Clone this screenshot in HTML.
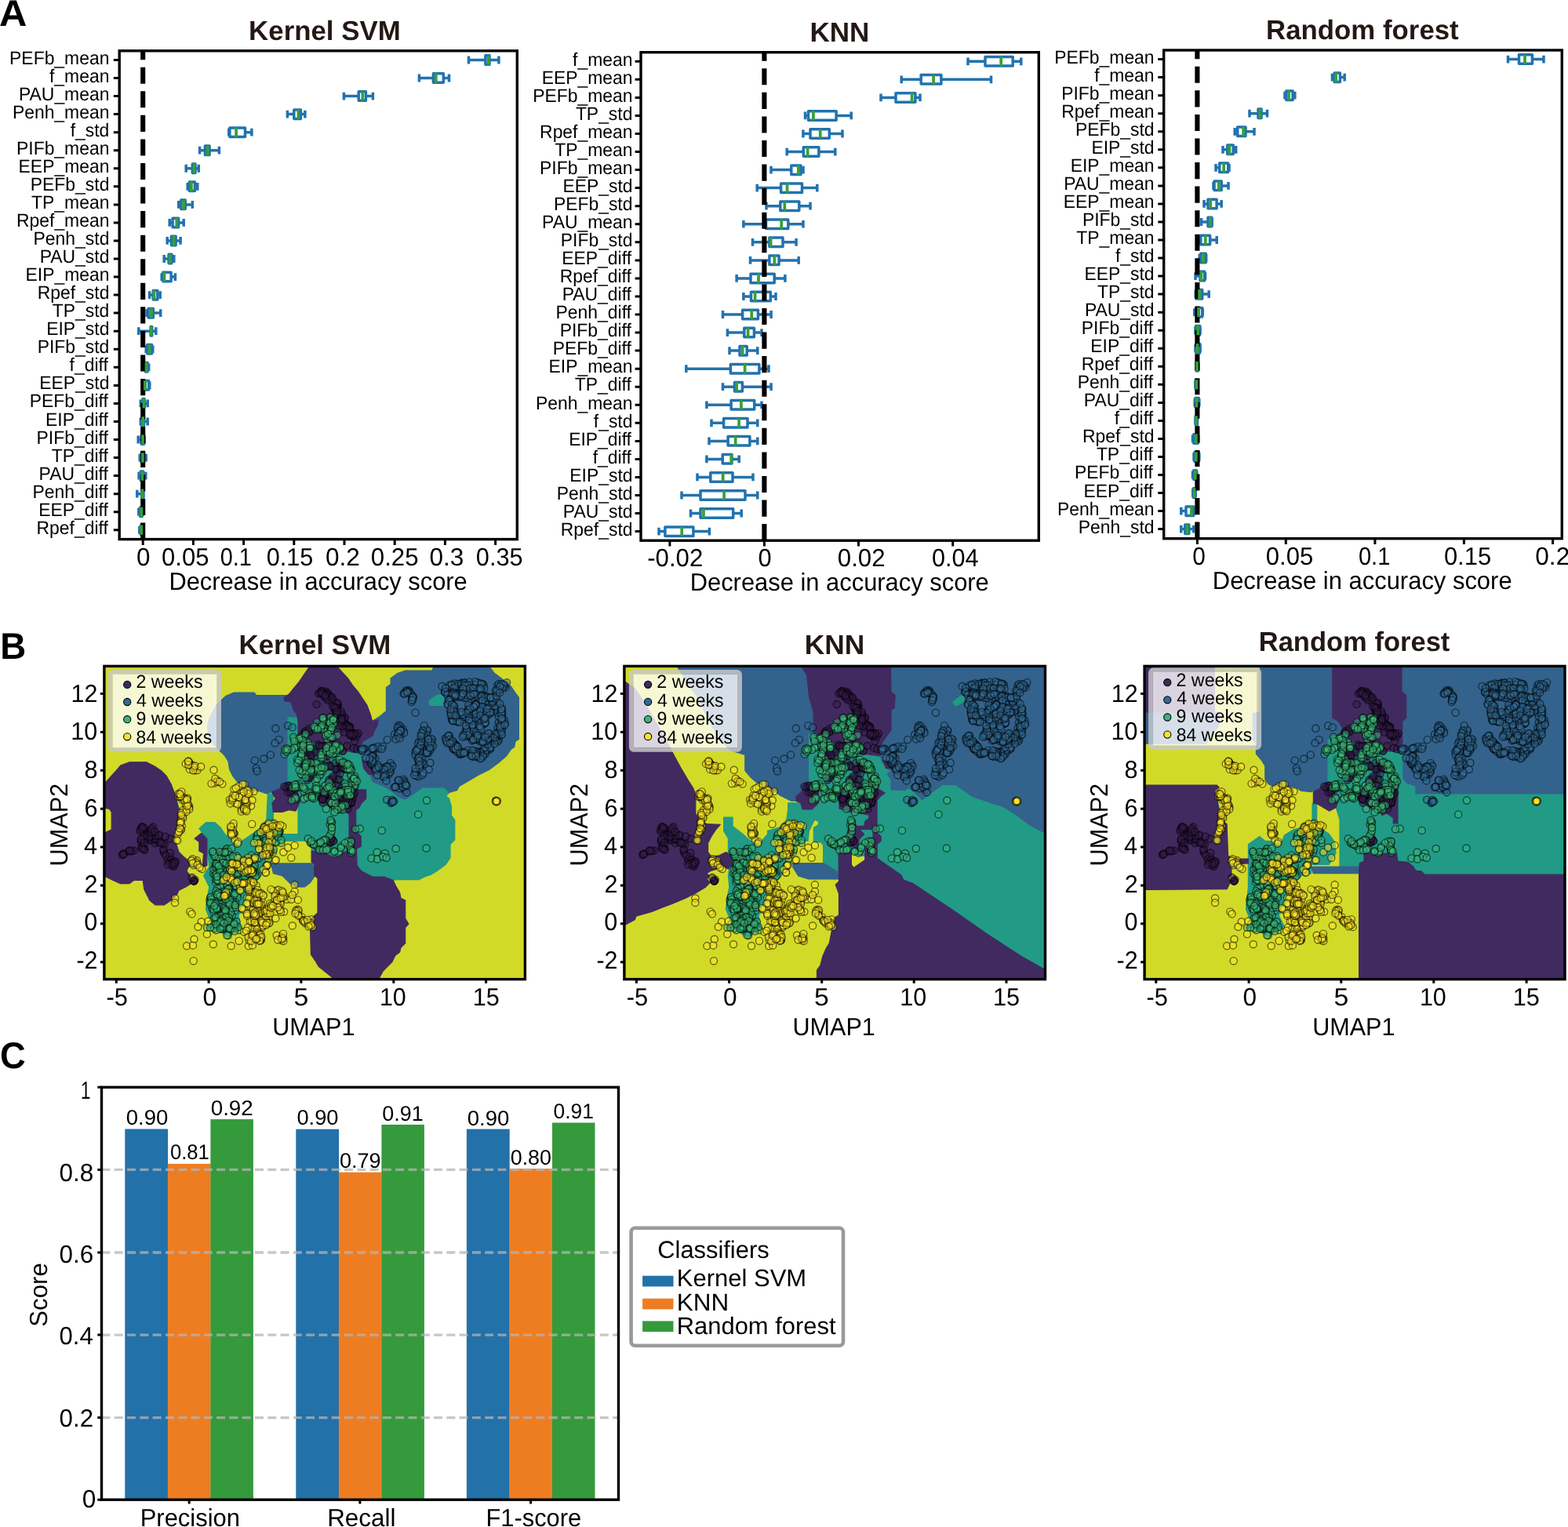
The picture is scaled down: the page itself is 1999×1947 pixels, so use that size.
<!DOCTYPE html>
<html lang="en"><head><meta charset="utf-8"><title>Figure</title>
<style>html,body{margin:0;padding:0;background:#fff}svg{display:block}text{font-family:"Liberation Sans",sans-serif;text-rendering:geometricPrecision}</style>
</head><body>
<svg xmlns="http://www.w3.org/2000/svg" width="1999" height="1947" viewBox="0 0 1999 1947">
<rect width="1999" height="1947" fill="#fff"/>
<g fill="none" stroke="#2272ae" stroke-width="3.5"><path d="M597.5 76.5H618.9M597.5 71.5V81.4M624 76.5H635.9M635.9 71.5V81.4"/><rect x="618.9" y="70.7" width="5.1" height="11.5" stroke-linejoin="round"/><path d="M534.4 99.5H552.4M534.4 94.6V104.4M565.2 99.5H572.5M572.5 94.6V104.4"/><rect x="552.4" y="93.8" width="12.9" height="11.5" stroke-linejoin="round"/><path d="M438.4 122.6H457.2M438.4 117.7V127.5M466.4 122.6H475.4M475.4 117.7V127.5"/><rect x="457.2" y="116.8" width="9.2" height="11.5" stroke-linejoin="round"/><path d="M366.4 145.6H374.8M366.4 140.7V150.5M383.4 145.6H388.9M388.9 140.7V150.5"/><rect x="374.8" y="139.9" width="8.6" height="11.5" stroke-linejoin="round"/><path d="M291.8 168.7H292.9M291.8 163.8V173.6M312.4 168.7H320.9M320.9 163.8V173.6"/><rect x="292.9" y="162.9" width="19.6" height="11.5" stroke-linejoin="round"/><path d="M254.6 191.7H261.4M254.6 186.8V196.6M267.1 191.7H279.4M279.4 186.8V196.6"/><rect x="261.4" y="185.9" width="5.7" height="11.5" stroke-linejoin="round"/><path d="M237.2 214.8H245.3M237.2 209.8V219.7M249.1 214.8H253.3M253.3 209.8V219.7"/><rect x="245.3" y="209" width="3.7" height="11.5" stroke-linejoin="round"/><path d="M239.2 237.8H241.4M239.2 232.9V242.7M248.4 237.8H251.8M251.8 232.9V242.7"/><rect x="241.4" y="232.1" width="7" height="11.5" stroke-linejoin="round"/><path d="M227.7 260.9H230.8M227.7 256V265.8M236.2 260.9H245.3M245.3 256V265.8"/><rect x="230.8" y="255.1" width="5.4" height="11.5" stroke-linejoin="round"/><path d="M216.2 283.9H220.1M216.2 279V288.8M227.6 283.9H234.2M234.2 279V288.8"/><rect x="220.1" y="278.2" width="7.5" height="11.5" stroke-linejoin="round"/><path d="M213.2 306.9H218.4M213.2 302.1V311.8M224.2 306.9H230.1M230.1 302.1V311.8"/><rect x="218.4" y="301.2" width="5.7" height="11.5" stroke-linejoin="round"/><path d="M209.2 330H215.1M209.2 325.1V334.9M218.8 330H221.8M221.8 325.1V334.9"/><rect x="215.1" y="324.2" width="3.8" height="11.5" stroke-linejoin="round"/><path d="M206.2 353.1H207.8M206.2 348.2V357.9M218.1 353.1H223.4M223.4 348.2V357.9"/><rect x="207.8" y="347.3" width="10.3" height="11.5" stroke-linejoin="round"/><path d="M190.6 376.1H195.2M190.6 371.2V381M200.8 376.1H204.2M204.2 371.2V381"/><rect x="195.2" y="370.4" width="5.7" height="11.5" stroke-linejoin="round"/><path d="M187.1 399.1H189.1M187.1 394.2V404M195.3 399.1H204.7M204.7 394.2V404"/><rect x="189.1" y="393.4" width="6.3" height="11.5" stroke-linejoin="round"/><path d="M176.8 422.2H192.1M176.8 417.3V427.1M193.8 422.2H198.8M198.8 417.3V427.1"/><rect x="192.1" y="416.4" width="1.7" height="11.5" stroke-linejoin="round"/><path d="M186.2 445.2H187.8M186.2 440.4V450.1M193.4 445.2H194.8M194.8 440.4V450.1"/><rect x="187.8" y="439.5" width="5.7" height="11.5" stroke-linejoin="round"/><path d="M184.8 468.3H185.4M184.8 463.4V473.2M188.2 468.3H189.7M189.7 463.4V473.2"/><rect x="185.4" y="462.6" width="2.7" height="11.5" stroke-linejoin="round"/><path d="M184.4 491.4H185.2M184.4 486.5V496.2M189.7 491.4H190.8M190.8 486.5V496.2"/><rect x="185.2" y="485.6" width="4.5" height="11.5" stroke-linejoin="round"/><path d="M179.3 514.4H181.9M179.3 509.5V519.3M184.2 514.4H188.2M188.2 509.5V519.3"/><rect x="181.9" y="508.6" width="2.3" height="11.5" stroke-linejoin="round"/><path d="M179.3 537.5H180.8M179.3 532.6V542.4M183.6 537.5H188.2M188.2 532.6V542.4"/><rect x="180.8" y="531.7" width="2.7" height="11.5" stroke-linejoin="round"/><path d="M176.2 560.5H180.2M176.2 555.6V565.4M183.6 560.5H184.2M184.2 555.6V565.4"/><rect x="180.2" y="554.8" width="3.4" height="11.5" stroke-linejoin="round"/><path d="M178.2 583.6H180.2M178.2 578.7V588.5M183.6 583.6H186.2M186.2 578.7V588.5"/><rect x="180.2" y="577.8" width="3.4" height="11.5" stroke-linejoin="round"/><path d="M177.1 606.6H179.3M177.1 601.7V611.5M182.8 606.6H185.8M185.8 601.7V611.5"/><rect x="179.3" y="600.9" width="3.4" height="11.5" stroke-linejoin="round"/><path d="M174.8 629.7H180.8M174.8 624.8V634.6M182.8 624.8V634.6"/><rect x="180.8" y="623.9" width="1.9" height="11.5" stroke-linejoin="round"/><path d="M176.8 652.7H178.6M176.8 647.8V657.6M181.2 652.7H181.9M181.9 647.8V657.6"/><rect x="178.6" y="647" width="2.7" height="11.5" stroke-linejoin="round"/><path d="M177.8 675.8H179.3M177.8 670.9V680.7M181.2 675.8H181.9M181.9 670.9V680.7"/><rect x="179.3" y="670" width="1.9" height="11.5" stroke-linejoin="round"/></g>
<path d="M182.2 687.6V64.8" stroke="#000" stroke-width="6.1" stroke-dasharray="21.1 9.47" fill="none"/>
<g fill="none" stroke="#35a037" stroke-width="3.7"><path d="M622.7 70.3V82.6"/><path d="M555.8 93.3V105.7"/><path d="M462.3 116.4V128.7"/><path d="M380.4 139.5V151.8"/><path d="M301.1 162.5V174.8"/><path d="M264.7 185.5V197.8"/><path d="M247.4 208.6V220.9"/><path d="M243.9 231.7V244"/><path d="M234.1 254.7V267"/><path d="M225.2 277.8V290.1"/><path d="M221.6 300.8V313.1"/><path d="M216.7 323.9V336.1"/><path d="M209.5 346.9V359.2"/><path d="M196.5 370V382.2"/><path d="M192.9 393V405.3"/><path d="M192.6 416.1V428.3"/><path d="M190.6 439.1V451.4"/><path d="M186.5 462.2V474.4"/><path d="M184.8 485.2V497.5"/><path d="M183.4 508.2V520.5"/><path d="M182.2 531.3V543.6"/><path d="M181.9 554.4V566.6"/><path d="M181.9 577.4V589.7"/><path d="M181.4 600.5V612.8"/><path d="M181.4 623.5V635.8"/><path d="M180.4 646.6V658.9"/><path d="M180.2 669.6V681.9"/></g>
<rect x="152.2" y="64.8" width="507.1" height="622.8" fill="none" stroke="#000" stroke-width="3.4"/>
<path d="M144.8 76.5H152.2M144.8 99.5H152.2M144.8 122.6H152.2M144.8 145.6H152.2M144.8 168.7H152.2M144.8 191.7H152.2M144.8 214.8H152.2M144.8 237.8H152.2M144.8 260.9H152.2M144.8 283.9H152.2M144.8 306.9H152.2M144.8 330H152.2M144.8 353.1H152.2M144.8 376.1H152.2M144.8 399.1H152.2M144.8 422.2H152.2M144.8 445.2H152.2M144.8 468.3H152.2M144.8 491.4H152.2M144.8 514.4H152.2M144.8 537.5H152.2M144.8 560.5H152.2M144.8 583.6H152.2M144.8 606.6H152.2M144.8 629.7H152.2M144.8 652.7H152.2M144.8 675.8H152.2M182.2 687.6V695M246.4 687.6V695M310.6 687.6V695M374.8 687.6V695M439 687.6V695M503.2 687.6V695M567.4 687.6V695M631.6 687.6V695" stroke="#000" stroke-width="3.0" fill="none"/>
<text x="12.1" y="81.5" font-size="23.82" textLength="127.3" lengthAdjust="spacingAndGlyphs" fill="#000">PEFb_mean</text><text x="63" y="104.5" font-size="23.82" textLength="76.4" lengthAdjust="spacingAndGlyphs" fill="#000">f_mean</text><text x="24" y="127.6" font-size="23.82" textLength="115.4" lengthAdjust="spacingAndGlyphs" fill="#000">PAU_mean</text><text x="15.9" y="150.6" font-size="23.82" textLength="123.5" lengthAdjust="spacingAndGlyphs" fill="#000">Penh_mean</text><text x="89.7" y="173.7" font-size="23.82" textLength="49.6" lengthAdjust="spacingAndGlyphs" fill="#000">f_std</text><text x="21" y="196.7" font-size="23.82" textLength="118.4" lengthAdjust="spacingAndGlyphs" fill="#000">PIFb_mean</text><text x="23.6" y="219.8" font-size="23.82" textLength="115.8" lengthAdjust="spacingAndGlyphs" fill="#000">EEP_mean</text><text x="38.8" y="242.8" font-size="23.82" textLength="100.6" lengthAdjust="spacingAndGlyphs" fill="#000">PEFb_std</text><text x="40.1" y="265.9" font-size="23.82" textLength="99.3" lengthAdjust="spacingAndGlyphs" fill="#000">TP_mean</text><text x="21" y="288.9" font-size="23.82" textLength="118.4" lengthAdjust="spacingAndGlyphs" fill="#000">Rpef_mean</text><text x="42.6" y="311.9" font-size="23.82" textLength="96.8" lengthAdjust="spacingAndGlyphs" fill="#000">Penh_std</text><text x="50.7" y="335" font-size="23.82" textLength="88.7" lengthAdjust="spacingAndGlyphs" fill="#000">PAU_std</text><text x="32.5" y="358.1" font-size="23.82" textLength="106.9" lengthAdjust="spacingAndGlyphs" fill="#000">EIP_mean</text><text x="47.7" y="381.1" font-size="23.82" textLength="91.7" lengthAdjust="spacingAndGlyphs" fill="#000">Rpef_std</text><text x="66.8" y="404.1" font-size="23.82" textLength="72.5" lengthAdjust="spacingAndGlyphs" fill="#000">TP_std</text><text x="59.2" y="427.2" font-size="23.82" textLength="80.2" lengthAdjust="spacingAndGlyphs" fill="#000">EIP_std</text><text x="47.7" y="450.2" font-size="23.82" textLength="91.6" lengthAdjust="spacingAndGlyphs" fill="#000">PIFb_std</text><text x="88.6" y="473.3" font-size="23.82" textLength="49.2" lengthAdjust="spacingAndGlyphs" fill="#000">f_diff</text><text x="50.3" y="496.4" font-size="23.82" textLength="89.1" lengthAdjust="spacingAndGlyphs" fill="#000">EEP_std</text><text x="37.7" y="519.4" font-size="23.82" textLength="100.1" lengthAdjust="spacingAndGlyphs" fill="#000">PEFb_diff</text><text x="58.1" y="542.5" font-size="23.82" textLength="79.8" lengthAdjust="spacingAndGlyphs" fill="#000">EIP_diff</text><text x="46.6" y="565.5" font-size="23.82" textLength="91.2" lengthAdjust="spacingAndGlyphs" fill="#000">PIFb_diff</text><text x="65.7" y="588.6" font-size="23.82" textLength="72.1" lengthAdjust="spacingAndGlyphs" fill="#000">TP_diff</text><text x="49.6" y="611.6" font-size="23.82" textLength="88.3" lengthAdjust="spacingAndGlyphs" fill="#000">PAU_diff</text><text x="41.5" y="634.7" font-size="23.82" textLength="96.4" lengthAdjust="spacingAndGlyphs" fill="#000">Penh_diff</text><text x="49.2" y="657.7" font-size="23.82" textLength="88.7" lengthAdjust="spacingAndGlyphs" fill="#000">EEP_diff</text><text x="46.6" y="680.8" font-size="23.82" textLength="91.2" lengthAdjust="spacingAndGlyphs" fill="#000">Rpef_diff</text>
<text x="174.1" y="721" font-size="31.72" textLength="17.5" lengthAdjust="spacingAndGlyphs" fill="#000">0</text>
<text x="206" y="721" font-size="31.72" textLength="60.4" lengthAdjust="spacingAndGlyphs" fill="#000">0.05</text>
<text x="280.8" y="721" font-size="31.72" textLength="40.1" lengthAdjust="spacingAndGlyphs" fill="#000">0.1</text>
<text x="339.8" y="721" font-size="31.72" textLength="59.6" lengthAdjust="spacingAndGlyphs" fill="#000">0.15</text>
<text x="414.9" y="721" font-size="31.72" textLength="43.9" lengthAdjust="spacingAndGlyphs" fill="#000">0.2</text>
<text x="472.8" y="721" font-size="31.72" textLength="60.8" lengthAdjust="spacingAndGlyphs" fill="#000">0.25</text>
<text x="547.5" y="721" font-size="31.72" textLength="43.9" lengthAdjust="spacingAndGlyphs" fill="#000">0.3</text>
<text x="606.8" y="721" font-size="31.72" textLength="59.8" lengthAdjust="spacingAndGlyphs" fill="#000">0.35</text>
<text x="215.4" y="751.6" font-size="31.72" textLength="380.3" lengthAdjust="spacingAndGlyphs" fill="#000">Decrease in accuracy score</text>
<text x="317.1" y="51.2" font-size="34.84" font-weight="bold" textLength="193.6" lengthAdjust="spacingAndGlyphs" fill="#231815">Kernel SVM</text>
<g fill="none" stroke="#2272ae" stroke-width="3.5"><path d="M1234 78.3H1256M1234 73.4V83.2M1291.2 78.3H1301.8M1301.8 73.4V83.2"/><rect x="1256" y="72.5" width="35.2" height="11.5" stroke-linejoin="round"/><path d="M1149.2 101.3H1174.2M1149.2 96.4V106.2M1200 101.3H1263.5M1263.5 96.4V106.2"/><rect x="1174.2" y="95.6" width="25.7" height="11.5" stroke-linejoin="round"/><path d="M1123 124.4H1142M1123 119.5V129.3M1167 124.4H1173M1173 119.5V129.3"/><rect x="1142" y="118.7" width="24.9" height="11.5" stroke-linejoin="round"/><path d="M1026.5 147.4H1030.5M1026.5 142.5V152.3M1066 147.4H1085.2M1085.2 142.5V152.3"/><rect x="1030.5" y="141.7" width="35.6" height="11.5" stroke-linejoin="round"/><path d="M1023.9 170.5H1033M1023.9 165.6V175.4M1057.3 170.5H1074M1074 165.6V175.4"/><rect x="1033" y="164.8" width="24.3" height="11.5" stroke-linejoin="round"/><path d="M1003.2 193.6H1024.3M1003.2 188.7V198.5M1044 193.6H1064.8M1064.8 188.7V198.5"/><rect x="1024.3" y="187.8" width="19.6" height="11.5" stroke-linejoin="round"/><path d="M983 216.6H1008.8M983 211.7V221.5M1020.9 216.6H1024M1024 211.7V221.5"/><rect x="1008.8" y="210.9" width="12.1" height="11.5" stroke-linejoin="round"/><path d="M965.2 239.6H995.6M965.2 234.7V244.5M1022.5 239.6H1041.8M1041.8 234.7V244.5"/><rect x="995.6" y="233.9" width="26.9" height="11.5" stroke-linejoin="round"/><path d="M977 262.7H994.8M977 257.8V267.6M1018.8 262.7H1033M1033 257.8V267.6"/><rect x="994.8" y="256.9" width="24" height="11.5" stroke-linejoin="round"/><path d="M947.9 285.8H976.5M947.9 280.9V290.6M1004.9 285.8H1024M1024 280.9V290.6"/><rect x="976.5" y="280" width="28.3" height="11.5" stroke-linejoin="round"/><path d="M959.5 308.8H980.9M959.5 303.9V313.7M998 308.8H1015.1M1015.1 303.9V313.7"/><rect x="980.9" y="303.1" width="17.1" height="11.5" stroke-linejoin="round"/><path d="M956.5 331.9H980.9M956.5 327V336.8M993 331.9H1018.2M1018.2 327V336.8"/><rect x="980.9" y="326.1" width="12.2" height="11.5" stroke-linejoin="round"/><path d="M939.1 354.9H957M939.1 350V359.8M987.2 354.9H1000.9M1000.9 350V359.8"/><rect x="957" y="349.2" width="30.2" height="11.5" stroke-linejoin="round"/><path d="M947.9 378H957.5M947.9 373.1V382.9M982.2 378H989M989 373.1V382.9"/><rect x="957.5" y="372.2" width="24.8" height="11.5" stroke-linejoin="round"/><path d="M921.5 401H946.6M921.5 396.1V405.9M966.5 401H983.1M983.1 396.1V405.9"/><rect x="946.6" y="395.2" width="19.8" height="11.5" stroke-linejoin="round"/><path d="M927.4 424.1H948.8M927.4 419.2V428.9M961.4 424.1H971M971 419.2V428.9"/><rect x="948.8" y="418.3" width="12.6" height="11.5" stroke-linejoin="round"/><path d="M930 447.1H943M930 442.2V452M952.1 447.1H965.8M965.8 442.2V452"/><rect x="943" y="441.4" width="9.2" height="11.5" stroke-linejoin="round"/><path d="M874.8 470.2H931.4M874.8 465.3V475.1M967.9 470.2H980M980 465.3V475.1"/><rect x="931.4" y="464.4" width="36.5" height="11.5" stroke-linejoin="round"/><path d="M921.5 493.2H936.5M921.5 488.3V498.1M946.5 493.2H983.1M983.1 488.3V498.1"/><rect x="936.5" y="487.5" width="9.9" height="11.5" stroke-linejoin="round"/><path d="M900.9 516.2H932.1M900.9 511.4V521.1M961.8 516.2H971M971 511.4V521.1"/><rect x="932.1" y="510.5" width="29.6" height="11.5" stroke-linejoin="round"/><path d="M907 539.3H922.6M907 534.4V544.2M953 539.3H965.8M965.8 534.4V544.2"/><rect x="922.6" y="533.5" width="30.4" height="11.5" stroke-linejoin="round"/><path d="M904 562.4H928.1M904 557.5V567.2M956 562.4H965.8M965.8 557.5V567.2"/><rect x="928.1" y="556.6" width="27.8" height="11.5" stroke-linejoin="round"/><path d="M900.9 585.4H921.2M900.9 580.5V590.3M933 585.4H942.2M942.2 580.5V590.3"/><rect x="921.2" y="579.6" width="11.8" height="11.5" stroke-linejoin="round"/><path d="M889 608.4H905.8M889 603.5V613.3M934 608.4H960M960 603.5V613.3"/><rect x="905.8" y="602.7" width="28.2" height="11.5" stroke-linejoin="round"/><path d="M869 631.5H893M869 626.6V636.4M950 631.5H965.8M965.8 626.6V636.4"/><rect x="893" y="625.8" width="57" height="11.5" stroke-linejoin="round"/><path d="M880.5 654.5H893M880.5 649.6V659.4M934.8 654.5H945.2M945.2 649.6V659.4"/><rect x="893" y="648.8" width="41.7" height="11.5" stroke-linejoin="round"/><path d="M840 677.6H847.9M840 672.7V682.5M883.9 677.6H904.4M904.4 672.7V682.5"/><rect x="847.9" y="671.9" width="36" height="11.5" stroke-linejoin="round"/></g>
<path d="M974.4 689.2V66.7" stroke="#000" stroke-width="6.1" stroke-dasharray="21.1 9.47" fill="none"/>
<g fill="none" stroke="#35a037" stroke-width="3.7"><path d="M1276.2 72.1V84.5"/><path d="M1190.1 95.2V107.5"/><path d="M1162.6 118.2V130.6"/><path d="M1036.9 141.3V153.6"/><path d="M1045.7 164.3V176.7"/><path d="M1029.7 187.4V199.7"/><path d="M1017.9 210.5V222.8"/><path d="M1003.5 233.5V245.8"/><path d="M1000.3 256.6V268.8"/><path d="M996.2 279.6V291.9"/><path d="M982.6 302.7V314.9"/><path d="M987.3 325.7V338"/><path d="M967 348.8V361.1"/><path d="M962.6 371.8V384.1"/><path d="M958.3 394.9V407.1"/><path d="M953.6 417.9V430.2"/><path d="M946.6 441V453.2"/><path d="M949.6 464V476.3"/><path d="M939.1 487.1V499.4"/><path d="M944.9 510.1V522.4"/><path d="M942.1 533.1V545.4"/><path d="M937.7 556.2V568.5"/><path d="M932.2 579.2V591.5"/><path d="M921.7 602.3V614.6"/><path d="M923.1 625.4V637.6"/><path d="M897 648.4V660.7"/><path d="M869.2 671.5V683.8"/></g>
<rect x="817" y="66.7" width="507.3" height="622.5" fill="none" stroke="#000" stroke-width="3.4"/>
<path d="M809.6 78.3H817M809.6 101.3H817M809.6 124.4H817M809.6 147.4H817M809.6 170.5H817M809.6 193.6H817M809.6 216.6H817M809.6 239.6H817M809.6 262.7H817M809.6 285.8H817M809.6 308.8H817M809.6 331.9H817M809.6 354.9H817M809.6 378H817M809.6 401H817M809.6 424.1H817M809.6 447.1H817M809.6 470.2H817M809.6 493.2H817M809.6 516.2H817M809.6 539.3H817M809.6 562.4H817M809.6 585.4H817M809.6 608.4H817M809.6 631.5H817M809.6 654.5H817M809.6 677.6H817M853.9 689.2V696.6M974.4 689.2V696.6M1094.5 689.2V696.6M1214.7 689.2V696.6" stroke="#000" stroke-width="3.0" fill="none"/>
<text x="730.1" y="83.5" font-size="23.82" textLength="76.4" lengthAdjust="spacingAndGlyphs" fill="#000">f_mean</text><text x="690.7" y="106.5" font-size="23.82" textLength="115.8" lengthAdjust="spacingAndGlyphs" fill="#000">EEP_mean</text><text x="679.2" y="129.6" font-size="23.82" textLength="127.3" lengthAdjust="spacingAndGlyphs" fill="#000">PEFb_mean</text><text x="733.9" y="152.6" font-size="23.82" textLength="72.5" lengthAdjust="spacingAndGlyphs" fill="#000">TP_std</text><text x="688.1" y="175.7" font-size="23.82" textLength="118.4" lengthAdjust="spacingAndGlyphs" fill="#000">Rpef_mean</text><text x="707.2" y="198.8" font-size="23.82" textLength="99.3" lengthAdjust="spacingAndGlyphs" fill="#000">TP_mean</text><text x="688.1" y="221.8" font-size="23.82" textLength="118.4" lengthAdjust="spacingAndGlyphs" fill="#000">PIFb_mean</text><text x="717.4" y="244.8" font-size="23.82" textLength="89.1" lengthAdjust="spacingAndGlyphs" fill="#000">EEP_std</text><text x="705.9" y="267.9" font-size="23.82" textLength="100.6" lengthAdjust="spacingAndGlyphs" fill="#000">PEFb_std</text><text x="691.1" y="290.9" font-size="23.82" textLength="115.4" lengthAdjust="spacingAndGlyphs" fill="#000">PAU_mean</text><text x="714.8" y="314" font-size="23.82" textLength="91.6" lengthAdjust="spacingAndGlyphs" fill="#000">PIFb_std</text><text x="716.3" y="337.1" font-size="23.82" textLength="88.7" lengthAdjust="spacingAndGlyphs" fill="#000">EEP_diff</text><text x="713.7" y="360.1" font-size="23.82" textLength="91.2" lengthAdjust="spacingAndGlyphs" fill="#000">Rpef_diff</text><text x="716.7" y="383.2" font-size="23.82" textLength="88.3" lengthAdjust="spacingAndGlyphs" fill="#000">PAU_diff</text><text x="708.6" y="406.2" font-size="23.82" textLength="96.4" lengthAdjust="spacingAndGlyphs" fill="#000">Penh_diff</text><text x="713.7" y="429.2" font-size="23.82" textLength="91.2" lengthAdjust="spacingAndGlyphs" fill="#000">PIFb_diff</text><text x="704.8" y="452.3" font-size="23.82" textLength="100.1" lengthAdjust="spacingAndGlyphs" fill="#000">PEFb_diff</text><text x="699.6" y="475.4" font-size="23.82" textLength="106.9" lengthAdjust="spacingAndGlyphs" fill="#000">EIP_mean</text><text x="732.8" y="498.4" font-size="23.82" textLength="72.1" lengthAdjust="spacingAndGlyphs" fill="#000">TP_diff</text><text x="683" y="521.5" font-size="23.82" textLength="123.5" lengthAdjust="spacingAndGlyphs" fill="#000">Penh_mean</text><text x="756.8" y="544.5" font-size="23.82" textLength="49.6" lengthAdjust="spacingAndGlyphs" fill="#000">f_std</text><text x="725.2" y="567.6" font-size="23.82" textLength="79.8" lengthAdjust="spacingAndGlyphs" fill="#000">EIP_diff</text><text x="755.7" y="590.6" font-size="23.82" textLength="49.2" lengthAdjust="spacingAndGlyphs" fill="#000">f_diff</text><text x="726.3" y="613.6" font-size="23.82" textLength="80.2" lengthAdjust="spacingAndGlyphs" fill="#000">EIP_std</text><text x="709.7" y="636.7" font-size="23.82" textLength="96.8" lengthAdjust="spacingAndGlyphs" fill="#000">Penh_std</text><text x="717.8" y="659.8" font-size="23.82" textLength="88.7" lengthAdjust="spacingAndGlyphs" fill="#000">PAU_std</text><text x="714.8" y="682.8" font-size="23.82" textLength="91.7" lengthAdjust="spacingAndGlyphs" fill="#000">Rpef_std</text>
<text x="825.2" y="721.7" font-size="31.72" textLength="71.1" lengthAdjust="spacingAndGlyphs" fill="#000">-0.02</text>
<text x="966.6" y="721.7" font-size="31.72" textLength="17.2" lengthAdjust="spacingAndGlyphs" fill="#000">0</text>
<text x="1067.8" y="721.7" font-size="31.72" textLength="60.8" lengthAdjust="spacingAndGlyphs" fill="#000">0.02</text>
<text x="1187.9" y="721.7" font-size="31.72" textLength="59.6" lengthAdjust="spacingAndGlyphs" fill="#000">0.04</text>
<text x="879.7" y="753.4" font-size="31.72" textLength="381.1" lengthAdjust="spacingAndGlyphs" fill="#000">Decrease in accuracy score</text>
<text x="1032.4" y="53" font-size="34.84" font-weight="bold" textLength="76" lengthAdjust="spacingAndGlyphs" fill="#231815">KNN</text>
<g fill="none" stroke="#2272ae" stroke-width="3.5"><path d="M1922.5 75.6H1936.5M1922.5 70.7V80.5M1953.5 75.6H1968M1968 70.7V80.5"/><rect x="1936.5" y="69.8" width="16.9" height="11.5" stroke-linejoin="round"/><path d="M1698.5 98.6H1701.2M1698.5 93.7V103.5M1708.3 98.6H1714.2M1714.2 93.7V103.5"/><rect x="1701.2" y="92.9" width="7.2" height="11.5" stroke-linejoin="round"/><path d="M1638 121.7H1639.8M1638 116.8V126.6M1648 121.7H1650.8M1650.8 116.8V126.6"/><rect x="1639.8" y="115.9" width="8.3" height="11.5" stroke-linejoin="round"/><path d="M1593 144.7H1604M1593 139.8V149.6M1608.2 144.7H1615.5M1615.5 139.8V149.6"/><rect x="1604" y="139" width="4.1" height="11.5" stroke-linejoin="round"/><path d="M1574.2 167.8H1577.7M1574.2 162.9V172.7M1588 167.8H1599M1599 162.9V172.7"/><rect x="1577.7" y="162" width="10.3" height="11.5" stroke-linejoin="round"/><path d="M1559 190.8H1564.8M1559 185.9V195.7M1572.2 190.8H1575.7M1575.7 185.9V195.7"/><rect x="1564.8" y="185" width="7.4" height="11.5" stroke-linejoin="round"/><path d="M1550 213.8H1554.7M1550 208.9V218.7M1565.7 213.8H1567M1567 208.9V218.7"/><rect x="1554.7" y="208.1" width="11" height="11.5" stroke-linejoin="round"/><path d="M1547 236.9H1548M1547 232V241.8M1557.2 236.9H1566M1566 232V241.8"/><rect x="1548" y="231.1" width="9.2" height="11.5" stroke-linejoin="round"/><path d="M1535 259.9H1540M1535 255V264.8M1551.2 259.9H1557.2M1557.2 255V264.8"/><rect x="1540" y="254.2" width="11.1" height="11.5" stroke-linejoin="round"/><path d="M1531.5 283H1540M1531.5 278.1V287.9M1545 278.1V287.9"/><rect x="1540" y="277.2" width="4.9" height="11.5" stroke-linejoin="round"/><path d="M1530 306H1530.8M1530 301.1V310.9M1542.7 306H1551.2M1551.2 301.1V310.9"/><rect x="1530.8" y="300.2" width="11.8" height="11.5" stroke-linejoin="round"/><path d="M1529.2 329H1530.8M1529.2 324.1V333.9M1537.2 329H1537.7M1537.7 324.1V333.9"/><rect x="1530.8" y="323.3" width="6.4" height="11.5" stroke-linejoin="round"/><path d="M1524 352.1H1530M1524 347.2V357M1535.8 352.1H1536.5M1536.5 347.2V357"/><rect x="1530" y="346.3" width="5.7" height="11.5" stroke-linejoin="round"/><path d="M1524.2 375.1H1524.8M1524.2 370.2V380M1532.7 375.1H1541.2M1541.2 370.2V380"/><rect x="1524.8" y="369.4" width="7.9" height="11.5" stroke-linejoin="round"/><path d="M1522.8 398.2H1524.8M1522.8 393.3V403.1M1532.7 398.2H1533.2M1533.2 393.3V403.1"/><rect x="1524.8" y="392.4" width="7.9" height="11.5" stroke-linejoin="round"/><path d="M1524 421.2H1524.7M1524 416.3V426.1M1529.7 421.2H1530M1530 416.3V426.1"/><rect x="1524.7" y="415.4" width="5" height="11.5" stroke-linejoin="round"/><path d="M1524 444.2H1524.7M1524 439.3V449.1M1529.7 444.2H1530M1530 439.3V449.1"/><rect x="1524.7" y="438.5" width="5" height="11.5" stroke-linejoin="round"/><path d="M1525 467.3H1525.2M1525 462.4V472.2M1527.5 467.3H1527.8M1527.8 462.4V472.2"/><rect x="1525.2" y="461.5" width="2.2" height="11.5" stroke-linejoin="round"/><path d="M1524 490.3H1524.2M1524 485.4V495.2M1526.2 490.3H1526.5M1526.5 485.4V495.2"/><rect x="1524.2" y="484.6" width="2" height="11.5" stroke-linejoin="round"/><path d="M1523.2 513.4H1523.8M1523.2 508.5V518.3M1528.2 513.4H1528.8M1528.8 508.5V518.3"/><rect x="1523.8" y="507.6" width="4.5" height="11.5" stroke-linejoin="round"/><path d="M1524 536.4H1524.2M1524 531.5V541.3M1526.2 536.4H1526.5M1526.5 531.5V541.3"/><rect x="1524.2" y="530.6" width="2" height="11.5" stroke-linejoin="round"/><path d="M1520.5 559.4H1521.8M1520.5 554.5V564.3M1527.2 559.4H1527.8M1527.8 554.5V564.3"/><rect x="1521.8" y="553.7" width="5.5" height="11.5" stroke-linejoin="round"/><path d="M1522 582.5H1522.8M1522 577.6V587.4M1528.2 582.5H1528.8M1528.8 577.6V587.4"/><rect x="1522.8" y="576.7" width="5.5" height="11.5" stroke-linejoin="round"/><path d="M1520.5 605.5H1521.8M1520.5 600.6V610.4M1525.2 605.5H1525.8M1525.8 600.6V610.4"/><rect x="1521.8" y="599.8" width="3.5" height="11.5" stroke-linejoin="round"/><path d="M1520.8 628.6H1521.2M1520.8 623.7V633.5M1523.8 628.6H1524.2M1524.2 623.7V633.5"/><rect x="1521.2" y="622.8" width="2.5" height="11.5" stroke-linejoin="round"/><path d="M1505.8 651.6H1512M1505.8 646.7V656.5M1521.7 651.6H1522M1522 646.7V656.5"/><rect x="1512" y="645.9" width="9.7" height="11.5" stroke-linejoin="round"/><path d="M1505.8 674.6H1510.8M1505.8 669.7V679.5M1515.8 674.6H1521.7M1521.7 669.7V679.5"/><rect x="1510.8" y="668.9" width="5" height="11.5" stroke-linejoin="round"/></g>
<path d="M1526.4 686.7V64" stroke="#000" stroke-width="6.1" stroke-dasharray="21.1 9.47" fill="none"/>
<g fill="none" stroke="#35a037" stroke-width="3.7"><path d="M1944 69.4V81.8"/><path d="M1703.2 92.5V104.8"/><path d="M1643.1 115.5V127.8"/><path d="M1606.3 138.6V150.9"/><path d="M1585.1 161.6V173.9"/><path d="M1567.4 184.6V196.9"/><path d="M1560.2 207.7V220"/><path d="M1553.9 230.7V243"/><path d="M1543.3 253.8V266.1"/><path d="M1542.9 276.8V289.1"/><path d="M1536.7 299.9V312.1"/><path d="M1534.1 322.9V335.2"/><path d="M1531.4 345.9V358.2"/><path d="M1529.1 369V381.3"/><path d="M1528 392V404.3"/><path d="M1527.2 415V427.3"/><path d="M1526.5 438.1V450.4"/><path d="M1526 461.1V473.4"/><path d="M1525.2 484.2V496.5"/><path d="M1525.5 507.2V519.5"/><path d="M1524.9 530.2V542.5"/><path d="M1524.9 553.3V565.6"/><path d="M1524.9 576.3V588.6"/><path d="M1523.8 599.4V611.7"/><path d="M1522.5 622.4V634.7"/><path d="M1518.8 645.5V657.8"/><path d="M1513.4 668.5V680.8"/></g>
<rect x="1483.7" y="64" width="507.6" height="622.7" fill="none" stroke="#000" stroke-width="3.4"/>
<path d="M1476.3 75.6H1483.7M1476.3 98.6H1483.7M1476.3 121.7H1483.7M1476.3 144.7H1483.7M1476.3 167.8H1483.7M1476.3 190.8H1483.7M1476.3 213.8H1483.7M1476.3 236.9H1483.7M1476.3 259.9H1483.7M1476.3 283H1483.7M1476.3 306H1483.7M1476.3 329H1483.7M1476.3 352.1H1483.7M1476.3 375.1H1483.7M1476.3 398.2H1483.7M1476.3 421.2H1483.7M1476.3 444.2H1483.7M1476.3 467.3H1483.7M1476.3 490.3H1483.7M1476.3 513.4H1483.7M1476.3 536.4H1483.7M1476.3 559.4H1483.7M1476.3 582.5H1483.7M1476.3 605.5H1483.7M1476.3 628.6H1483.7M1476.3 651.6H1483.7M1476.3 674.6H1483.7M1526.4 686.7V694.1M1639.3 686.7V694.1M1752.9 686.7V694.1M1866.4 686.7V694.1M1979.6 686.7V694.1" stroke="#000" stroke-width="3.0" fill="none"/>
<text x="1344.3" y="80.5" font-size="23.82" textLength="127.3" lengthAdjust="spacingAndGlyphs" fill="#000">PEFb_mean</text><text x="1395.2" y="103.5" font-size="23.82" textLength="76.4" lengthAdjust="spacingAndGlyphs" fill="#000">f_mean</text><text x="1353.2" y="126.6" font-size="23.82" textLength="118.4" lengthAdjust="spacingAndGlyphs" fill="#000">PIFb_mean</text><text x="1353.2" y="149.6" font-size="23.82" textLength="118.4" lengthAdjust="spacingAndGlyphs" fill="#000">Rpef_mean</text><text x="1371" y="172.7" font-size="23.82" textLength="100.6" lengthAdjust="spacingAndGlyphs" fill="#000">PEFb_std</text><text x="1391.4" y="195.7" font-size="23.82" textLength="80.2" lengthAdjust="spacingAndGlyphs" fill="#000">EIP_std</text><text x="1364.7" y="218.7" font-size="23.82" textLength="106.9" lengthAdjust="spacingAndGlyphs" fill="#000">EIP_mean</text><text x="1356.2" y="241.8" font-size="23.82" textLength="115.4" lengthAdjust="spacingAndGlyphs" fill="#000">PAU_mean</text><text x="1355.8" y="264.8" font-size="23.82" textLength="115.8" lengthAdjust="spacingAndGlyphs" fill="#000">EEP_mean</text><text x="1379.9" y="287.9" font-size="23.82" textLength="91.6" lengthAdjust="spacingAndGlyphs" fill="#000">PIFb_std</text><text x="1372.3" y="310.9" font-size="23.82" textLength="99.3" lengthAdjust="spacingAndGlyphs" fill="#000">TP_mean</text><text x="1421.9" y="333.9" font-size="23.82" textLength="49.6" lengthAdjust="spacingAndGlyphs" fill="#000">f_std</text><text x="1382.5" y="357" font-size="23.82" textLength="89.1" lengthAdjust="spacingAndGlyphs" fill="#000">EEP_std</text><text x="1399" y="380" font-size="23.82" textLength="72.5" lengthAdjust="spacingAndGlyphs" fill="#000">TP_std</text><text x="1382.9" y="403.1" font-size="23.82" textLength="88.7" lengthAdjust="spacingAndGlyphs" fill="#000">PAU_std</text><text x="1378.8" y="426.1" font-size="23.82" textLength="91.2" lengthAdjust="spacingAndGlyphs" fill="#000">PIFb_diff</text><text x="1390.3" y="449.1" font-size="23.82" textLength="79.8" lengthAdjust="spacingAndGlyphs" fill="#000">EIP_diff</text><text x="1378.8" y="472.2" font-size="23.82" textLength="91.2" lengthAdjust="spacingAndGlyphs" fill="#000">Rpef_diff</text><text x="1373.7" y="495.2" font-size="23.82" textLength="96.4" lengthAdjust="spacingAndGlyphs" fill="#000">Penh_diff</text><text x="1381.8" y="518.3" font-size="23.82" textLength="88.3" lengthAdjust="spacingAndGlyphs" fill="#000">PAU_diff</text><text x="1420.8" y="541.3" font-size="23.82" textLength="49.2" lengthAdjust="spacingAndGlyphs" fill="#000">f_diff</text><text x="1379.9" y="564.3" font-size="23.82" textLength="91.7" lengthAdjust="spacingAndGlyphs" fill="#000">Rpef_std</text><text x="1397.9" y="587.4" font-size="23.82" textLength="72.1" lengthAdjust="spacingAndGlyphs" fill="#000">TP_diff</text><text x="1369.9" y="610.4" font-size="23.82" textLength="100.1" lengthAdjust="spacingAndGlyphs" fill="#000">PEFb_diff</text><text x="1381.4" y="633.5" font-size="23.82" textLength="88.7" lengthAdjust="spacingAndGlyphs" fill="#000">EEP_diff</text><text x="1348.1" y="656.5" font-size="23.82" textLength="123.5" lengthAdjust="spacingAndGlyphs" fill="#000">Penh_mean</text><text x="1374.8" y="679.5" font-size="23.82" textLength="96.8" lengthAdjust="spacingAndGlyphs" fill="#000">Penh_std</text>
<text x="1520.2" y="720.2" font-size="31.72" textLength="16.6" lengthAdjust="spacingAndGlyphs" fill="#000">0</text>
<text x="1613.8" y="720.2" font-size="31.72" textLength="60.5" lengthAdjust="spacingAndGlyphs" fill="#000">0.05</text>
<text x="1731.9" y="720.2" font-size="31.72" textLength="40.5" lengthAdjust="spacingAndGlyphs" fill="#000">0.1</text>
<text x="1840.9" y="720.2" font-size="31.72" textLength="60.2" lengthAdjust="spacingAndGlyphs" fill="#000">0.15</text>
<text x="1957.3" y="720.2" font-size="31.72" textLength="43.9" lengthAdjust="spacingAndGlyphs" fill="#000">0.2</text>
<text x="1545.8" y="750.8" font-size="31.72" textLength="381.8" lengthAdjust="spacingAndGlyphs" fill="#000">Decrease in accuracy score</text>
<text x="1614.1" y="50" font-size="34.84" font-weight="bold" textLength="245.6" lengthAdjust="spacingAndGlyphs" fill="#231815">Random forest</text>
<text x="-1" y="32.7" font-size="47.42" font-weight="bold" textLength="35.4" lengthAdjust="spacingAndGlyphs" fill="#000">A</text>
<defs>
<clipPath id="cb0"><rect x="132.9" y="849.4" width="536.5" height="399.2"/></clipPath>
<clipPath id="cb1"><rect x="795.9" y="849.4" width="536.6" height="399.2"/></clipPath>
<clipPath id="cb2"><rect x="1459.1" y="849.4" width="535.9" height="399.2"/></clipPath>
</defs>
<g clip-path="url(#cb0)">
<rect x="132.9" y="849.4" width="536.5" height="399.2" fill="#d2da28"/>
<path d="M367.1 915.2L380 915.2L380 936.7L395 945.3L423.6 953.9L452.3 959.6L458 956.7L460.9 965.3L462.3 973.9L469.5 985.4L472.3 988.2L475.2 996.8L489.5 1002.5L501 1009.7L509.6 1016.9L516.7 1019L526.8 1012.6L538.2 1004L566.9 1004L572.6 1011.1L568.3 1014.7L572.6 1018.3L575.5 1028.3L575.5 1039.8L579.8 1045.5L579.8 1070.7L574 1076.5L574 1093.6L568.3 1102.2L556.8 1110.8L549.7 1115.1L541.1 1118L533.9 1121.6L505.3 1121.6L501 1122.3L489.5 1118L475.2 1118L466.6 1113.7L460.9 1110.8L455.2 1103.7L454.4 1082.2L438 1086.5L432.2 1092.2L423.6 1092.2L409.3 1085L397.1 1085L397.1 1072.2L367.1 1072.2L367.1 1063.6L380 1063.6L380 1002.5L367.1 1002.5ZM253.9 1056.5L262.5 1048.6L274 1048.6L281.1 1055L286.8 1063.6L296.9 1072.2L306.9 1073.6L316.9 1066.5L325.5 1060.8L334.1 1053.6L339.8 1045L341.3 1012.1L348.4 1012.1L348.4 1045L354.2 1063.6L367.1 1063.6L367.1 1072.2L345.6 1073.6L345.6 1102.3L332.7 1116.6L318.4 1130.9L315.5 1145.3L311.2 1159.6L304 1166.7L306.9 1181.1L296.9 1189.7L285.4 1191.1L275.4 1183.9L268.2 1173.9L262.5 1159.6L263.9 1145.3L266.8 1130.9L259.6 1116.6L266.8 1105.2L264.6 1088L264.6 1069.3L258.2 1062.2Z" fill="#219a86" stroke="#219a86" stroke-width="1.2" stroke-linejoin="round"/>
<path d="M288.3 887.3L298.3 883L324.1 883L326.9 886.5L365.6 886.5L382.8 886.5L382.8 1002.5L365.6 1001.1L354.2 1006.8L346.3 1009.7L339.8 1011.9L331.2 1009L316.9 1006.8L309.8 1002.5L302.6 996.8L296.9 989.7L292.6 981.1L291.1 971L286.8 963.9L281.1 958.1L275.4 952.4L268.2 945.3L265.4 936.7L264.6 925.2L266.8 916.6L271.1 908L275.4 899.4L281.1 893.7Z" fill="#33628c" stroke="#33628c" stroke-width="1.2" stroke-linejoin="round"/>
<path d="M367.1 915.2L381.4 915.2L381.4 1002.5L367.1 1001.1Z" fill="#219a86" stroke="#219a86" stroke-width="1.2" stroke-linejoin="round"/>
<path d="M345.6 1100.9L397.1 1100.9L401.4 1105.2L401.4 1116.6L395.7 1125.2L388.5 1130.9L377.1 1130.9L368.5 1125.2L359.9 1116.6L348.4 1113.7ZM474.5 919.5L483.8 913.7L492.4 906.6L492.4 876.5L498.1 872.2L498.1 865.1L506.7 858.6L516.7 855L551.1 855L554 846.4L621.3 846.4L629.9 857.9L641.3 866.5L651.4 875.1L657.1 883.7L661.4 889.4L661.4 942.4L657.1 945.3L655.7 952.4L651.4 955.3L645.6 963.9L635.6 972.5L624.2 981.1L609.8 988.2L595.5 996.8L585.5 1002.5L582.6 1007.6L572.6 1010.4L566.9 1004L538.2 1004L526.8 1012.6L516.7 1019L509.6 1016.9L501 1009.7L489.5 1002.5L475.2 996.8L472.3 988.2L469.5 985.4L462.3 973.9L460.9 965.3L458 956.7L462.3 945.3L475.2 938.1L477.4 930.9L480.9 925.2L482.4 918Z" fill="#33628c" stroke="#33628c" stroke-width="1.2" stroke-linejoin="round"/>
<path d="M546.8 893.7L556.8 886.5L565.4 885.1L565.4 899.4L548.3 899.4Z" fill="#219a86" stroke="#219a86" stroke-width="1.2" stroke-linejoin="round"/>
<path d="M462.3 969.6L469.5 973.9L475.2 981.1L476.6 988.2L469.5 986.8L463.7 979.6ZM129.9 1002.5L139.3 992.5L150.8 979.6L153.6 976.1L165.1 971.8L186.6 971.8L196.6 976.8L205.2 982.5L212.4 989.7L218.1 999.7L222.4 1011.1L225.3 1021.2L228.1 1031.2L228.8 1044.9L223.8 1059.3L223.8 1070.7L225.3 1077.9L228.1 1086.5L233.9 1092.2L241 1097.9L243.9 1102.2L239.6 1106.5L238.1 1110.8L242.4 1116.6L243.9 1126.6L236.7 1130.9L228.1 1135.2L225.3 1140.9L218.1 1148.1L209.5 1153.8L198 1153.8L190.9 1148.1L188 1142.3L183.7 1133.7L182.3 1122.3L170.8 1122.3L165.1 1126.6L153.6 1126.6L143.6 1122.3L129.9 1115.1L129.9 1063.6L142.2 1057.8L142.2 1035.5L139.3 1031.2L129.9 1029.8ZM248.2 1069.3L256.8 1062.2L263.9 1069.3L263.9 1103.7L258.2 1105.2L259.6 1088L253.9 1085.1L253.9 1073.6ZM397.1 846.4L426.5 846.4L443.7 865.1L449.4 873.6L456.6 882.2L462.3 890.8L468 899.4L472.3 910.9L474.5 919.5L482.4 918L480.9 925.2L477.4 930.9L475.2 938.1L462.3 945.3L458 956.7L452.3 959.6L423.6 953.9L395 945.3L380 936.7L380 919.5L378.5 910.9L374.2 905.2L371.4 895.1L362.8 893.7L362.1 889.4L368.5 885.1L374.2 877.9L381.4 869.3L387.1 860.8ZM406.5 1006.8L466.6 1006.8L466.6 1018.3L460.9 1024L458 1029.8L453.7 1032.6L453.7 1059.3L460.2 1066.4L460.2 1079.3L454.4 1082.2L445.1 1082.2L445.1 1038.4L438 1032.6L420.8 1029.8L412.2 1019.7L406.5 1014ZM346.3 1009.7L354.2 1006.8L365.6 1001.1L368.5 996.8L377.1 1002.5L382.8 1021.2L377.1 1034.1L368.5 1032.6L359.9 1035.5L348.4 1035.5L347 1024L351.3 1018.3ZM397.1 1085.1L409.3 1085.1L423.6 1092.3L432.2 1092.3L438 1086.5L454.4 1082.2L455.2 1103.7L460.9 1110.9L466.6 1113.7L475.2 1118L489.5 1118L501 1122.3L505.3 1130.9L509.6 1138.1L511 1145.3L516.7 1148.1L516.7 1171L521 1178.2L516.7 1182.5L516.7 1202.5L511 1208.3L509.6 1214L503.9 1218.3L499.6 1226.9L495.3 1231.2L488.1 1238.4L480.9 1251.6L475.2 1251.6L429.4 1251.6L420.8 1244.1L413.6 1238.4L406.5 1232.6L402.2 1225.5L396.4 1216.9L395.7 1188.2L397.1 1171L405 1163.9L405 1119.5L400.7 1116.6L400.7 1102.3L397.1 1099.4Z" fill="#412a60" stroke="#412a60" stroke-width="1.2" stroke-linejoin="round"/>
<g fill="#331a4a" fill-opacity="0.5" stroke="#000" stroke-opacity="0.55" stroke-width="1.35"><circle cx="412.1" cy="882.7" r="4.55"/><circle cx="413.7" cy="882.2" r="4.55"/><circle cx="408.8" cy="883" r="4.55"/><circle cx="409.8" cy="880.8" r="4.55"/><circle cx="414.2" cy="883.9" r="4.55"/><circle cx="415.8" cy="883.6" r="4.55"/><circle cx="415.3" cy="881.6" r="4.55"/><circle cx="410" cy="881.5" r="4.55"/><circle cx="418.2" cy="883.6" r="4.55"/><circle cx="406.2" cy="884.5" r="4.55"/><circle cx="434.6" cy="915.3" r="4.55"/><circle cx="415.6" cy="885.7" r="4.55"/><circle cx="415.3" cy="887" r="4.55"/><circle cx="436.7" cy="917.9" r="4.55"/><circle cx="443.3" cy="928.9" r="4.55"/><circle cx="430.2" cy="898.7" r="4.55"/><circle cx="445.4" cy="926" r="4.55"/><circle cx="434.3" cy="908.8" r="4.55"/><circle cx="439.5" cy="915.4" r="4.55"/><circle cx="421.8" cy="888.8" r="4.55"/><circle cx="427.1" cy="905.4" r="4.55"/><circle cx="432.6" cy="915.4" r="4.55"/><circle cx="429.1" cy="898.4" r="4.55"/><circle cx="445.9" cy="926.6" r="4.55"/><circle cx="423" cy="895" r="4.55"/><circle cx="442.3" cy="924.5" r="4.55"/><circle cx="439.6" cy="922.1" r="4.55"/><circle cx="448.2" cy="935.5" r="4.55"/><circle cx="427.7" cy="900.6" r="4.55"/><circle cx="424.4" cy="891.2" r="4.55"/><circle cx="427.1" cy="904.6" r="4.55"/><circle cx="420.4" cy="887.9" r="4.55"/><circle cx="419.1" cy="887" r="4.55"/><circle cx="436.5" cy="926" r="4.55"/><circle cx="431" cy="899.6" r="4.55"/><circle cx="417.5" cy="887.9" r="4.55"/><circle cx="446.6" cy="929.7" r="4.55"/><circle cx="419.1" cy="888.2" r="4.55"/><circle cx="430.4" cy="896.9" r="4.55"/><circle cx="450.4" cy="939.1" r="4.55"/><circle cx="429.5" cy="908.9" r="4.55"/><circle cx="438.3" cy="921.9" r="4.55"/><circle cx="430" cy="902.3" r="4.55"/><circle cx="418" cy="892.8" r="4.55"/><circle cx="415.7" cy="886.1" r="4.55"/><circle cx="434.9" cy="915.6" r="4.55"/><circle cx="439.3" cy="915" r="4.55"/><circle cx="428.9" cy="903" r="4.55"/><circle cx="435.7" cy="915.8" r="4.55"/><circle cx="429" cy="910.3" r="4.55"/><circle cx="429.9" cy="896.3" r="4.55"/><circle cx="441.5" cy="926" r="4.55"/><circle cx="436.4" cy="911.1" r="4.55"/><circle cx="427.9" cy="902.2" r="4.55"/><circle cx="443.5" cy="926.3" r="4.55"/><circle cx="414.1" cy="887.5" r="4.55"/><circle cx="447.9" cy="934.6" r="4.55"/><circle cx="434.3" cy="913" r="4.55"/><circle cx="434.6" cy="919.3" r="4.55"/><circle cx="423" cy="888.9" r="4.55"/><circle cx="445.7" cy="928.5" r="4.55"/><circle cx="437.5" cy="927.8" r="4.55"/><circle cx="435" cy="907.2" r="4.55"/><circle cx="426.1" cy="901.2" r="4.55"/><circle cx="424.3" cy="900.8" r="4.55"/><circle cx="416.4" cy="885.2" r="4.55"/><circle cx="428.9" cy="910.2" r="4.55"/><circle cx="408.3" cy="883.3" r="4.55"/><circle cx="434.5" cy="920" r="4.55"/><circle cx="427.8" cy="902.5" r="4.55"/><circle cx="447.2" cy="935" r="4.55"/><circle cx="413.7" cy="888.3" r="4.55"/><circle cx="429.9" cy="906.9" r="4.55"/><circle cx="415.7" cy="890.2" r="4.55"/><circle cx="436.1" cy="916.2" r="4.55"/><circle cx="435.6" cy="917.7" r="4.55"/><circle cx="451.4" cy="934.7" r="4.55"/><circle cx="410.8" cy="884.2" r="4.55"/><circle cx="414.5" cy="886.8" r="4.55"/><circle cx="455" cy="937.3" r="4.55"/><circle cx="403.6" cy="898" r="4.55"/><circle cx="442.3" cy="951" r="4.55"/><circle cx="450.9" cy="953.9" r="4.55"/><circle cx="452.3" cy="945.3" r="4.55"/><circle cx="439.4" cy="933.8" r="4.55"/><circle cx="432.2" cy="925.2" r="4.55"/><circle cx="455.2" cy="955.3" r="4.55"/><circle cx="449.6" cy="938.7" r="4.55"/><circle cx="449.8" cy="935.6" r="4.55"/><circle cx="446.3" cy="937.5" r="4.55"/><circle cx="454.3" cy="939.3" r="4.55"/><circle cx="449.1" cy="935.4" r="4.55"/><circle cx="456.6" cy="935" r="4.55"/><circle cx="446.9" cy="935" r="4.55"/><circle cx="452.5" cy="935.7" r="4.55"/><circle cx="449.9" cy="937.3" r="4.55"/><circle cx="446" cy="936.2" r="4.55"/><circle cx="422.5" cy="1024.9" r="4.55"/><circle cx="414.3" cy="1011.9" r="4.55"/><circle cx="447.8" cy="1023.3" r="4.55"/><circle cx="431" cy="1026.2" r="4.55"/><circle cx="432.6" cy="1008" r="4.55"/><circle cx="414.7" cy="1011.6" r="4.55"/><circle cx="448.9" cy="1008.9" r="4.55"/><circle cx="418.5" cy="1009.2" r="4.55"/><circle cx="413.5" cy="1014.7" r="4.55"/><circle cx="411.4" cy="1019" r="4.55"/><circle cx="413.2" cy="1016.9" r="4.55"/><circle cx="423.4" cy="1002.2" r="4.55"/><circle cx="452.1" cy="1010.7" r="4.55"/><circle cx="419.3" cy="1012.8" r="4.55"/><circle cx="443.5" cy="1003.7" r="4.55"/><circle cx="437.3" cy="1019.1" r="4.55"/><circle cx="445.3" cy="1019.6" r="4.55"/><circle cx="441.5" cy="1018.6" r="4.55"/><circle cx="435" cy="1004" r="4.55"/><circle cx="443.8" cy="1026.6" r="4.55"/><circle cx="419.8" cy="1005.2" r="4.55"/><circle cx="437.6" cy="1011.8" r="4.55"/><circle cx="435.4" cy="1029.3" r="4.55"/><circle cx="411.7" cy="1023.8" r="4.55"/><circle cx="447.8" cy="1014.8" r="4.55"/><circle cx="442.5" cy="1026.5" r="4.55"/><circle cx="414.9" cy="1014.5" r="4.55"/><circle cx="411.2" cy="1017.9" r="4.55"/><circle cx="447.7" cy="1022.8" r="4.55"/><circle cx="437.9" cy="1019.5" r="4.55"/><circle cx="450.5" cy="1013.6" r="4.55"/><circle cx="446.5" cy="1019.3" r="4.55"/><circle cx="443.2" cy="1031.4" r="4.55"/><circle cx="447.7" cy="1024" r="4.55"/><circle cx="449.4" cy="1018.5" r="4.55"/><circle cx="410.2" cy="1017" r="4.55"/><circle cx="417.2" cy="1013.7" r="4.55"/><circle cx="444.2" cy="1017" r="4.55"/><circle cx="434.5" cy="1031" r="4.55"/><circle cx="441.6" cy="1024.2" r="4.55"/><circle cx="447.7" cy="1023.7" r="4.55"/><circle cx="448.1" cy="1022.3" r="4.55"/><circle cx="422.9" cy="1011.2" r="4.55"/><circle cx="451.2" cy="1004.3" r="4.55"/><circle cx="421" cy="1011.9" r="4.55"/><circle cx="436.2" cy="1009" r="4.55"/><circle cx="432.8" cy="1025.8" r="4.55"/><circle cx="415.4" cy="1013.6" r="4.55"/><circle cx="409.8" cy="1018.6" r="4.55"/><circle cx="442" cy="1003.7" r="4.55"/><circle cx="426" cy="994.9" r="4.55"/><circle cx="418.2" cy="1012.3" r="4.55"/><circle cx="444.4" cy="1018.2" r="4.55"/><circle cx="419.5" cy="1008.8" r="4.55"/><circle cx="412.8" cy="1011.7" r="4.55"/><circle cx="442.7" cy="1016.5" r="4.55"/><circle cx="444.7" cy="1021.2" r="4.55"/><circle cx="416" cy="1013" r="4.55"/><circle cx="435.2" cy="1028" r="4.55"/><circle cx="427.9" cy="1001.7" r="4.55"/><circle cx="426" cy="1026.6" r="4.55"/><circle cx="412.8" cy="1015" r="4.55"/><circle cx="440.3" cy="1007.7" r="4.55"/><circle cx="440.8" cy="1011.2" r="4.55"/><circle cx="434.6" cy="1031.8" r="4.55"/><circle cx="414.7" cy="1011.8" r="4.55"/><circle cx="429.6" cy="1000.7" r="4.55"/><circle cx="441.2" cy="1019.1" r="4.55"/><circle cx="411.7" cy="1020.4" r="4.55"/><circle cx="411.2" cy="1018.7" r="4.55"/><circle cx="422.6" cy="993.3" r="4.55"/><circle cx="436.8" cy="974.5" r="4.55"/><circle cx="428.9" cy="981.8" r="4.55"/><circle cx="434" cy="978.6" r="4.55"/><circle cx="415" cy="978" r="4.55"/><circle cx="404.6" cy="966.8" r="4.55"/><circle cx="416.6" cy="953.1" r="4.55"/><circle cx="411.6" cy="951.2" r="4.55"/><circle cx="395.8" cy="991.1" r="4.55"/><circle cx="432.8" cy="972.3" r="4.55"/><circle cx="414.7" cy="963" r="4.55"/><circle cx="438.6" cy="980.1" r="4.55"/><circle cx="436.9" cy="957.5" r="4.55"/><circle cx="414.2" cy="951.3" r="4.55"/><circle cx="433" cy="993.7" r="4.55"/><circle cx="395.8" cy="973.3" r="4.55"/><circle cx="425.3" cy="949.3" r="4.55"/><circle cx="394" cy="960.8" r="4.55"/><circle cx="405.4" cy="949.2" r="4.55"/><circle cx="419.5" cy="997.6" r="4.55"/><circle cx="419.9" cy="977.7" r="4.55"/><circle cx="430.1" cy="984.4" r="4.55"/><circle cx="392" cy="964.5" r="4.55"/><circle cx="400.6" cy="957.7" r="4.55"/><circle cx="392.9" cy="975.5" r="4.55"/><circle cx="417" cy="972.3" r="4.55"/><circle cx="391.7" cy="973.4" r="4.55"/><circle cx="396.4" cy="962.4" r="4.55"/><circle cx="400.4" cy="955.9" r="4.55"/><circle cx="429.9" cy="980.3" r="4.55"/><circle cx="394" cy="979.3" r="4.55"/><circle cx="430.7" cy="993.8" r="4.55"/><circle cx="397.4" cy="972.3" r="4.55"/><circle cx="434.3" cy="972.2" r="4.55"/><circle cx="427.2" cy="980.5" r="4.55"/><circle cx="419.8" cy="975.6" r="4.55"/><circle cx="407.2" cy="951.3" r="4.55"/><circle cx="395.3" cy="976.9" r="4.55"/><circle cx="392.6" cy="967.2" r="4.55"/><circle cx="389.4" cy="964.2" r="4.55"/><circle cx="433.8" cy="986.2" r="4.55"/><circle cx="396.1" cy="967.1" r="4.55"/><circle cx="398.4" cy="973.6" r="4.55"/><circle cx="384" cy="973.1" r="4.55"/><circle cx="391.8" cy="994.6" r="4.55"/><circle cx="417.5" cy="953.5" r="4.55"/><circle cx="394.7" cy="956.8" r="4.55"/><circle cx="412.3" cy="975.9" r="4.55"/><circle cx="398.7" cy="988.6" r="4.55"/><circle cx="406.7" cy="951.3" r="4.55"/><circle cx="437.1" cy="957.5" r="4.55"/><circle cx="394.7" cy="971.1" r="4.55"/><circle cx="402" cy="959.4" r="4.55"/><circle cx="416.3" cy="964.5" r="4.55"/><circle cx="414.7" cy="958.4" r="4.55"/><circle cx="435.4" cy="978" r="4.55"/><circle cx="424.3" cy="992.1" r="4.55"/><circle cx="440.8" cy="981.1" r="4.55"/><circle cx="410.3" cy="951.7" r="4.55"/><circle cx="392.8" cy="976.2" r="4.55"/><circle cx="437.3" cy="979.7" r="4.55"/><circle cx="421.5" cy="976.9" r="4.55"/><circle cx="393.9" cy="991.9" r="4.55"/><circle cx="388.7" cy="979.8" r="4.55"/><circle cx="423.9" cy="990.1" r="4.55"/><circle cx="390.3" cy="959.6" r="4.55"/><circle cx="439.1" cy="973.5" r="4.55"/><circle cx="419.5" cy="994.1" r="4.55"/><circle cx="427.5" cy="972.8" r="4.55"/><circle cx="395.9" cy="962.7" r="4.55"/><circle cx="367.2" cy="1010.2" r="4.55"/><circle cx="374.6" cy="1004.3" r="4.55"/><circle cx="366.4" cy="1001.8" r="4.55"/><circle cx="364.8" cy="1003.8" r="4.55"/><circle cx="370.7" cy="1010.1" r="4.55"/><circle cx="377.1" cy="1005.6" r="4.55"/><circle cx="362.3" cy="1002.9" r="4.55"/><circle cx="369.1" cy="1001.7" r="4.55"/><circle cx="372.9" cy="1003.8" r="4.55"/><circle cx="374" cy="1005.2" r="4.55"/><circle cx="371.6" cy="1007.5" r="4.55"/><circle cx="377.6" cy="1001.7" r="4.55"/><circle cx="388.2" cy="934.3" r="4.55"/><circle cx="388.4" cy="935.3" r="4.55"/><circle cx="394.5" cy="933.6" r="4.55"/><circle cx="394.4" cy="931.8" r="4.55"/><circle cx="389.4" cy="932.3" r="4.55"/><circle cx="394.4" cy="928.9" r="4.55"/><circle cx="189" cy="1064" r="4.55"/><circle cx="200.2" cy="1072.1" r="4.55"/><circle cx="214.2" cy="1095.3" r="4.55"/><circle cx="179.8" cy="1058.5" r="4.55"/><circle cx="201.8" cy="1074.1" r="4.55"/><circle cx="197.8" cy="1075.1" r="4.55"/><circle cx="213.9" cy="1096.6" r="4.55"/><circle cx="185.7" cy="1059.6" r="4.55"/><circle cx="209.1" cy="1087.9" r="4.55"/><circle cx="208.6" cy="1084.7" r="4.55"/><circle cx="209.7" cy="1076.8" r="4.55"/><circle cx="187.9" cy="1069.4" r="4.55"/><circle cx="194.5" cy="1066.3" r="4.55"/><circle cx="208.2" cy="1083.1" r="4.55"/><circle cx="182" cy="1059.2" r="4.55"/><circle cx="199.6" cy="1069.8" r="4.55"/><circle cx="181.1" cy="1054.7" r="4.55"/><circle cx="221.7" cy="1102.2" r="4.55"/><circle cx="204.4" cy="1072.9" r="4.55"/><circle cx="220.4" cy="1101.9" r="4.55"/><circle cx="180.5" cy="1056.6" r="4.55"/><circle cx="201.5" cy="1071.1" r="4.55"/><circle cx="220" cy="1097.1" r="4.55"/><circle cx="196.1" cy="1069.8" r="4.55"/><circle cx="186.7" cy="1067.5" r="4.55"/><circle cx="207" cy="1075.6" r="4.55"/><circle cx="192.1" cy="1071.4" r="4.55"/><circle cx="187.3" cy="1067.5" r="4.55"/><circle cx="220.6" cy="1100.1" r="4.55"/><circle cx="189.6" cy="1065.8" r="4.55"/><circle cx="222.3" cy="1097.9" r="4.55"/><circle cx="185.6" cy="1068.4" r="4.55"/><circle cx="184.1" cy="1055.8" r="4.55"/><circle cx="216.4" cy="1099.8" r="4.55"/><circle cx="221.5" cy="1104.8" r="4.55"/><circle cx="185.4" cy="1067.9" r="4.55"/><circle cx="179.4" cy="1057.3" r="4.55"/><circle cx="197.4" cy="1069.7" r="4.55"/><circle cx="180.8" cy="1053.9" r="4.55"/><circle cx="223.9" cy="1098.8" r="4.55"/><circle cx="189.3" cy="1065" r="4.55"/><circle cx="216.5" cy="1092.3" r="4.55"/><circle cx="204.5" cy="1074.7" r="4.55"/><circle cx="188.6" cy="1064.6" r="4.55"/><circle cx="181.5" cy="1056.9" r="4.55"/><circle cx="217.2" cy="1087.3" r="4.55"/><circle cx="178.7" cy="1059.8" r="4.55"/><circle cx="211.3" cy="1090.6" r="4.55"/><circle cx="189.9" cy="1071.1" r="4.55"/><circle cx="189.8" cy="1068.7" r="4.55"/><circle cx="194.5" cy="1065.1" r="4.55"/><circle cx="218.9" cy="1100.5" r="4.55"/><circle cx="182" cy="1055.2" r="4.55"/><circle cx="219.2" cy="1103.5" r="4.55"/><circle cx="190.8" cy="1066.7" r="4.55"/><circle cx="203" cy="1064.7" r="4.55"/><circle cx="198.4" cy="1065.8" r="4.55"/><circle cx="197.8" cy="1061.9" r="4.55"/><circle cx="193.4" cy="1060.1" r="4.55"/><circle cx="192.4" cy="1058" r="4.55"/><circle cx="195.2" cy="1054.6" r="4.55"/><circle cx="192.9" cy="1061.3" r="4.55"/><circle cx="202.4" cy="1064.9" r="4.55"/><circle cx="193.3" cy="1056.6" r="4.55"/><circle cx="197.1" cy="1060.1" r="4.55"/><circle cx="181.3" cy="1077.6" r="4.55"/><circle cx="181.3" cy="1080.4" r="4.55"/><circle cx="183.5" cy="1081.1" r="4.55"/><circle cx="180.9" cy="1072.4" r="4.55"/><circle cx="183.7" cy="1070.1" r="4.55"/><circle cx="181.8" cy="1081.4" r="4.55"/><circle cx="179.5" cy="1073.3" r="4.55"/><circle cx="180.5" cy="1070.7" r="4.55"/><circle cx="184.6" cy="1083.5" r="4.55"/><circle cx="180.3" cy="1081.3" r="4.55"/><circle cx="183.5" cy="1066.5" r="4.55"/><circle cx="179.6" cy="1069.9" r="4.55"/><circle cx="183" cy="1083.1" r="4.55"/><circle cx="183.7" cy="1074.7" r="4.55"/><circle cx="170.7" cy="1084.4" r="4.55"/><circle cx="164.9" cy="1084.6" r="4.55"/><circle cx="157.3" cy="1088.7" r="4.55"/><circle cx="164.4" cy="1085.4" r="4.55"/><circle cx="155.8" cy="1090.1" r="4.55"/><circle cx="158" cy="1088.4" r="4.55"/><circle cx="167.8" cy="1085.2" r="4.55"/><circle cx="157.1" cy="1089.3" r="4.55"/><circle cx="165.1" cy="1084.4" r="4.55"/><circle cx="213.8" cy="1102.3" r="4.55"/><circle cx="222.4" cy="1100.9" r="4.55"/><circle cx="216.7" cy="1069.3" r="4.55"/><circle cx="210.9" cy="1066.5" r="4.55"/><circle cx="246.9" cy="1123" r="4.55"/><circle cx="247.6" cy="1123.1" r="4.55"/><circle cx="247.4" cy="1123.6" r="4.55"/><circle cx="247.2" cy="1123.2" r="4.55"/><circle cx="248.5" cy="1121.6" r="4.55"/><circle cx="247" cy="1123.4" r="4.55"/><circle cx="244.6" cy="1118.8" r="4.55"/><circle cx="423.5" cy="1070" r="4.55"/><circle cx="425.1" cy="1072.3" r="4.55"/><circle cx="421" cy="1074.4" r="4.55"/><circle cx="421.3" cy="1074.7" r="4.55"/><circle cx="420.8" cy="1073.4" r="4.55"/><circle cx="424.9" cy="1072.4" r="4.55"/><circle cx="422.2" cy="1069.3" r="4.55"/></g>
<g fill="#2f6a94" fill-opacity="0.5" stroke="#000" stroke-opacity="0.55" stroke-width="1.35"><circle cx="615.4" cy="871.9" r="4.55"/><circle cx="584.1" cy="876" r="4.55"/><circle cx="581.7" cy="876.4" r="4.55"/><circle cx="572" cy="877.8" r="4.55"/><circle cx="616.6" cy="873.5" r="4.55"/><circle cx="614" cy="880.8" r="4.55"/><circle cx="568.8" cy="883" r="4.55"/><circle cx="614.1" cy="877.1" r="4.55"/><circle cx="573.7" cy="880.5" r="4.55"/><circle cx="588.3" cy="879" r="4.55"/><circle cx="574.2" cy="874.5" r="4.55"/><circle cx="591.8" cy="874" r="4.55"/><circle cx="579.9" cy="878.6" r="4.55"/><circle cx="568.5" cy="879.3" r="4.55"/><circle cx="567.1" cy="882.5" r="4.55"/><circle cx="597.8" cy="875.1" r="4.55"/><circle cx="581.8" cy="875.4" r="4.55"/><circle cx="588.1" cy="877.1" r="4.55"/><circle cx="588.6" cy="870.7" r="4.55"/><circle cx="592" cy="872.5" r="4.55"/><circle cx="606.3" cy="873" r="4.55"/><circle cx="589.1" cy="871.5" r="4.55"/><circle cx="587.7" cy="871.5" r="4.55"/><circle cx="592.6" cy="870.5" r="4.55"/><circle cx="571.1" cy="880.5" r="4.55"/><circle cx="592.2" cy="870.6" r="4.55"/><circle cx="584.9" cy="880.4" r="4.55"/><circle cx="610.2" cy="879.9" r="4.55"/><circle cx="611.2" cy="871.7" r="4.55"/><circle cx="593.3" cy="879.6" r="4.55"/><circle cx="576" cy="880" r="4.55"/><circle cx="569.3" cy="877" r="4.55"/><circle cx="574" cy="881.5" r="4.55"/><circle cx="610" cy="870.8" r="4.55"/><circle cx="614.5" cy="872.9" r="4.55"/><circle cx="590.8" cy="873.4" r="4.55"/><circle cx="575.6" cy="873.6" r="4.55"/><circle cx="601.1" cy="878.2" r="4.55"/><circle cx="608.6" cy="870.1" r="4.55"/><circle cx="600.4" cy="872.9" r="4.55"/><circle cx="596.2" cy="875.5" r="4.55"/><circle cx="572.4" cy="882.9" r="4.55"/><circle cx="586" cy="878.7" r="4.55"/><circle cx="617.3" cy="877.7" r="4.55"/><circle cx="605.2" cy="873.2" r="4.55"/><circle cx="605.6" cy="869.2" r="4.55"/><circle cx="580.4" cy="877.7" r="4.55"/><circle cx="596.3" cy="876.4" r="4.55"/><circle cx="563.5" cy="875" r="4.55"/><circle cx="598.3" cy="873.8" r="4.55"/><circle cx="613.4" cy="871.8" r="4.55"/><circle cx="598.3" cy="869.7" r="4.55"/><circle cx="583.4" cy="872" r="4.55"/><circle cx="577.7" cy="877.5" r="4.55"/><circle cx="576.4" cy="878.2" r="4.55"/><circle cx="572.7" cy="882.2" r="4.55"/><circle cx="572.8" cy="873.6" r="4.55"/><circle cx="610.7" cy="877.8" r="4.55"/><circle cx="579.3" cy="871.5" r="4.55"/><circle cx="595.7" cy="873.3" r="4.55"/><circle cx="590.2" cy="879.7" r="4.55"/><circle cx="577.6" cy="880.7" r="4.55"/><circle cx="592.9" cy="874.1" r="4.55"/><circle cx="567.7" cy="881.7" r="4.55"/><circle cx="594.2" cy="879.4" r="4.55"/><circle cx="576.2" cy="878.1" r="4.55"/><circle cx="599" cy="877.6" r="4.55"/><circle cx="580.3" cy="874.3" r="4.55"/><circle cx="612.5" cy="878.3" r="4.55"/><circle cx="567.2" cy="882.5" r="4.55"/><circle cx="590.3" cy="877.7" r="4.55"/><circle cx="575.7" cy="873" r="4.55"/><circle cx="567.9" cy="877.1" r="4.55"/><circle cx="603.5" cy="877.5" r="4.55"/><circle cx="579.3" cy="877" r="4.55"/><circle cx="614.6" cy="891.4" r="4.55"/><circle cx="605.2" cy="892.8" r="4.55"/><circle cx="618.5" cy="887.9" r="4.55"/><circle cx="584.8" cy="888.7" r="4.55"/><circle cx="614.2" cy="889.6" r="4.55"/><circle cx="590.1" cy="884.7" r="4.55"/><circle cx="606.3" cy="890.7" r="4.55"/><circle cx="626.6" cy="889.3" r="4.55"/><circle cx="609.2" cy="892.9" r="4.55"/><circle cx="611" cy="890.9" r="4.55"/><circle cx="581.1" cy="888" r="4.55"/><circle cx="620" cy="888.5" r="4.55"/><circle cx="575.9" cy="891.1" r="4.55"/><circle cx="576.4" cy="883.3" r="4.55"/><circle cx="610" cy="891.2" r="4.55"/><circle cx="613.5" cy="887.1" r="4.55"/><circle cx="591.5" cy="889.8" r="4.55"/><circle cx="620.7" cy="887.6" r="4.55"/><circle cx="622.5" cy="894.9" r="4.55"/><circle cx="580.2" cy="883.7" r="4.55"/><circle cx="619.8" cy="894.6" r="4.55"/><circle cx="616.5" cy="892.9" r="4.55"/><circle cx="575.9" cy="883.9" r="4.55"/><circle cx="581.3" cy="885.4" r="4.55"/><circle cx="570.2" cy="885.8" r="4.55"/><circle cx="611" cy="889.1" r="4.55"/><circle cx="625.9" cy="889.8" r="4.55"/><circle cx="606.5" cy="884.8" r="4.55"/><circle cx="594.6" cy="889.6" r="4.55"/><circle cx="609.7" cy="890.2" r="4.55"/><circle cx="619.1" cy="888.4" r="4.55"/><circle cx="578.5" cy="882.9" r="4.55"/><circle cx="611.4" cy="894.6" r="4.55"/><circle cx="599.1" cy="887.6" r="4.55"/><circle cx="580.1" cy="887" r="4.55"/><circle cx="619.3" cy="890.4" r="4.55"/><circle cx="587" cy="884.2" r="4.55"/><circle cx="599.4" cy="884.3" r="4.55"/><circle cx="575.2" cy="890" r="4.55"/><circle cx="614.5" cy="892.3" r="4.55"/><circle cx="594.2" cy="886.4" r="4.55"/><circle cx="573.8" cy="890.9" r="4.55"/><circle cx="582.6" cy="884.8" r="4.55"/><circle cx="600" cy="886.7" r="4.55"/><circle cx="583.4" cy="886.4" r="4.55"/><circle cx="613.1" cy="893.1" r="4.55"/><circle cx="589.3" cy="885.4" r="4.55"/><circle cx="618.6" cy="893.7" r="4.55"/><circle cx="580.3" cy="886.5" r="4.55"/><circle cx="604.2" cy="885" r="4.55"/><circle cx="619.2" cy="889.6" r="4.55"/><circle cx="588" cy="888.5" r="4.55"/><circle cx="577.8" cy="884.3" r="4.55"/><circle cx="587.9" cy="886.9" r="4.55"/><circle cx="590.3" cy="884.3" r="4.55"/><circle cx="613.9" cy="887.5" r="4.55"/><circle cx="576.8" cy="886.3" r="4.55"/><circle cx="614.9" cy="893.4" r="4.55"/><circle cx="580.3" cy="888.2" r="4.55"/><circle cx="580.5" cy="886" r="4.55"/><circle cx="637.2" cy="923.8" r="4.55"/><circle cx="636.4" cy="931.4" r="4.55"/><circle cx="633.4" cy="900.5" r="4.55"/><circle cx="622.8" cy="947.4" r="4.55"/><circle cx="633" cy="936.7" r="4.55"/><circle cx="635.3" cy="909.1" r="4.55"/><circle cx="621.2" cy="951.6" r="4.55"/><circle cx="628.4" cy="945" r="4.55"/><circle cx="637.4" cy="914.3" r="4.55"/><circle cx="637.5" cy="925.8" r="4.55"/><circle cx="633.8" cy="943.3" r="4.55"/><circle cx="638" cy="927.4" r="4.55"/><circle cx="627.4" cy="942.5" r="4.55"/><circle cx="628.8" cy="942.6" r="4.55"/><circle cx="634.3" cy="928.4" r="4.55"/><circle cx="638.5" cy="937.3" r="4.55"/><circle cx="612.3" cy="961.6" r="4.55"/><circle cx="634.1" cy="938.4" r="4.55"/><circle cx="635.6" cy="933.3" r="4.55"/><circle cx="637" cy="935.1" r="4.55"/><circle cx="634.9" cy="906.1" r="4.55"/><circle cx="625.2" cy="954.6" r="4.55"/><circle cx="642.9" cy="918" r="4.55"/><circle cx="643.8" cy="922.4" r="4.55"/><circle cx="638.2" cy="924.8" r="4.55"/><circle cx="640.2" cy="910.9" r="4.55"/><circle cx="612.1" cy="961.7" r="4.55"/><circle cx="622.3" cy="954" r="4.55"/><circle cx="632.1" cy="901.3" r="4.55"/><circle cx="631.8" cy="942.9" r="4.55"/><circle cx="632.9" cy="908" r="4.55"/><circle cx="628.7" cy="942.2" r="4.55"/><circle cx="640.1" cy="929.8" r="4.55"/><circle cx="630.8" cy="900.3" r="4.55"/><circle cx="619.2" cy="958" r="4.55"/><circle cx="637.9" cy="908.9" r="4.55"/><circle cx="625.3" cy="890.2" r="4.55"/><circle cx="639" cy="908.6" r="4.55"/><circle cx="638.5" cy="925.7" r="4.55"/><circle cx="635.7" cy="921.1" r="4.55"/><circle cx="628.2" cy="896.2" r="4.55"/><circle cx="623.7" cy="955.7" r="4.55"/><circle cx="635.8" cy="943.8" r="4.55"/><circle cx="610.5" cy="961.9" r="4.55"/><circle cx="634.4" cy="894.9" r="4.55"/><circle cx="624.4" cy="952.6" r="4.55"/><circle cx="612.5" cy="957.6" r="4.55"/><circle cx="613.6" cy="958.8" r="4.55"/><circle cx="627" cy="943.4" r="4.55"/><circle cx="619.8" cy="958.3" r="4.55"/><circle cx="634.5" cy="933.6" r="4.55"/><circle cx="615.5" cy="957.8" r="4.55"/><circle cx="640.1" cy="907.4" r="4.55"/><circle cx="629.7" cy="893" r="4.55"/><circle cx="637.7" cy="931.2" r="4.55"/><circle cx="618.8" cy="961.2" r="4.55"/><circle cx="637.8" cy="929.3" r="4.55"/><circle cx="619.2" cy="956.8" r="4.55"/><circle cx="613.3" cy="966.5" r="4.55"/><circle cx="634.7" cy="945.3" r="4.55"/><circle cx="626.6" cy="943.3" r="4.55"/><circle cx="609.4" cy="965.3" r="4.55"/><circle cx="616.5" cy="962.9" r="4.55"/><circle cx="632.7" cy="943.5" r="4.55"/><circle cx="639.5" cy="920.1" r="4.55"/><circle cx="625.1" cy="953.5" r="4.55"/><circle cx="639.6" cy="926.1" r="4.55"/><circle cx="635.6" cy="913.8" r="4.55"/><circle cx="639.1" cy="932.9" r="4.55"/><circle cx="608.3" cy="964.7" r="4.55"/><circle cx="640.4" cy="916.1" r="4.55"/><circle cx="632.7" cy="939" r="4.55"/><circle cx="628" cy="894.4" r="4.55"/><circle cx="639.8" cy="936.6" r="4.55"/><circle cx="630.2" cy="889.3" r="4.55"/><circle cx="631.4" cy="940.6" r="4.55"/><circle cx="612.6" cy="959.9" r="4.55"/><circle cx="630.5" cy="941.4" r="4.55"/><circle cx="630.5" cy="948.1" r="4.55"/><circle cx="637" cy="926.5" r="4.55"/><circle cx="639.9" cy="903.1" r="4.55"/><circle cx="612.5" cy="959.5" r="4.55"/><circle cx="617.9" cy="953.2" r="4.55"/><circle cx="639.2" cy="909.7" r="4.55"/><circle cx="639.4" cy="916" r="4.55"/><circle cx="615.1" cy="964.5" r="4.55"/><circle cx="632.2" cy="891.3" r="4.55"/><circle cx="631.7" cy="936" r="4.55"/><circle cx="628.7" cy="890.1" r="4.55"/><circle cx="608.8" cy="959.6" r="4.55"/><circle cx="643.2" cy="924.2" r="4.55"/><circle cx="639.2" cy="904.2" r="4.55"/><circle cx="625.4" cy="889.8" r="4.55"/><circle cx="612.5" cy="967.3" r="4.55"/><circle cx="637.4" cy="897.4" r="4.55"/><circle cx="609" cy="905.3" r="4.55"/><circle cx="616.9" cy="914.2" r="4.55"/><circle cx="606.4" cy="900" r="4.55"/><circle cx="607.8" cy="899.2" r="4.55"/><circle cx="606.4" cy="909.3" r="4.55"/><circle cx="595.8" cy="915.3" r="4.55"/><circle cx="609.4" cy="926.1" r="4.55"/><circle cx="606.4" cy="898.5" r="4.55"/><circle cx="611.7" cy="912.5" r="4.55"/><circle cx="615.5" cy="901.8" r="4.55"/><circle cx="608" cy="916.1" r="4.55"/><circle cx="617.2" cy="922.9" r="4.55"/><circle cx="593.9" cy="913.5" r="4.55"/><circle cx="607" cy="914.9" r="4.55"/><circle cx="597.8" cy="916.4" r="4.55"/><circle cx="618.5" cy="921.6" r="4.55"/><circle cx="599.8" cy="922" r="4.55"/><circle cx="600.4" cy="903.9" r="4.55"/><circle cx="601.5" cy="918.4" r="4.55"/><circle cx="624.2" cy="908" r="4.55"/><circle cx="595.9" cy="907.1" r="4.55"/><circle cx="618.5" cy="915.2" r="4.55"/><circle cx="604.9" cy="898.8" r="4.55"/><circle cx="602.1" cy="923.7" r="4.55"/><circle cx="623.1" cy="910.7" r="4.55"/><circle cx="597.2" cy="904.6" r="4.55"/><circle cx="601.2" cy="915.8" r="4.55"/><circle cx="598.3" cy="921.8" r="4.55"/><circle cx="598.4" cy="905.2" r="4.55"/><circle cx="598.7" cy="907.9" r="4.55"/><circle cx="606.8" cy="898.8" r="4.55"/><circle cx="610" cy="919.4" r="4.55"/><circle cx="623.6" cy="910.3" r="4.55"/><circle cx="604.4" cy="919.7" r="4.55"/><circle cx="605.4" cy="923.6" r="4.55"/><circle cx="598.5" cy="901.2" r="4.55"/><circle cx="617.9" cy="922.5" r="4.55"/><circle cx="598" cy="904.2" r="4.55"/><circle cx="597.2" cy="899" r="4.55"/><circle cx="606.1" cy="899.3" r="4.55"/><circle cx="592.4" cy="913.8" r="4.55"/><circle cx="611.4" cy="912.3" r="4.55"/><circle cx="593" cy="913.7" r="4.55"/><circle cx="596.7" cy="905.2" r="4.55"/><circle cx="589.5" cy="911" r="4.55"/><circle cx="599.5" cy="903.4" r="4.55"/><circle cx="598.5" cy="921.2" r="4.55"/><circle cx="613.1" cy="928.5" r="4.55"/><circle cx="613.5" cy="904.1" r="4.55"/><circle cx="594.8" cy="908.8" r="4.55"/><circle cx="614.3" cy="900.8" r="4.55"/><circle cx="618.8" cy="921.2" r="4.55"/><circle cx="598.1" cy="915" r="4.55"/><circle cx="626.1" cy="908.4" r="4.55"/><circle cx="624.8" cy="908.1" r="4.55"/><circle cx="600.1" cy="919.7" r="4.55"/><circle cx="602.7" cy="923.7" r="4.55"/><circle cx="606.5" cy="915.1" r="4.55"/><circle cx="620.3" cy="908.9" r="4.55"/><circle cx="606.4" cy="910" r="4.55"/><circle cx="611.8" cy="926.1" r="4.55"/><circle cx="611.9" cy="906.3" r="4.55"/><circle cx="597.5" cy="919.1" r="4.55"/><circle cx="599" cy="921.3" r="4.55"/><circle cx="620.7" cy="903.8" r="4.55"/><circle cx="606.7" cy="898.3" r="4.55"/><circle cx="601.6" cy="919.4" r="4.55"/><circle cx="616.9" cy="915.1" r="4.55"/><circle cx="601.6" cy="927" r="4.55"/><circle cx="602.3" cy="924.3" r="4.55"/><circle cx="612.4" cy="912.2" r="4.55"/><circle cx="604.1" cy="901.4" r="4.55"/><circle cx="616.8" cy="917.1" r="4.55"/><circle cx="597.9" cy="918.1" r="4.55"/><circle cx="618.6" cy="915.5" r="4.55"/><circle cx="573.6" cy="892" r="4.55"/><circle cx="578.6" cy="910.2" r="4.55"/><circle cx="578.1" cy="905.7" r="4.55"/><circle cx="576.9" cy="902.8" r="4.55"/><circle cx="577.3" cy="919.1" r="4.55"/><circle cx="574.2" cy="907.6" r="4.55"/><circle cx="570.4" cy="897.1" r="4.55"/><circle cx="579.4" cy="911.2" r="4.55"/><circle cx="576.3" cy="917.7" r="4.55"/><circle cx="579.3" cy="901.2" r="4.55"/><circle cx="583.2" cy="920.4" r="4.55"/><circle cx="573.5" cy="894.9" r="4.55"/><circle cx="581.7" cy="913.8" r="4.55"/><circle cx="581.1" cy="918.2" r="4.55"/><circle cx="578" cy="902.8" r="4.55"/><circle cx="579.7" cy="909.7" r="4.55"/><circle cx="577.4" cy="898.6" r="4.55"/><circle cx="579.9" cy="906" r="4.55"/><circle cx="576.5" cy="912.8" r="4.55"/><circle cx="575.1" cy="908.8" r="4.55"/><circle cx="575.8" cy="915.9" r="4.55"/><circle cx="576.2" cy="898.6" r="4.55"/><circle cx="576.6" cy="902.8" r="4.55"/><circle cx="576.5" cy="918.4" r="4.55"/><circle cx="578.9" cy="911.4" r="4.55"/><circle cx="578.1" cy="908" r="4.55"/><circle cx="583.2" cy="919.7" r="4.55"/><circle cx="572.1" cy="892.7" r="4.55"/><circle cx="571.1" cy="898.7" r="4.55"/><circle cx="576.6" cy="898.2" r="4.55"/><circle cx="577.7" cy="919.3" r="4.55"/><circle cx="581.7" cy="913.9" r="4.55"/><circle cx="577.6" cy="912" r="4.55"/><circle cx="578.9" cy="900.2" r="4.55"/><circle cx="575.2" cy="909.4" r="4.55"/><circle cx="578.6" cy="906.9" r="4.55"/><circle cx="574.8" cy="911.4" r="4.55"/><circle cx="574.3" cy="904.4" r="4.55"/><circle cx="580.7" cy="912" r="4.55"/><circle cx="585.9" cy="920.7" r="4.55"/><circle cx="586" cy="961.3" r="4.55"/><circle cx="601.5" cy="963.9" r="4.55"/><circle cx="582.1" cy="951.9" r="4.55"/><circle cx="603.1" cy="962.9" r="4.55"/><circle cx="585.7" cy="961.5" r="4.55"/><circle cx="570.7" cy="944.7" r="4.55"/><circle cx="567.9" cy="941.1" r="4.55"/><circle cx="578.8" cy="946.9" r="4.55"/><circle cx="575.2" cy="945.7" r="4.55"/><circle cx="607.7" cy="958.6" r="4.55"/><circle cx="596.2" cy="956.6" r="4.55"/><circle cx="590.2" cy="959" r="4.55"/><circle cx="583.2" cy="953.9" r="4.55"/><circle cx="575.3" cy="945.5" r="4.55"/><circle cx="587.8" cy="961.7" r="4.55"/><circle cx="570.2" cy="946.1" r="4.55"/><circle cx="577.5" cy="947.2" r="4.55"/><circle cx="585.2" cy="956" r="4.55"/><circle cx="569.5" cy="941.2" r="4.55"/><circle cx="588" cy="960.4" r="4.55"/><circle cx="607" cy="958.5" r="4.55"/><circle cx="580.3" cy="956.6" r="4.55"/><circle cx="601.1" cy="960.1" r="4.55"/><circle cx="579.5" cy="951.1" r="4.55"/><circle cx="581.3" cy="950" r="4.55"/><circle cx="578.2" cy="955" r="4.55"/><circle cx="572.3" cy="937.8" r="4.55"/><circle cx="580.9" cy="950.3" r="4.55"/><circle cx="576" cy="947.7" r="4.55"/><circle cx="606.1" cy="961.6" r="4.55"/><circle cx="603.5" cy="964.9" r="4.55"/><circle cx="601.7" cy="960.9" r="4.55"/><circle cx="591.1" cy="960.2" r="4.55"/><circle cx="572.8" cy="938.6" r="4.55"/><circle cx="571.3" cy="938.1" r="4.55"/><circle cx="573.1" cy="942.8" r="4.55"/><circle cx="568.6" cy="944.7" r="4.55"/><circle cx="604.5" cy="957.5" r="4.55"/><circle cx="604.3" cy="960.6" r="4.55"/><circle cx="600.8" cy="963" r="4.55"/><circle cx="576.4" cy="951.7" r="4.55"/><circle cx="578.3" cy="950.5" r="4.55"/><circle cx="576.3" cy="947.7" r="4.55"/><circle cx="577.9" cy="954.9" r="4.55"/><circle cx="582" cy="957.7" r="4.55"/><circle cx="581.1" cy="950.3" r="4.55"/><circle cx="606.9" cy="961.5" r="4.55"/><circle cx="570.4" cy="947.6" r="4.55"/><circle cx="580.9" cy="951" r="4.55"/><circle cx="577" cy="944.8" r="4.55"/><circle cx="586.4" cy="959" r="4.55"/><circle cx="592.6" cy="959.1" r="4.55"/><circle cx="578.6" cy="954.1" r="4.55"/><circle cx="606.8" cy="963.9" r="4.55"/><circle cx="580.7" cy="955.1" r="4.55"/><circle cx="573.9" cy="947.8" r="4.55"/><circle cx="602.3" cy="956.6" r="4.55"/><circle cx="601.4" cy="964" r="4.55"/><circle cx="591.2" cy="960.2" r="4.55"/><circle cx="583.8" cy="952" r="4.55"/><circle cx="612" cy="939.7" r="4.55"/><circle cx="623.7" cy="935.1" r="4.55"/><circle cx="600.3" cy="939.8" r="4.55"/><circle cx="622.5" cy="944" r="4.55"/><circle cx="605.2" cy="939.6" r="4.55"/><circle cx="611.3" cy="945" r="4.55"/><circle cx="621.9" cy="948.8" r="4.55"/><circle cx="603.2" cy="940.6" r="4.55"/><circle cx="606.6" cy="941" r="4.55"/><circle cx="620.5" cy="940.8" r="4.55"/><circle cx="613.7" cy="941.4" r="4.55"/><circle cx="628.6" cy="940.7" r="4.55"/><circle cx="595.8" cy="932.8" r="4.55"/><circle cx="601.9" cy="939.8" r="4.55"/><circle cx="615.1" cy="943.8" r="4.55"/><circle cx="618.1" cy="944.5" r="4.55"/><circle cx="593" cy="936.1" r="4.55"/><circle cx="594.5" cy="929.9" r="4.55"/><circle cx="606.6" cy="942.2" r="4.55"/><circle cx="620.5" cy="938.3" r="4.55"/><circle cx="607.8" cy="941.7" r="4.55"/><circle cx="623.9" cy="941.1" r="4.55"/><circle cx="615.5" cy="942.4" r="4.55"/><circle cx="606.5" cy="937.1" r="4.55"/><circle cx="597.1" cy="938.3" r="4.55"/><circle cx="601.8" cy="944.4" r="4.55"/><circle cx="625.8" cy="939.8" r="4.55"/><circle cx="619.3" cy="940.2" r="4.55"/><circle cx="608.7" cy="938.3" r="4.55"/><circle cx="596.2" cy="936.7" r="4.55"/><circle cx="616" cy="946.6" r="4.55"/><circle cx="591.8" cy="935.7" r="4.55"/><circle cx="621.7" cy="940.5" r="4.55"/><circle cx="594.8" cy="929.6" r="4.55"/><circle cx="620.5" cy="944.1" r="4.55"/><circle cx="622.1" cy="941.8" r="4.55"/><circle cx="597.8" cy="938.1" r="4.55"/><circle cx="608.8" cy="942.9" r="4.55"/><circle cx="592.8" cy="939.1" r="4.55"/><circle cx="609.3" cy="942.3" r="4.55"/><circle cx="614.9" cy="946.3" r="4.55"/><circle cx="598.2" cy="934.1" r="4.55"/><circle cx="594" cy="936.1" r="4.55"/><circle cx="620.4" cy="937.1" r="4.55"/><circle cx="614.5" cy="939.3" r="4.55"/><circle cx="603.2" cy="943.2" r="4.55"/><circle cx="595.1" cy="932.2" r="4.55"/><circle cx="596.6" cy="937.2" r="4.55"/><circle cx="590.8" cy="937" r="4.55"/><circle cx="608.8" cy="940.6" r="4.55"/><circle cx="622.3" cy="935.2" r="4.55"/><circle cx="615.6" cy="945.4" r="4.55"/><circle cx="603.5" cy="942.8" r="4.55"/><circle cx="618.4" cy="939.5" r="4.55"/><circle cx="608.7" cy="937.7" r="4.55"/><circle cx="637.7" cy="878.5" r="4.55"/><circle cx="643.5" cy="873.4" r="4.55"/><circle cx="638.2" cy="873.1" r="4.55"/><circle cx="634.4" cy="878.4" r="4.55"/><circle cx="634.2" cy="874" r="4.55"/><circle cx="636.3" cy="876.5" r="4.55"/><circle cx="636.8" cy="877.1" r="4.55"/><circle cx="644.4" cy="876.3" r="4.55"/><circle cx="638.3" cy="874.4" r="4.55"/><circle cx="633.9" cy="883" r="4.55"/><circle cx="635.7" cy="872.2" r="4.55"/><circle cx="635.6" cy="880.3" r="4.55"/><circle cx="632.4" cy="881.3" r="4.55"/><circle cx="633.6" cy="881" r="4.55"/><circle cx="634.8" cy="881" r="4.55"/><circle cx="646.1" cy="870.1" r="4.55"/><circle cx="642.4" cy="875.1" r="4.55"/><circle cx="632.1" cy="880.1" r="4.55"/><circle cx="639.1" cy="872.2" r="4.55"/><circle cx="641.7" cy="872.9" r="4.55"/><circle cx="640.5" cy="877.8" r="4.55"/><circle cx="637.3" cy="875.3" r="4.55"/><circle cx="625.6" cy="889.4" r="4.55"/><circle cx="632.8" cy="887.3" r="4.55"/><circle cx="637.1" cy="883" r="4.55"/><circle cx="588.4" cy="908" r="4.55"/><circle cx="594.1" cy="925.2" r="4.55"/><circle cx="589.8" cy="939.5" r="4.55"/><circle cx="516.1" cy="883.1" r="4.55"/><circle cx="520.5" cy="882.1" r="4.55"/><circle cx="525.3" cy="886.4" r="4.55"/><circle cx="521.3" cy="880.1" r="4.55"/><circle cx="518.3" cy="880.3" r="4.55"/><circle cx="520.8" cy="881.2" r="4.55"/><circle cx="525.4" cy="892.6" r="4.55"/><circle cx="516.6" cy="883" r="4.55"/><circle cx="525.2" cy="889.5" r="4.55"/><circle cx="523" cy="883.8" r="4.55"/><circle cx="520.4" cy="881.8" r="4.55"/><circle cx="526.4" cy="887.4" r="4.55"/><circle cx="524.7" cy="895" r="4.55"/><circle cx="514.5" cy="884.2" r="4.55"/><circle cx="518.1" cy="881.5" r="4.55"/><circle cx="515.6" cy="884.5" r="4.55"/><circle cx="519.4" cy="883" r="4.55"/><circle cx="526.9" cy="890" r="4.55"/><circle cx="526.2" cy="888.9" r="4.55"/><circle cx="525.5" cy="892.7" r="4.55"/><circle cx="529.6" cy="908.7" r="4.55"/><circle cx="509.2" cy="929.9" r="4.55"/><circle cx="514.6" cy="932.4" r="4.55"/><circle cx="511.4" cy="933" r="4.55"/><circle cx="510" cy="936.5" r="4.55"/><circle cx="508.1" cy="924.8" r="4.55"/><circle cx="507.3" cy="929.2" r="4.55"/><circle cx="508.1" cy="926.9" r="4.55"/><circle cx="506.6" cy="936.7" r="4.55"/><circle cx="510.6" cy="930.3" r="4.55"/><circle cx="513.2" cy="929.2" r="4.55"/><circle cx="510.3" cy="925.8" r="4.55"/><circle cx="503" cy="936.5" r="4.55"/><circle cx="507.5" cy="937.7" r="4.55"/><circle cx="509.9" cy="933.1" r="4.55"/><circle cx="510.4" cy="933.3" r="4.55"/><circle cx="508.3" cy="936" r="4.55"/><circle cx="510.3" cy="931.8" r="4.55"/><circle cx="515.2" cy="934.4" r="4.55"/><circle cx="510.3" cy="930.4" r="4.55"/><circle cx="506.8" cy="938.5" r="4.55"/><circle cx="510.1" cy="929.1" r="4.55"/><circle cx="506.9" cy="927.9" r="4.55"/><circle cx="509.9" cy="932.1" r="4.55"/><circle cx="510.7" cy="931.2" r="4.55"/><circle cx="510.8" cy="931.7" r="4.55"/><circle cx="507.9" cy="934.6" r="4.55"/><circle cx="493.8" cy="943.1" r="4.55"/><circle cx="504.6" cy="942.4" r="4.55"/><circle cx="509.6" cy="941" r="4.55"/><circle cx="537.2" cy="938.3" r="4.55"/><circle cx="534.9" cy="957.7" r="4.55"/><circle cx="538.1" cy="946.8" r="4.55"/><circle cx="533.4" cy="990.3" r="4.55"/><circle cx="535.4" cy="963.1" r="4.55"/><circle cx="542.5" cy="930.7" r="4.55"/><circle cx="529.3" cy="958.9" r="4.55"/><circle cx="539.6" cy="974.9" r="4.55"/><circle cx="531" cy="989.1" r="4.55"/><circle cx="536" cy="946.9" r="4.55"/><circle cx="534.4" cy="945.1" r="4.55"/><circle cx="535.5" cy="971.7" r="4.55"/><circle cx="541.4" cy="974.4" r="4.55"/><circle cx="540.4" cy="937.5" r="4.55"/><circle cx="529.9" cy="962.7" r="4.55"/><circle cx="539.7" cy="932.2" r="4.55"/><circle cx="536.4" cy="966.6" r="4.55"/><circle cx="536.2" cy="949.6" r="4.55"/><circle cx="530.7" cy="984.5" r="4.55"/><circle cx="544.9" cy="932.3" r="4.55"/><circle cx="529.4" cy="984.3" r="4.55"/><circle cx="544.7" cy="930.6" r="4.55"/><circle cx="533.9" cy="975.8" r="4.55"/><circle cx="538.1" cy="966" r="4.55"/><circle cx="539.2" cy="935" r="4.55"/><circle cx="528.2" cy="988.3" r="4.55"/><circle cx="539" cy="940.2" r="4.55"/><circle cx="532.8" cy="967.5" r="4.55"/><circle cx="543.5" cy="936.3" r="4.55"/><circle cx="533.9" cy="973" r="4.55"/><circle cx="540.7" cy="925.1" r="4.55"/><circle cx="538.1" cy="972.7" r="4.55"/><circle cx="535.5" cy="978.7" r="4.55"/><circle cx="531" cy="957.2" r="4.55"/><circle cx="531.9" cy="954.8" r="4.55"/><circle cx="540.2" cy="937.3" r="4.55"/><circle cx="539.2" cy="931.5" r="4.55"/><circle cx="533.2" cy="947.8" r="4.55"/><circle cx="533.3" cy="954.8" r="4.55"/><circle cx="537.5" cy="934.5" r="4.55"/><circle cx="532.9" cy="968" r="4.55"/><circle cx="536.1" cy="974.7" r="4.55"/><circle cx="534.2" cy="965.5" r="4.55"/><circle cx="535.8" cy="950.5" r="4.55"/><circle cx="537.7" cy="945.4" r="4.55"/><circle cx="536.6" cy="938.3" r="4.55"/><circle cx="535" cy="980" r="4.55"/><circle cx="534.6" cy="970.2" r="4.55"/><circle cx="531.1" cy="956.9" r="4.55"/><circle cx="534.6" cy="975.9" r="4.55"/><circle cx="544.8" cy="957.1" r="4.55"/><circle cx="548.6" cy="945" r="4.55"/><circle cx="544" cy="955.5" r="4.55"/><circle cx="544.5" cy="958.9" r="4.55"/><circle cx="547.5" cy="955.7" r="4.55"/><circle cx="548.8" cy="945.3" r="4.55"/><circle cx="548.4" cy="949.6" r="4.55"/><circle cx="551.3" cy="943.3" r="4.55"/><circle cx="545.3" cy="958.6" r="4.55"/><circle cx="545.9" cy="944.6" r="4.55"/><circle cx="546" cy="960.3" r="4.55"/><circle cx="548.6" cy="956.3" r="4.55"/><circle cx="544.4" cy="956.3" r="4.55"/><circle cx="549.8" cy="941.9" r="4.55"/><circle cx="549.3" cy="952.1" r="4.55"/><circle cx="547.4" cy="951.9" r="4.55"/><circle cx="550.2" cy="949.4" r="4.55"/><circle cx="545.6" cy="942.9" r="4.55"/><circle cx="547.8" cy="948.5" r="4.55"/><circle cx="544" cy="960.1" r="4.55"/><circle cx="552.1" cy="951.1" r="4.55"/><circle cx="545.9" cy="946.4" r="4.55"/><circle cx="546.9" cy="953.6" r="4.55"/><circle cx="545.7" cy="948.2" r="4.55"/><circle cx="549.1" cy="946.7" r="4.55"/><circle cx="544.1" cy="959.5" r="4.55"/><circle cx="546.1" cy="942.5" r="4.55"/><circle cx="548.4" cy="953.8" r="4.55"/><circle cx="548.3" cy="972.5" r="4.55"/><circle cx="529.6" cy="979.6" r="4.55"/><circle cx="546.8" cy="981.1" r="4.55"/><circle cx="538.2" cy="988.2" r="4.55"/><circle cx="539.7" cy="985.4" r="4.55"/><circle cx="464.6" cy="954.8" r="4.55"/><circle cx="460.3" cy="956" r="4.55"/><circle cx="463.5" cy="955" r="4.55"/><circle cx="461.1" cy="956.7" r="4.55"/><circle cx="461.6" cy="957" r="4.55"/><circle cx="461.7" cy="954.6" r="4.55"/><circle cx="476.3" cy="956.2" r="4.55"/><circle cx="478.2" cy="954.1" r="4.55"/><circle cx="477.1" cy="953.6" r="4.55"/><circle cx="476.3" cy="953.4" r="4.55"/><circle cx="482.4" cy="954.2" r="4.55"/><circle cx="473.9" cy="954.4" r="4.55"/><circle cx="487.9" cy="951.7" r="4.55"/><circle cx="481.5" cy="951.9" r="4.55"/><circle cx="486.6" cy="954.8" r="4.55"/><circle cx="475.5" cy="954.4" r="4.55"/><circle cx="473.2" cy="971.2" r="4.55"/><circle cx="475.9" cy="975.2" r="4.55"/><circle cx="470.7" cy="970" r="4.55"/><circle cx="478.9" cy="980.6" r="4.55"/><circle cx="496.5" cy="979.5" r="4.55"/><circle cx="494.6" cy="985.7" r="4.55"/><circle cx="494" cy="981.7" r="4.55"/><circle cx="498" cy="983.4" r="4.55"/><circle cx="475.1" cy="975.5" r="4.55"/><circle cx="484" cy="981.2" r="4.55"/><circle cx="495.7" cy="977.4" r="4.55"/><circle cx="491" cy="984.9" r="4.55"/><circle cx="489.2" cy="990.9" r="4.55"/><circle cx="474.4" cy="974.9" r="4.55"/><circle cx="481.2" cy="976.4" r="4.55"/><circle cx="498.7" cy="975.6" r="4.55"/><circle cx="497.3" cy="978.9" r="4.55"/><circle cx="474.1" cy="974.1" r="4.55"/><circle cx="494.4" cy="984.7" r="4.55"/><circle cx="476" cy="963.8" r="4.55"/><circle cx="493.2" cy="977.2" r="4.55"/><circle cx="476.1" cy="967" r="4.55"/><circle cx="478.3" cy="967.3" r="4.55"/><circle cx="494.9" cy="980.8" r="4.55"/><circle cx="474.3" cy="964.7" r="4.55"/><circle cx="473.3" cy="964" r="4.55"/><circle cx="477.4" cy="978.6" r="4.55"/><circle cx="485.7" cy="984.9" r="4.55"/><circle cx="474.7" cy="974.5" r="4.55"/><circle cx="474.2" cy="969.8" r="4.55"/><circle cx="497.9" cy="972.9" r="4.55"/><circle cx="490.7" cy="978.1" r="4.55"/><circle cx="492.8" cy="986.6" r="4.55"/><circle cx="495.5" cy="987.6" r="4.55"/><circle cx="474.9" cy="964.7" r="4.55"/><circle cx="493.2" cy="980.1" r="4.55"/><circle cx="480.5" cy="980.4" r="4.55"/><circle cx="473" cy="973.7" r="4.55"/><circle cx="477.9" cy="975.5" r="4.55"/><circle cx="487.8" cy="980.3" r="4.55"/><circle cx="492.2" cy="988.6" r="4.55"/><circle cx="489.1" cy="984.6" r="4.55"/><circle cx="481.3" cy="974.9" r="4.55"/><circle cx="473.4" cy="971.7" r="4.55"/><circle cx="475.2" cy="971.6" r="4.55"/><circle cx="500.3" cy="977" r="4.55"/><circle cx="474.8" cy="969.6" r="4.55"/><circle cx="491.8" cy="982.2" r="4.55"/><circle cx="496.8" cy="984.7" r="4.55"/><circle cx="496.9" cy="979.9" r="4.55"/><circle cx="479.9" cy="979.9" r="4.55"/><circle cx="492.5" cy="977.6" r="4.55"/><circle cx="494" cy="977.8" r="4.55"/><circle cx="490" cy="981" r="4.55"/><circle cx="471.1" cy="968.3" r="4.55"/><circle cx="491.1" cy="988" r="4.55"/><circle cx="479" cy="981.6" r="4.55"/><circle cx="489.5" cy="990" r="4.55"/><circle cx="471" cy="966.6" r="4.55"/><circle cx="482.7" cy="978.1" r="4.55"/><circle cx="480.9" cy="988.2" r="4.55"/><circle cx="492.4" cy="995.4" r="4.55"/><circle cx="466.6" cy="966.7" r="4.55"/><circle cx="514" cy="1000.4" r="4.55"/><circle cx="516.5" cy="1002.1" r="4.55"/><circle cx="504.1" cy="1003.3" r="4.55"/><circle cx="511.9" cy="996.8" r="4.55"/><circle cx="516" cy="1007" r="4.55"/><circle cx="514.7" cy="1004.3" r="4.55"/><circle cx="511.4" cy="1002.3" r="4.55"/><circle cx="509.3" cy="1005.3" r="4.55"/><circle cx="516.9" cy="1001.3" r="4.55"/><circle cx="507.6" cy="994.4" r="4.55"/><circle cx="514.3" cy="993.6" r="4.55"/><circle cx="514.9" cy="995.7" r="4.55"/><circle cx="502.9" cy="1003.8" r="4.55"/><circle cx="514.3" cy="1003" r="4.55"/><circle cx="504.4" cy="1003.3" r="4.55"/><circle cx="518.3" cy="1010.2" r="4.55"/><circle cx="516.6" cy="999.4" r="4.55"/><circle cx="513.2" cy="1003.5" r="4.55"/><circle cx="516.3" cy="997.8" r="4.55"/><circle cx="512.6" cy="999.5" r="4.55"/><circle cx="516.8" cy="1001" r="4.55"/><circle cx="508.6" cy="995.1" r="4.55"/><circle cx="518.9" cy="1001.9" r="4.55"/><circle cx="517.4" cy="1001.2" r="4.55"/><circle cx="500.3" cy="1021.6" r="4.55"/><circle cx="500" cy="1021.7" r="4.55"/><circle cx="500.4" cy="1021.9" r="4.55"/><circle cx="493.1" cy="1019.7" r="4.55"/><circle cx="498.7" cy="1024.1" r="4.55"/><circle cx="499.4" cy="1022.9" r="4.55"/><circle cx="500.1" cy="1019.7" r="4.55"/><circle cx="502.2" cy="1021.8" r="4.55"/><circle cx="500.6" cy="1022.3" r="4.55"/><circle cx="351.3" cy="928.8" r="4.55"/><circle cx="367.1" cy="925.2" r="4.55"/><circle cx="372.8" cy="927.4" r="4.55"/><circle cx="355.6" cy="943.1" r="4.55"/><circle cx="350.6" cy="947.4" r="4.55"/><circle cx="344.9" cy="962.4" r="4.55"/><circle cx="336.3" cy="967.5" r="4.55"/><circle cx="324.8" cy="969.6" r="4.55"/><circle cx="326.9" cy="979.6" r="4.55"/><circle cx="327.7" cy="983.2" r="4.55"/></g>
<g fill="#38ba7a" fill-opacity="0.5" stroke="#000" stroke-opacity="0.55" stroke-width="1.35"><circle cx="426.7" cy="920" r="4.55"/><circle cx="410" cy="926.6" r="4.55"/><circle cx="410.7" cy="922.9" r="4.55"/><circle cx="409.7" cy="926.7" r="4.55"/><circle cx="423.5" cy="922.2" r="4.55"/><circle cx="412.1" cy="930.3" r="4.55"/><circle cx="404" cy="920.9" r="4.55"/><circle cx="419.2" cy="927" r="4.55"/><circle cx="423.5" cy="917" r="4.55"/><circle cx="424.7" cy="917.5" r="4.55"/><circle cx="414.5" cy="929.7" r="4.55"/><circle cx="424.5" cy="921.9" r="4.55"/><circle cx="412.1" cy="914.8" r="4.55"/><circle cx="420.6" cy="914.3" r="4.55"/><circle cx="424.3" cy="926.3" r="4.55"/><circle cx="425.5" cy="923.9" r="4.55"/><circle cx="402.9" cy="926.8" r="4.55"/><circle cx="413.5" cy="927.3" r="4.55"/><circle cx="411.5" cy="930.6" r="4.55"/><circle cx="425.4" cy="919.2" r="4.55"/><circle cx="401.2" cy="929.3" r="4.55"/><circle cx="412.4" cy="918.2" r="4.55"/><circle cx="411.5" cy="915.5" r="4.55"/><circle cx="402.5" cy="930.3" r="4.55"/><circle cx="418.4" cy="931.6" r="4.55"/><circle cx="422.8" cy="925.2" r="4.55"/><circle cx="425.8" cy="915.5" r="4.55"/><circle cx="421.8" cy="921.6" r="4.55"/><circle cx="420.1" cy="927" r="4.55"/><circle cx="401.8" cy="928" r="4.55"/><circle cx="412.8" cy="928.7" r="4.55"/><circle cx="414.1" cy="933.2" r="4.55"/><circle cx="409.3" cy="926.8" r="4.55"/><circle cx="409" cy="928.7" r="4.55"/><circle cx="421.6" cy="915.2" r="4.55"/><circle cx="421.9" cy="918.6" r="4.55"/><circle cx="400.3" cy="926.4" r="4.55"/><circle cx="410.4" cy="924.9" r="4.55"/><circle cx="423.5" cy="923.8" r="4.55"/><circle cx="425.3" cy="922.5" r="4.55"/><circle cx="405" cy="929.7" r="4.55"/><circle cx="421" cy="922.2" r="4.55"/><circle cx="420.2" cy="921.3" r="4.55"/><circle cx="425.1" cy="917.1" r="4.55"/><circle cx="424.9" cy="917.5" r="4.55"/><circle cx="422.3" cy="959.8" r="4.55"/><circle cx="424.2" cy="955.7" r="4.55"/><circle cx="433.3" cy="954.6" r="4.55"/><circle cx="430.1" cy="937.5" r="4.55"/><circle cx="419" cy="950.2" r="4.55"/><circle cx="415.8" cy="937.7" r="4.55"/><circle cx="431.1" cy="949.5" r="4.55"/><circle cx="418.4" cy="954.5" r="4.55"/><circle cx="421" cy="959.4" r="4.55"/><circle cx="419.2" cy="939.1" r="4.55"/><circle cx="417.3" cy="958" r="4.55"/><circle cx="417.2" cy="942.4" r="4.55"/><circle cx="428.1" cy="960.7" r="4.55"/><circle cx="421" cy="932.3" r="4.55"/><circle cx="420.1" cy="938.9" r="4.55"/><circle cx="430.2" cy="950.7" r="4.55"/><circle cx="416.1" cy="956.1" r="4.55"/><circle cx="411.3" cy="959" r="4.55"/><circle cx="424.7" cy="961.7" r="4.55"/><circle cx="419.3" cy="936.4" r="4.55"/><circle cx="430.6" cy="951.5" r="4.55"/><circle cx="425.3" cy="960.9" r="4.55"/><circle cx="420.4" cy="956.3" r="4.55"/><circle cx="422.8" cy="959.3" r="4.55"/><circle cx="415.3" cy="937.7" r="4.55"/><circle cx="421.3" cy="940" r="4.55"/><circle cx="432.9" cy="954.4" r="4.55"/><circle cx="433.7" cy="952.9" r="4.55"/><circle cx="423.5" cy="940.1" r="4.55"/><circle cx="416.5" cy="958.1" r="4.55"/><circle cx="421.8" cy="931.2" r="4.55"/><circle cx="423" cy="927.8" r="4.55"/><circle cx="418.3" cy="951.6" r="4.55"/><circle cx="423.5" cy="962.6" r="4.55"/><circle cx="416" cy="958.2" r="4.55"/><circle cx="419.9" cy="957.7" r="4.55"/><circle cx="425.6" cy="960.6" r="4.55"/><circle cx="423.6" cy="957.4" r="4.55"/><circle cx="429.6" cy="956.3" r="4.55"/><circle cx="420.5" cy="960.6" r="4.55"/><circle cx="428.8" cy="949" r="4.55"/><circle cx="418" cy="935.7" r="4.55"/><circle cx="416.1" cy="953.4" r="4.55"/><circle cx="427.5" cy="950.5" r="4.55"/><circle cx="424.2" cy="955.4" r="4.55"/><circle cx="387" cy="949.1" r="4.55"/><circle cx="394.9" cy="952.5" r="4.55"/><circle cx="378.7" cy="952.2" r="4.55"/><circle cx="385.4" cy="955.3" r="4.55"/><circle cx="374.7" cy="942.3" r="4.55"/><circle cx="382.9" cy="942.3" r="4.55"/><circle cx="385.6" cy="955.3" r="4.55"/><circle cx="387.3" cy="946" r="4.55"/><circle cx="386.8" cy="953.3" r="4.55"/><circle cx="388.5" cy="939.4" r="4.55"/><circle cx="392.6" cy="950.8" r="4.55"/><circle cx="383.2" cy="939.6" r="4.55"/><circle cx="375.1" cy="952.2" r="4.55"/><circle cx="392.6" cy="946.5" r="4.55"/><circle cx="387.5" cy="952.2" r="4.55"/><circle cx="383.4" cy="940.7" r="4.55"/><circle cx="395.2" cy="953.5" r="4.55"/><circle cx="384" cy="950.9" r="4.55"/><circle cx="374" cy="939.8" r="4.55"/><circle cx="386.1" cy="956" r="4.55"/><circle cx="384.1" cy="940.7" r="4.55"/><circle cx="386.8" cy="947.7" r="4.55"/><circle cx="389.6" cy="935.8" r="4.55"/><circle cx="386.2" cy="944" r="4.55"/><circle cx="381.3" cy="941.8" r="4.55"/><circle cx="395" cy="950.5" r="4.55"/><circle cx="386.4" cy="950.3" r="4.55"/><circle cx="375.2" cy="945.2" r="4.55"/><circle cx="395.3" cy="953.8" r="4.55"/><circle cx="375.4" cy="953.7" r="4.55"/><circle cx="364.3" cy="956" r="4.55"/><circle cx="365" cy="956.8" r="4.55"/><circle cx="367.8" cy="955.6" r="4.55"/><circle cx="362.7" cy="961.6" r="4.55"/><circle cx="372" cy="956.1" r="4.55"/><circle cx="364.9" cy="957.9" r="4.55"/><circle cx="365.3" cy="953.9" r="4.55"/><circle cx="365.1" cy="958.6" r="4.55"/><circle cx="363.2" cy="955.8" r="4.55"/><circle cx="366.4" cy="955.6" r="4.55"/><circle cx="383.6" cy="964" r="4.55"/><circle cx="393.6" cy="978.4" r="4.55"/><circle cx="396.5" cy="985.2" r="4.55"/><circle cx="405" cy="986.7" r="4.55"/><circle cx="390" cy="987.7" r="4.55"/><circle cx="390.5" cy="974.2" r="4.55"/><circle cx="389.4" cy="974.2" r="4.55"/><circle cx="379" cy="968.4" r="4.55"/><circle cx="411.9" cy="977.6" r="4.55"/><circle cx="410.1" cy="981.5" r="4.55"/><circle cx="409" cy="984.1" r="4.55"/><circle cx="385.5" cy="984.3" r="4.55"/><circle cx="388.8" cy="968.1" r="4.55"/><circle cx="400.9" cy="980.7" r="4.55"/><circle cx="385.1" cy="987.7" r="4.55"/><circle cx="411.4" cy="966.2" r="4.55"/><circle cx="405.9" cy="983.6" r="4.55"/><circle cx="401.5" cy="972.6" r="4.55"/><circle cx="388.2" cy="975.7" r="4.55"/><circle cx="409" cy="982.7" r="4.55"/><circle cx="404.5" cy="984" r="4.55"/><circle cx="403.3" cy="973.1" r="4.55"/><circle cx="388.7" cy="977.2" r="4.55"/><circle cx="393.3" cy="985.6" r="4.55"/><circle cx="396.4" cy="972.5" r="4.55"/><circle cx="384.2" cy="964.5" r="4.55"/><circle cx="389.2" cy="979.6" r="4.55"/><circle cx="396.5" cy="983.8" r="4.55"/><circle cx="414.4" cy="977.6" r="4.55"/><circle cx="407" cy="982.4" r="4.55"/><circle cx="407.8" cy="988.3" r="4.55"/><circle cx="379.2" cy="972.6" r="4.55"/><circle cx="405.7" cy="982.8" r="4.55"/><circle cx="381" cy="969.4" r="4.55"/><circle cx="408.2" cy="987.6" r="4.55"/><circle cx="391.4" cy="972.2" r="4.55"/><circle cx="383.8" cy="986.9" r="4.55"/><circle cx="411.3" cy="983.2" r="4.55"/><circle cx="405" cy="981.5" r="4.55"/><circle cx="389.7" cy="984.1" r="4.55"/><circle cx="391.2" cy="983.8" r="4.55"/><circle cx="389.9" cy="975.8" r="4.55"/><circle cx="408.8" cy="983.2" r="4.55"/><circle cx="384.3" cy="961.4" r="4.55"/><circle cx="409.3" cy="965.9" r="4.55"/><circle cx="396.6" cy="981.8" r="4.55"/><circle cx="389.9" cy="973.6" r="4.55"/><circle cx="385.7" cy="983.3" r="4.55"/><circle cx="381.7" cy="982.1" r="4.55"/><circle cx="409.5" cy="962.7" r="4.55"/><circle cx="389.8" cy="991.4" r="4.55"/><circle cx="413.4" cy="979.3" r="4.55"/><circle cx="389.4" cy="977.8" r="4.55"/><circle cx="405.6" cy="979.3" r="4.55"/><circle cx="410" cy="978.3" r="4.55"/><circle cx="450" cy="988.9" r="4.55"/><circle cx="449.9" cy="994.5" r="4.55"/><circle cx="453.4" cy="997.5" r="4.55"/><circle cx="447.1" cy="987.2" r="4.55"/><circle cx="448.4" cy="999" r="4.55"/><circle cx="452.2" cy="989.6" r="4.55"/><circle cx="453.3" cy="993.9" r="4.55"/><circle cx="452.7" cy="1001.8" r="4.55"/><circle cx="450.7" cy="995.3" r="4.55"/><circle cx="447.3" cy="979.9" r="4.55"/><circle cx="447.7" cy="989.6" r="4.55"/><circle cx="447.9" cy="982" r="4.55"/><circle cx="438.3" cy="971.5" r="4.55"/><circle cx="445.2" cy="979.1" r="4.55"/><circle cx="441" cy="979.7" r="4.55"/><circle cx="451.9" cy="998.9" r="4.55"/><circle cx="443.5" cy="973.9" r="4.55"/><circle cx="442.8" cy="980.9" r="4.55"/><circle cx="445.7" cy="975.9" r="4.55"/><circle cx="443.3" cy="980.6" r="4.55"/><circle cx="452.2" cy="1001.5" r="4.55"/><circle cx="449.3" cy="998" r="4.55"/><circle cx="448.3" cy="996.5" r="4.55"/><circle cx="432.9" cy="968.7" r="4.55"/><circle cx="441.8" cy="975.7" r="4.55"/><circle cx="451" cy="993.2" r="4.55"/><circle cx="450.6" cy="992.4" r="4.55"/><circle cx="437.1" cy="972.4" r="4.55"/><circle cx="445.9" cy="980.5" r="4.55"/><circle cx="443.4" cy="974.6" r="4.55"/><circle cx="451.5" cy="992.8" r="4.55"/><circle cx="455" cy="996.3" r="4.55"/><circle cx="402.1" cy="995.8" r="4.55"/><circle cx="415.2" cy="1001.3" r="4.55"/><circle cx="437.8" cy="1008.4" r="4.55"/><circle cx="402.9" cy="1007.7" r="4.55"/><circle cx="427.2" cy="1007.9" r="4.55"/><circle cx="383.1" cy="1004.1" r="4.55"/><circle cx="375" cy="1003.2" r="4.55"/><circle cx="414.5" cy="1001.9" r="4.55"/><circle cx="419.1" cy="1006.9" r="4.55"/><circle cx="375.4" cy="1001.7" r="4.55"/><circle cx="429.1" cy="1010.8" r="4.55"/><circle cx="440.5" cy="1001.4" r="4.55"/><circle cx="413.2" cy="1009.9" r="4.55"/><circle cx="444.5" cy="1003.6" r="4.55"/><circle cx="388.2" cy="1006.1" r="4.55"/><circle cx="422.1" cy="1001.3" r="4.55"/><circle cx="381.4" cy="1002.5" r="4.55"/><circle cx="387.7" cy="1009.6" r="4.55"/><circle cx="395.4" cy="1010.4" r="4.55"/><circle cx="377.1" cy="1002.4" r="4.55"/><circle cx="403.5" cy="1001.8" r="4.55"/><circle cx="428.5" cy="1012" r="4.55"/><circle cx="417.3" cy="1004.6" r="4.55"/><circle cx="380.9" cy="999.4" r="4.55"/><circle cx="394.7" cy="1012.7" r="4.55"/><circle cx="442" cy="1001" r="4.55"/><circle cx="377.5" cy="1000" r="4.55"/><circle cx="376" cy="1004.8" r="4.55"/><circle cx="401.9" cy="1005.7" r="4.55"/><circle cx="424.4" cy="1014.9" r="4.55"/><circle cx="423.3" cy="1010.4" r="4.55"/><circle cx="372.7" cy="1003.8" r="4.55"/><circle cx="406.2" cy="1006" r="4.55"/><circle cx="417.5" cy="1004.6" r="4.55"/><circle cx="419.6" cy="997.4" r="4.55"/><circle cx="444.5" cy="1001.7" r="4.55"/><circle cx="440" cy="999" r="4.55"/><circle cx="376.1" cy="1000.8" r="4.55"/><circle cx="388.3" cy="1005.5" r="4.55"/><circle cx="394.3" cy="1013.5" r="4.55"/><circle cx="440.3" cy="1003.1" r="4.55"/><circle cx="438.5" cy="1007.7" r="4.55"/><circle cx="376" cy="1000.2" r="4.55"/><circle cx="404.2" cy="1007.1" r="4.55"/><circle cx="386.4" cy="1003.4" r="4.55"/><circle cx="403.3" cy="1005.4" r="4.55"/><circle cx="426.8" cy="1012.5" r="4.55"/><circle cx="428.2" cy="1012.1" r="4.55"/><circle cx="424.4" cy="1007.3" r="4.55"/><circle cx="376.8" cy="1003.4" r="4.55"/><circle cx="438.6" cy="1008" r="4.55"/><circle cx="404.2" cy="993" r="4.55"/><circle cx="393.9" cy="1011.1" r="4.55"/><circle cx="419.9" cy="1003.3" r="4.55"/><circle cx="429.3" cy="1010.8" r="4.55"/><circle cx="375.8" cy="1019.6" r="4.55"/><circle cx="400.8" cy="1016.1" r="4.55"/><circle cx="394.8" cy="1014.8" r="4.55"/><circle cx="398" cy="1016.2" r="4.55"/><circle cx="387.5" cy="1017.5" r="4.55"/><circle cx="396.6" cy="1014.9" r="4.55"/><circle cx="376.2" cy="1016.3" r="4.55"/><circle cx="387.3" cy="1019.1" r="4.55"/><circle cx="400" cy="1018.2" r="4.55"/><circle cx="391.8" cy="1016.8" r="4.55"/><circle cx="397.7" cy="1015.2" r="4.55"/><circle cx="376.9" cy="1017.8" r="4.55"/><circle cx="371.8" cy="1020.6" r="4.55"/><circle cx="397.9" cy="1017" r="4.55"/><circle cx="424.2" cy="1021.1" r="4.55"/><circle cx="438" cy="1026.2" r="4.55"/><circle cx="436.5" cy="1030.2" r="4.55"/><circle cx="427" cy="1019.8" r="4.55"/><circle cx="427.4" cy="1029.4" r="4.55"/><circle cx="431.4" cy="1032" r="4.55"/><circle cx="436.8" cy="1032.5" r="4.55"/><circle cx="426.8" cy="1029.3" r="4.55"/><circle cx="440.8" cy="1026.7" r="4.55"/><circle cx="422.8" cy="1024" r="4.55"/><circle cx="436" cy="1027.1" r="4.55"/><circle cx="422.4" cy="1023.6" r="4.55"/><circle cx="427.7" cy="1024.6" r="4.55"/><circle cx="426.3" cy="1015.4" r="4.55"/><circle cx="435.5" cy="1028.7" r="4.55"/><circle cx="430.1" cy="1032.2" r="4.55"/><circle cx="441.2" cy="1006.6" r="4.55"/><circle cx="435.3" cy="1011.8" r="4.55"/><circle cx="446.8" cy="1013.7" r="4.55"/><circle cx="442.9" cy="1014.2" r="4.55"/><circle cx="443.9" cy="1007.7" r="4.55"/><circle cx="448" cy="1008.1" r="4.55"/><circle cx="435.5" cy="1010.2" r="4.55"/><circle cx="446.7" cy="1007.9" r="4.55"/><circle cx="443.7" cy="1006.8" r="4.55"/><circle cx="431.3" cy="1014.1" r="4.55"/><circle cx="443.7" cy="1009.9" r="4.55"/><circle cx="433.3" cy="1011" r="4.55"/><circle cx="446.5" cy="1014.4" r="4.55"/><circle cx="434.4" cy="1009.5" r="4.55"/><circle cx="282.1" cy="1086.8" r="4.55"/><circle cx="277" cy="1093.2" r="4.55"/><circle cx="275.6" cy="1093" r="4.55"/><circle cx="271.8" cy="1088.6" r="4.55"/><circle cx="280.8" cy="1089.7" r="4.55"/><circle cx="287.7" cy="1085.5" r="4.55"/><circle cx="289.2" cy="1082.2" r="4.55"/><circle cx="282.5" cy="1093.2" r="4.55"/><circle cx="278.2" cy="1091.5" r="4.55"/><circle cx="291.1" cy="1085.7" r="4.55"/><circle cx="281.7" cy="1091.1" r="4.55"/><circle cx="274.6" cy="1093" r="4.55"/><circle cx="291.9" cy="1086.6" r="4.55"/><circle cx="289.5" cy="1082.5" r="4.55"/><circle cx="271.4" cy="1085.6" r="4.55"/><circle cx="286.6" cy="1087" r="4.55"/><circle cx="276.3" cy="1093.4" r="4.55"/><circle cx="290.2" cy="1085.6" r="4.55"/><circle cx="286.1" cy="1088.1" r="4.55"/><circle cx="279.1" cy="1093.5" r="4.55"/><circle cx="273.4" cy="1088.6" r="4.55"/><circle cx="286.9" cy="1086.3" r="4.55"/><circle cx="295.3" cy="1081.7" r="4.55"/><circle cx="279.4" cy="1094" r="4.55"/><circle cx="279.6" cy="1086.2" r="4.55"/><circle cx="273.5" cy="1091.6" r="4.55"/><circle cx="284.2" cy="1096.2" r="4.55"/><circle cx="271.3" cy="1085.9" r="4.55"/><circle cx="275.7" cy="1104.5" r="4.55"/><circle cx="287" cy="1119.6" r="4.55"/><circle cx="291.4" cy="1104.3" r="4.55"/><circle cx="316.5" cy="1104.7" r="4.55"/><circle cx="295" cy="1118.7" r="4.55"/><circle cx="300.9" cy="1141.4" r="4.55"/><circle cx="282.1" cy="1101.7" r="4.55"/><circle cx="308.7" cy="1112.5" r="4.55"/><circle cx="309.7" cy="1119.5" r="4.55"/><circle cx="280.9" cy="1129.6" r="4.55"/><circle cx="323.8" cy="1113.2" r="4.55"/><circle cx="321.1" cy="1125.7" r="4.55"/><circle cx="278" cy="1110.4" r="4.55"/><circle cx="314.7" cy="1123.7" r="4.55"/><circle cx="277.4" cy="1121.8" r="4.55"/><circle cx="298.5" cy="1094.3" r="4.55"/><circle cx="319" cy="1133.3" r="4.55"/><circle cx="286.2" cy="1117.7" r="4.55"/><circle cx="286.9" cy="1137.6" r="4.55"/><circle cx="316.6" cy="1114.5" r="4.55"/><circle cx="309.7" cy="1108.5" r="4.55"/><circle cx="304.4" cy="1120.8" r="4.55"/><circle cx="316.7" cy="1130.1" r="4.55"/><circle cx="280.6" cy="1106.9" r="4.55"/><circle cx="272.1" cy="1114.1" r="4.55"/><circle cx="284.2" cy="1101.1" r="4.55"/><circle cx="275.2" cy="1124.9" r="4.55"/><circle cx="275.1" cy="1111.7" r="4.55"/><circle cx="301.9" cy="1130.4" r="4.55"/><circle cx="307.5" cy="1103.8" r="4.55"/><circle cx="293.5" cy="1108.1" r="4.55"/><circle cx="285.3" cy="1100" r="4.55"/><circle cx="275.3" cy="1102.9" r="4.55"/><circle cx="288.5" cy="1118.5" r="4.55"/><circle cx="316.9" cy="1130.6" r="4.55"/><circle cx="307.2" cy="1110.9" r="4.55"/><circle cx="320.9" cy="1133.1" r="4.55"/><circle cx="291.4" cy="1132" r="4.55"/><circle cx="281.3" cy="1120" r="4.55"/><circle cx="285.8" cy="1136.3" r="4.55"/><circle cx="307.9" cy="1124.8" r="4.55"/><circle cx="294.4" cy="1114.6" r="4.55"/><circle cx="302.5" cy="1141.5" r="4.55"/><circle cx="314.6" cy="1117.8" r="4.55"/><circle cx="272.3" cy="1108.3" r="4.55"/><circle cx="297.6" cy="1107.7" r="4.55"/><circle cx="318.7" cy="1130.2" r="4.55"/><circle cx="300.8" cy="1120.8" r="4.55"/><circle cx="285.1" cy="1100.2" r="4.55"/><circle cx="305.8" cy="1114.5" r="4.55"/><circle cx="319" cy="1109.9" r="4.55"/><circle cx="301.8" cy="1131.6" r="4.55"/><circle cx="316.9" cy="1114.1" r="4.55"/><circle cx="274.2" cy="1115.6" r="4.55"/><circle cx="292.9" cy="1112.3" r="4.55"/><circle cx="289.8" cy="1129.7" r="4.55"/><circle cx="283.1" cy="1104" r="4.55"/><circle cx="275.3" cy="1104.8" r="4.55"/><circle cx="275.3" cy="1121.2" r="4.55"/><circle cx="308.6" cy="1120.8" r="4.55"/><circle cx="301.8" cy="1091.6" r="4.55"/><circle cx="317.3" cy="1131.2" r="4.55"/><circle cx="307.7" cy="1109.5" r="4.55"/><circle cx="289" cy="1117.3" r="4.55"/><circle cx="324" cy="1113.9" r="4.55"/><circle cx="297" cy="1140.1" r="4.55"/><circle cx="277.9" cy="1123.7" r="4.55"/><circle cx="306.8" cy="1114.2" r="4.55"/><circle cx="315.5" cy="1127.7" r="4.55"/><circle cx="275.2" cy="1102.1" r="4.55"/><circle cx="310.2" cy="1112.4" r="4.55"/><circle cx="300.8" cy="1129.4" r="4.55"/><circle cx="300.3" cy="1123.2" r="4.55"/><circle cx="304.4" cy="1121.3" r="4.55"/><circle cx="274.6" cy="1105.7" r="4.55"/><circle cx="289.2" cy="1135.6" r="4.55"/><circle cx="292" cy="1132.8" r="4.55"/><circle cx="294.3" cy="1116.8" r="4.55"/><circle cx="294.7" cy="1115.8" r="4.55"/><circle cx="294.2" cy="1119.8" r="4.55"/><circle cx="308.1" cy="1109.1" r="4.55"/><circle cx="274.6" cy="1101.1" r="4.55"/><circle cx="300.9" cy="1116.1" r="4.55"/><circle cx="318.2" cy="1135.6" r="4.55"/><circle cx="275.7" cy="1114.7" r="4.55"/><circle cx="283.8" cy="1099.7" r="4.55"/><circle cx="310" cy="1108" r="4.55"/><circle cx="278.7" cy="1122.8" r="4.55"/><circle cx="315.8" cy="1128.4" r="4.55"/><circle cx="276.3" cy="1103.8" r="4.55"/><circle cx="302.8" cy="1144.4" r="4.55"/><circle cx="290.7" cy="1133.8" r="4.55"/><circle cx="292" cy="1105.2" r="4.55"/><circle cx="313.9" cy="1107" r="4.55"/><circle cx="320.1" cy="1132.7" r="4.55"/><circle cx="291.6" cy="1138" r="4.55"/><circle cx="311.8" cy="1118.7" r="4.55"/><circle cx="316.7" cy="1129.3" r="4.55"/><circle cx="300.8" cy="1123.1" r="4.55"/><circle cx="286" cy="1114.4" r="4.55"/><circle cx="323.2" cy="1115.5" r="4.55"/><circle cx="288.5" cy="1100.8" r="4.55"/><circle cx="277.8" cy="1117.1" r="4.55"/><circle cx="296.8" cy="1092.2" r="4.55"/><circle cx="279.1" cy="1105.6" r="4.55"/><circle cx="280.6" cy="1107.5" r="4.55"/><circle cx="300.7" cy="1130.4" r="4.55"/><circle cx="306.9" cy="1109.9" r="4.55"/><circle cx="303.3" cy="1113.1" r="4.55"/><circle cx="276.7" cy="1122.2" r="4.55"/><circle cx="280.1" cy="1111.4" r="4.55"/><circle cx="293.6" cy="1110.3" r="4.55"/><circle cx="318.1" cy="1105.4" r="4.55"/><circle cx="301.5" cy="1124.1" r="4.55"/><circle cx="276.5" cy="1117.8" r="4.55"/><circle cx="291.3" cy="1119.5" r="4.55"/><circle cx="276.4" cy="1101.6" r="4.55"/><circle cx="298.2" cy="1141.8" r="4.55"/><circle cx="307.8" cy="1102.6" r="4.55"/><circle cx="301.1" cy="1129.6" r="4.55"/><circle cx="285" cy="1115.8" r="4.55"/><circle cx="307.9" cy="1109.9" r="4.55"/><circle cx="319.1" cy="1133.6" r="4.55"/><circle cx="296.4" cy="1109.8" r="4.55"/><circle cx="290.5" cy="1115.3" r="4.55"/><circle cx="314.5" cy="1127.3" r="4.55"/><circle cx="299.8" cy="1139.3" r="4.55"/><circle cx="277.1" cy="1132.9" r="4.55"/><circle cx="309.4" cy="1103.8" r="4.55"/><circle cx="278.6" cy="1104" r="4.55"/><circle cx="299.2" cy="1155.3" r="4.55"/><circle cx="280.3" cy="1142.4" r="4.55"/><circle cx="290.5" cy="1144.5" r="4.55"/><circle cx="293.1" cy="1152.4" r="4.55"/><circle cx="276.4" cy="1168.7" r="4.55"/><circle cx="286.1" cy="1163" r="4.55"/><circle cx="287.6" cy="1154.5" r="4.55"/><circle cx="277.4" cy="1159.2" r="4.55"/><circle cx="295.3" cy="1158.7" r="4.55"/><circle cx="290" cy="1145.5" r="4.55"/><circle cx="274.5" cy="1140.8" r="4.55"/><circle cx="290.2" cy="1149.4" r="4.55"/><circle cx="273.9" cy="1155.2" r="4.55"/><circle cx="284.9" cy="1144.5" r="4.55"/><circle cx="292.9" cy="1152.4" r="4.55"/><circle cx="299.6" cy="1156.8" r="4.55"/><circle cx="275.3" cy="1157.6" r="4.55"/><circle cx="267.2" cy="1147.8" r="4.55"/><circle cx="283.8" cy="1168.9" r="4.55"/><circle cx="292.9" cy="1166.8" r="4.55"/><circle cx="268.4" cy="1144.2" r="4.55"/><circle cx="269.3" cy="1150.3" r="4.55"/><circle cx="281.7" cy="1164.5" r="4.55"/><circle cx="280.3" cy="1166.6" r="4.55"/><circle cx="293.5" cy="1147.9" r="4.55"/><circle cx="295.8" cy="1166.8" r="4.55"/><circle cx="282.8" cy="1144.1" r="4.55"/><circle cx="275.3" cy="1157.1" r="4.55"/><circle cx="284.9" cy="1149.4" r="4.55"/><circle cx="282.2" cy="1169.1" r="4.55"/><circle cx="285.1" cy="1166.6" r="4.55"/><circle cx="282.3" cy="1147.2" r="4.55"/><circle cx="277.9" cy="1137.4" r="4.55"/><circle cx="276.9" cy="1155.9" r="4.55"/><circle cx="300.3" cy="1150.7" r="4.55"/><circle cx="299.8" cy="1160.9" r="4.55"/><circle cx="290.4" cy="1167.2" r="4.55"/><circle cx="292.7" cy="1160.1" r="4.55"/><circle cx="294.1" cy="1163.6" r="4.55"/><circle cx="275.6" cy="1136.1" r="4.55"/><circle cx="280.5" cy="1144.5" r="4.55"/><circle cx="285.2" cy="1162.9" r="4.55"/><circle cx="270.9" cy="1156.5" r="4.55"/><circle cx="274" cy="1157" r="4.55"/><circle cx="273.8" cy="1155.7" r="4.55"/><circle cx="276.7" cy="1160.4" r="4.55"/><circle cx="291.2" cy="1150.5" r="4.55"/><circle cx="268.5" cy="1143.9" r="4.55"/><circle cx="282.9" cy="1170.1" r="4.55"/><circle cx="288.1" cy="1149.9" r="4.55"/><circle cx="293.9" cy="1152.3" r="4.55"/><circle cx="282.6" cy="1143.9" r="4.55"/><circle cx="296.7" cy="1157.6" r="4.55"/><circle cx="278.3" cy="1168.5" r="4.55"/><circle cx="281.5" cy="1167.8" r="4.55"/><circle cx="285.8" cy="1143.7" r="4.55"/><circle cx="279.5" cy="1139.3" r="4.55"/><circle cx="281.1" cy="1142" r="4.55"/><circle cx="285.1" cy="1168" r="4.55"/><circle cx="279.4" cy="1167.9" r="4.55"/><circle cx="269.6" cy="1146.7" r="4.55"/><circle cx="278.5" cy="1138.6" r="4.55"/><circle cx="291.6" cy="1171.2" r="4.55"/><circle cx="285.6" cy="1165.9" r="4.55"/><circle cx="297.9" cy="1150.8" r="4.55"/><circle cx="270.7" cy="1158.7" r="4.55"/><circle cx="275.8" cy="1158.4" r="4.55"/><circle cx="285.1" cy="1165.2" r="4.55"/><circle cx="290.6" cy="1144.9" r="4.55"/><circle cx="297.7" cy="1152.3" r="4.55"/><circle cx="280.5" cy="1142.5" r="4.55"/><circle cx="291.8" cy="1150.4" r="4.55"/><circle cx="290.5" cy="1151.3" r="4.55"/><circle cx="300.8" cy="1157" r="4.55"/><circle cx="287.4" cy="1162.7" r="4.55"/><circle cx="271.3" cy="1151.3" r="4.55"/><circle cx="281.4" cy="1170.3" r="4.55"/><circle cx="272.6" cy="1162.4" r="4.55"/><circle cx="275.9" cy="1158.5" r="4.55"/><circle cx="292.5" cy="1150.7" r="4.55"/><circle cx="267.8" cy="1152.7" r="4.55"/><circle cx="268.2" cy="1150.8" r="4.55"/><circle cx="293.2" cy="1147.9" r="4.55"/><circle cx="272.4" cy="1159.6" r="4.55"/><circle cx="292.5" cy="1153.3" r="4.55"/><circle cx="287.8" cy="1168.4" r="4.55"/><circle cx="274.6" cy="1152.7" r="4.55"/><circle cx="282.6" cy="1167.4" r="4.55"/><circle cx="287.3" cy="1160.6" r="4.55"/><circle cx="276.3" cy="1158.3" r="4.55"/><circle cx="287.6" cy="1146.6" r="4.55"/><circle cx="299.6" cy="1154" r="4.55"/><circle cx="273.1" cy="1155.1" r="4.55"/><circle cx="280.4" cy="1142.9" r="4.55"/><circle cx="277" cy="1140.7" r="4.55"/><circle cx="275.2" cy="1174.1" r="4.55"/><circle cx="291.8" cy="1188.8" r="4.55"/><circle cx="281.4" cy="1174.9" r="4.55"/><circle cx="292.1" cy="1183.9" r="4.55"/><circle cx="288" cy="1174.9" r="4.55"/><circle cx="283.3" cy="1170.7" r="4.55"/><circle cx="291.9" cy="1170.2" r="4.55"/><circle cx="282.7" cy="1184.7" r="4.55"/><circle cx="301.7" cy="1182.5" r="4.55"/><circle cx="299.2" cy="1183.8" r="4.55"/><circle cx="282.7" cy="1179.4" r="4.55"/><circle cx="293.4" cy="1178" r="4.55"/><circle cx="269.9" cy="1181.9" r="4.55"/><circle cx="292.9" cy="1182.7" r="4.55"/><circle cx="273.7" cy="1178.7" r="4.55"/><circle cx="284.5" cy="1173.7" r="4.55"/><circle cx="289" cy="1172.4" r="4.55"/><circle cx="292.3" cy="1181" r="4.55"/><circle cx="275.3" cy="1180.3" r="4.55"/><circle cx="282.3" cy="1175.2" r="4.55"/><circle cx="283.2" cy="1183.9" r="4.55"/><circle cx="283.8" cy="1172.9" r="4.55"/><circle cx="275.5" cy="1186" r="4.55"/><circle cx="298" cy="1176.7" r="4.55"/><circle cx="273.6" cy="1173.1" r="4.55"/><circle cx="292.2" cy="1182.9" r="4.55"/><circle cx="304.9" cy="1186.1" r="4.55"/><circle cx="294.2" cy="1183" r="4.55"/><circle cx="285.7" cy="1176" r="4.55"/><circle cx="272.5" cy="1171.2" r="4.55"/><circle cx="291.1" cy="1173.7" r="4.55"/><circle cx="291.2" cy="1180.1" r="4.55"/><circle cx="290.8" cy="1192.8" r="4.55"/><circle cx="284.4" cy="1174.2" r="4.55"/><circle cx="284.3" cy="1182" r="4.55"/><circle cx="293.6" cy="1184" r="4.55"/><circle cx="274.9" cy="1169.5" r="4.55"/><circle cx="294.7" cy="1179.3" r="4.55"/><circle cx="293.7" cy="1182.3" r="4.55"/><circle cx="301.6" cy="1175.3" r="4.55"/><circle cx="264" cy="1182.9" r="4.55"/><circle cx="283.8" cy="1171.5" r="4.55"/><circle cx="269.1" cy="1178" r="4.55"/><circle cx="288" cy="1169.6" r="4.55"/><circle cx="287.9" cy="1176.5" r="4.55"/><circle cx="282.9" cy="1178.9" r="4.55"/><circle cx="281.8" cy="1173.8" r="4.55"/><circle cx="291.3" cy="1174.4" r="4.55"/><circle cx="284.6" cy="1182.9" r="4.55"/><circle cx="281.3" cy="1176.2" r="4.55"/><circle cx="293.9" cy="1184.5" r="4.55"/><circle cx="273" cy="1183.8" r="4.55"/><circle cx="297.7" cy="1179.4" r="4.55"/><circle cx="283" cy="1181.5" r="4.55"/><circle cx="303.6" cy="1181.9" r="4.55"/><circle cx="280.9" cy="1177.1" r="4.55"/><circle cx="292.4" cy="1183.8" r="4.55"/><circle cx="280.9" cy="1174.7" r="4.55"/><circle cx="275.4" cy="1178.5" r="4.55"/><circle cx="285.6" cy="1177" r="4.55"/><circle cx="298.7" cy="1177.9" r="4.55"/><circle cx="299.1" cy="1187.3" r="4.55"/><circle cx="268" cy="1182.7" r="4.55"/><circle cx="280.6" cy="1184.2" r="4.55"/><circle cx="289.2" cy="1192.6" r="4.55"/><circle cx="356.5" cy="1059.9" r="4.55"/><circle cx="350.6" cy="1068.4" r="4.55"/><circle cx="337" cy="1057.5" r="4.55"/><circle cx="358.5" cy="1074.9" r="4.55"/><circle cx="327.5" cy="1066" r="4.55"/><circle cx="337.4" cy="1080.6" r="4.55"/><circle cx="347.4" cy="1055.9" r="4.55"/><circle cx="348" cy="1086.4" r="4.55"/><circle cx="344.2" cy="1080.8" r="4.55"/><circle cx="341.4" cy="1075.6" r="4.55"/><circle cx="345" cy="1068.1" r="4.55"/><circle cx="352.1" cy="1074.3" r="4.55"/><circle cx="343.9" cy="1066.3" r="4.55"/><circle cx="336.1" cy="1072.6" r="4.55"/><circle cx="348" cy="1060.5" r="4.55"/><circle cx="337.5" cy="1086.4" r="4.55"/><circle cx="355.8" cy="1062.4" r="4.55"/><circle cx="354.5" cy="1063.8" r="4.55"/><circle cx="338.1" cy="1084.4" r="4.55"/><circle cx="328.5" cy="1063.6" r="4.55"/><circle cx="339" cy="1067.9" r="4.55"/><circle cx="327.3" cy="1069" r="4.55"/><circle cx="332.9" cy="1076.8" r="4.55"/><circle cx="327.5" cy="1070.6" r="4.55"/><circle cx="350.5" cy="1068.4" r="4.55"/><circle cx="335.2" cy="1074.1" r="4.55"/><circle cx="341.3" cy="1085.1" r="4.55"/><circle cx="337.3" cy="1072.8" r="4.55"/><circle cx="337.8" cy="1059.3" r="4.55"/><circle cx="356.4" cy="1060.2" r="4.55"/><circle cx="348.9" cy="1083.3" r="4.55"/><circle cx="351.5" cy="1073.2" r="4.55"/><circle cx="337.9" cy="1075.4" r="4.55"/><circle cx="338.5" cy="1056.8" r="4.55"/><circle cx="344.3" cy="1075.4" r="4.55"/><circle cx="333.4" cy="1080.8" r="4.55"/><circle cx="355.9" cy="1058.7" r="4.55"/><circle cx="346.9" cy="1066.3" r="4.55"/><circle cx="339.6" cy="1085.4" r="4.55"/><circle cx="355.3" cy="1063" r="4.55"/><circle cx="334.6" cy="1088.6" r="4.55"/><circle cx="342.3" cy="1055.7" r="4.55"/><circle cx="337.8" cy="1073.3" r="4.55"/><circle cx="354.5" cy="1062.7" r="4.55"/><circle cx="349.5" cy="1058.5" r="4.55"/><circle cx="353.7" cy="1061.4" r="4.55"/><circle cx="342.8" cy="1079.7" r="4.55"/><circle cx="344.8" cy="1055.7" r="4.55"/><circle cx="337.7" cy="1053.2" r="4.55"/><circle cx="335.1" cy="1080.4" r="4.55"/><circle cx="354.3" cy="1066.7" r="4.55"/><circle cx="337.6" cy="1082.1" r="4.55"/><circle cx="351.2" cy="1055.3" r="4.55"/><circle cx="358.5" cy="1071.1" r="4.55"/><circle cx="333.9" cy="1081.2" r="4.55"/><circle cx="336.8" cy="1072.2" r="4.55"/><circle cx="355.6" cy="1060.2" r="4.55"/><circle cx="339.5" cy="1055.6" r="4.55"/><circle cx="337.7" cy="1074.7" r="4.55"/><circle cx="339.6" cy="1070.8" r="4.55"/><circle cx="323.9" cy="1093.3" r="4.55"/><circle cx="327.5" cy="1116.4" r="4.55"/><circle cx="317.2" cy="1112.8" r="4.55"/><circle cx="322" cy="1111.1" r="4.55"/><circle cx="314.8" cy="1106.1" r="4.55"/><circle cx="320.9" cy="1099.4" r="4.55"/><circle cx="324.1" cy="1107.1" r="4.55"/><circle cx="330.5" cy="1094.5" r="4.55"/><circle cx="315" cy="1095.4" r="4.55"/><circle cx="323.8" cy="1112" r="4.55"/><circle cx="315.4" cy="1104.1" r="4.55"/><circle cx="315.3" cy="1102.3" r="4.55"/><circle cx="325.4" cy="1112.7" r="4.55"/><circle cx="325.7" cy="1117.7" r="4.55"/><circle cx="322.2" cy="1110.4" r="4.55"/><circle cx="322.4" cy="1105" r="4.55"/><circle cx="323.2" cy="1111.8" r="4.55"/><circle cx="312.5" cy="1102.7" r="4.55"/><circle cx="317.4" cy="1101.1" r="4.55"/><circle cx="323" cy="1106.2" r="4.55"/><circle cx="313.3" cy="1100.8" r="4.55"/><circle cx="316.8" cy="1105.9" r="4.55"/><circle cx="324.9" cy="1104" r="4.55"/><circle cx="316.2" cy="1108.3" r="4.55"/><circle cx="314.9" cy="1112" r="4.55"/><circle cx="316.9" cy="1114" r="4.55"/><circle cx="320.7" cy="1090.4" r="4.55"/><circle cx="328.2" cy="1094.5" r="4.55"/><circle cx="322.2" cy="1095.7" r="4.55"/><circle cx="319.2" cy="1097.3" r="4.55"/><circle cx="421.9" cy="1063.3" r="4.55"/><circle cx="404.5" cy="1077.5" r="4.55"/><circle cx="420.1" cy="1065.9" r="4.55"/><circle cx="415.8" cy="1071.6" r="4.55"/><circle cx="402.6" cy="1078.4" r="4.55"/><circle cx="422.4" cy="1047.1" r="4.55"/><circle cx="403.8" cy="1078.1" r="4.55"/><circle cx="422.4" cy="1049.5" r="4.55"/><circle cx="406.7" cy="1074.9" r="4.55"/><circle cx="414.4" cy="1070.5" r="4.55"/><circle cx="398.1" cy="1076.2" r="4.55"/><circle cx="405.8" cy="1075.3" r="4.55"/><circle cx="420.7" cy="1051.4" r="4.55"/><circle cx="412.4" cy="1071.5" r="4.55"/><circle cx="422.7" cy="1048.8" r="4.55"/><circle cx="408" cy="1075.3" r="4.55"/><circle cx="422.9" cy="1054.6" r="4.55"/><circle cx="408.9" cy="1073.6" r="4.55"/><circle cx="395.8" cy="1074.5" r="4.55"/><circle cx="422.8" cy="1059.7" r="4.55"/><circle cx="395.8" cy="1073.5" r="4.55"/><circle cx="423" cy="1055.3" r="4.55"/><circle cx="447.6" cy="1072.4" r="4.55"/><circle cx="443.9" cy="1072.8" r="4.55"/><circle cx="447.2" cy="1076.6" r="4.55"/><circle cx="446.9" cy="1082.3" r="4.55"/><circle cx="431.5" cy="1087.8" r="4.55"/><circle cx="447.8" cy="1084.1" r="4.55"/><circle cx="417.9" cy="1082.6" r="4.55"/><circle cx="407" cy="1083.8" r="4.55"/><circle cx="434.9" cy="1079.2" r="4.55"/><circle cx="432.6" cy="1085.8" r="4.55"/><circle cx="447.5" cy="1073.4" r="4.55"/><circle cx="447.9" cy="1087.3" r="4.55"/><circle cx="426.4" cy="1084.9" r="4.55"/><circle cx="447.1" cy="1084.2" r="4.55"/><circle cx="445.6" cy="1078.5" r="4.55"/><circle cx="426.3" cy="1086" r="4.55"/><circle cx="439.7" cy="1074.9" r="4.55"/><circle cx="434.6" cy="1081" r="4.55"/><circle cx="412" cy="1084.2" r="4.55"/><circle cx="416.1" cy="1083.7" r="4.55"/><circle cx="447.6" cy="1083.9" r="4.55"/><circle cx="449.7" cy="1085.2" r="4.55"/><circle cx="392.8" cy="1069.3" r="4.55"/><circle cx="400" cy="1076.5" r="4.55"/><circle cx="397.1" cy="1072.2" r="4.55"/><circle cx="458.7" cy="1056.5" r="4.55"/><circle cx="453" cy="1057.2" r="4.55"/><circle cx="486.7" cy="1058.9" r="4.55"/><circle cx="504.6" cy="1082" r="4.55"/><circle cx="543.5" cy="1081.5" r="4.55"/><circle cx="480.6" cy="1086.5" r="4.55"/><circle cx="490.7" cy="1088" r="4.55"/><circle cx="473.5" cy="1094.4" r="4.55"/><circle cx="480.9" cy="1095.4" r="4.55"/><circle cx="488.1" cy="1092.3" r="4.55"/><circle cx="492.7" cy="1093.7" r="4.55"/><circle cx="415.8" cy="1031.3" r="4.55"/><circle cx="426.5" cy="1035.5" r="4.55"/><circle cx="421.5" cy="1045.6" r="4.55"/><circle cx="544" cy="1020.5" r="4.55"/><circle cx="533.2" cy="1038.4" r="4.55"/></g>
<g fill="#fde725" fill-opacity="0.5" stroke="#000" stroke-opacity="0.55" stroke-width="1.35"><circle cx="241.9" cy="980.9" r="4.55"/><circle cx="244.8" cy="976.1" r="4.55"/><circle cx="241.5" cy="972.6" r="4.55"/><circle cx="241.8" cy="973.9" r="4.55"/><circle cx="249" cy="982.2" r="4.55"/><circle cx="241.2" cy="972.3" r="4.55"/><circle cx="246.5" cy="976.8" r="4.55"/><circle cx="242.2" cy="975.3" r="4.55"/><circle cx="251.6" cy="982.1" r="4.55"/><circle cx="247.8" cy="978.9" r="4.55"/><circle cx="236.8" cy="973.9" r="4.55"/><circle cx="240.3" cy="970.5" r="4.55"/><circle cx="246.3" cy="982.2" r="4.55"/><circle cx="240.3" cy="975.4" r="4.55"/><circle cx="248.6" cy="976.5" r="4.55"/><circle cx="239.9" cy="970.8" r="4.55"/><circle cx="256.1" cy="977.5" r="4.55"/><circle cx="272.5" cy="981.8" r="4.55"/><circle cx="277.1" cy="995.3" r="4.55"/><circle cx="273.8" cy="998.4" r="4.55"/><circle cx="276.9" cy="996.7" r="4.55"/><circle cx="283.3" cy="999.6" r="4.55"/><circle cx="269.6" cy="999.1" r="4.55"/><circle cx="274.4" cy="992.8" r="4.55"/><circle cx="280" cy="996.7" r="4.55"/><circle cx="314.2" cy="1022.5" r="4.55"/><circle cx="320.1" cy="1027.5" r="4.55"/><circle cx="303" cy="1016.9" r="4.55"/><circle cx="314.5" cy="1025.4" r="4.55"/><circle cx="294.8" cy="1019.6" r="4.55"/><circle cx="309.7" cy="1032.1" r="4.55"/><circle cx="312.5" cy="1033" r="4.55"/><circle cx="298.4" cy="1006.2" r="4.55"/><circle cx="311.8" cy="1000.1" r="4.55"/><circle cx="297.5" cy="1014.1" r="4.55"/><circle cx="296.1" cy="1022.4" r="4.55"/><circle cx="314" cy="1014.1" r="4.55"/><circle cx="303.9" cy="1002.8" r="4.55"/><circle cx="311.3" cy="1031.6" r="4.55"/><circle cx="314.5" cy="1006.4" r="4.55"/><circle cx="323.5" cy="1009.1" r="4.55"/><circle cx="307.2" cy="1010.6" r="4.55"/><circle cx="300.1" cy="1024.1" r="4.55"/><circle cx="314" cy="1022.2" r="4.55"/><circle cx="318" cy="1010.1" r="4.55"/><circle cx="311.9" cy="1024.5" r="4.55"/><circle cx="312.9" cy="1024.1" r="4.55"/><circle cx="310.4" cy="1029.9" r="4.55"/><circle cx="292.8" cy="1019.6" r="4.55"/><circle cx="293.8" cy="1024.4" r="4.55"/><circle cx="296.4" cy="1020.3" r="4.55"/><circle cx="315.9" cy="1007.8" r="4.55"/><circle cx="308.6" cy="1011.8" r="4.55"/><circle cx="308.5" cy="1014.8" r="4.55"/><circle cx="307.9" cy="1031.7" r="4.55"/><circle cx="307.7" cy="1034.6" r="4.55"/><circle cx="296.5" cy="1017.7" r="4.55"/><circle cx="314.3" cy="1022.3" r="4.55"/><circle cx="302.7" cy="1025.3" r="4.55"/><circle cx="314.5" cy="1023.6" r="4.55"/><circle cx="312.3" cy="1020.4" r="4.55"/><circle cx="310.8" cy="1029.6" r="4.55"/><circle cx="313.5" cy="1029" r="4.55"/><circle cx="305" cy="1016.5" r="4.55"/><circle cx="313" cy="1019.5" r="4.55"/><circle cx="316.6" cy="1012.2" r="4.55"/><circle cx="311.4" cy="1032.2" r="4.55"/><circle cx="311.2" cy="1031.2" r="4.55"/><circle cx="314.2" cy="1032.2" r="4.55"/><circle cx="310.7" cy="1009.6" r="4.55"/><circle cx="300.8" cy="1004.9" r="4.55"/><circle cx="299.9" cy="1014.7" r="4.55"/><circle cx="314.3" cy="1034.2" r="4.55"/><circle cx="309.3" cy="999.9" r="4.55"/><circle cx="321.5" cy="1020.3" r="4.55"/><circle cx="224.6" cy="1071" r="4.55"/><circle cx="232.3" cy="1019.8" r="4.55"/><circle cx="236.9" cy="1027.2" r="4.55"/><circle cx="232.8" cy="1016.2" r="4.55"/><circle cx="230.8" cy="1039.2" r="4.55"/><circle cx="234.9" cy="1034.1" r="4.55"/><circle cx="241.3" cy="1029.3" r="4.55"/><circle cx="228.9" cy="1012.5" r="4.55"/><circle cx="231.8" cy="1053.3" r="4.55"/><circle cx="239.1" cy="1017.7" r="4.55"/><circle cx="240.9" cy="1028.1" r="4.55"/><circle cx="238.1" cy="1020.6" r="4.55"/><circle cx="237.9" cy="1032.3" r="4.55"/><circle cx="233.2" cy="1041.3" r="4.55"/><circle cx="228.7" cy="1013.4" r="4.55"/><circle cx="231" cy="1044.6" r="4.55"/><circle cx="233.6" cy="1032.9" r="4.55"/><circle cx="233.2" cy="1017.7" r="4.55"/><circle cx="226.3" cy="1064" r="4.55"/><circle cx="234.5" cy="1017.2" r="4.55"/><circle cx="228.7" cy="1059.3" r="4.55"/><circle cx="233.1" cy="1043.4" r="4.55"/><circle cx="240.1" cy="1026" r="4.55"/><circle cx="229.4" cy="1049.6" r="4.55"/><circle cx="230.5" cy="1046.7" r="4.55"/><circle cx="227.2" cy="1015.9" r="4.55"/><circle cx="237.2" cy="1019.2" r="4.55"/><circle cx="228.8" cy="1016" r="4.55"/><circle cx="239.5" cy="1025.5" r="4.55"/><circle cx="237.9" cy="1019.2" r="4.55"/><circle cx="241.3" cy="1031.7" r="4.55"/><circle cx="230.8" cy="1036.5" r="4.55"/><circle cx="229.6" cy="1015.5" r="4.55"/><circle cx="235.3" cy="1020.6" r="4.55"/><circle cx="231.1" cy="1058.1" r="4.55"/><circle cx="230.5" cy="1057.1" r="4.55"/><circle cx="237.4" cy="1035.1" r="4.55"/><circle cx="229.3" cy="1049.2" r="4.55"/><circle cx="227.5" cy="1012" r="4.55"/><circle cx="230.5" cy="1015.1" r="4.55"/><circle cx="231.2" cy="1039.2" r="4.55"/><circle cx="230.4" cy="1048.9" r="4.55"/><circle cx="238.5" cy="1019.4" r="4.55"/><circle cx="231.4" cy="1009.4" r="4.55"/><circle cx="228.2" cy="1060.5" r="4.55"/><circle cx="227.7" cy="1060.9" r="4.55"/><circle cx="238.6" cy="1027.7" r="4.55"/><circle cx="229.3" cy="1012.3" r="4.55"/><circle cx="226.2" cy="1071.6" r="4.55"/><circle cx="229.2" cy="1056" r="4.55"/><circle cx="297.4" cy="1053.6" r="4.55"/><circle cx="294.9" cy="1058.6" r="4.55"/><circle cx="298.8" cy="1062.9" r="4.55"/><circle cx="299.5" cy="1071.3" r="4.55"/><circle cx="297.4" cy="1063.1" r="4.55"/><circle cx="303.7" cy="1073.4" r="4.55"/><circle cx="298.1" cy="1061.9" r="4.55"/><circle cx="294.3" cy="1055.4" r="4.55"/><circle cx="296.9" cy="1059.1" r="4.55"/><circle cx="297.8" cy="1049.9" r="4.55"/><circle cx="297" cy="1062.7" r="4.55"/><circle cx="294.5" cy="1062.3" r="4.55"/><circle cx="295.7" cy="1065.1" r="4.55"/><circle cx="294.9" cy="1063.4" r="4.55"/><circle cx="294.3" cy="1053.8" r="4.55"/><circle cx="302.9" cy="1075.5" r="4.55"/><circle cx="321.2" cy="1050.7" r="4.55"/><circle cx="375.6" cy="1077.9" r="4.55"/><circle cx="371.3" cy="1093.7" r="4.55"/><circle cx="361.3" cy="1086.5" r="4.55"/><circle cx="367.1" cy="1080.8" r="4.55"/><circle cx="257.5" cy="1108" r="4.55"/><circle cx="223.1" cy="1145.3" r="4.55"/><circle cx="223.1" cy="1151" r="4.55"/><circle cx="242.4" cy="1162.4" r="4.55"/><circle cx="244.6" cy="1165.3" r="4.55"/><circle cx="256.8" cy="1175.3" r="4.55"/><circle cx="265.4" cy="1174.6" r="4.55"/><circle cx="252.5" cy="1181.8" r="4.55"/><circle cx="263.9" cy="1191.1" r="4.55"/><circle cx="247.5" cy="1197.5" r="4.55"/><circle cx="238.1" cy="1206.1" r="4.55"/><circle cx="246" cy="1205.4" r="4.55"/><circle cx="271.8" cy="1204" r="4.55"/><circle cx="294.7" cy="1206.1" r="4.55"/><circle cx="304.7" cy="1199.7" r="4.55"/><circle cx="311.2" cy="1188.2" r="4.55"/><circle cx="316.9" cy="1206.1" r="4.55"/><circle cx="321.9" cy="1205.4" r="4.55"/><circle cx="246.7" cy="1225.2" r="4.55"/><circle cx="365.6" cy="1146.7" r="4.55"/><circle cx="371.3" cy="1146.7" r="4.55"/><circle cx="379.9" cy="1147.4" r="4.55"/><circle cx="375.6" cy="1128.1" r="4.55"/><circle cx="375.6" cy="1136.7" r="4.55"/><circle cx="372.8" cy="1141" r="4.55"/><circle cx="352.7" cy="1192.5" r="4.55"/><circle cx="372.8" cy="1180.3" r="4.55"/><circle cx="342.7" cy="1171" r="4.55"/><circle cx="351.3" cy="1171" r="4.55"/><circle cx="334.1" cy="1182.5" r="4.55"/><circle cx="342.7" cy="1051.4" r="4.55"/><circle cx="344.9" cy="1085.3" r="4.55"/><circle cx="336.3" cy="1054.8" r="4.55"/><circle cx="335.6" cy="1057.7" r="4.55"/><circle cx="342.3" cy="1094.9" r="4.55"/><circle cx="341.6" cy="1078.5" r="4.55"/><circle cx="346.9" cy="1072.5" r="4.55"/><circle cx="338.6" cy="1057.3" r="4.55"/><circle cx="349.3" cy="1049.8" r="4.55"/><circle cx="340.2" cy="1084.2" r="4.55"/><circle cx="345.6" cy="1065.5" r="4.55"/><circle cx="330.6" cy="1075.4" r="4.55"/><circle cx="342.9" cy="1089.2" r="4.55"/><circle cx="341.5" cy="1056.2" r="4.55"/><circle cx="352.8" cy="1053.8" r="4.55"/><circle cx="330.5" cy="1082.6" r="4.55"/><circle cx="340.1" cy="1089" r="4.55"/><circle cx="350.5" cy="1096.9" r="4.55"/><circle cx="342.9" cy="1083.7" r="4.55"/><circle cx="353.2" cy="1053.9" r="4.55"/><circle cx="349.5" cy="1061.7" r="4.55"/><circle cx="343.5" cy="1086" r="4.55"/><circle cx="329.5" cy="1075.3" r="4.55"/><circle cx="347.1" cy="1050.7" r="4.55"/><circle cx="360.3" cy="1053.4" r="4.55"/><circle cx="341.1" cy="1090.7" r="4.55"/><circle cx="342.6" cy="1050.2" r="4.55"/><circle cx="343.8" cy="1068.6" r="4.55"/><circle cx="352.9" cy="1052.3" r="4.55"/><circle cx="341.4" cy="1080.8" r="4.55"/><circle cx="343.3" cy="1086.4" r="4.55"/><circle cx="339" cy="1060.4" r="4.55"/><circle cx="343.8" cy="1082.9" r="4.55"/><circle cx="341.4" cy="1086.8" r="4.55"/><circle cx="355.5" cy="1055.3" r="4.55"/><circle cx="339.1" cy="1059.3" r="4.55"/><circle cx="341.9" cy="1055.9" r="4.55"/><circle cx="343.9" cy="1062" r="4.55"/><circle cx="337.2" cy="1055.2" r="4.55"/><circle cx="343.6" cy="1064.3" r="4.55"/><circle cx="341.9" cy="1085" r="4.55"/><circle cx="339.7" cy="1088.3" r="4.55"/><circle cx="330.1" cy="1082.7" r="4.55"/><circle cx="339.8" cy="1090" r="4.55"/><circle cx="342.5" cy="1074" r="4.55"/><circle cx="351.8" cy="1096.5" r="4.55"/><circle cx="339.6" cy="1057.2" r="4.55"/><circle cx="357.4" cy="1052" r="4.55"/><circle cx="338.6" cy="1084.6" r="4.55"/><circle cx="347.5" cy="1053.5" r="4.55"/><circle cx="339.9" cy="1080.4" r="4.55"/><circle cx="335" cy="1090.5" r="4.55"/><circle cx="323.9" cy="1074.7" r="4.55"/><circle cx="344" cy="1080.3" r="4.55"/><circle cx="332.3" cy="1061.2" r="4.55"/><circle cx="251" cy="1097.1" r="4.55"/><circle cx="246.9" cy="1103.1" r="4.55"/><circle cx="244.2" cy="1097.2" r="4.55"/><circle cx="251.9" cy="1101.4" r="4.55"/><circle cx="245.5" cy="1095.3" r="4.55"/><circle cx="246.6" cy="1100" r="4.55"/><circle cx="249.7" cy="1099.3" r="4.55"/><circle cx="244.3" cy="1097.5" r="4.55"/><circle cx="245.6" cy="1100.9" r="4.55"/><circle cx="251.8" cy="1102.8" r="4.55"/><circle cx="254.6" cy="1106" r="4.55"/><circle cx="335.8" cy="1166.3" r="4.55"/><circle cx="331.2" cy="1138.4" r="4.55"/><circle cx="319.9" cy="1166.6" r="4.55"/><circle cx="323.1" cy="1151.6" r="4.55"/><circle cx="315" cy="1144.9" r="4.55"/><circle cx="327" cy="1162.8" r="4.55"/><circle cx="327.5" cy="1138.4" r="4.55"/><circle cx="323" cy="1127.7" r="4.55"/><circle cx="319.7" cy="1125.3" r="4.55"/><circle cx="322.7" cy="1188.8" r="4.55"/><circle cx="323.7" cy="1126.2" r="4.55"/><circle cx="333.5" cy="1175.2" r="4.55"/><circle cx="323.5" cy="1173.1" r="4.55"/><circle cx="330.9" cy="1151" r="4.55"/><circle cx="335.6" cy="1141.3" r="4.55"/><circle cx="320.3" cy="1122.7" r="4.55"/><circle cx="321.1" cy="1184" r="4.55"/><circle cx="328.1" cy="1142.9" r="4.55"/><circle cx="317.4" cy="1145.5" r="4.55"/><circle cx="330.1" cy="1159.6" r="4.55"/><circle cx="335.8" cy="1172" r="4.55"/><circle cx="317.5" cy="1137.2" r="4.55"/><circle cx="315.4" cy="1151.4" r="4.55"/><circle cx="327.1" cy="1139.9" r="4.55"/><circle cx="328.2" cy="1148.1" r="4.55"/><circle cx="337.3" cy="1159.4" r="4.55"/><circle cx="326.7" cy="1184" r="4.55"/><circle cx="327.2" cy="1143.7" r="4.55"/><circle cx="326.1" cy="1179.8" r="4.55"/><circle cx="323.5" cy="1169.1" r="4.55"/><circle cx="317.8" cy="1135.2" r="4.55"/><circle cx="322.4" cy="1163.9" r="4.55"/><circle cx="337" cy="1159" r="4.55"/><circle cx="326.5" cy="1128.9" r="4.55"/><circle cx="326.9" cy="1146.6" r="4.55"/><circle cx="331.9" cy="1157.5" r="4.55"/><circle cx="321" cy="1176" r="4.55"/><circle cx="337.2" cy="1162.7" r="4.55"/><circle cx="333.5" cy="1146.7" r="4.55"/><circle cx="314.2" cy="1132.1" r="4.55"/><circle cx="320.5" cy="1190.8" r="4.55"/><circle cx="328.8" cy="1145.5" r="4.55"/><circle cx="325.1" cy="1172.4" r="4.55"/><circle cx="328" cy="1138.4" r="4.55"/><circle cx="321.6" cy="1124.2" r="4.55"/><circle cx="320.2" cy="1168.2" r="4.55"/><circle cx="325" cy="1140.4" r="4.55"/><circle cx="326.4" cy="1164.6" r="4.55"/><circle cx="314.3" cy="1152.2" r="4.55"/><circle cx="322" cy="1160.4" r="4.55"/><circle cx="339.5" cy="1162.8" r="4.55"/><circle cx="329.5" cy="1142.4" r="4.55"/><circle cx="338.5" cy="1164.7" r="4.55"/><circle cx="317.6" cy="1126.2" r="4.55"/><circle cx="327.3" cy="1140.6" r="4.55"/><circle cx="320.6" cy="1127.9" r="4.55"/><circle cx="329.2" cy="1155" r="4.55"/><circle cx="330" cy="1164.1" r="4.55"/><circle cx="319.3" cy="1124" r="4.55"/><circle cx="328.3" cy="1134.9" r="4.55"/><circle cx="320.2" cy="1170.4" r="4.55"/><circle cx="327.6" cy="1144.8" r="4.55"/><circle cx="329.1" cy="1188.5" r="4.55"/><circle cx="336.7" cy="1176.8" r="4.55"/><circle cx="328" cy="1149.2" r="4.55"/><circle cx="325.2" cy="1175.8" r="4.55"/><circle cx="320.9" cy="1174.1" r="4.55"/><circle cx="333" cy="1139" r="4.55"/><circle cx="318.8" cy="1174.8" r="4.55"/><circle cx="325.9" cy="1138" r="4.55"/><circle cx="327.9" cy="1157.2" r="4.55"/><circle cx="332.1" cy="1173.3" r="4.55"/><circle cx="320.2" cy="1128.9" r="4.55"/><circle cx="323.2" cy="1124.9" r="4.55"/><circle cx="330.4" cy="1139.5" r="4.55"/><circle cx="323.6" cy="1153.1" r="4.55"/><circle cx="321" cy="1185.1" r="4.55"/><circle cx="322.5" cy="1164" r="4.55"/><circle cx="323.8" cy="1170.8" r="4.55"/><circle cx="328" cy="1185.1" r="4.55"/><circle cx="338.8" cy="1169" r="4.55"/><circle cx="324.7" cy="1175.9" r="4.55"/><circle cx="335.7" cy="1141.9" r="4.55"/><circle cx="323.5" cy="1151.1" r="4.55"/><circle cx="337.7" cy="1161.8" r="4.55"/><circle cx="324.3" cy="1095.7" r="4.55"/><circle cx="303.4" cy="1094.1" r="4.55"/><circle cx="291.8" cy="1119.3" r="4.55"/><circle cx="311.3" cy="1159.7" r="4.55"/><circle cx="339.3" cy="1104.8" r="4.55"/><circle cx="322.4" cy="1160.5" r="4.55"/><circle cx="317" cy="1133.9" r="4.55"/><circle cx="340.6" cy="1102.7" r="4.55"/><circle cx="284.1" cy="1123" r="4.55"/><circle cx="311.2" cy="1112.5" r="4.55"/><circle cx="288.4" cy="1141.2" r="4.55"/><circle cx="315.3" cy="1129" r="4.55"/><circle cx="327.5" cy="1148.7" r="4.55"/><circle cx="321.2" cy="1109.2" r="4.55"/><circle cx="288.5" cy="1140.3" r="4.55"/><circle cx="338.4" cy="1112.2" r="4.55"/><circle cx="306.2" cy="1134.6" r="4.55"/><circle cx="324.1" cy="1095.3" r="4.55"/><circle cx="288" cy="1137.5" r="4.55"/><circle cx="340" cy="1103.8" r="4.55"/><circle cx="290.9" cy="1123.4" r="4.55"/><circle cx="312.2" cy="1109" r="4.55"/><circle cx="325.3" cy="1163" r="4.55"/><circle cx="293.9" cy="1119.2" r="4.55"/><circle cx="314.4" cy="1125.8" r="4.55"/><circle cx="305.9" cy="1129.5" r="4.55"/><circle cx="309.3" cy="1159.4" r="4.55"/><circle cx="286.6" cy="1142" r="4.55"/><circle cx="339.5" cy="1103.8" r="4.55"/><circle cx="335.7" cy="1108.6" r="4.55"/><circle cx="324.5" cy="1148.3" r="4.55"/><circle cx="308.3" cy="1157.9" r="4.55"/><circle cx="285.2" cy="1121.9" r="4.55"/><circle cx="286" cy="1142.4" r="4.55"/><circle cx="317" cy="1131.4" r="4.55"/><circle cx="322.3" cy="1110.7" r="4.55"/><circle cx="341" cy="1103" r="4.55"/><circle cx="294.4" cy="1119.8" r="4.55"/><circle cx="313.4" cy="1111.2" r="4.55"/><circle cx="295.3" cy="1121.9" r="4.55"/><circle cx="326.3" cy="1152.3" r="4.55"/><circle cx="325.2" cy="1093.6" r="4.55"/><circle cx="338.9" cy="1112.5" r="4.55"/><circle cx="306.3" cy="1135.6" r="4.55"/><circle cx="288.8" cy="1118.2" r="4.55"/><circle cx="335.5" cy="1180.2" r="4.55"/><circle cx="315.9" cy="1182.6" r="4.55"/><circle cx="330.2" cy="1191.1" r="4.55"/><circle cx="316.2" cy="1164.6" r="4.55"/><circle cx="315.2" cy="1167.5" r="4.55"/><circle cx="330.7" cy="1192.4" r="4.55"/><circle cx="341.2" cy="1177.7" r="4.55"/><circle cx="323.5" cy="1166.9" r="4.55"/><circle cx="342.6" cy="1164.3" r="4.55"/><circle cx="327.6" cy="1153.6" r="4.55"/><circle cx="326" cy="1168" r="4.55"/><circle cx="333.7" cy="1174.9" r="4.55"/><circle cx="330.1" cy="1194.3" r="4.55"/><circle cx="324.9" cy="1167.9" r="4.55"/><circle cx="340.8" cy="1164.4" r="4.55"/><circle cx="314.1" cy="1186.7" r="4.55"/><circle cx="314.7" cy="1165.2" r="4.55"/><circle cx="343.7" cy="1176.2" r="4.55"/><circle cx="332.7" cy="1153" r="4.55"/><circle cx="342.9" cy="1177.1" r="4.55"/><circle cx="328" cy="1152.4" r="4.55"/><circle cx="339.9" cy="1160.8" r="4.55"/><circle cx="344.4" cy="1164.5" r="4.55"/><circle cx="334.6" cy="1176.5" r="4.55"/><circle cx="329.8" cy="1152.5" r="4.55"/><circle cx="330" cy="1190.1" r="4.55"/><circle cx="326.5" cy="1166.5" r="4.55"/><circle cx="323.8" cy="1165" r="4.55"/><circle cx="340.3" cy="1176.5" r="4.55"/><circle cx="339.2" cy="1179.3" r="4.55"/><circle cx="300.3" cy="1103" r="4.55"/><circle cx="294.6" cy="1100.8" r="4.55"/><circle cx="293.3" cy="1108.8" r="4.55"/><circle cx="309.1" cy="1126.1" r="4.55"/><circle cx="321.7" cy="1109.8" r="4.55"/><circle cx="320.4" cy="1113" r="4.55"/><circle cx="310.8" cy="1103" r="4.55"/><circle cx="303.6" cy="1104.6" r="4.55"/><circle cx="318.6" cy="1107.8" r="4.55"/><circle cx="316.4" cy="1102.1" r="4.55"/><circle cx="306.3" cy="1104.4" r="4.55"/><circle cx="299.1" cy="1125.6" r="4.55"/><circle cx="307.4" cy="1103" r="4.55"/><circle cx="313.6" cy="1099.6" r="4.55"/><circle cx="311.3" cy="1127.1" r="4.55"/><circle cx="295.6" cy="1106.9" r="4.55"/><circle cx="303" cy="1105.6" r="4.55"/><circle cx="295.2" cy="1111.1" r="4.55"/><circle cx="316" cy="1093.7" r="4.55"/><circle cx="321.1" cy="1111.6" r="4.55"/><circle cx="315.9" cy="1100.1" r="4.55"/><circle cx="308.8" cy="1126.4" r="4.55"/><circle cx="310.7" cy="1096.5" r="4.55"/><circle cx="296.3" cy="1100.3" r="4.55"/><circle cx="321.9" cy="1113" r="4.55"/><circle cx="302.8" cy="1101.6" r="4.55"/><circle cx="320.8" cy="1109.2" r="4.55"/><circle cx="311.4" cy="1125.7" r="4.55"/><circle cx="301.2" cy="1102.2" r="4.55"/><circle cx="310.8" cy="1097.8" r="4.55"/><circle cx="317.7" cy="1098.6" r="4.55"/><circle cx="320.1" cy="1109.7" r="4.55"/><circle cx="309.5" cy="1126.6" r="4.55"/><circle cx="311.3" cy="1103.9" r="4.55"/><circle cx="317.2" cy="1098.6" r="4.55"/><circle cx="316" cy="1109.8" r="4.55"/><circle cx="306.6" cy="1106.5" r="4.55"/><circle cx="302.3" cy="1102" r="4.55"/><circle cx="296.4" cy="1101.2" r="4.55"/><circle cx="302.3" cy="1124.2" r="4.55"/><circle cx="358.1" cy="1142.3" r="4.55"/><circle cx="346.8" cy="1153.6" r="4.55"/><circle cx="353" cy="1135.5" r="4.55"/><circle cx="355.8" cy="1154.8" r="4.55"/><circle cx="354.8" cy="1134.5" r="4.55"/><circle cx="351.3" cy="1139.6" r="4.55"/><circle cx="357.4" cy="1160.8" r="4.55"/><circle cx="350.1" cy="1148.4" r="4.55"/><circle cx="356.7" cy="1144.8" r="4.55"/><circle cx="346" cy="1154.4" r="4.55"/><circle cx="348.4" cy="1135.9" r="4.55"/><circle cx="355.7" cy="1146.8" r="4.55"/><circle cx="355.4" cy="1151.7" r="4.55"/><circle cx="357.5" cy="1149.5" r="4.55"/><circle cx="348.5" cy="1154.9" r="4.55"/><circle cx="342.8" cy="1156.1" r="4.55"/><circle cx="357.7" cy="1152.5" r="4.55"/><circle cx="350.3" cy="1142.3" r="4.55"/><circle cx="362.1" cy="1162.5" r="4.55"/><circle cx="356.7" cy="1145.2" r="4.55"/><circle cx="358.1" cy="1162.8" r="4.55"/><circle cx="362.7" cy="1143.1" r="4.55"/><circle cx="353.5" cy="1151.7" r="4.55"/><circle cx="353.3" cy="1146.9" r="4.55"/><circle cx="344.1" cy="1152" r="4.55"/><circle cx="361.4" cy="1141.4" r="4.55"/><circle cx="356.8" cy="1160.2" r="4.55"/><circle cx="355.6" cy="1144.6" r="4.55"/><circle cx="345.9" cy="1154.3" r="4.55"/><circle cx="353.1" cy="1147.9" r="4.55"/><circle cx="360.5" cy="1144.5" r="4.55"/><circle cx="358" cy="1144.9" r="4.55"/><circle cx="359.5" cy="1135.9" r="4.55"/><circle cx="345.5" cy="1133.9" r="4.55"/><circle cx="360.5" cy="1137.8" r="4.55"/><circle cx="354.2" cy="1157" r="4.55"/><circle cx="345.6" cy="1157.5" r="4.55"/><circle cx="347.9" cy="1155" r="4.55"/><circle cx="379.8" cy="1161.8" r="4.55"/><circle cx="389.4" cy="1177.2" r="4.55"/><circle cx="379.6" cy="1165.3" r="4.55"/><circle cx="384.5" cy="1169.2" r="4.55"/><circle cx="378.1" cy="1160.4" r="4.55"/><circle cx="379.1" cy="1159.8" r="4.55"/><circle cx="385.8" cy="1173.1" r="4.55"/><circle cx="380" cy="1162.1" r="4.55"/><circle cx="380.7" cy="1160.4" r="4.55"/><circle cx="386.9" cy="1174.1" r="4.55"/><circle cx="386.9" cy="1173.4" r="4.55"/><circle cx="387" cy="1174.6" r="4.55"/><circle cx="379.8" cy="1166" r="4.55"/><circle cx="377" cy="1161.6" r="4.55"/><circle cx="392.7" cy="1177.1" r="4.55"/><circle cx="380.6" cy="1167.5" r="4.55"/><circle cx="376.4" cy="1164.6" r="4.55"/><circle cx="388.8" cy="1175.6" r="4.55"/><circle cx="394.7" cy="1179.8" r="4.55"/><circle cx="394.8" cy="1178" r="4.55"/><circle cx="395.4" cy="1179.6" r="4.55"/><circle cx="394.9" cy="1176.2" r="4.55"/><circle cx="392.8" cy="1176.5" r="4.55"/><circle cx="396.8" cy="1172.2" r="4.55"/><circle cx="395.9" cy="1177.1" r="4.55"/><circle cx="395.4" cy="1179.7" r="4.55"/><circle cx="398.7" cy="1181.9" r="4.55"/><circle cx="391.8" cy="1172.9" r="4.55"/><circle cx="396.6" cy="1179.4" r="4.55"/><circle cx="393.4" cy="1181.3" r="4.55"/><circle cx="361.3" cy="1196.1" r="4.55"/><circle cx="359.5" cy="1199.1" r="4.55"/><circle cx="358.5" cy="1197.2" r="4.55"/><circle cx="359.5" cy="1194.6" r="4.55"/><circle cx="361.4" cy="1199.8" r="4.55"/><circle cx="359.6" cy="1196.1" r="4.55"/><circle cx="359.8" cy="1197.1" r="4.55"/><circle cx="361" cy="1190.7" r="4.55"/><circle cx="354.2" cy="1198.2" r="4.55"/><circle cx="328.7" cy="1197.2" r="4.55"/><circle cx="329.8" cy="1192.5" r="4.55"/><circle cx="329.1" cy="1196.7" r="4.55"/><circle cx="332.8" cy="1198.8" r="4.55"/><circle cx="332.6" cy="1198.3" r="4.55"/><circle cx="322.9" cy="1192.3" r="4.55"/><circle cx="317.6" cy="1199" r="4.55"/><circle cx="332.1" cy="1196.3" r="4.55"/><circle cx="323.9" cy="1195.4" r="4.55"/><circle cx="316.7" cy="1194.9" r="4.55"/><circle cx="322.6" cy="1191.2" r="4.55"/><circle cx="319.9" cy="1200" r="4.55"/><circle cx="332.5" cy="1196.7" r="4.55"/><circle cx="321.5" cy="1192.9" r="4.55"/><circle cx="331" cy="1199.5" r="4.55"/><circle cx="332.3" cy="1191.5" r="4.55"/><circle cx="333.3" cy="1194.9" r="4.55"/><circle cx="331.2" cy="1199.4" r="4.55"/><circle cx="327.6" cy="1196.6" r="4.55"/><circle cx="326.3" cy="1197.4" r="4.55"/><circle cx="633.7" cy="1021.1" r="4.55"/><circle cx="633.3" cy="1022.4" r="4.55"/><circle cx="632.7" cy="1020.9" r="4.55"/><circle cx="632.1" cy="1020.8" r="4.55"/><circle cx="632" cy="1021.8" r="4.55"/><circle cx="632.1" cy="1022.1" r="4.55"/><circle cx="633.5" cy="1021.4" r="4.55"/></g>
</g>
<rect x="143.5" y="859.5" width="133.0" height="93.9" rx="1" ry="1" fill="#fff" fill-opacity="0.8"/>
<rect x="140.8" y="856.8" width="138.4" height="99.3" rx="3.5" ry="3.5" fill="none" stroke="#c8c8c8" stroke-opacity="0.85" stroke-width="5.6"/>
<circle cx="162.2" cy="872.9" r="4.6" fill="#3f2a5c" stroke="#000" stroke-width="1.1"/>
<text x="173.4" y="877.2" font-size="23.61" textLength="85.2" lengthAdjust="spacingAndGlyphs" fill="#000">2 weeks</text>
<circle cx="162.2" cy="895" r="4.6" fill="#33689a" stroke="#000" stroke-width="1.1"/>
<text x="174.1" y="900.7" font-size="23.61" textLength="84.6" lengthAdjust="spacingAndGlyphs" fill="#000">4 weeks</text>
<circle cx="162.2" cy="917.2" r="4.6" fill="#3db27c" stroke="#000" stroke-width="1.1"/>
<text x="173.5" y="924.1" font-size="23.61" textLength="85.1" lengthAdjust="spacingAndGlyphs" fill="#000">9 weeks</text>
<circle cx="162.2" cy="939.3" r="4.6" fill="#f5e132" stroke="#000" stroke-width="1.1"/>
<text x="173.6" y="947.6" font-size="23.61" textLength="96.5" lengthAdjust="spacingAndGlyphs" fill="#000">84 weeks</text>
<rect x="132.9" y="849.4" width="536.5" height="399.2" fill="none" stroke="#000" stroke-width="3.4"/>
<path d="M127.9 884.6H132.9M127.9 933.5H132.9M127.9 982.3H132.9M127.9 1031.2H132.9M127.9 1080.1H132.9M127.9 1129H132.9M127.9 1177.8H132.9M127.9 1226.7H132.9M148.3 1248.6V1253.8M266.1 1248.6V1253.8M383.9 1248.6V1253.8M501.8 1248.6V1253.8M619.6 1248.6V1253.8" stroke="#000" stroke-width="3" fill="none"/>
<text x="90.6" y="894.8" font-size="31.72" textLength="33.9" lengthAdjust="spacingAndGlyphs" fill="#000">12</text>
<text x="90.3" y="943.4" font-size="31.72" textLength="33.9" lengthAdjust="spacingAndGlyphs" fill="#000">10</text>
<text x="107.4" y="992" font-size="31.72" textLength="17" lengthAdjust="spacingAndGlyphs" fill="#000">8</text>
<text x="107.4" y="1040.6" font-size="31.72" textLength="17" lengthAdjust="spacingAndGlyphs" fill="#000">6</text>
<text x="106.9" y="1089.2" font-size="31.72" textLength="17" lengthAdjust="spacingAndGlyphs" fill="#000">4</text>
<text x="107.6" y="1137.8" font-size="31.72" textLength="17" lengthAdjust="spacingAndGlyphs" fill="#000">2</text>
<text x="107.2" y="1186.4" font-size="31.72" textLength="17" lengthAdjust="spacingAndGlyphs" fill="#000">0</text>
<text x="97.4" y="1235" font-size="31.72" textLength="27.1" lengthAdjust="spacingAndGlyphs" fill="#000">-2</text>
<text x="135.4" y="1281.7" font-size="31.72" textLength="27.5" lengthAdjust="spacingAndGlyphs" fill="#000">-5</text>
<text x="258.6" y="1281.7" font-size="31.72" textLength="17.6" lengthAdjust="spacingAndGlyphs" fill="#000">0</text>
<text x="374.6" y="1281.7" font-size="31.72" textLength="18.8" lengthAdjust="spacingAndGlyphs" fill="#000">5</text>
<text x="483.9" y="1281.7" font-size="31.72" textLength="33.9" lengthAdjust="spacingAndGlyphs" fill="#000">10</text>
<text x="602.7" y="1281.7" font-size="31.72" textLength="34.1" lengthAdjust="spacingAndGlyphs" fill="#000">15</text>
<text x="347.2" y="1320.1" font-size="31.72" textLength="105.3" lengthAdjust="spacingAndGlyphs" fill="#000">UMAP1</text>
<g transform="translate(86 1102.0) rotate(-90)"><text x="-2.4" y="0" font-size="31.72" textLength="105.5" lengthAdjust="spacingAndGlyphs" fill="#000">UMAP2</text></g>
<text x="304.5" y="833.7" font-size="34.84" font-weight="bold" textLength="193.8" lengthAdjust="spacingAndGlyphs" fill="#231815">Kernel SVM</text>
<g clip-path="url(#cb1)">
<rect x="795.9" y="849.4" width="536.6" height="399.2" fill="#d2da28"/>
<path d="M1122.4 963.9L1123.9 969.6L1132.5 981.1L1136.8 982.5L1131 986.8L1136 994L1136 1006.8L1153.9 1007.6L1158.2 1004L1166.8 1011.1L1175.4 1019.7L1201.2 1000.4L1218.4 1000.4L1239.9 1015.4L1264.2 1024L1278.5 1028.3L1292.9 1036.9L1308.6 1050L1312.9 1052.1L1335.5 1063.6L1335.5 1065.6L1335.5 1240.3L1335.5 1238.3L1301.5 1219L1258.5 1191L1215.5 1161L1194 1146.6L1164 1126.6L1151.1 1118L1126.7 1102.2L1103.8 1092.2L1088.8 1088.5L1060.1 1059.8L1031.5 1002.5L1031.5 936.7L1042.9 936.7L1060.1 945.3L1088.8 959.6ZM1004.6 1023.8L1043.4 1023.8L1043.4 1000.2L1064.9 1000.2L1128.3 1000.2L1136 1000.2L1136 1006.8L1153.9 1007.6L1158.3 1004L1166.9 1011.2L1175.4 1019.8L1180 1016.6L1180 1139.4L1151.9 1122L1148.8 1115.8L1128.3 1101.5L1118.1 1094.3L1113 1087.2L1069 1087.2L1069 1111.7L1049.6 1100.5L1049.6 1078L1046.5 1073.9L1037.3 1073.9L1037.3 1055.5L1043.4 1051.4L1043.4 1047.3L1038.3 1045.2L1037.3 1039.1L1031.2 1035L1020.9 1035L1015.8 1039.1L1004.6 1039.1ZM922.6 1042.1L934.1 1042.1L934.1 1053.6L945.5 1062.2L957 1072.2L969.9 1073.6L978.5 1063.6L978.5 1059.3L988.5 1056.5L997.1 1053.6L1002.8 1045L1005.7 1024.9L1011.4 1024.9L1017.2 1035L1037.2 1035L1038.6 1045L1031.5 1059.3L1030.1 1072.2L1008.6 1073.6L1008.6 1102.3L995.7 1116.6L981.4 1130.9L978.5 1145.3L974.2 1159.6L967 1166.7L969.9 1181.1L959.9 1189.7L952.7 1195.4L939.8 1186.8L931.2 1173.9L925.5 1159.6L926.9 1145.3L929.8 1130.9L928.4 1116.6L929.8 1105.2L928.4 1088L928.4 1069.3L922.6 1059.3Z" fill="#219a86" stroke="#219a86" stroke-width="1.2" stroke-linejoin="round"/>
<path d="M861 846.4L1335.5 846.4L1335.5 1065.6L1335.5 1063.6L1312.9 1052.1L1292.9 1036.9L1278.5 1028.3L1264.2 1024L1239.9 1015.4L1218.4 1000.4L1201.2 1000.4L1175.4 1019.7L1166.8 1011.1L1158.2 1004L1153.9 1007.6L1136 1006.8L1136 994L1131 986.8L1136.8 982.5L1132.5 981.1L1123.9 969.6L1122.4 963.9L1117.4 959.6L1031.5 959.6L1031.5 1002.5L1015.7 1021.2L1008.6 1021.2L994.2 1014L985.7 1006.8L967 999.7L957 991.1L949.8 982.5L949.8 962.4L931.2 956.7L916.9 942.4L902.6 916.6L888.3 888L873.9 866.5Z" fill="#33628c" stroke="#33628c" stroke-width="1.2" stroke-linejoin="round"/>
<path d="M1031.5 936.7L1044.4 936.7L1044.4 1002.5L1031.5 1002.5ZM1214.8 895.1L1227 885.8L1229.9 888L1228.4 895.1L1218.4 900.1Z" fill="#219a86" stroke="#219a86" stroke-width="1.2" stroke-linejoin="round"/>
<path d="M1010.7 1100.5L1049.6 1100.5L1068 1111.7L1069 1120.9L1031.2 1120.9L1017.9 1116.9L1010.7 1105.6Z" fill="#33628c" stroke="#33628c" stroke-width="1.2" stroke-linejoin="round"/>
<path d="M792.9 866.5L809.5 877.9L823.8 899.4L835.3 919.5L848.2 942.4L859.6 963.9L868.2 979.6L876.8 994L884 1005.4L886.8 1014L886.8 1036.9L891.1 1044.9L901.1 1050.7L918.3 1051.4L912.6 1057.8L906.9 1066.4L902.6 1075L902.6 1086.5L906.9 1092.2L916.9 1090.8L925.5 1086.5L934.1 1092.2L934.1 1100.8L928.4 1108L922.6 1105.1L914 1108L905.4 1110.8L901.1 1113.7L904 1116.6L901.1 1120.9L905.4 1125.1L899.7 1130.9L888.3 1138L873.9 1145.2L856.7 1152.4L845.3 1156.7L831 1162.4L810.9 1168.1L809.5 1172.4L792.9 1181.6ZM1020 846.4L1135.3 846.4L1136 882.2L1141.1 886.5L1140.3 902.3L1136 905.2L1136 930.9L1129.6 939.5L1123.9 948.1L1122.4 963.9L1088.8 959.6L1060.1 945.3L1037.2 933.8L1037.2 908L1031.5 888L1028.6 860.8ZM1125.3 969.6L1135.3 971L1136.1 979.6L1129.6 979.6ZM1014.8 1015.6L1020.9 1010.5L1026 1002.3L1035.2 997.2L1043.4 1000.2L1043.4 1023.8L1035.2 1031.9L1023 1031.9L1020.9 1023.8L1015.3 1021.7ZM1064.9 1010.5L1072.1 1005.3L1082.3 1003.3L1113 1003.3L1122.2 1007.4L1128.3 1011L1122.2 1015.6L1118.1 1020.7L1118.1 1061.6L1123.2 1066.7L1123.2 1071.8L1118.1 1077L1118.1 1094.3L1113 1087.2L1102.8 1087.2L1102.8 1082.1L1113 1080L1113 1057.5L1095.6 1057.5L1101.7 1063.7L1095.6 1069.8L1092.5 1082.1L1087.4 1080L1082.3 1071.8L1080.3 1061.6L1082.3 1051.4L1091.5 1051.4L1091.5 1053.4L1101.7 1053.4L1102.8 1047.3L1107.9 1043.2L1107.9 1039.1L1097.6 1037.1L1082.3 1035L1070 1030.9L1070 1018.6ZM1069 1087.2L1085.4 1087.2L1085.4 1102.5L1088.4 1106.6L1102.8 1096.4L1102.8 1087.2L1113 1087.2L1118.1 1094.3L1128.3 1101.5L1148.8 1115.8L1151.9 1122L1164 1126.6L1194.1 1146.7L1215.5 1161L1258.5 1191.1L1301.5 1219L1335.5 1238.4L1335.5 1240L1335.5 1251.6L1041.5 1251.6L1041.5 1236.9L1045.8 1231.2L1048.7 1219.7L1053 1209.7L1057.3 1202.5L1060.1 1188.2L1063 1171L1069.5 1166.7L1069.5 1139.5L1065.2 1128.1L1069.5 1123.8Z" fill="#412a60" stroke="#412a60" stroke-width="1.2" stroke-linejoin="round"/>
<g fill="#331a4a" fill-opacity="0.5" stroke="#000" stroke-opacity="0.55" stroke-width="1.35"><circle cx="1075.4" cy="882.7" r="4.55"/><circle cx="1077" cy="882.2" r="4.55"/><circle cx="1072.1" cy="883" r="4.55"/><circle cx="1073.1" cy="880.8" r="4.55"/><circle cx="1077.5" cy="883.9" r="4.55"/><circle cx="1079.1" cy="883.6" r="4.55"/><circle cx="1078.6" cy="881.6" r="4.55"/><circle cx="1073.3" cy="881.5" r="4.55"/><circle cx="1081.5" cy="883.6" r="4.55"/><circle cx="1069.5" cy="884.5" r="4.55"/><circle cx="1097.9" cy="915.3" r="4.55"/><circle cx="1078.9" cy="885.7" r="4.55"/><circle cx="1078.6" cy="887" r="4.55"/><circle cx="1100" cy="917.9" r="4.55"/><circle cx="1106.6" cy="928.9" r="4.55"/><circle cx="1093.5" cy="898.7" r="4.55"/><circle cx="1108.7" cy="926" r="4.55"/><circle cx="1097.6" cy="908.8" r="4.55"/><circle cx="1102.8" cy="915.4" r="4.55"/><circle cx="1085.1" cy="888.8" r="4.55"/><circle cx="1090.4" cy="905.4" r="4.55"/><circle cx="1095.9" cy="915.4" r="4.55"/><circle cx="1092.4" cy="898.4" r="4.55"/><circle cx="1109.2" cy="926.6" r="4.55"/><circle cx="1086.3" cy="895" r="4.55"/><circle cx="1105.6" cy="924.5" r="4.55"/><circle cx="1102.9" cy="922.1" r="4.55"/><circle cx="1111.5" cy="935.5" r="4.55"/><circle cx="1091" cy="900.6" r="4.55"/><circle cx="1087.7" cy="891.2" r="4.55"/><circle cx="1090.4" cy="904.6" r="4.55"/><circle cx="1083.7" cy="887.9" r="4.55"/><circle cx="1082.4" cy="887" r="4.55"/><circle cx="1099.8" cy="926" r="4.55"/><circle cx="1094.3" cy="899.6" r="4.55"/><circle cx="1080.8" cy="887.9" r="4.55"/><circle cx="1109.9" cy="929.7" r="4.55"/><circle cx="1082.4" cy="888.2" r="4.55"/><circle cx="1093.7" cy="896.9" r="4.55"/><circle cx="1113.7" cy="939.1" r="4.55"/><circle cx="1092.8" cy="908.9" r="4.55"/><circle cx="1101.6" cy="921.9" r="4.55"/><circle cx="1093.3" cy="902.3" r="4.55"/><circle cx="1081.3" cy="892.8" r="4.55"/><circle cx="1079" cy="886.1" r="4.55"/><circle cx="1098.2" cy="915.6" r="4.55"/><circle cx="1102.6" cy="915" r="4.55"/><circle cx="1092.2" cy="903" r="4.55"/><circle cx="1099" cy="915.8" r="4.55"/><circle cx="1092.3" cy="910.3" r="4.55"/><circle cx="1093.2" cy="896.3" r="4.55"/><circle cx="1104.8" cy="926" r="4.55"/><circle cx="1099.7" cy="911.1" r="4.55"/><circle cx="1091.2" cy="902.2" r="4.55"/><circle cx="1106.8" cy="926.3" r="4.55"/><circle cx="1077.4" cy="887.5" r="4.55"/><circle cx="1111.2" cy="934.6" r="4.55"/><circle cx="1097.6" cy="913" r="4.55"/><circle cx="1097.9" cy="919.3" r="4.55"/><circle cx="1086.3" cy="888.9" r="4.55"/><circle cx="1109" cy="928.5" r="4.55"/><circle cx="1100.8" cy="927.8" r="4.55"/><circle cx="1098.3" cy="907.2" r="4.55"/><circle cx="1089.4" cy="901.2" r="4.55"/><circle cx="1087.6" cy="900.8" r="4.55"/><circle cx="1079.7" cy="885.2" r="4.55"/><circle cx="1092.2" cy="910.2" r="4.55"/><circle cx="1071.6" cy="883.3" r="4.55"/><circle cx="1097.8" cy="920" r="4.55"/><circle cx="1091.1" cy="902.5" r="4.55"/><circle cx="1110.5" cy="935" r="4.55"/><circle cx="1077" cy="888.3" r="4.55"/><circle cx="1093.2" cy="906.9" r="4.55"/><circle cx="1079" cy="890.2" r="4.55"/><circle cx="1099.4" cy="916.2" r="4.55"/><circle cx="1098.9" cy="917.7" r="4.55"/><circle cx="1114.7" cy="934.7" r="4.55"/><circle cx="1074.1" cy="884.2" r="4.55"/><circle cx="1077.8" cy="886.8" r="4.55"/><circle cx="1118.3" cy="937.3" r="4.55"/><circle cx="1066.9" cy="898" r="4.55"/><circle cx="1105.6" cy="951" r="4.55"/><circle cx="1114.2" cy="953.9" r="4.55"/><circle cx="1115.6" cy="945.3" r="4.55"/><circle cx="1102.7" cy="933.8" r="4.55"/><circle cx="1095.5" cy="925.2" r="4.55"/><circle cx="1118.5" cy="955.3" r="4.55"/><circle cx="1112.9" cy="938.7" r="4.55"/><circle cx="1113.1" cy="935.6" r="4.55"/><circle cx="1109.6" cy="937.5" r="4.55"/><circle cx="1117.6" cy="939.3" r="4.55"/><circle cx="1112.4" cy="935.4" r="4.55"/><circle cx="1119.9" cy="935" r="4.55"/><circle cx="1110.2" cy="935" r="4.55"/><circle cx="1115.8" cy="935.7" r="4.55"/><circle cx="1113.2" cy="937.3" r="4.55"/><circle cx="1109.3" cy="936.2" r="4.55"/><circle cx="1085.8" cy="1024.9" r="4.55"/><circle cx="1077.6" cy="1011.9" r="4.55"/><circle cx="1111.1" cy="1023.3" r="4.55"/><circle cx="1094.3" cy="1026.2" r="4.55"/><circle cx="1095.9" cy="1008" r="4.55"/><circle cx="1078" cy="1011.6" r="4.55"/><circle cx="1112.2" cy="1008.9" r="4.55"/><circle cx="1081.8" cy="1009.2" r="4.55"/><circle cx="1076.8" cy="1014.7" r="4.55"/><circle cx="1074.7" cy="1019" r="4.55"/><circle cx="1076.5" cy="1016.9" r="4.55"/><circle cx="1086.7" cy="1002.2" r="4.55"/><circle cx="1115.4" cy="1010.7" r="4.55"/><circle cx="1082.6" cy="1012.8" r="4.55"/><circle cx="1106.8" cy="1003.7" r="4.55"/><circle cx="1100.6" cy="1019.1" r="4.55"/><circle cx="1108.6" cy="1019.6" r="4.55"/><circle cx="1104.8" cy="1018.6" r="4.55"/><circle cx="1098.3" cy="1004" r="4.55"/><circle cx="1107.1" cy="1026.6" r="4.55"/><circle cx="1083.1" cy="1005.2" r="4.55"/><circle cx="1100.9" cy="1011.8" r="4.55"/><circle cx="1098.7" cy="1029.3" r="4.55"/><circle cx="1075" cy="1023.8" r="4.55"/><circle cx="1111.1" cy="1014.8" r="4.55"/><circle cx="1105.8" cy="1026.5" r="4.55"/><circle cx="1078.2" cy="1014.5" r="4.55"/><circle cx="1074.5" cy="1017.9" r="4.55"/><circle cx="1111" cy="1022.8" r="4.55"/><circle cx="1101.2" cy="1019.5" r="4.55"/><circle cx="1113.8" cy="1013.6" r="4.55"/><circle cx="1109.8" cy="1019.3" r="4.55"/><circle cx="1106.5" cy="1031.4" r="4.55"/><circle cx="1111" cy="1024" r="4.55"/><circle cx="1112.7" cy="1018.5" r="4.55"/><circle cx="1073.5" cy="1017" r="4.55"/><circle cx="1080.5" cy="1013.7" r="4.55"/><circle cx="1107.5" cy="1017" r="4.55"/><circle cx="1097.8" cy="1031" r="4.55"/><circle cx="1104.9" cy="1024.2" r="4.55"/><circle cx="1111" cy="1023.7" r="4.55"/><circle cx="1111.4" cy="1022.3" r="4.55"/><circle cx="1086.2" cy="1011.2" r="4.55"/><circle cx="1114.5" cy="1004.3" r="4.55"/><circle cx="1084.3" cy="1011.9" r="4.55"/><circle cx="1099.5" cy="1009" r="4.55"/><circle cx="1096.1" cy="1025.8" r="4.55"/><circle cx="1078.7" cy="1013.6" r="4.55"/><circle cx="1073.1" cy="1018.6" r="4.55"/><circle cx="1105.3" cy="1003.7" r="4.55"/><circle cx="1089.3" cy="994.9" r="4.55"/><circle cx="1081.5" cy="1012.3" r="4.55"/><circle cx="1107.7" cy="1018.2" r="4.55"/><circle cx="1082.8" cy="1008.8" r="4.55"/><circle cx="1076.1" cy="1011.7" r="4.55"/><circle cx="1106" cy="1016.5" r="4.55"/><circle cx="1108" cy="1021.2" r="4.55"/><circle cx="1079.3" cy="1013" r="4.55"/><circle cx="1098.5" cy="1028" r="4.55"/><circle cx="1091.2" cy="1001.7" r="4.55"/><circle cx="1089.3" cy="1026.6" r="4.55"/><circle cx="1076.1" cy="1015" r="4.55"/><circle cx="1103.6" cy="1007.7" r="4.55"/><circle cx="1104.1" cy="1011.2" r="4.55"/><circle cx="1097.9" cy="1031.8" r="4.55"/><circle cx="1078" cy="1011.8" r="4.55"/><circle cx="1092.9" cy="1000.7" r="4.55"/><circle cx="1104.5" cy="1019.1" r="4.55"/><circle cx="1075" cy="1020.4" r="4.55"/><circle cx="1074.5" cy="1018.7" r="4.55"/><circle cx="1085.9" cy="993.3" r="4.55"/><circle cx="1100.1" cy="974.5" r="4.55"/><circle cx="1092.2" cy="981.8" r="4.55"/><circle cx="1097.3" cy="978.6" r="4.55"/><circle cx="1078.3" cy="978" r="4.55"/><circle cx="1067.9" cy="966.8" r="4.55"/><circle cx="1079.9" cy="953.1" r="4.55"/><circle cx="1074.9" cy="951.2" r="4.55"/><circle cx="1059.1" cy="991.1" r="4.55"/><circle cx="1096.1" cy="972.3" r="4.55"/><circle cx="1078" cy="963" r="4.55"/><circle cx="1101.9" cy="980.1" r="4.55"/><circle cx="1100.2" cy="957.5" r="4.55"/><circle cx="1077.5" cy="951.3" r="4.55"/><circle cx="1096.3" cy="993.7" r="4.55"/><circle cx="1059.1" cy="973.3" r="4.55"/><circle cx="1088.6" cy="949.3" r="4.55"/><circle cx="1057.3" cy="960.8" r="4.55"/><circle cx="1068.7" cy="949.2" r="4.55"/><circle cx="1082.8" cy="997.6" r="4.55"/><circle cx="1083.2" cy="977.7" r="4.55"/><circle cx="1093.4" cy="984.4" r="4.55"/><circle cx="1055.3" cy="964.5" r="4.55"/><circle cx="1063.9" cy="957.7" r="4.55"/><circle cx="1056.2" cy="975.5" r="4.55"/><circle cx="1080.3" cy="972.3" r="4.55"/><circle cx="1055" cy="973.4" r="4.55"/><circle cx="1059.7" cy="962.4" r="4.55"/><circle cx="1063.7" cy="955.9" r="4.55"/><circle cx="1093.2" cy="980.3" r="4.55"/><circle cx="1057.3" cy="979.3" r="4.55"/><circle cx="1094" cy="993.8" r="4.55"/><circle cx="1060.7" cy="972.3" r="4.55"/><circle cx="1097.6" cy="972.2" r="4.55"/><circle cx="1090.5" cy="980.5" r="4.55"/><circle cx="1083.1" cy="975.6" r="4.55"/><circle cx="1070.5" cy="951.3" r="4.55"/><circle cx="1058.6" cy="976.9" r="4.55"/><circle cx="1055.9" cy="967.2" r="4.55"/><circle cx="1052.7" cy="964.2" r="4.55"/><circle cx="1097.1" cy="986.2" r="4.55"/><circle cx="1059.4" cy="967.1" r="4.55"/><circle cx="1061.7" cy="973.6" r="4.55"/><circle cx="1047.3" cy="973.1" r="4.55"/><circle cx="1055.1" cy="994.6" r="4.55"/><circle cx="1080.8" cy="953.5" r="4.55"/><circle cx="1058" cy="956.8" r="4.55"/><circle cx="1075.6" cy="975.9" r="4.55"/><circle cx="1062" cy="988.6" r="4.55"/><circle cx="1070" cy="951.3" r="4.55"/><circle cx="1100.4" cy="957.5" r="4.55"/><circle cx="1058" cy="971.1" r="4.55"/><circle cx="1065.3" cy="959.4" r="4.55"/><circle cx="1079.6" cy="964.5" r="4.55"/><circle cx="1078" cy="958.4" r="4.55"/><circle cx="1098.7" cy="978" r="4.55"/><circle cx="1087.6" cy="992.1" r="4.55"/><circle cx="1104.1" cy="981.1" r="4.55"/><circle cx="1073.6" cy="951.7" r="4.55"/><circle cx="1056.1" cy="976.2" r="4.55"/><circle cx="1100.6" cy="979.7" r="4.55"/><circle cx="1084.8" cy="976.9" r="4.55"/><circle cx="1057.2" cy="991.9" r="4.55"/><circle cx="1052" cy="979.8" r="4.55"/><circle cx="1087.2" cy="990.1" r="4.55"/><circle cx="1053.6" cy="959.6" r="4.55"/><circle cx="1102.4" cy="973.5" r="4.55"/><circle cx="1082.8" cy="994.1" r="4.55"/><circle cx="1090.8" cy="972.8" r="4.55"/><circle cx="1059.2" cy="962.7" r="4.55"/><circle cx="1030.5" cy="1010.2" r="4.55"/><circle cx="1037.9" cy="1004.3" r="4.55"/><circle cx="1029.7" cy="1001.8" r="4.55"/><circle cx="1028.1" cy="1003.8" r="4.55"/><circle cx="1034" cy="1010.1" r="4.55"/><circle cx="1040.4" cy="1005.6" r="4.55"/><circle cx="1025.6" cy="1002.9" r="4.55"/><circle cx="1032.4" cy="1001.7" r="4.55"/><circle cx="1036.2" cy="1003.8" r="4.55"/><circle cx="1037.3" cy="1005.2" r="4.55"/><circle cx="1034.9" cy="1007.5" r="4.55"/><circle cx="1040.9" cy="1001.7" r="4.55"/><circle cx="1051.5" cy="934.3" r="4.55"/><circle cx="1051.7" cy="935.3" r="4.55"/><circle cx="1057.8" cy="933.6" r="4.55"/><circle cx="1057.7" cy="931.8" r="4.55"/><circle cx="1052.7" cy="932.3" r="4.55"/><circle cx="1057.7" cy="928.9" r="4.55"/><circle cx="852.3" cy="1064" r="4.55"/><circle cx="863.5" cy="1072.1" r="4.55"/><circle cx="877.5" cy="1095.3" r="4.55"/><circle cx="843.1" cy="1058.5" r="4.55"/><circle cx="865.1" cy="1074.1" r="4.55"/><circle cx="861.1" cy="1075.1" r="4.55"/><circle cx="877.2" cy="1096.6" r="4.55"/><circle cx="849" cy="1059.6" r="4.55"/><circle cx="872.4" cy="1087.9" r="4.55"/><circle cx="871.9" cy="1084.7" r="4.55"/><circle cx="873" cy="1076.8" r="4.55"/><circle cx="851.2" cy="1069.4" r="4.55"/><circle cx="857.8" cy="1066.3" r="4.55"/><circle cx="871.5" cy="1083.1" r="4.55"/><circle cx="845.3" cy="1059.2" r="4.55"/><circle cx="862.9" cy="1069.8" r="4.55"/><circle cx="844.4" cy="1054.7" r="4.55"/><circle cx="885" cy="1102.2" r="4.55"/><circle cx="867.7" cy="1072.9" r="4.55"/><circle cx="883.7" cy="1101.9" r="4.55"/><circle cx="843.8" cy="1056.6" r="4.55"/><circle cx="864.8" cy="1071.1" r="4.55"/><circle cx="883.3" cy="1097.1" r="4.55"/><circle cx="859.4" cy="1069.8" r="4.55"/><circle cx="850" cy="1067.5" r="4.55"/><circle cx="870.3" cy="1075.6" r="4.55"/><circle cx="855.4" cy="1071.4" r="4.55"/><circle cx="850.6" cy="1067.5" r="4.55"/><circle cx="883.9" cy="1100.1" r="4.55"/><circle cx="852.9" cy="1065.8" r="4.55"/><circle cx="885.6" cy="1097.9" r="4.55"/><circle cx="848.9" cy="1068.4" r="4.55"/><circle cx="847.4" cy="1055.8" r="4.55"/><circle cx="879.7" cy="1099.8" r="4.55"/><circle cx="884.8" cy="1104.8" r="4.55"/><circle cx="848.7" cy="1067.9" r="4.55"/><circle cx="842.7" cy="1057.3" r="4.55"/><circle cx="860.7" cy="1069.7" r="4.55"/><circle cx="844.1" cy="1053.9" r="4.55"/><circle cx="887.2" cy="1098.8" r="4.55"/><circle cx="852.6" cy="1065" r="4.55"/><circle cx="879.8" cy="1092.3" r="4.55"/><circle cx="867.8" cy="1074.7" r="4.55"/><circle cx="851.9" cy="1064.6" r="4.55"/><circle cx="844.8" cy="1056.9" r="4.55"/><circle cx="880.5" cy="1087.3" r="4.55"/><circle cx="842" cy="1059.8" r="4.55"/><circle cx="874.6" cy="1090.6" r="4.55"/><circle cx="853.2" cy="1071.1" r="4.55"/><circle cx="853.1" cy="1068.7" r="4.55"/><circle cx="857.8" cy="1065.1" r="4.55"/><circle cx="882.2" cy="1100.5" r="4.55"/><circle cx="845.3" cy="1055.2" r="4.55"/><circle cx="882.5" cy="1103.5" r="4.55"/><circle cx="854.1" cy="1066.7" r="4.55"/><circle cx="866.3" cy="1064.7" r="4.55"/><circle cx="861.7" cy="1065.8" r="4.55"/><circle cx="861.1" cy="1061.9" r="4.55"/><circle cx="856.7" cy="1060.1" r="4.55"/><circle cx="855.7" cy="1058" r="4.55"/><circle cx="858.5" cy="1054.6" r="4.55"/><circle cx="856.2" cy="1061.3" r="4.55"/><circle cx="865.7" cy="1064.9" r="4.55"/><circle cx="856.6" cy="1056.6" r="4.55"/><circle cx="860.4" cy="1060.1" r="4.55"/><circle cx="844.6" cy="1077.6" r="4.55"/><circle cx="844.6" cy="1080.4" r="4.55"/><circle cx="846.8" cy="1081.1" r="4.55"/><circle cx="844.2" cy="1072.4" r="4.55"/><circle cx="847" cy="1070.1" r="4.55"/><circle cx="845.1" cy="1081.4" r="4.55"/><circle cx="842.8" cy="1073.3" r="4.55"/><circle cx="843.8" cy="1070.7" r="4.55"/><circle cx="847.9" cy="1083.5" r="4.55"/><circle cx="843.6" cy="1081.3" r="4.55"/><circle cx="846.8" cy="1066.5" r="4.55"/><circle cx="842.9" cy="1069.9" r="4.55"/><circle cx="846.3" cy="1083.1" r="4.55"/><circle cx="847" cy="1074.7" r="4.55"/><circle cx="834" cy="1084.4" r="4.55"/><circle cx="828.2" cy="1084.6" r="4.55"/><circle cx="820.6" cy="1088.7" r="4.55"/><circle cx="827.7" cy="1085.4" r="4.55"/><circle cx="819.1" cy="1090.1" r="4.55"/><circle cx="821.3" cy="1088.4" r="4.55"/><circle cx="831.1" cy="1085.2" r="4.55"/><circle cx="820.4" cy="1089.3" r="4.55"/><circle cx="828.4" cy="1084.4" r="4.55"/><circle cx="877.1" cy="1102.3" r="4.55"/><circle cx="885.7" cy="1100.9" r="4.55"/><circle cx="880" cy="1069.3" r="4.55"/><circle cx="874.2" cy="1066.5" r="4.55"/><circle cx="910.2" cy="1123" r="4.55"/><circle cx="910.9" cy="1123.1" r="4.55"/><circle cx="910.7" cy="1123.6" r="4.55"/><circle cx="910.5" cy="1123.2" r="4.55"/><circle cx="911.8" cy="1121.6" r="4.55"/><circle cx="910.3" cy="1123.4" r="4.55"/><circle cx="907.9" cy="1118.8" r="4.55"/><circle cx="1086.8" cy="1070" r="4.55"/><circle cx="1088.4" cy="1072.3" r="4.55"/><circle cx="1084.3" cy="1074.4" r="4.55"/><circle cx="1084.6" cy="1074.7" r="4.55"/><circle cx="1084.1" cy="1073.4" r="4.55"/><circle cx="1088.2" cy="1072.4" r="4.55"/><circle cx="1085.5" cy="1069.3" r="4.55"/></g>
<g fill="#2f6a94" fill-opacity="0.5" stroke="#000" stroke-opacity="0.55" stroke-width="1.35"><circle cx="1278.7" cy="871.9" r="4.55"/><circle cx="1247.4" cy="876" r="4.55"/><circle cx="1245" cy="876.4" r="4.55"/><circle cx="1235.3" cy="877.8" r="4.55"/><circle cx="1279.9" cy="873.5" r="4.55"/><circle cx="1277.3" cy="880.8" r="4.55"/><circle cx="1232.1" cy="883" r="4.55"/><circle cx="1277.4" cy="877.1" r="4.55"/><circle cx="1237" cy="880.5" r="4.55"/><circle cx="1251.6" cy="879" r="4.55"/><circle cx="1237.5" cy="874.5" r="4.55"/><circle cx="1255.1" cy="874" r="4.55"/><circle cx="1243.2" cy="878.6" r="4.55"/><circle cx="1231.8" cy="879.3" r="4.55"/><circle cx="1230.4" cy="882.5" r="4.55"/><circle cx="1261.1" cy="875.1" r="4.55"/><circle cx="1245.1" cy="875.4" r="4.55"/><circle cx="1251.4" cy="877.1" r="4.55"/><circle cx="1251.9" cy="870.7" r="4.55"/><circle cx="1255.3" cy="872.5" r="4.55"/><circle cx="1269.6" cy="873" r="4.55"/><circle cx="1252.4" cy="871.5" r="4.55"/><circle cx="1251" cy="871.5" r="4.55"/><circle cx="1255.9" cy="870.5" r="4.55"/><circle cx="1234.4" cy="880.5" r="4.55"/><circle cx="1255.5" cy="870.6" r="4.55"/><circle cx="1248.2" cy="880.4" r="4.55"/><circle cx="1273.5" cy="879.9" r="4.55"/><circle cx="1274.5" cy="871.7" r="4.55"/><circle cx="1256.6" cy="879.6" r="4.55"/><circle cx="1239.3" cy="880" r="4.55"/><circle cx="1232.6" cy="877" r="4.55"/><circle cx="1237.3" cy="881.5" r="4.55"/><circle cx="1273.3" cy="870.8" r="4.55"/><circle cx="1277.8" cy="872.9" r="4.55"/><circle cx="1254.1" cy="873.4" r="4.55"/><circle cx="1238.9" cy="873.6" r="4.55"/><circle cx="1264.4" cy="878.2" r="4.55"/><circle cx="1271.9" cy="870.1" r="4.55"/><circle cx="1263.7" cy="872.9" r="4.55"/><circle cx="1259.5" cy="875.5" r="4.55"/><circle cx="1235.7" cy="882.9" r="4.55"/><circle cx="1249.3" cy="878.7" r="4.55"/><circle cx="1280.6" cy="877.7" r="4.55"/><circle cx="1268.5" cy="873.2" r="4.55"/><circle cx="1268.9" cy="869.2" r="4.55"/><circle cx="1243.7" cy="877.7" r="4.55"/><circle cx="1259.6" cy="876.4" r="4.55"/><circle cx="1226.8" cy="875" r="4.55"/><circle cx="1261.6" cy="873.8" r="4.55"/><circle cx="1276.7" cy="871.8" r="4.55"/><circle cx="1261.6" cy="869.7" r="4.55"/><circle cx="1246.7" cy="872" r="4.55"/><circle cx="1241" cy="877.5" r="4.55"/><circle cx="1239.7" cy="878.2" r="4.55"/><circle cx="1236" cy="882.2" r="4.55"/><circle cx="1236.1" cy="873.6" r="4.55"/><circle cx="1274" cy="877.8" r="4.55"/><circle cx="1242.6" cy="871.5" r="4.55"/><circle cx="1259" cy="873.3" r="4.55"/><circle cx="1253.5" cy="879.7" r="4.55"/><circle cx="1240.9" cy="880.7" r="4.55"/><circle cx="1256.2" cy="874.1" r="4.55"/><circle cx="1231" cy="881.7" r="4.55"/><circle cx="1257.5" cy="879.4" r="4.55"/><circle cx="1239.5" cy="878.1" r="4.55"/><circle cx="1262.3" cy="877.6" r="4.55"/><circle cx="1243.6" cy="874.3" r="4.55"/><circle cx="1275.8" cy="878.3" r="4.55"/><circle cx="1230.5" cy="882.5" r="4.55"/><circle cx="1253.6" cy="877.7" r="4.55"/><circle cx="1239" cy="873" r="4.55"/><circle cx="1231.2" cy="877.1" r="4.55"/><circle cx="1266.8" cy="877.5" r="4.55"/><circle cx="1242.6" cy="877" r="4.55"/><circle cx="1277.9" cy="891.4" r="4.55"/><circle cx="1268.5" cy="892.8" r="4.55"/><circle cx="1281.8" cy="887.9" r="4.55"/><circle cx="1248.1" cy="888.7" r="4.55"/><circle cx="1277.5" cy="889.6" r="4.55"/><circle cx="1253.4" cy="884.7" r="4.55"/><circle cx="1269.6" cy="890.7" r="4.55"/><circle cx="1289.9" cy="889.3" r="4.55"/><circle cx="1272.5" cy="892.9" r="4.55"/><circle cx="1274.3" cy="890.9" r="4.55"/><circle cx="1244.4" cy="888" r="4.55"/><circle cx="1283.3" cy="888.5" r="4.55"/><circle cx="1239.2" cy="891.1" r="4.55"/><circle cx="1239.7" cy="883.3" r="4.55"/><circle cx="1273.3" cy="891.2" r="4.55"/><circle cx="1276.8" cy="887.1" r="4.55"/><circle cx="1254.8" cy="889.8" r="4.55"/><circle cx="1284" cy="887.6" r="4.55"/><circle cx="1285.8" cy="894.9" r="4.55"/><circle cx="1243.5" cy="883.7" r="4.55"/><circle cx="1283.1" cy="894.6" r="4.55"/><circle cx="1279.8" cy="892.9" r="4.55"/><circle cx="1239.2" cy="883.9" r="4.55"/><circle cx="1244.6" cy="885.4" r="4.55"/><circle cx="1233.5" cy="885.8" r="4.55"/><circle cx="1274.3" cy="889.1" r="4.55"/><circle cx="1289.2" cy="889.8" r="4.55"/><circle cx="1269.8" cy="884.8" r="4.55"/><circle cx="1257.9" cy="889.6" r="4.55"/><circle cx="1273" cy="890.2" r="4.55"/><circle cx="1282.4" cy="888.4" r="4.55"/><circle cx="1241.8" cy="882.9" r="4.55"/><circle cx="1274.7" cy="894.6" r="4.55"/><circle cx="1262.4" cy="887.6" r="4.55"/><circle cx="1243.4" cy="887" r="4.55"/><circle cx="1282.6" cy="890.4" r="4.55"/><circle cx="1250.3" cy="884.2" r="4.55"/><circle cx="1262.7" cy="884.3" r="4.55"/><circle cx="1238.5" cy="890" r="4.55"/><circle cx="1277.8" cy="892.3" r="4.55"/><circle cx="1257.5" cy="886.4" r="4.55"/><circle cx="1237.1" cy="890.9" r="4.55"/><circle cx="1245.9" cy="884.8" r="4.55"/><circle cx="1263.3" cy="886.7" r="4.55"/><circle cx="1246.7" cy="886.4" r="4.55"/><circle cx="1276.4" cy="893.1" r="4.55"/><circle cx="1252.6" cy="885.4" r="4.55"/><circle cx="1281.9" cy="893.7" r="4.55"/><circle cx="1243.6" cy="886.5" r="4.55"/><circle cx="1267.5" cy="885" r="4.55"/><circle cx="1282.5" cy="889.6" r="4.55"/><circle cx="1251.3" cy="888.5" r="4.55"/><circle cx="1241.1" cy="884.3" r="4.55"/><circle cx="1251.2" cy="886.9" r="4.55"/><circle cx="1253.6" cy="884.3" r="4.55"/><circle cx="1277.2" cy="887.5" r="4.55"/><circle cx="1240.1" cy="886.3" r="4.55"/><circle cx="1278.2" cy="893.4" r="4.55"/><circle cx="1243.6" cy="888.2" r="4.55"/><circle cx="1243.8" cy="886" r="4.55"/><circle cx="1300.5" cy="923.8" r="4.55"/><circle cx="1299.7" cy="931.4" r="4.55"/><circle cx="1296.7" cy="900.5" r="4.55"/><circle cx="1286.1" cy="947.4" r="4.55"/><circle cx="1296.3" cy="936.7" r="4.55"/><circle cx="1298.6" cy="909.1" r="4.55"/><circle cx="1284.5" cy="951.6" r="4.55"/><circle cx="1291.7" cy="945" r="4.55"/><circle cx="1300.7" cy="914.3" r="4.55"/><circle cx="1300.8" cy="925.8" r="4.55"/><circle cx="1297.1" cy="943.3" r="4.55"/><circle cx="1301.3" cy="927.4" r="4.55"/><circle cx="1290.7" cy="942.5" r="4.55"/><circle cx="1292.1" cy="942.6" r="4.55"/><circle cx="1297.6" cy="928.4" r="4.55"/><circle cx="1301.8" cy="937.3" r="4.55"/><circle cx="1275.6" cy="961.6" r="4.55"/><circle cx="1297.4" cy="938.4" r="4.55"/><circle cx="1298.9" cy="933.3" r="4.55"/><circle cx="1300.3" cy="935.1" r="4.55"/><circle cx="1298.2" cy="906.1" r="4.55"/><circle cx="1288.5" cy="954.6" r="4.55"/><circle cx="1306.2" cy="918" r="4.55"/><circle cx="1307.1" cy="922.4" r="4.55"/><circle cx="1301.5" cy="924.8" r="4.55"/><circle cx="1303.5" cy="910.9" r="4.55"/><circle cx="1275.4" cy="961.7" r="4.55"/><circle cx="1285.6" cy="954" r="4.55"/><circle cx="1295.4" cy="901.3" r="4.55"/><circle cx="1295.1" cy="942.9" r="4.55"/><circle cx="1296.2" cy="908" r="4.55"/><circle cx="1292" cy="942.2" r="4.55"/><circle cx="1303.4" cy="929.8" r="4.55"/><circle cx="1294.1" cy="900.3" r="4.55"/><circle cx="1282.5" cy="958" r="4.55"/><circle cx="1301.2" cy="908.9" r="4.55"/><circle cx="1288.6" cy="890.2" r="4.55"/><circle cx="1302.3" cy="908.6" r="4.55"/><circle cx="1301.8" cy="925.7" r="4.55"/><circle cx="1299" cy="921.1" r="4.55"/><circle cx="1291.5" cy="896.2" r="4.55"/><circle cx="1287" cy="955.7" r="4.55"/><circle cx="1299.1" cy="943.8" r="4.55"/><circle cx="1273.8" cy="961.9" r="4.55"/><circle cx="1297.7" cy="894.9" r="4.55"/><circle cx="1287.7" cy="952.6" r="4.55"/><circle cx="1275.8" cy="957.6" r="4.55"/><circle cx="1276.9" cy="958.8" r="4.55"/><circle cx="1290.3" cy="943.4" r="4.55"/><circle cx="1283.1" cy="958.3" r="4.55"/><circle cx="1297.8" cy="933.6" r="4.55"/><circle cx="1278.8" cy="957.8" r="4.55"/><circle cx="1303.4" cy="907.4" r="4.55"/><circle cx="1293" cy="893" r="4.55"/><circle cx="1301" cy="931.2" r="4.55"/><circle cx="1282.1" cy="961.2" r="4.55"/><circle cx="1301.1" cy="929.3" r="4.55"/><circle cx="1282.5" cy="956.8" r="4.55"/><circle cx="1276.6" cy="966.5" r="4.55"/><circle cx="1298" cy="945.3" r="4.55"/><circle cx="1289.9" cy="943.3" r="4.55"/><circle cx="1272.7" cy="965.3" r="4.55"/><circle cx="1279.8" cy="962.9" r="4.55"/><circle cx="1296" cy="943.5" r="4.55"/><circle cx="1302.8" cy="920.1" r="4.55"/><circle cx="1288.4" cy="953.5" r="4.55"/><circle cx="1302.9" cy="926.1" r="4.55"/><circle cx="1298.9" cy="913.8" r="4.55"/><circle cx="1302.4" cy="932.9" r="4.55"/><circle cx="1271.6" cy="964.7" r="4.55"/><circle cx="1303.7" cy="916.1" r="4.55"/><circle cx="1296" cy="939" r="4.55"/><circle cx="1291.3" cy="894.4" r="4.55"/><circle cx="1303.1" cy="936.6" r="4.55"/><circle cx="1293.5" cy="889.3" r="4.55"/><circle cx="1294.7" cy="940.6" r="4.55"/><circle cx="1275.9" cy="959.9" r="4.55"/><circle cx="1293.8" cy="941.4" r="4.55"/><circle cx="1293.8" cy="948.1" r="4.55"/><circle cx="1300.3" cy="926.5" r="4.55"/><circle cx="1303.2" cy="903.1" r="4.55"/><circle cx="1275.8" cy="959.5" r="4.55"/><circle cx="1281.2" cy="953.2" r="4.55"/><circle cx="1302.5" cy="909.7" r="4.55"/><circle cx="1302.7" cy="916" r="4.55"/><circle cx="1278.4" cy="964.5" r="4.55"/><circle cx="1295.5" cy="891.3" r="4.55"/><circle cx="1295" cy="936" r="4.55"/><circle cx="1292" cy="890.1" r="4.55"/><circle cx="1272.1" cy="959.6" r="4.55"/><circle cx="1306.5" cy="924.2" r="4.55"/><circle cx="1302.5" cy="904.2" r="4.55"/><circle cx="1288.7" cy="889.8" r="4.55"/><circle cx="1275.8" cy="967.3" r="4.55"/><circle cx="1300.7" cy="897.4" r="4.55"/><circle cx="1272.3" cy="905.3" r="4.55"/><circle cx="1280.2" cy="914.2" r="4.55"/><circle cx="1269.7" cy="900" r="4.55"/><circle cx="1271.1" cy="899.2" r="4.55"/><circle cx="1269.7" cy="909.3" r="4.55"/><circle cx="1259.1" cy="915.3" r="4.55"/><circle cx="1272.7" cy="926.1" r="4.55"/><circle cx="1269.7" cy="898.5" r="4.55"/><circle cx="1275" cy="912.5" r="4.55"/><circle cx="1278.8" cy="901.8" r="4.55"/><circle cx="1271.3" cy="916.1" r="4.55"/><circle cx="1280.5" cy="922.9" r="4.55"/><circle cx="1257.2" cy="913.5" r="4.55"/><circle cx="1270.3" cy="914.9" r="4.55"/><circle cx="1261.1" cy="916.4" r="4.55"/><circle cx="1281.8" cy="921.6" r="4.55"/><circle cx="1263.1" cy="922" r="4.55"/><circle cx="1263.7" cy="903.9" r="4.55"/><circle cx="1264.8" cy="918.4" r="4.55"/><circle cx="1287.5" cy="908" r="4.55"/><circle cx="1259.2" cy="907.1" r="4.55"/><circle cx="1281.8" cy="915.2" r="4.55"/><circle cx="1268.2" cy="898.8" r="4.55"/><circle cx="1265.4" cy="923.7" r="4.55"/><circle cx="1286.4" cy="910.7" r="4.55"/><circle cx="1260.5" cy="904.6" r="4.55"/><circle cx="1264.5" cy="915.8" r="4.55"/><circle cx="1261.6" cy="921.8" r="4.55"/><circle cx="1261.7" cy="905.2" r="4.55"/><circle cx="1262" cy="907.9" r="4.55"/><circle cx="1270.1" cy="898.8" r="4.55"/><circle cx="1273.3" cy="919.4" r="4.55"/><circle cx="1286.9" cy="910.3" r="4.55"/><circle cx="1267.7" cy="919.7" r="4.55"/><circle cx="1268.7" cy="923.6" r="4.55"/><circle cx="1261.8" cy="901.2" r="4.55"/><circle cx="1281.2" cy="922.5" r="4.55"/><circle cx="1261.3" cy="904.2" r="4.55"/><circle cx="1260.5" cy="899" r="4.55"/><circle cx="1269.4" cy="899.3" r="4.55"/><circle cx="1255.7" cy="913.8" r="4.55"/><circle cx="1274.7" cy="912.3" r="4.55"/><circle cx="1256.3" cy="913.7" r="4.55"/><circle cx="1260" cy="905.2" r="4.55"/><circle cx="1252.8" cy="911" r="4.55"/><circle cx="1262.8" cy="903.4" r="4.55"/><circle cx="1261.8" cy="921.2" r="4.55"/><circle cx="1276.4" cy="928.5" r="4.55"/><circle cx="1276.8" cy="904.1" r="4.55"/><circle cx="1258.1" cy="908.8" r="4.55"/><circle cx="1277.6" cy="900.8" r="4.55"/><circle cx="1282.1" cy="921.2" r="4.55"/><circle cx="1261.4" cy="915" r="4.55"/><circle cx="1289.4" cy="908.4" r="4.55"/><circle cx="1288.1" cy="908.1" r="4.55"/><circle cx="1263.4" cy="919.7" r="4.55"/><circle cx="1266" cy="923.7" r="4.55"/><circle cx="1269.8" cy="915.1" r="4.55"/><circle cx="1283.6" cy="908.9" r="4.55"/><circle cx="1269.7" cy="910" r="4.55"/><circle cx="1275.1" cy="926.1" r="4.55"/><circle cx="1275.2" cy="906.3" r="4.55"/><circle cx="1260.8" cy="919.1" r="4.55"/><circle cx="1262.3" cy="921.3" r="4.55"/><circle cx="1284" cy="903.8" r="4.55"/><circle cx="1270" cy="898.3" r="4.55"/><circle cx="1264.9" cy="919.4" r="4.55"/><circle cx="1280.2" cy="915.1" r="4.55"/><circle cx="1264.9" cy="927" r="4.55"/><circle cx="1265.6" cy="924.3" r="4.55"/><circle cx="1275.7" cy="912.2" r="4.55"/><circle cx="1267.4" cy="901.4" r="4.55"/><circle cx="1280.1" cy="917.1" r="4.55"/><circle cx="1261.2" cy="918.1" r="4.55"/><circle cx="1281.9" cy="915.5" r="4.55"/><circle cx="1236.9" cy="892" r="4.55"/><circle cx="1241.9" cy="910.2" r="4.55"/><circle cx="1241.4" cy="905.7" r="4.55"/><circle cx="1240.2" cy="902.8" r="4.55"/><circle cx="1240.6" cy="919.1" r="4.55"/><circle cx="1237.5" cy="907.6" r="4.55"/><circle cx="1233.7" cy="897.1" r="4.55"/><circle cx="1242.7" cy="911.2" r="4.55"/><circle cx="1239.6" cy="917.7" r="4.55"/><circle cx="1242.6" cy="901.2" r="4.55"/><circle cx="1246.5" cy="920.4" r="4.55"/><circle cx="1236.8" cy="894.9" r="4.55"/><circle cx="1245" cy="913.8" r="4.55"/><circle cx="1244.4" cy="918.2" r="4.55"/><circle cx="1241.3" cy="902.8" r="4.55"/><circle cx="1243" cy="909.7" r="4.55"/><circle cx="1240.7" cy="898.6" r="4.55"/><circle cx="1243.2" cy="906" r="4.55"/><circle cx="1239.8" cy="912.8" r="4.55"/><circle cx="1238.4" cy="908.8" r="4.55"/><circle cx="1239.1" cy="915.9" r="4.55"/><circle cx="1239.5" cy="898.6" r="4.55"/><circle cx="1239.9" cy="902.8" r="4.55"/><circle cx="1239.8" cy="918.4" r="4.55"/><circle cx="1242.2" cy="911.4" r="4.55"/><circle cx="1241.4" cy="908" r="4.55"/><circle cx="1246.5" cy="919.7" r="4.55"/><circle cx="1235.4" cy="892.7" r="4.55"/><circle cx="1234.4" cy="898.7" r="4.55"/><circle cx="1239.9" cy="898.2" r="4.55"/><circle cx="1241" cy="919.3" r="4.55"/><circle cx="1245" cy="913.9" r="4.55"/><circle cx="1240.9" cy="912" r="4.55"/><circle cx="1242.2" cy="900.2" r="4.55"/><circle cx="1238.5" cy="909.4" r="4.55"/><circle cx="1241.9" cy="906.9" r="4.55"/><circle cx="1238.1" cy="911.4" r="4.55"/><circle cx="1237.6" cy="904.4" r="4.55"/><circle cx="1244" cy="912" r="4.55"/><circle cx="1249.2" cy="920.7" r="4.55"/><circle cx="1249.3" cy="961.3" r="4.55"/><circle cx="1264.8" cy="963.9" r="4.55"/><circle cx="1245.4" cy="951.9" r="4.55"/><circle cx="1266.4" cy="962.9" r="4.55"/><circle cx="1249" cy="961.5" r="4.55"/><circle cx="1234" cy="944.7" r="4.55"/><circle cx="1231.2" cy="941.1" r="4.55"/><circle cx="1242.1" cy="946.9" r="4.55"/><circle cx="1238.5" cy="945.7" r="4.55"/><circle cx="1271" cy="958.6" r="4.55"/><circle cx="1259.5" cy="956.6" r="4.55"/><circle cx="1253.5" cy="959" r="4.55"/><circle cx="1246.5" cy="953.9" r="4.55"/><circle cx="1238.6" cy="945.5" r="4.55"/><circle cx="1251.1" cy="961.7" r="4.55"/><circle cx="1233.5" cy="946.1" r="4.55"/><circle cx="1240.8" cy="947.2" r="4.55"/><circle cx="1248.5" cy="956" r="4.55"/><circle cx="1232.8" cy="941.2" r="4.55"/><circle cx="1251.3" cy="960.4" r="4.55"/><circle cx="1270.3" cy="958.5" r="4.55"/><circle cx="1243.6" cy="956.6" r="4.55"/><circle cx="1264.4" cy="960.1" r="4.55"/><circle cx="1242.8" cy="951.1" r="4.55"/><circle cx="1244.6" cy="950" r="4.55"/><circle cx="1241.5" cy="955" r="4.55"/><circle cx="1235.6" cy="937.8" r="4.55"/><circle cx="1244.2" cy="950.3" r="4.55"/><circle cx="1239.3" cy="947.7" r="4.55"/><circle cx="1269.4" cy="961.6" r="4.55"/><circle cx="1266.8" cy="964.9" r="4.55"/><circle cx="1265" cy="960.9" r="4.55"/><circle cx="1254.4" cy="960.2" r="4.55"/><circle cx="1236.1" cy="938.6" r="4.55"/><circle cx="1234.6" cy="938.1" r="4.55"/><circle cx="1236.4" cy="942.8" r="4.55"/><circle cx="1231.9" cy="944.7" r="4.55"/><circle cx="1267.8" cy="957.5" r="4.55"/><circle cx="1267.6" cy="960.6" r="4.55"/><circle cx="1264.1" cy="963" r="4.55"/><circle cx="1239.7" cy="951.7" r="4.55"/><circle cx="1241.6" cy="950.5" r="4.55"/><circle cx="1239.6" cy="947.7" r="4.55"/><circle cx="1241.2" cy="954.9" r="4.55"/><circle cx="1245.3" cy="957.7" r="4.55"/><circle cx="1244.4" cy="950.3" r="4.55"/><circle cx="1270.2" cy="961.5" r="4.55"/><circle cx="1233.7" cy="947.6" r="4.55"/><circle cx="1244.2" cy="951" r="4.55"/><circle cx="1240.3" cy="944.8" r="4.55"/><circle cx="1249.7" cy="959" r="4.55"/><circle cx="1255.9" cy="959.1" r="4.55"/><circle cx="1241.9" cy="954.1" r="4.55"/><circle cx="1270.1" cy="963.9" r="4.55"/><circle cx="1244" cy="955.1" r="4.55"/><circle cx="1237.2" cy="947.8" r="4.55"/><circle cx="1265.6" cy="956.6" r="4.55"/><circle cx="1264.7" cy="964" r="4.55"/><circle cx="1254.5" cy="960.2" r="4.55"/><circle cx="1247.1" cy="952" r="4.55"/><circle cx="1275.3" cy="939.7" r="4.55"/><circle cx="1287" cy="935.1" r="4.55"/><circle cx="1263.6" cy="939.8" r="4.55"/><circle cx="1285.8" cy="944" r="4.55"/><circle cx="1268.5" cy="939.6" r="4.55"/><circle cx="1274.6" cy="945" r="4.55"/><circle cx="1285.2" cy="948.8" r="4.55"/><circle cx="1266.5" cy="940.6" r="4.55"/><circle cx="1269.9" cy="941" r="4.55"/><circle cx="1283.8" cy="940.8" r="4.55"/><circle cx="1277" cy="941.4" r="4.55"/><circle cx="1291.9" cy="940.7" r="4.55"/><circle cx="1259.1" cy="932.8" r="4.55"/><circle cx="1265.2" cy="939.8" r="4.55"/><circle cx="1278.4" cy="943.8" r="4.55"/><circle cx="1281.4" cy="944.5" r="4.55"/><circle cx="1256.3" cy="936.1" r="4.55"/><circle cx="1257.8" cy="929.9" r="4.55"/><circle cx="1269.9" cy="942.2" r="4.55"/><circle cx="1283.8" cy="938.3" r="4.55"/><circle cx="1271.1" cy="941.7" r="4.55"/><circle cx="1287.2" cy="941.1" r="4.55"/><circle cx="1278.8" cy="942.4" r="4.55"/><circle cx="1269.8" cy="937.1" r="4.55"/><circle cx="1260.4" cy="938.3" r="4.55"/><circle cx="1265.1" cy="944.4" r="4.55"/><circle cx="1289.1" cy="939.8" r="4.55"/><circle cx="1282.6" cy="940.2" r="4.55"/><circle cx="1272" cy="938.3" r="4.55"/><circle cx="1259.5" cy="936.7" r="4.55"/><circle cx="1279.3" cy="946.6" r="4.55"/><circle cx="1255.1" cy="935.7" r="4.55"/><circle cx="1285" cy="940.5" r="4.55"/><circle cx="1258.1" cy="929.6" r="4.55"/><circle cx="1283.8" cy="944.1" r="4.55"/><circle cx="1285.4" cy="941.8" r="4.55"/><circle cx="1261.1" cy="938.1" r="4.55"/><circle cx="1272.1" cy="942.9" r="4.55"/><circle cx="1256.1" cy="939.1" r="4.55"/><circle cx="1272.6" cy="942.3" r="4.55"/><circle cx="1278.2" cy="946.3" r="4.55"/><circle cx="1261.5" cy="934.1" r="4.55"/><circle cx="1257.3" cy="936.1" r="4.55"/><circle cx="1283.7" cy="937.1" r="4.55"/><circle cx="1277.8" cy="939.3" r="4.55"/><circle cx="1266.5" cy="943.2" r="4.55"/><circle cx="1258.4" cy="932.2" r="4.55"/><circle cx="1259.9" cy="937.2" r="4.55"/><circle cx="1254.1" cy="937" r="4.55"/><circle cx="1272.1" cy="940.6" r="4.55"/><circle cx="1285.6" cy="935.2" r="4.55"/><circle cx="1278.9" cy="945.4" r="4.55"/><circle cx="1266.8" cy="942.8" r="4.55"/><circle cx="1281.7" cy="939.5" r="4.55"/><circle cx="1272" cy="937.7" r="4.55"/><circle cx="1301" cy="878.5" r="4.55"/><circle cx="1306.8" cy="873.4" r="4.55"/><circle cx="1301.5" cy="873.1" r="4.55"/><circle cx="1297.7" cy="878.4" r="4.55"/><circle cx="1297.5" cy="874" r="4.55"/><circle cx="1299.6" cy="876.5" r="4.55"/><circle cx="1300.1" cy="877.1" r="4.55"/><circle cx="1307.7" cy="876.3" r="4.55"/><circle cx="1301.6" cy="874.4" r="4.55"/><circle cx="1297.2" cy="883" r="4.55"/><circle cx="1299" cy="872.2" r="4.55"/><circle cx="1298.9" cy="880.3" r="4.55"/><circle cx="1295.7" cy="881.3" r="4.55"/><circle cx="1296.9" cy="881" r="4.55"/><circle cx="1298.1" cy="881" r="4.55"/><circle cx="1309.4" cy="870.1" r="4.55"/><circle cx="1305.7" cy="875.1" r="4.55"/><circle cx="1295.4" cy="880.1" r="4.55"/><circle cx="1302.4" cy="872.2" r="4.55"/><circle cx="1305" cy="872.9" r="4.55"/><circle cx="1303.8" cy="877.8" r="4.55"/><circle cx="1300.6" cy="875.3" r="4.55"/><circle cx="1288.9" cy="889.4" r="4.55"/><circle cx="1296.1" cy="887.3" r="4.55"/><circle cx="1300.4" cy="883" r="4.55"/><circle cx="1251.7" cy="908" r="4.55"/><circle cx="1257.4" cy="925.2" r="4.55"/><circle cx="1253.1" cy="939.5" r="4.55"/><circle cx="1179.4" cy="883.1" r="4.55"/><circle cx="1183.8" cy="882.1" r="4.55"/><circle cx="1188.6" cy="886.4" r="4.55"/><circle cx="1184.6" cy="880.1" r="4.55"/><circle cx="1181.6" cy="880.3" r="4.55"/><circle cx="1184.1" cy="881.2" r="4.55"/><circle cx="1188.7" cy="892.6" r="4.55"/><circle cx="1179.9" cy="883" r="4.55"/><circle cx="1188.5" cy="889.5" r="4.55"/><circle cx="1186.3" cy="883.8" r="4.55"/><circle cx="1183.7" cy="881.8" r="4.55"/><circle cx="1189.7" cy="887.4" r="4.55"/><circle cx="1188" cy="895" r="4.55"/><circle cx="1177.8" cy="884.2" r="4.55"/><circle cx="1181.4" cy="881.5" r="4.55"/><circle cx="1178.9" cy="884.5" r="4.55"/><circle cx="1182.7" cy="883" r="4.55"/><circle cx="1190.2" cy="890" r="4.55"/><circle cx="1189.5" cy="888.9" r="4.55"/><circle cx="1188.8" cy="892.7" r="4.55"/><circle cx="1192.9" cy="908.7" r="4.55"/><circle cx="1172.5" cy="929.9" r="4.55"/><circle cx="1177.9" cy="932.4" r="4.55"/><circle cx="1174.7" cy="933" r="4.55"/><circle cx="1173.3" cy="936.5" r="4.55"/><circle cx="1171.4" cy="924.8" r="4.55"/><circle cx="1170.6" cy="929.2" r="4.55"/><circle cx="1171.4" cy="926.9" r="4.55"/><circle cx="1169.9" cy="936.7" r="4.55"/><circle cx="1173.9" cy="930.3" r="4.55"/><circle cx="1176.5" cy="929.2" r="4.55"/><circle cx="1173.6" cy="925.8" r="4.55"/><circle cx="1166.3" cy="936.5" r="4.55"/><circle cx="1170.8" cy="937.7" r="4.55"/><circle cx="1173.2" cy="933.1" r="4.55"/><circle cx="1173.7" cy="933.3" r="4.55"/><circle cx="1171.6" cy="936" r="4.55"/><circle cx="1173.6" cy="931.8" r="4.55"/><circle cx="1178.5" cy="934.4" r="4.55"/><circle cx="1173.6" cy="930.4" r="4.55"/><circle cx="1170.1" cy="938.5" r="4.55"/><circle cx="1173.4" cy="929.1" r="4.55"/><circle cx="1170.2" cy="927.9" r="4.55"/><circle cx="1173.2" cy="932.1" r="4.55"/><circle cx="1174" cy="931.2" r="4.55"/><circle cx="1174.1" cy="931.7" r="4.55"/><circle cx="1171.2" cy="934.6" r="4.55"/><circle cx="1157.1" cy="943.1" r="4.55"/><circle cx="1167.9" cy="942.4" r="4.55"/><circle cx="1172.9" cy="941" r="4.55"/><circle cx="1200.5" cy="938.3" r="4.55"/><circle cx="1198.2" cy="957.7" r="4.55"/><circle cx="1201.4" cy="946.8" r="4.55"/><circle cx="1196.7" cy="990.3" r="4.55"/><circle cx="1198.7" cy="963.1" r="4.55"/><circle cx="1205.8" cy="930.7" r="4.55"/><circle cx="1192.6" cy="958.9" r="4.55"/><circle cx="1202.9" cy="974.9" r="4.55"/><circle cx="1194.3" cy="989.1" r="4.55"/><circle cx="1199.3" cy="946.9" r="4.55"/><circle cx="1197.7" cy="945.1" r="4.55"/><circle cx="1198.8" cy="971.7" r="4.55"/><circle cx="1204.7" cy="974.4" r="4.55"/><circle cx="1203.7" cy="937.5" r="4.55"/><circle cx="1193.2" cy="962.7" r="4.55"/><circle cx="1203" cy="932.2" r="4.55"/><circle cx="1199.7" cy="966.6" r="4.55"/><circle cx="1199.5" cy="949.6" r="4.55"/><circle cx="1194" cy="984.5" r="4.55"/><circle cx="1208.2" cy="932.3" r="4.55"/><circle cx="1192.7" cy="984.3" r="4.55"/><circle cx="1208" cy="930.6" r="4.55"/><circle cx="1197.2" cy="975.8" r="4.55"/><circle cx="1201.4" cy="966" r="4.55"/><circle cx="1202.5" cy="935" r="4.55"/><circle cx="1191.5" cy="988.3" r="4.55"/><circle cx="1202.3" cy="940.2" r="4.55"/><circle cx="1196.1" cy="967.5" r="4.55"/><circle cx="1206.8" cy="936.3" r="4.55"/><circle cx="1197.2" cy="973" r="4.55"/><circle cx="1204" cy="925.1" r="4.55"/><circle cx="1201.4" cy="972.7" r="4.55"/><circle cx="1198.8" cy="978.7" r="4.55"/><circle cx="1194.3" cy="957.2" r="4.55"/><circle cx="1195.2" cy="954.8" r="4.55"/><circle cx="1203.5" cy="937.3" r="4.55"/><circle cx="1202.5" cy="931.5" r="4.55"/><circle cx="1196.5" cy="947.8" r="4.55"/><circle cx="1196.6" cy="954.8" r="4.55"/><circle cx="1200.8" cy="934.5" r="4.55"/><circle cx="1196.2" cy="968" r="4.55"/><circle cx="1199.4" cy="974.7" r="4.55"/><circle cx="1197.5" cy="965.5" r="4.55"/><circle cx="1199.1" cy="950.5" r="4.55"/><circle cx="1201" cy="945.4" r="4.55"/><circle cx="1199.9" cy="938.3" r="4.55"/><circle cx="1198.3" cy="980" r="4.55"/><circle cx="1197.9" cy="970.2" r="4.55"/><circle cx="1194.4" cy="956.9" r="4.55"/><circle cx="1197.9" cy="975.9" r="4.55"/><circle cx="1208.1" cy="957.1" r="4.55"/><circle cx="1211.9" cy="945" r="4.55"/><circle cx="1207.3" cy="955.5" r="4.55"/><circle cx="1207.8" cy="958.9" r="4.55"/><circle cx="1210.8" cy="955.7" r="4.55"/><circle cx="1212.1" cy="945.3" r="4.55"/><circle cx="1211.7" cy="949.6" r="4.55"/><circle cx="1214.6" cy="943.3" r="4.55"/><circle cx="1208.6" cy="958.6" r="4.55"/><circle cx="1209.2" cy="944.6" r="4.55"/><circle cx="1209.3" cy="960.3" r="4.55"/><circle cx="1211.9" cy="956.3" r="4.55"/><circle cx="1207.7" cy="956.3" r="4.55"/><circle cx="1213.1" cy="941.9" r="4.55"/><circle cx="1212.6" cy="952.1" r="4.55"/><circle cx="1210.7" cy="951.9" r="4.55"/><circle cx="1213.5" cy="949.4" r="4.55"/><circle cx="1208.9" cy="942.9" r="4.55"/><circle cx="1211.1" cy="948.5" r="4.55"/><circle cx="1207.3" cy="960.1" r="4.55"/><circle cx="1215.4" cy="951.1" r="4.55"/><circle cx="1209.2" cy="946.4" r="4.55"/><circle cx="1210.2" cy="953.6" r="4.55"/><circle cx="1209" cy="948.2" r="4.55"/><circle cx="1212.4" cy="946.7" r="4.55"/><circle cx="1207.4" cy="959.5" r="4.55"/><circle cx="1209.4" cy="942.5" r="4.55"/><circle cx="1211.7" cy="953.8" r="4.55"/><circle cx="1211.6" cy="972.5" r="4.55"/><circle cx="1192.9" cy="979.6" r="4.55"/><circle cx="1210.1" cy="981.1" r="4.55"/><circle cx="1201.5" cy="988.2" r="4.55"/><circle cx="1203" cy="985.4" r="4.55"/><circle cx="1127.9" cy="954.8" r="4.55"/><circle cx="1123.6" cy="956" r="4.55"/><circle cx="1126.8" cy="955" r="4.55"/><circle cx="1124.4" cy="956.7" r="4.55"/><circle cx="1124.9" cy="957" r="4.55"/><circle cx="1125" cy="954.6" r="4.55"/><circle cx="1139.6" cy="956.2" r="4.55"/><circle cx="1141.5" cy="954.1" r="4.55"/><circle cx="1140.4" cy="953.6" r="4.55"/><circle cx="1139.6" cy="953.4" r="4.55"/><circle cx="1145.7" cy="954.2" r="4.55"/><circle cx="1137.2" cy="954.4" r="4.55"/><circle cx="1151.2" cy="951.7" r="4.55"/><circle cx="1144.8" cy="951.9" r="4.55"/><circle cx="1149.9" cy="954.8" r="4.55"/><circle cx="1138.8" cy="954.4" r="4.55"/><circle cx="1136.5" cy="971.2" r="4.55"/><circle cx="1139.2" cy="975.2" r="4.55"/><circle cx="1134" cy="970" r="4.55"/><circle cx="1142.2" cy="980.6" r="4.55"/><circle cx="1159.8" cy="979.5" r="4.55"/><circle cx="1157.9" cy="985.7" r="4.55"/><circle cx="1157.3" cy="981.7" r="4.55"/><circle cx="1161.3" cy="983.4" r="4.55"/><circle cx="1138.4" cy="975.5" r="4.55"/><circle cx="1147.3" cy="981.2" r="4.55"/><circle cx="1159" cy="977.4" r="4.55"/><circle cx="1154.3" cy="984.9" r="4.55"/><circle cx="1152.5" cy="990.9" r="4.55"/><circle cx="1137.7" cy="974.9" r="4.55"/><circle cx="1144.5" cy="976.4" r="4.55"/><circle cx="1162" cy="975.6" r="4.55"/><circle cx="1160.6" cy="978.9" r="4.55"/><circle cx="1137.4" cy="974.1" r="4.55"/><circle cx="1157.7" cy="984.7" r="4.55"/><circle cx="1139.3" cy="963.8" r="4.55"/><circle cx="1156.5" cy="977.2" r="4.55"/><circle cx="1139.4" cy="967" r="4.55"/><circle cx="1141.6" cy="967.3" r="4.55"/><circle cx="1158.2" cy="980.8" r="4.55"/><circle cx="1137.6" cy="964.7" r="4.55"/><circle cx="1136.6" cy="964" r="4.55"/><circle cx="1140.7" cy="978.6" r="4.55"/><circle cx="1149" cy="984.9" r="4.55"/><circle cx="1138" cy="974.5" r="4.55"/><circle cx="1137.5" cy="969.8" r="4.55"/><circle cx="1161.2" cy="972.9" r="4.55"/><circle cx="1154" cy="978.1" r="4.55"/><circle cx="1156.1" cy="986.6" r="4.55"/><circle cx="1158.8" cy="987.6" r="4.55"/><circle cx="1138.2" cy="964.7" r="4.55"/><circle cx="1156.5" cy="980.1" r="4.55"/><circle cx="1143.8" cy="980.4" r="4.55"/><circle cx="1136.3" cy="973.7" r="4.55"/><circle cx="1141.2" cy="975.5" r="4.55"/><circle cx="1151.1" cy="980.3" r="4.55"/><circle cx="1155.5" cy="988.6" r="4.55"/><circle cx="1152.4" cy="984.6" r="4.55"/><circle cx="1144.6" cy="974.9" r="4.55"/><circle cx="1136.7" cy="971.7" r="4.55"/><circle cx="1138.5" cy="971.6" r="4.55"/><circle cx="1163.6" cy="977" r="4.55"/><circle cx="1138.1" cy="969.6" r="4.55"/><circle cx="1155.1" cy="982.2" r="4.55"/><circle cx="1160.1" cy="984.7" r="4.55"/><circle cx="1160.2" cy="979.9" r="4.55"/><circle cx="1143.2" cy="979.9" r="4.55"/><circle cx="1155.8" cy="977.6" r="4.55"/><circle cx="1157.3" cy="977.8" r="4.55"/><circle cx="1153.3" cy="981" r="4.55"/><circle cx="1134.4" cy="968.3" r="4.55"/><circle cx="1154.4" cy="988" r="4.55"/><circle cx="1142.3" cy="981.6" r="4.55"/><circle cx="1152.8" cy="990" r="4.55"/><circle cx="1134.3" cy="966.6" r="4.55"/><circle cx="1146" cy="978.1" r="4.55"/><circle cx="1144.2" cy="988.2" r="4.55"/><circle cx="1155.7" cy="995.4" r="4.55"/><circle cx="1129.9" cy="966.7" r="4.55"/><circle cx="1177.3" cy="1000.4" r="4.55"/><circle cx="1179.8" cy="1002.1" r="4.55"/><circle cx="1167.4" cy="1003.3" r="4.55"/><circle cx="1175.2" cy="996.8" r="4.55"/><circle cx="1179.3" cy="1007" r="4.55"/><circle cx="1178" cy="1004.3" r="4.55"/><circle cx="1174.7" cy="1002.3" r="4.55"/><circle cx="1172.6" cy="1005.3" r="4.55"/><circle cx="1180.2" cy="1001.3" r="4.55"/><circle cx="1170.9" cy="994.4" r="4.55"/><circle cx="1177.6" cy="993.6" r="4.55"/><circle cx="1178.2" cy="995.7" r="4.55"/><circle cx="1166.2" cy="1003.8" r="4.55"/><circle cx="1177.6" cy="1003" r="4.55"/><circle cx="1167.7" cy="1003.3" r="4.55"/><circle cx="1181.6" cy="1010.2" r="4.55"/><circle cx="1179.9" cy="999.4" r="4.55"/><circle cx="1176.5" cy="1003.5" r="4.55"/><circle cx="1179.6" cy="997.8" r="4.55"/><circle cx="1175.9" cy="999.5" r="4.55"/><circle cx="1180.1" cy="1001" r="4.55"/><circle cx="1171.9" cy="995.1" r="4.55"/><circle cx="1182.2" cy="1001.9" r="4.55"/><circle cx="1180.7" cy="1001.2" r="4.55"/><circle cx="1163.6" cy="1021.6" r="4.55"/><circle cx="1163.3" cy="1021.7" r="4.55"/><circle cx="1163.7" cy="1021.9" r="4.55"/><circle cx="1156.4" cy="1019.7" r="4.55"/><circle cx="1162" cy="1024.1" r="4.55"/><circle cx="1162.7" cy="1022.9" r="4.55"/><circle cx="1163.4" cy="1019.7" r="4.55"/><circle cx="1165.5" cy="1021.8" r="4.55"/><circle cx="1163.9" cy="1022.3" r="4.55"/><circle cx="1014.6" cy="928.8" r="4.55"/><circle cx="1030.4" cy="925.2" r="4.55"/><circle cx="1036.1" cy="927.4" r="4.55"/><circle cx="1018.9" cy="943.1" r="4.55"/><circle cx="1013.9" cy="947.4" r="4.55"/><circle cx="1008.2" cy="962.4" r="4.55"/><circle cx="999.6" cy="967.5" r="4.55"/><circle cx="988.1" cy="969.6" r="4.55"/><circle cx="990.2" cy="979.6" r="4.55"/><circle cx="991" cy="983.2" r="4.55"/></g>
<g fill="#38ba7a" fill-opacity="0.5" stroke="#000" stroke-opacity="0.55" stroke-width="1.35"><circle cx="1090" cy="920" r="4.55"/><circle cx="1073.3" cy="926.6" r="4.55"/><circle cx="1074" cy="922.9" r="4.55"/><circle cx="1073" cy="926.7" r="4.55"/><circle cx="1086.8" cy="922.2" r="4.55"/><circle cx="1075.4" cy="930.3" r="4.55"/><circle cx="1067.3" cy="920.9" r="4.55"/><circle cx="1082.5" cy="927" r="4.55"/><circle cx="1086.8" cy="917" r="4.55"/><circle cx="1088" cy="917.5" r="4.55"/><circle cx="1077.8" cy="929.7" r="4.55"/><circle cx="1087.8" cy="921.9" r="4.55"/><circle cx="1075.4" cy="914.8" r="4.55"/><circle cx="1083.9" cy="914.3" r="4.55"/><circle cx="1087.6" cy="926.3" r="4.55"/><circle cx="1088.8" cy="923.9" r="4.55"/><circle cx="1066.2" cy="926.8" r="4.55"/><circle cx="1076.8" cy="927.3" r="4.55"/><circle cx="1074.8" cy="930.6" r="4.55"/><circle cx="1088.7" cy="919.2" r="4.55"/><circle cx="1064.5" cy="929.3" r="4.55"/><circle cx="1075.7" cy="918.2" r="4.55"/><circle cx="1074.8" cy="915.5" r="4.55"/><circle cx="1065.8" cy="930.3" r="4.55"/><circle cx="1081.7" cy="931.6" r="4.55"/><circle cx="1086.1" cy="925.2" r="4.55"/><circle cx="1089.1" cy="915.5" r="4.55"/><circle cx="1085.1" cy="921.6" r="4.55"/><circle cx="1083.4" cy="927" r="4.55"/><circle cx="1065.1" cy="928" r="4.55"/><circle cx="1076.1" cy="928.7" r="4.55"/><circle cx="1077.4" cy="933.2" r="4.55"/><circle cx="1072.6" cy="926.8" r="4.55"/><circle cx="1072.3" cy="928.7" r="4.55"/><circle cx="1084.9" cy="915.2" r="4.55"/><circle cx="1085.2" cy="918.6" r="4.55"/><circle cx="1063.6" cy="926.4" r="4.55"/><circle cx="1073.7" cy="924.9" r="4.55"/><circle cx="1086.8" cy="923.8" r="4.55"/><circle cx="1088.6" cy="922.5" r="4.55"/><circle cx="1068.3" cy="929.7" r="4.55"/><circle cx="1084.3" cy="922.2" r="4.55"/><circle cx="1083.5" cy="921.3" r="4.55"/><circle cx="1088.4" cy="917.1" r="4.55"/><circle cx="1088.2" cy="917.5" r="4.55"/><circle cx="1085.6" cy="959.8" r="4.55"/><circle cx="1087.5" cy="955.7" r="4.55"/><circle cx="1096.6" cy="954.6" r="4.55"/><circle cx="1093.4" cy="937.5" r="4.55"/><circle cx="1082.3" cy="950.2" r="4.55"/><circle cx="1079.1" cy="937.7" r="4.55"/><circle cx="1094.4" cy="949.5" r="4.55"/><circle cx="1081.7" cy="954.5" r="4.55"/><circle cx="1084.3" cy="959.4" r="4.55"/><circle cx="1082.5" cy="939.1" r="4.55"/><circle cx="1080.6" cy="958" r="4.55"/><circle cx="1080.5" cy="942.4" r="4.55"/><circle cx="1091.4" cy="960.7" r="4.55"/><circle cx="1084.3" cy="932.3" r="4.55"/><circle cx="1083.4" cy="938.9" r="4.55"/><circle cx="1093.5" cy="950.7" r="4.55"/><circle cx="1079.4" cy="956.1" r="4.55"/><circle cx="1074.6" cy="959" r="4.55"/><circle cx="1088" cy="961.7" r="4.55"/><circle cx="1082.6" cy="936.4" r="4.55"/><circle cx="1093.9" cy="951.5" r="4.55"/><circle cx="1088.6" cy="960.9" r="4.55"/><circle cx="1083.7" cy="956.3" r="4.55"/><circle cx="1086.1" cy="959.3" r="4.55"/><circle cx="1078.6" cy="937.7" r="4.55"/><circle cx="1084.6" cy="940" r="4.55"/><circle cx="1096.2" cy="954.4" r="4.55"/><circle cx="1097" cy="952.9" r="4.55"/><circle cx="1086.8" cy="940.1" r="4.55"/><circle cx="1079.8" cy="958.1" r="4.55"/><circle cx="1085.1" cy="931.2" r="4.55"/><circle cx="1086.3" cy="927.8" r="4.55"/><circle cx="1081.6" cy="951.6" r="4.55"/><circle cx="1086.8" cy="962.6" r="4.55"/><circle cx="1079.3" cy="958.2" r="4.55"/><circle cx="1083.2" cy="957.7" r="4.55"/><circle cx="1088.9" cy="960.6" r="4.55"/><circle cx="1086.9" cy="957.4" r="4.55"/><circle cx="1092.9" cy="956.3" r="4.55"/><circle cx="1083.8" cy="960.6" r="4.55"/><circle cx="1092.1" cy="949" r="4.55"/><circle cx="1081.3" cy="935.7" r="4.55"/><circle cx="1079.4" cy="953.4" r="4.55"/><circle cx="1090.8" cy="950.5" r="4.55"/><circle cx="1087.5" cy="955.4" r="4.55"/><circle cx="1050.3" cy="949.1" r="4.55"/><circle cx="1058.2" cy="952.5" r="4.55"/><circle cx="1042" cy="952.2" r="4.55"/><circle cx="1048.7" cy="955.3" r="4.55"/><circle cx="1038" cy="942.3" r="4.55"/><circle cx="1046.2" cy="942.3" r="4.55"/><circle cx="1048.9" cy="955.3" r="4.55"/><circle cx="1050.6" cy="946" r="4.55"/><circle cx="1050.1" cy="953.3" r="4.55"/><circle cx="1051.8" cy="939.4" r="4.55"/><circle cx="1055.9" cy="950.8" r="4.55"/><circle cx="1046.5" cy="939.6" r="4.55"/><circle cx="1038.4" cy="952.2" r="4.55"/><circle cx="1055.9" cy="946.5" r="4.55"/><circle cx="1050.8" cy="952.2" r="4.55"/><circle cx="1046.7" cy="940.7" r="4.55"/><circle cx="1058.5" cy="953.5" r="4.55"/><circle cx="1047.3" cy="950.9" r="4.55"/><circle cx="1037.3" cy="939.8" r="4.55"/><circle cx="1049.4" cy="956" r="4.55"/><circle cx="1047.4" cy="940.7" r="4.55"/><circle cx="1050.1" cy="947.7" r="4.55"/><circle cx="1052.9" cy="935.8" r="4.55"/><circle cx="1049.5" cy="944" r="4.55"/><circle cx="1044.6" cy="941.8" r="4.55"/><circle cx="1058.3" cy="950.5" r="4.55"/><circle cx="1049.7" cy="950.3" r="4.55"/><circle cx="1038.5" cy="945.2" r="4.55"/><circle cx="1058.6" cy="953.8" r="4.55"/><circle cx="1038.7" cy="953.7" r="4.55"/><circle cx="1027.6" cy="956" r="4.55"/><circle cx="1028.3" cy="956.8" r="4.55"/><circle cx="1031.1" cy="955.6" r="4.55"/><circle cx="1026" cy="961.6" r="4.55"/><circle cx="1035.3" cy="956.1" r="4.55"/><circle cx="1028.2" cy="957.9" r="4.55"/><circle cx="1028.6" cy="953.9" r="4.55"/><circle cx="1028.4" cy="958.6" r="4.55"/><circle cx="1026.5" cy="955.8" r="4.55"/><circle cx="1029.7" cy="955.6" r="4.55"/><circle cx="1046.9" cy="964" r="4.55"/><circle cx="1056.9" cy="978.4" r="4.55"/><circle cx="1059.8" cy="985.2" r="4.55"/><circle cx="1068.3" cy="986.7" r="4.55"/><circle cx="1053.3" cy="987.7" r="4.55"/><circle cx="1053.8" cy="974.2" r="4.55"/><circle cx="1052.7" cy="974.2" r="4.55"/><circle cx="1042.3" cy="968.4" r="4.55"/><circle cx="1075.2" cy="977.6" r="4.55"/><circle cx="1073.4" cy="981.5" r="4.55"/><circle cx="1072.3" cy="984.1" r="4.55"/><circle cx="1048.8" cy="984.3" r="4.55"/><circle cx="1052.1" cy="968.1" r="4.55"/><circle cx="1064.2" cy="980.7" r="4.55"/><circle cx="1048.4" cy="987.7" r="4.55"/><circle cx="1074.7" cy="966.2" r="4.55"/><circle cx="1069.2" cy="983.6" r="4.55"/><circle cx="1064.8" cy="972.6" r="4.55"/><circle cx="1051.5" cy="975.7" r="4.55"/><circle cx="1072.3" cy="982.7" r="4.55"/><circle cx="1067.8" cy="984" r="4.55"/><circle cx="1066.6" cy="973.1" r="4.55"/><circle cx="1052" cy="977.2" r="4.55"/><circle cx="1056.6" cy="985.6" r="4.55"/><circle cx="1059.7" cy="972.5" r="4.55"/><circle cx="1047.5" cy="964.5" r="4.55"/><circle cx="1052.5" cy="979.6" r="4.55"/><circle cx="1059.8" cy="983.8" r="4.55"/><circle cx="1077.7" cy="977.6" r="4.55"/><circle cx="1070.3" cy="982.4" r="4.55"/><circle cx="1071.1" cy="988.3" r="4.55"/><circle cx="1042.5" cy="972.6" r="4.55"/><circle cx="1069" cy="982.8" r="4.55"/><circle cx="1044.3" cy="969.4" r="4.55"/><circle cx="1071.5" cy="987.6" r="4.55"/><circle cx="1054.7" cy="972.2" r="4.55"/><circle cx="1047.1" cy="986.9" r="4.55"/><circle cx="1074.6" cy="983.2" r="4.55"/><circle cx="1068.3" cy="981.5" r="4.55"/><circle cx="1053" cy="984.1" r="4.55"/><circle cx="1054.5" cy="983.8" r="4.55"/><circle cx="1053.2" cy="975.8" r="4.55"/><circle cx="1072.1" cy="983.2" r="4.55"/><circle cx="1047.6" cy="961.4" r="4.55"/><circle cx="1072.6" cy="965.9" r="4.55"/><circle cx="1059.9" cy="981.8" r="4.55"/><circle cx="1053.2" cy="973.6" r="4.55"/><circle cx="1049" cy="983.3" r="4.55"/><circle cx="1045" cy="982.1" r="4.55"/><circle cx="1072.8" cy="962.7" r="4.55"/><circle cx="1053.1" cy="991.4" r="4.55"/><circle cx="1076.7" cy="979.3" r="4.55"/><circle cx="1052.7" cy="977.8" r="4.55"/><circle cx="1068.9" cy="979.3" r="4.55"/><circle cx="1073.3" cy="978.3" r="4.55"/><circle cx="1113.3" cy="988.9" r="4.55"/><circle cx="1113.2" cy="994.5" r="4.55"/><circle cx="1116.7" cy="997.5" r="4.55"/><circle cx="1110.4" cy="987.2" r="4.55"/><circle cx="1111.7" cy="999" r="4.55"/><circle cx="1115.5" cy="989.6" r="4.55"/><circle cx="1116.6" cy="993.9" r="4.55"/><circle cx="1116" cy="1001.8" r="4.55"/><circle cx="1114" cy="995.3" r="4.55"/><circle cx="1110.6" cy="979.9" r="4.55"/><circle cx="1111" cy="989.6" r="4.55"/><circle cx="1111.2" cy="982" r="4.55"/><circle cx="1101.6" cy="971.5" r="4.55"/><circle cx="1108.5" cy="979.1" r="4.55"/><circle cx="1104.3" cy="979.7" r="4.55"/><circle cx="1115.2" cy="998.9" r="4.55"/><circle cx="1106.8" cy="973.9" r="4.55"/><circle cx="1106.1" cy="980.9" r="4.55"/><circle cx="1109" cy="975.9" r="4.55"/><circle cx="1106.6" cy="980.6" r="4.55"/><circle cx="1115.5" cy="1001.5" r="4.55"/><circle cx="1112.6" cy="998" r="4.55"/><circle cx="1111.6" cy="996.5" r="4.55"/><circle cx="1096.2" cy="968.7" r="4.55"/><circle cx="1105.1" cy="975.7" r="4.55"/><circle cx="1114.3" cy="993.2" r="4.55"/><circle cx="1113.9" cy="992.4" r="4.55"/><circle cx="1100.4" cy="972.4" r="4.55"/><circle cx="1109.2" cy="980.5" r="4.55"/><circle cx="1106.7" cy="974.6" r="4.55"/><circle cx="1114.8" cy="992.8" r="4.55"/><circle cx="1118.3" cy="996.3" r="4.55"/><circle cx="1065.4" cy="995.8" r="4.55"/><circle cx="1078.5" cy="1001.3" r="4.55"/><circle cx="1101.1" cy="1008.4" r="4.55"/><circle cx="1066.2" cy="1007.7" r="4.55"/><circle cx="1090.5" cy="1007.9" r="4.55"/><circle cx="1046.4" cy="1004.1" r="4.55"/><circle cx="1038.3" cy="1003.2" r="4.55"/><circle cx="1077.8" cy="1001.9" r="4.55"/><circle cx="1082.4" cy="1006.9" r="4.55"/><circle cx="1038.7" cy="1001.7" r="4.55"/><circle cx="1092.4" cy="1010.8" r="4.55"/><circle cx="1103.8" cy="1001.4" r="4.55"/><circle cx="1076.5" cy="1009.9" r="4.55"/><circle cx="1107.8" cy="1003.6" r="4.55"/><circle cx="1051.5" cy="1006.1" r="4.55"/><circle cx="1085.4" cy="1001.3" r="4.55"/><circle cx="1044.7" cy="1002.5" r="4.55"/><circle cx="1051" cy="1009.6" r="4.55"/><circle cx="1058.7" cy="1010.4" r="4.55"/><circle cx="1040.4" cy="1002.4" r="4.55"/><circle cx="1066.8" cy="1001.8" r="4.55"/><circle cx="1091.8" cy="1012" r="4.55"/><circle cx="1080.6" cy="1004.6" r="4.55"/><circle cx="1044.2" cy="999.4" r="4.55"/><circle cx="1058" cy="1012.7" r="4.55"/><circle cx="1105.3" cy="1001" r="4.55"/><circle cx="1040.8" cy="1000" r="4.55"/><circle cx="1039.3" cy="1004.8" r="4.55"/><circle cx="1065.2" cy="1005.7" r="4.55"/><circle cx="1087.7" cy="1014.9" r="4.55"/><circle cx="1086.6" cy="1010.4" r="4.55"/><circle cx="1036" cy="1003.8" r="4.55"/><circle cx="1069.5" cy="1006" r="4.55"/><circle cx="1080.8" cy="1004.6" r="4.55"/><circle cx="1082.9" cy="997.4" r="4.55"/><circle cx="1107.8" cy="1001.7" r="4.55"/><circle cx="1103.3" cy="999" r="4.55"/><circle cx="1039.4" cy="1000.8" r="4.55"/><circle cx="1051.6" cy="1005.5" r="4.55"/><circle cx="1057.6" cy="1013.5" r="4.55"/><circle cx="1103.6" cy="1003.1" r="4.55"/><circle cx="1101.8" cy="1007.7" r="4.55"/><circle cx="1039.3" cy="1000.2" r="4.55"/><circle cx="1067.5" cy="1007.1" r="4.55"/><circle cx="1049.7" cy="1003.4" r="4.55"/><circle cx="1066.6" cy="1005.4" r="4.55"/><circle cx="1090.1" cy="1012.5" r="4.55"/><circle cx="1091.5" cy="1012.1" r="4.55"/><circle cx="1087.7" cy="1007.3" r="4.55"/><circle cx="1040.1" cy="1003.4" r="4.55"/><circle cx="1101.9" cy="1008" r="4.55"/><circle cx="1067.5" cy="993" r="4.55"/><circle cx="1057.2" cy="1011.1" r="4.55"/><circle cx="1083.2" cy="1003.3" r="4.55"/><circle cx="1092.6" cy="1010.8" r="4.55"/><circle cx="1039.1" cy="1019.6" r="4.55"/><circle cx="1064.1" cy="1016.1" r="4.55"/><circle cx="1058.1" cy="1014.8" r="4.55"/><circle cx="1061.3" cy="1016.2" r="4.55"/><circle cx="1050.8" cy="1017.5" r="4.55"/><circle cx="1059.9" cy="1014.9" r="4.55"/><circle cx="1039.5" cy="1016.3" r="4.55"/><circle cx="1050.6" cy="1019.1" r="4.55"/><circle cx="1063.3" cy="1018.2" r="4.55"/><circle cx="1055.1" cy="1016.8" r="4.55"/><circle cx="1061" cy="1015.2" r="4.55"/><circle cx="1040.2" cy="1017.8" r="4.55"/><circle cx="1035.1" cy="1020.6" r="4.55"/><circle cx="1061.2" cy="1017" r="4.55"/><circle cx="1087.5" cy="1021.1" r="4.55"/><circle cx="1101.3" cy="1026.2" r="4.55"/><circle cx="1099.8" cy="1030.2" r="4.55"/><circle cx="1090.3" cy="1019.8" r="4.55"/><circle cx="1090.7" cy="1029.4" r="4.55"/><circle cx="1094.7" cy="1032" r="4.55"/><circle cx="1100.1" cy="1032.5" r="4.55"/><circle cx="1090.1" cy="1029.3" r="4.55"/><circle cx="1104.1" cy="1026.7" r="4.55"/><circle cx="1086.1" cy="1024" r="4.55"/><circle cx="1099.3" cy="1027.1" r="4.55"/><circle cx="1085.7" cy="1023.6" r="4.55"/><circle cx="1091" cy="1024.6" r="4.55"/><circle cx="1089.6" cy="1015.4" r="4.55"/><circle cx="1098.8" cy="1028.7" r="4.55"/><circle cx="1093.4" cy="1032.2" r="4.55"/><circle cx="1104.5" cy="1006.6" r="4.55"/><circle cx="1098.6" cy="1011.8" r="4.55"/><circle cx="1110.1" cy="1013.7" r="4.55"/><circle cx="1106.2" cy="1014.2" r="4.55"/><circle cx="1107.2" cy="1007.7" r="4.55"/><circle cx="1111.3" cy="1008.1" r="4.55"/><circle cx="1098.8" cy="1010.2" r="4.55"/><circle cx="1110" cy="1007.9" r="4.55"/><circle cx="1107" cy="1006.8" r="4.55"/><circle cx="1094.6" cy="1014.1" r="4.55"/><circle cx="1107" cy="1009.9" r="4.55"/><circle cx="1096.6" cy="1011" r="4.55"/><circle cx="1109.8" cy="1014.4" r="4.55"/><circle cx="1097.7" cy="1009.5" r="4.55"/><circle cx="945.4" cy="1086.8" r="4.55"/><circle cx="940.3" cy="1093.2" r="4.55"/><circle cx="938.9" cy="1093" r="4.55"/><circle cx="935.1" cy="1088.6" r="4.55"/><circle cx="944.1" cy="1089.7" r="4.55"/><circle cx="951" cy="1085.5" r="4.55"/><circle cx="952.5" cy="1082.2" r="4.55"/><circle cx="945.8" cy="1093.2" r="4.55"/><circle cx="941.5" cy="1091.5" r="4.55"/><circle cx="954.4" cy="1085.7" r="4.55"/><circle cx="945" cy="1091.1" r="4.55"/><circle cx="937.9" cy="1093" r="4.55"/><circle cx="955.2" cy="1086.6" r="4.55"/><circle cx="952.8" cy="1082.5" r="4.55"/><circle cx="934.7" cy="1085.6" r="4.55"/><circle cx="949.9" cy="1087" r="4.55"/><circle cx="939.6" cy="1093.4" r="4.55"/><circle cx="953.5" cy="1085.6" r="4.55"/><circle cx="949.4" cy="1088.1" r="4.55"/><circle cx="942.4" cy="1093.5" r="4.55"/><circle cx="936.7" cy="1088.6" r="4.55"/><circle cx="950.2" cy="1086.3" r="4.55"/><circle cx="958.6" cy="1081.7" r="4.55"/><circle cx="942.7" cy="1094" r="4.55"/><circle cx="942.9" cy="1086.2" r="4.55"/><circle cx="936.8" cy="1091.6" r="4.55"/><circle cx="947.5" cy="1096.2" r="4.55"/><circle cx="934.6" cy="1085.9" r="4.55"/><circle cx="939" cy="1104.5" r="4.55"/><circle cx="950.3" cy="1119.6" r="4.55"/><circle cx="954.7" cy="1104.3" r="4.55"/><circle cx="979.8" cy="1104.7" r="4.55"/><circle cx="958.3" cy="1118.7" r="4.55"/><circle cx="964.2" cy="1141.4" r="4.55"/><circle cx="945.4" cy="1101.7" r="4.55"/><circle cx="972" cy="1112.5" r="4.55"/><circle cx="973" cy="1119.5" r="4.55"/><circle cx="944.2" cy="1129.6" r="4.55"/><circle cx="987.1" cy="1113.2" r="4.55"/><circle cx="984.4" cy="1125.7" r="4.55"/><circle cx="941.3" cy="1110.4" r="4.55"/><circle cx="978" cy="1123.7" r="4.55"/><circle cx="940.7" cy="1121.8" r="4.55"/><circle cx="961.8" cy="1094.3" r="4.55"/><circle cx="982.3" cy="1133.3" r="4.55"/><circle cx="949.5" cy="1117.7" r="4.55"/><circle cx="950.2" cy="1137.6" r="4.55"/><circle cx="979.9" cy="1114.5" r="4.55"/><circle cx="973" cy="1108.5" r="4.55"/><circle cx="967.7" cy="1120.8" r="4.55"/><circle cx="980" cy="1130.1" r="4.55"/><circle cx="943.9" cy="1106.9" r="4.55"/><circle cx="935.4" cy="1114.1" r="4.55"/><circle cx="947.5" cy="1101.1" r="4.55"/><circle cx="938.5" cy="1124.9" r="4.55"/><circle cx="938.4" cy="1111.7" r="4.55"/><circle cx="965.2" cy="1130.4" r="4.55"/><circle cx="970.8" cy="1103.8" r="4.55"/><circle cx="956.8" cy="1108.1" r="4.55"/><circle cx="948.6" cy="1100" r="4.55"/><circle cx="938.6" cy="1102.9" r="4.55"/><circle cx="951.8" cy="1118.5" r="4.55"/><circle cx="980.2" cy="1130.6" r="4.55"/><circle cx="970.5" cy="1110.9" r="4.55"/><circle cx="984.2" cy="1133.1" r="4.55"/><circle cx="954.7" cy="1132" r="4.55"/><circle cx="944.6" cy="1120" r="4.55"/><circle cx="949.1" cy="1136.3" r="4.55"/><circle cx="971.2" cy="1124.8" r="4.55"/><circle cx="957.7" cy="1114.6" r="4.55"/><circle cx="965.8" cy="1141.5" r="4.55"/><circle cx="977.9" cy="1117.8" r="4.55"/><circle cx="935.6" cy="1108.3" r="4.55"/><circle cx="960.9" cy="1107.7" r="4.55"/><circle cx="982" cy="1130.2" r="4.55"/><circle cx="964.1" cy="1120.8" r="4.55"/><circle cx="948.4" cy="1100.2" r="4.55"/><circle cx="969.1" cy="1114.5" r="4.55"/><circle cx="982.3" cy="1109.9" r="4.55"/><circle cx="965.1" cy="1131.6" r="4.55"/><circle cx="980.2" cy="1114.1" r="4.55"/><circle cx="937.5" cy="1115.6" r="4.55"/><circle cx="956.2" cy="1112.3" r="4.55"/><circle cx="953.1" cy="1129.7" r="4.55"/><circle cx="946.4" cy="1104" r="4.55"/><circle cx="938.6" cy="1104.8" r="4.55"/><circle cx="938.6" cy="1121.2" r="4.55"/><circle cx="971.9" cy="1120.8" r="4.55"/><circle cx="965.1" cy="1091.6" r="4.55"/><circle cx="980.6" cy="1131.2" r="4.55"/><circle cx="971" cy="1109.5" r="4.55"/><circle cx="952.3" cy="1117.3" r="4.55"/><circle cx="987.3" cy="1113.9" r="4.55"/><circle cx="960.3" cy="1140.1" r="4.55"/><circle cx="941.2" cy="1123.7" r="4.55"/><circle cx="970.1" cy="1114.2" r="4.55"/><circle cx="978.8" cy="1127.7" r="4.55"/><circle cx="938.5" cy="1102.1" r="4.55"/><circle cx="973.5" cy="1112.4" r="4.55"/><circle cx="964.1" cy="1129.4" r="4.55"/><circle cx="963.6" cy="1123.2" r="4.55"/><circle cx="967.7" cy="1121.3" r="4.55"/><circle cx="937.9" cy="1105.7" r="4.55"/><circle cx="952.5" cy="1135.6" r="4.55"/><circle cx="955.3" cy="1132.8" r="4.55"/><circle cx="957.6" cy="1116.8" r="4.55"/><circle cx="958" cy="1115.8" r="4.55"/><circle cx="957.5" cy="1119.8" r="4.55"/><circle cx="971.4" cy="1109.1" r="4.55"/><circle cx="937.9" cy="1101.1" r="4.55"/><circle cx="964.2" cy="1116.1" r="4.55"/><circle cx="981.5" cy="1135.6" r="4.55"/><circle cx="939" cy="1114.7" r="4.55"/><circle cx="947.1" cy="1099.7" r="4.55"/><circle cx="973.3" cy="1108" r="4.55"/><circle cx="942" cy="1122.8" r="4.55"/><circle cx="979.1" cy="1128.4" r="4.55"/><circle cx="939.6" cy="1103.8" r="4.55"/><circle cx="966.1" cy="1144.4" r="4.55"/><circle cx="954" cy="1133.8" r="4.55"/><circle cx="955.3" cy="1105.2" r="4.55"/><circle cx="977.2" cy="1107" r="4.55"/><circle cx="983.4" cy="1132.7" r="4.55"/><circle cx="954.9" cy="1138" r="4.55"/><circle cx="975.1" cy="1118.7" r="4.55"/><circle cx="980" cy="1129.3" r="4.55"/><circle cx="964.1" cy="1123.1" r="4.55"/><circle cx="949.3" cy="1114.4" r="4.55"/><circle cx="986.5" cy="1115.5" r="4.55"/><circle cx="951.8" cy="1100.8" r="4.55"/><circle cx="941.1" cy="1117.1" r="4.55"/><circle cx="960.1" cy="1092.2" r="4.55"/><circle cx="942.4" cy="1105.6" r="4.55"/><circle cx="943.9" cy="1107.5" r="4.55"/><circle cx="964" cy="1130.4" r="4.55"/><circle cx="970.2" cy="1109.9" r="4.55"/><circle cx="966.6" cy="1113.1" r="4.55"/><circle cx="940" cy="1122.2" r="4.55"/><circle cx="943.4" cy="1111.4" r="4.55"/><circle cx="956.9" cy="1110.3" r="4.55"/><circle cx="981.4" cy="1105.4" r="4.55"/><circle cx="964.8" cy="1124.1" r="4.55"/><circle cx="939.8" cy="1117.8" r="4.55"/><circle cx="954.6" cy="1119.5" r="4.55"/><circle cx="939.7" cy="1101.6" r="4.55"/><circle cx="961.5" cy="1141.8" r="4.55"/><circle cx="971.1" cy="1102.6" r="4.55"/><circle cx="964.4" cy="1129.6" r="4.55"/><circle cx="948.3" cy="1115.8" r="4.55"/><circle cx="971.2" cy="1109.9" r="4.55"/><circle cx="982.4" cy="1133.6" r="4.55"/><circle cx="959.7" cy="1109.8" r="4.55"/><circle cx="953.8" cy="1115.3" r="4.55"/><circle cx="977.8" cy="1127.3" r="4.55"/><circle cx="963.1" cy="1139.3" r="4.55"/><circle cx="940.4" cy="1132.9" r="4.55"/><circle cx="972.7" cy="1103.8" r="4.55"/><circle cx="941.9" cy="1104" r="4.55"/><circle cx="962.5" cy="1155.3" r="4.55"/><circle cx="943.6" cy="1142.4" r="4.55"/><circle cx="953.8" cy="1144.5" r="4.55"/><circle cx="956.4" cy="1152.4" r="4.55"/><circle cx="939.7" cy="1168.7" r="4.55"/><circle cx="949.4" cy="1163" r="4.55"/><circle cx="950.9" cy="1154.5" r="4.55"/><circle cx="940.7" cy="1159.2" r="4.55"/><circle cx="958.6" cy="1158.7" r="4.55"/><circle cx="953.3" cy="1145.5" r="4.55"/><circle cx="937.8" cy="1140.8" r="4.55"/><circle cx="953.5" cy="1149.4" r="4.55"/><circle cx="937.2" cy="1155.2" r="4.55"/><circle cx="948.2" cy="1144.5" r="4.55"/><circle cx="956.2" cy="1152.4" r="4.55"/><circle cx="962.9" cy="1156.8" r="4.55"/><circle cx="938.6" cy="1157.6" r="4.55"/><circle cx="930.5" cy="1147.8" r="4.55"/><circle cx="947.1" cy="1168.9" r="4.55"/><circle cx="956.2" cy="1166.8" r="4.55"/><circle cx="931.7" cy="1144.2" r="4.55"/><circle cx="932.6" cy="1150.3" r="4.55"/><circle cx="945" cy="1164.5" r="4.55"/><circle cx="943.6" cy="1166.6" r="4.55"/><circle cx="956.8" cy="1147.9" r="4.55"/><circle cx="959.1" cy="1166.8" r="4.55"/><circle cx="946.1" cy="1144.1" r="4.55"/><circle cx="938.6" cy="1157.1" r="4.55"/><circle cx="948.2" cy="1149.4" r="4.55"/><circle cx="945.5" cy="1169.1" r="4.55"/><circle cx="948.4" cy="1166.6" r="4.55"/><circle cx="945.6" cy="1147.2" r="4.55"/><circle cx="941.2" cy="1137.4" r="4.55"/><circle cx="940.2" cy="1155.9" r="4.55"/><circle cx="963.6" cy="1150.7" r="4.55"/><circle cx="963.1" cy="1160.9" r="4.55"/><circle cx="953.7" cy="1167.2" r="4.55"/><circle cx="956" cy="1160.1" r="4.55"/><circle cx="957.4" cy="1163.6" r="4.55"/><circle cx="938.9" cy="1136.1" r="4.55"/><circle cx="943.8" cy="1144.5" r="4.55"/><circle cx="948.5" cy="1162.9" r="4.55"/><circle cx="934.2" cy="1156.5" r="4.55"/><circle cx="937.3" cy="1157" r="4.55"/><circle cx="937.1" cy="1155.7" r="4.55"/><circle cx="940" cy="1160.4" r="4.55"/><circle cx="954.5" cy="1150.5" r="4.55"/><circle cx="931.8" cy="1143.9" r="4.55"/><circle cx="946.2" cy="1170.1" r="4.55"/><circle cx="951.4" cy="1149.9" r="4.55"/><circle cx="957.2" cy="1152.3" r="4.55"/><circle cx="945.9" cy="1143.9" r="4.55"/><circle cx="960" cy="1157.6" r="4.55"/><circle cx="941.6" cy="1168.5" r="4.55"/><circle cx="944.8" cy="1167.8" r="4.55"/><circle cx="949.1" cy="1143.7" r="4.55"/><circle cx="942.8" cy="1139.3" r="4.55"/><circle cx="944.4" cy="1142" r="4.55"/><circle cx="948.4" cy="1168" r="4.55"/><circle cx="942.7" cy="1167.9" r="4.55"/><circle cx="932.9" cy="1146.7" r="4.55"/><circle cx="941.8" cy="1138.6" r="4.55"/><circle cx="954.9" cy="1171.2" r="4.55"/><circle cx="948.9" cy="1165.9" r="4.55"/><circle cx="961.2" cy="1150.8" r="4.55"/><circle cx="934" cy="1158.7" r="4.55"/><circle cx="939.1" cy="1158.4" r="4.55"/><circle cx="948.4" cy="1165.2" r="4.55"/><circle cx="953.9" cy="1144.9" r="4.55"/><circle cx="961" cy="1152.3" r="4.55"/><circle cx="943.8" cy="1142.5" r="4.55"/><circle cx="955.1" cy="1150.4" r="4.55"/><circle cx="953.8" cy="1151.3" r="4.55"/><circle cx="964.1" cy="1157" r="4.55"/><circle cx="950.7" cy="1162.7" r="4.55"/><circle cx="934.6" cy="1151.3" r="4.55"/><circle cx="944.7" cy="1170.3" r="4.55"/><circle cx="935.9" cy="1162.4" r="4.55"/><circle cx="939.2" cy="1158.5" r="4.55"/><circle cx="955.8" cy="1150.7" r="4.55"/><circle cx="931.1" cy="1152.7" r="4.55"/><circle cx="931.5" cy="1150.8" r="4.55"/><circle cx="956.5" cy="1147.9" r="4.55"/><circle cx="935.7" cy="1159.6" r="4.55"/><circle cx="955.8" cy="1153.3" r="4.55"/><circle cx="951.1" cy="1168.4" r="4.55"/><circle cx="937.9" cy="1152.7" r="4.55"/><circle cx="945.9" cy="1167.4" r="4.55"/><circle cx="950.6" cy="1160.6" r="4.55"/><circle cx="939.6" cy="1158.3" r="4.55"/><circle cx="950.9" cy="1146.6" r="4.55"/><circle cx="962.9" cy="1154" r="4.55"/><circle cx="936.4" cy="1155.1" r="4.55"/><circle cx="943.7" cy="1142.9" r="4.55"/><circle cx="940.3" cy="1140.7" r="4.55"/><circle cx="938.5" cy="1174.1" r="4.55"/><circle cx="955.1" cy="1188.8" r="4.55"/><circle cx="944.7" cy="1174.9" r="4.55"/><circle cx="955.4" cy="1183.9" r="4.55"/><circle cx="951.3" cy="1174.9" r="4.55"/><circle cx="946.6" cy="1170.7" r="4.55"/><circle cx="955.2" cy="1170.2" r="4.55"/><circle cx="946" cy="1184.7" r="4.55"/><circle cx="965" cy="1182.5" r="4.55"/><circle cx="962.5" cy="1183.8" r="4.55"/><circle cx="946" cy="1179.4" r="4.55"/><circle cx="956.7" cy="1178" r="4.55"/><circle cx="933.2" cy="1181.9" r="4.55"/><circle cx="956.2" cy="1182.7" r="4.55"/><circle cx="937" cy="1178.7" r="4.55"/><circle cx="947.8" cy="1173.7" r="4.55"/><circle cx="952.3" cy="1172.4" r="4.55"/><circle cx="955.6" cy="1181" r="4.55"/><circle cx="938.6" cy="1180.3" r="4.55"/><circle cx="945.6" cy="1175.2" r="4.55"/><circle cx="946.5" cy="1183.9" r="4.55"/><circle cx="947.1" cy="1172.9" r="4.55"/><circle cx="938.8" cy="1186" r="4.55"/><circle cx="961.3" cy="1176.7" r="4.55"/><circle cx="936.9" cy="1173.1" r="4.55"/><circle cx="955.5" cy="1182.9" r="4.55"/><circle cx="968.2" cy="1186.1" r="4.55"/><circle cx="957.5" cy="1183" r="4.55"/><circle cx="949" cy="1176" r="4.55"/><circle cx="935.8" cy="1171.2" r="4.55"/><circle cx="954.4" cy="1173.7" r="4.55"/><circle cx="954.5" cy="1180.1" r="4.55"/><circle cx="954.1" cy="1192.8" r="4.55"/><circle cx="947.7" cy="1174.2" r="4.55"/><circle cx="947.6" cy="1182" r="4.55"/><circle cx="956.9" cy="1184" r="4.55"/><circle cx="938.2" cy="1169.5" r="4.55"/><circle cx="958" cy="1179.3" r="4.55"/><circle cx="957" cy="1182.3" r="4.55"/><circle cx="964.9" cy="1175.3" r="4.55"/><circle cx="927.3" cy="1182.9" r="4.55"/><circle cx="947.1" cy="1171.5" r="4.55"/><circle cx="932.4" cy="1178" r="4.55"/><circle cx="951.3" cy="1169.6" r="4.55"/><circle cx="951.2" cy="1176.5" r="4.55"/><circle cx="946.2" cy="1178.9" r="4.55"/><circle cx="945.1" cy="1173.8" r="4.55"/><circle cx="954.6" cy="1174.4" r="4.55"/><circle cx="947.9" cy="1182.9" r="4.55"/><circle cx="944.6" cy="1176.2" r="4.55"/><circle cx="957.2" cy="1184.5" r="4.55"/><circle cx="936.3" cy="1183.8" r="4.55"/><circle cx="961" cy="1179.4" r="4.55"/><circle cx="946.3" cy="1181.5" r="4.55"/><circle cx="966.9" cy="1181.9" r="4.55"/><circle cx="944.2" cy="1177.1" r="4.55"/><circle cx="955.7" cy="1183.8" r="4.55"/><circle cx="944.2" cy="1174.7" r="4.55"/><circle cx="938.7" cy="1178.5" r="4.55"/><circle cx="948.9" cy="1177" r="4.55"/><circle cx="962" cy="1177.9" r="4.55"/><circle cx="962.4" cy="1187.3" r="4.55"/><circle cx="931.3" cy="1182.7" r="4.55"/><circle cx="943.9" cy="1184.2" r="4.55"/><circle cx="952.5" cy="1192.6" r="4.55"/><circle cx="1019.8" cy="1059.9" r="4.55"/><circle cx="1013.9" cy="1068.4" r="4.55"/><circle cx="1000.3" cy="1057.5" r="4.55"/><circle cx="1021.8" cy="1074.9" r="4.55"/><circle cx="990.8" cy="1066" r="4.55"/><circle cx="1000.7" cy="1080.6" r="4.55"/><circle cx="1010.7" cy="1055.9" r="4.55"/><circle cx="1011.3" cy="1086.4" r="4.55"/><circle cx="1007.5" cy="1080.8" r="4.55"/><circle cx="1004.7" cy="1075.6" r="4.55"/><circle cx="1008.3" cy="1068.1" r="4.55"/><circle cx="1015.4" cy="1074.3" r="4.55"/><circle cx="1007.2" cy="1066.3" r="4.55"/><circle cx="999.4" cy="1072.6" r="4.55"/><circle cx="1011.3" cy="1060.5" r="4.55"/><circle cx="1000.8" cy="1086.4" r="4.55"/><circle cx="1019.1" cy="1062.4" r="4.55"/><circle cx="1017.8" cy="1063.8" r="4.55"/><circle cx="1001.4" cy="1084.4" r="4.55"/><circle cx="991.8" cy="1063.6" r="4.55"/><circle cx="1002.3" cy="1067.9" r="4.55"/><circle cx="990.6" cy="1069" r="4.55"/><circle cx="996.2" cy="1076.8" r="4.55"/><circle cx="990.8" cy="1070.6" r="4.55"/><circle cx="1013.8" cy="1068.4" r="4.55"/><circle cx="998.5" cy="1074.1" r="4.55"/><circle cx="1004.6" cy="1085.1" r="4.55"/><circle cx="1000.6" cy="1072.8" r="4.55"/><circle cx="1001.1" cy="1059.3" r="4.55"/><circle cx="1019.7" cy="1060.2" r="4.55"/><circle cx="1012.2" cy="1083.3" r="4.55"/><circle cx="1014.8" cy="1073.2" r="4.55"/><circle cx="1001.2" cy="1075.4" r="4.55"/><circle cx="1001.8" cy="1056.8" r="4.55"/><circle cx="1007.6" cy="1075.4" r="4.55"/><circle cx="996.7" cy="1080.8" r="4.55"/><circle cx="1019.2" cy="1058.7" r="4.55"/><circle cx="1010.2" cy="1066.3" r="4.55"/><circle cx="1002.9" cy="1085.4" r="4.55"/><circle cx="1018.6" cy="1063" r="4.55"/><circle cx="997.9" cy="1088.6" r="4.55"/><circle cx="1005.6" cy="1055.7" r="4.55"/><circle cx="1001.1" cy="1073.3" r="4.55"/><circle cx="1017.8" cy="1062.7" r="4.55"/><circle cx="1012.8" cy="1058.5" r="4.55"/><circle cx="1017" cy="1061.4" r="4.55"/><circle cx="1006.1" cy="1079.7" r="4.55"/><circle cx="1008.1" cy="1055.7" r="4.55"/><circle cx="1001" cy="1053.2" r="4.55"/><circle cx="998.4" cy="1080.4" r="4.55"/><circle cx="1017.6" cy="1066.7" r="4.55"/><circle cx="1000.9" cy="1082.1" r="4.55"/><circle cx="1014.5" cy="1055.3" r="4.55"/><circle cx="1021.8" cy="1071.1" r="4.55"/><circle cx="997.2" cy="1081.2" r="4.55"/><circle cx="1000.1" cy="1072.2" r="4.55"/><circle cx="1018.9" cy="1060.2" r="4.55"/><circle cx="1002.8" cy="1055.6" r="4.55"/><circle cx="1001" cy="1074.7" r="4.55"/><circle cx="1002.9" cy="1070.8" r="4.55"/><circle cx="987.2" cy="1093.3" r="4.55"/><circle cx="990.8" cy="1116.4" r="4.55"/><circle cx="980.5" cy="1112.8" r="4.55"/><circle cx="985.3" cy="1111.1" r="4.55"/><circle cx="978.1" cy="1106.1" r="4.55"/><circle cx="984.2" cy="1099.4" r="4.55"/><circle cx="987.4" cy="1107.1" r="4.55"/><circle cx="993.8" cy="1094.5" r="4.55"/><circle cx="978.3" cy="1095.4" r="4.55"/><circle cx="987.1" cy="1112" r="4.55"/><circle cx="978.7" cy="1104.1" r="4.55"/><circle cx="978.6" cy="1102.3" r="4.55"/><circle cx="988.7" cy="1112.7" r="4.55"/><circle cx="989" cy="1117.7" r="4.55"/><circle cx="985.5" cy="1110.4" r="4.55"/><circle cx="985.7" cy="1105" r="4.55"/><circle cx="986.5" cy="1111.8" r="4.55"/><circle cx="975.8" cy="1102.7" r="4.55"/><circle cx="980.7" cy="1101.1" r="4.55"/><circle cx="986.3" cy="1106.2" r="4.55"/><circle cx="976.6" cy="1100.8" r="4.55"/><circle cx="980.1" cy="1105.9" r="4.55"/><circle cx="988.2" cy="1104" r="4.55"/><circle cx="979.5" cy="1108.3" r="4.55"/><circle cx="978.2" cy="1112" r="4.55"/><circle cx="980.2" cy="1114" r="4.55"/><circle cx="984" cy="1090.4" r="4.55"/><circle cx="991.5" cy="1094.5" r="4.55"/><circle cx="985.5" cy="1095.7" r="4.55"/><circle cx="982.5" cy="1097.3" r="4.55"/><circle cx="1085.2" cy="1063.3" r="4.55"/><circle cx="1067.8" cy="1077.5" r="4.55"/><circle cx="1083.4" cy="1065.9" r="4.55"/><circle cx="1079.1" cy="1071.6" r="4.55"/><circle cx="1065.9" cy="1078.4" r="4.55"/><circle cx="1085.7" cy="1047.1" r="4.55"/><circle cx="1067.1" cy="1078.1" r="4.55"/><circle cx="1085.7" cy="1049.5" r="4.55"/><circle cx="1070" cy="1074.9" r="4.55"/><circle cx="1077.7" cy="1070.5" r="4.55"/><circle cx="1061.4" cy="1076.2" r="4.55"/><circle cx="1069.1" cy="1075.3" r="4.55"/><circle cx="1084" cy="1051.4" r="4.55"/><circle cx="1075.7" cy="1071.5" r="4.55"/><circle cx="1086" cy="1048.8" r="4.55"/><circle cx="1071.3" cy="1075.3" r="4.55"/><circle cx="1086.2" cy="1054.6" r="4.55"/><circle cx="1072.2" cy="1073.6" r="4.55"/><circle cx="1059.1" cy="1074.5" r="4.55"/><circle cx="1086.1" cy="1059.7" r="4.55"/><circle cx="1059.1" cy="1073.5" r="4.55"/><circle cx="1086.3" cy="1055.3" r="4.55"/><circle cx="1110.9" cy="1072.4" r="4.55"/><circle cx="1107.2" cy="1072.8" r="4.55"/><circle cx="1110.5" cy="1076.6" r="4.55"/><circle cx="1110.2" cy="1082.3" r="4.55"/><circle cx="1094.8" cy="1087.8" r="4.55"/><circle cx="1111.1" cy="1084.1" r="4.55"/><circle cx="1081.2" cy="1082.6" r="4.55"/><circle cx="1070.3" cy="1083.8" r="4.55"/><circle cx="1098.2" cy="1079.2" r="4.55"/><circle cx="1095.9" cy="1085.8" r="4.55"/><circle cx="1110.8" cy="1073.4" r="4.55"/><circle cx="1111.2" cy="1087.3" r="4.55"/><circle cx="1089.7" cy="1084.9" r="4.55"/><circle cx="1110.4" cy="1084.2" r="4.55"/><circle cx="1108.9" cy="1078.5" r="4.55"/><circle cx="1089.6" cy="1086" r="4.55"/><circle cx="1103" cy="1074.9" r="4.55"/><circle cx="1097.9" cy="1081" r="4.55"/><circle cx="1075.3" cy="1084.2" r="4.55"/><circle cx="1079.4" cy="1083.7" r="4.55"/><circle cx="1110.9" cy="1083.9" r="4.55"/><circle cx="1113" cy="1085.2" r="4.55"/><circle cx="1056.1" cy="1069.3" r="4.55"/><circle cx="1063.3" cy="1076.5" r="4.55"/><circle cx="1060.4" cy="1072.2" r="4.55"/><circle cx="1122" cy="1056.5" r="4.55"/><circle cx="1116.3" cy="1057.2" r="4.55"/><circle cx="1150" cy="1058.9" r="4.55"/><circle cx="1167.9" cy="1082" r="4.55"/><circle cx="1206.8" cy="1081.5" r="4.55"/><circle cx="1143.9" cy="1086.5" r="4.55"/><circle cx="1154" cy="1088" r="4.55"/><circle cx="1136.8" cy="1094.4" r="4.55"/><circle cx="1144.2" cy="1095.4" r="4.55"/><circle cx="1151.4" cy="1092.3" r="4.55"/><circle cx="1156" cy="1093.7" r="4.55"/><circle cx="1079.1" cy="1031.3" r="4.55"/><circle cx="1089.8" cy="1035.5" r="4.55"/><circle cx="1084.8" cy="1045.6" r="4.55"/><circle cx="1207.3" cy="1020.5" r="4.55"/><circle cx="1196.5" cy="1038.4" r="4.55"/></g>
<g fill="#fde725" fill-opacity="0.5" stroke="#000" stroke-opacity="0.55" stroke-width="1.35"><circle cx="905.2" cy="980.9" r="4.55"/><circle cx="908.1" cy="976.1" r="4.55"/><circle cx="904.8" cy="972.6" r="4.55"/><circle cx="905.1" cy="973.9" r="4.55"/><circle cx="912.3" cy="982.2" r="4.55"/><circle cx="904.5" cy="972.3" r="4.55"/><circle cx="909.8" cy="976.8" r="4.55"/><circle cx="905.5" cy="975.3" r="4.55"/><circle cx="914.9" cy="982.1" r="4.55"/><circle cx="911.1" cy="978.9" r="4.55"/><circle cx="900.1" cy="973.9" r="4.55"/><circle cx="903.6" cy="970.5" r="4.55"/><circle cx="909.6" cy="982.2" r="4.55"/><circle cx="903.6" cy="975.4" r="4.55"/><circle cx="911.9" cy="976.5" r="4.55"/><circle cx="903.2" cy="970.8" r="4.55"/><circle cx="919.4" cy="977.5" r="4.55"/><circle cx="935.8" cy="981.8" r="4.55"/><circle cx="940.4" cy="995.3" r="4.55"/><circle cx="937.1" cy="998.4" r="4.55"/><circle cx="940.2" cy="996.7" r="4.55"/><circle cx="946.6" cy="999.6" r="4.55"/><circle cx="932.9" cy="999.1" r="4.55"/><circle cx="937.7" cy="992.8" r="4.55"/><circle cx="943.3" cy="996.7" r="4.55"/><circle cx="977.5" cy="1022.5" r="4.55"/><circle cx="983.4" cy="1027.5" r="4.55"/><circle cx="966.3" cy="1016.9" r="4.55"/><circle cx="977.8" cy="1025.4" r="4.55"/><circle cx="958.1" cy="1019.6" r="4.55"/><circle cx="973" cy="1032.1" r="4.55"/><circle cx="975.8" cy="1033" r="4.55"/><circle cx="961.7" cy="1006.2" r="4.55"/><circle cx="975.1" cy="1000.1" r="4.55"/><circle cx="960.8" cy="1014.1" r="4.55"/><circle cx="959.4" cy="1022.4" r="4.55"/><circle cx="977.3" cy="1014.1" r="4.55"/><circle cx="967.2" cy="1002.8" r="4.55"/><circle cx="974.6" cy="1031.6" r="4.55"/><circle cx="977.8" cy="1006.4" r="4.55"/><circle cx="986.8" cy="1009.1" r="4.55"/><circle cx="970.5" cy="1010.6" r="4.55"/><circle cx="963.4" cy="1024.1" r="4.55"/><circle cx="977.3" cy="1022.2" r="4.55"/><circle cx="981.3" cy="1010.1" r="4.55"/><circle cx="975.2" cy="1024.5" r="4.55"/><circle cx="976.2" cy="1024.1" r="4.55"/><circle cx="973.7" cy="1029.9" r="4.55"/><circle cx="956.1" cy="1019.6" r="4.55"/><circle cx="957.1" cy="1024.4" r="4.55"/><circle cx="959.7" cy="1020.3" r="4.55"/><circle cx="979.2" cy="1007.8" r="4.55"/><circle cx="971.9" cy="1011.8" r="4.55"/><circle cx="971.8" cy="1014.8" r="4.55"/><circle cx="971.2" cy="1031.7" r="4.55"/><circle cx="971" cy="1034.6" r="4.55"/><circle cx="959.8" cy="1017.7" r="4.55"/><circle cx="977.6" cy="1022.3" r="4.55"/><circle cx="966" cy="1025.3" r="4.55"/><circle cx="977.8" cy="1023.6" r="4.55"/><circle cx="975.6" cy="1020.4" r="4.55"/><circle cx="974.1" cy="1029.6" r="4.55"/><circle cx="976.8" cy="1029" r="4.55"/><circle cx="968.3" cy="1016.5" r="4.55"/><circle cx="976.3" cy="1019.5" r="4.55"/><circle cx="979.9" cy="1012.2" r="4.55"/><circle cx="974.7" cy="1032.2" r="4.55"/><circle cx="974.5" cy="1031.2" r="4.55"/><circle cx="977.5" cy="1032.2" r="4.55"/><circle cx="974" cy="1009.6" r="4.55"/><circle cx="964.1" cy="1004.9" r="4.55"/><circle cx="963.2" cy="1014.7" r="4.55"/><circle cx="977.6" cy="1034.2" r="4.55"/><circle cx="972.6" cy="999.9" r="4.55"/><circle cx="984.8" cy="1020.3" r="4.55"/><circle cx="887.9" cy="1071" r="4.55"/><circle cx="895.6" cy="1019.8" r="4.55"/><circle cx="900.2" cy="1027.2" r="4.55"/><circle cx="896.1" cy="1016.2" r="4.55"/><circle cx="894.1" cy="1039.2" r="4.55"/><circle cx="898.2" cy="1034.1" r="4.55"/><circle cx="904.6" cy="1029.3" r="4.55"/><circle cx="892.2" cy="1012.5" r="4.55"/><circle cx="895.1" cy="1053.3" r="4.55"/><circle cx="902.4" cy="1017.7" r="4.55"/><circle cx="904.2" cy="1028.1" r="4.55"/><circle cx="901.4" cy="1020.6" r="4.55"/><circle cx="901.2" cy="1032.3" r="4.55"/><circle cx="896.5" cy="1041.3" r="4.55"/><circle cx="892" cy="1013.4" r="4.55"/><circle cx="894.3" cy="1044.6" r="4.55"/><circle cx="896.9" cy="1032.9" r="4.55"/><circle cx="896.5" cy="1017.7" r="4.55"/><circle cx="889.6" cy="1064" r="4.55"/><circle cx="897.8" cy="1017.2" r="4.55"/><circle cx="892" cy="1059.3" r="4.55"/><circle cx="896.4" cy="1043.4" r="4.55"/><circle cx="903.4" cy="1026" r="4.55"/><circle cx="892.7" cy="1049.6" r="4.55"/><circle cx="893.8" cy="1046.7" r="4.55"/><circle cx="890.5" cy="1015.9" r="4.55"/><circle cx="900.5" cy="1019.2" r="4.55"/><circle cx="892.1" cy="1016" r="4.55"/><circle cx="902.8" cy="1025.5" r="4.55"/><circle cx="901.2" cy="1019.2" r="4.55"/><circle cx="904.6" cy="1031.7" r="4.55"/><circle cx="894.1" cy="1036.5" r="4.55"/><circle cx="892.9" cy="1015.5" r="4.55"/><circle cx="898.6" cy="1020.6" r="4.55"/><circle cx="894.4" cy="1058.1" r="4.55"/><circle cx="893.8" cy="1057.1" r="4.55"/><circle cx="900.7" cy="1035.1" r="4.55"/><circle cx="892.6" cy="1049.2" r="4.55"/><circle cx="890.8" cy="1012" r="4.55"/><circle cx="893.8" cy="1015.1" r="4.55"/><circle cx="894.5" cy="1039.2" r="4.55"/><circle cx="893.7" cy="1048.9" r="4.55"/><circle cx="901.8" cy="1019.4" r="4.55"/><circle cx="894.7" cy="1009.4" r="4.55"/><circle cx="891.5" cy="1060.5" r="4.55"/><circle cx="891" cy="1060.9" r="4.55"/><circle cx="901.9" cy="1027.7" r="4.55"/><circle cx="892.6" cy="1012.3" r="4.55"/><circle cx="889.5" cy="1071.6" r="4.55"/><circle cx="892.5" cy="1056" r="4.55"/><circle cx="960.7" cy="1053.6" r="4.55"/><circle cx="958.2" cy="1058.6" r="4.55"/><circle cx="962.1" cy="1062.9" r="4.55"/><circle cx="962.8" cy="1071.3" r="4.55"/><circle cx="960.7" cy="1063.1" r="4.55"/><circle cx="967" cy="1073.4" r="4.55"/><circle cx="961.4" cy="1061.9" r="4.55"/><circle cx="957.6" cy="1055.4" r="4.55"/><circle cx="960.2" cy="1059.1" r="4.55"/><circle cx="961.1" cy="1049.9" r="4.55"/><circle cx="960.3" cy="1062.7" r="4.55"/><circle cx="957.8" cy="1062.3" r="4.55"/><circle cx="959" cy="1065.1" r="4.55"/><circle cx="958.2" cy="1063.4" r="4.55"/><circle cx="957.6" cy="1053.8" r="4.55"/><circle cx="966.2" cy="1075.5" r="4.55"/><circle cx="984.5" cy="1050.7" r="4.55"/><circle cx="1038.9" cy="1077.9" r="4.55"/><circle cx="1034.6" cy="1093.7" r="4.55"/><circle cx="1024.6" cy="1086.5" r="4.55"/><circle cx="1030.4" cy="1080.8" r="4.55"/><circle cx="920.8" cy="1108" r="4.55"/><circle cx="886.4" cy="1145.3" r="4.55"/><circle cx="886.4" cy="1151" r="4.55"/><circle cx="905.7" cy="1162.4" r="4.55"/><circle cx="907.9" cy="1165.3" r="4.55"/><circle cx="920.1" cy="1175.3" r="4.55"/><circle cx="928.7" cy="1174.6" r="4.55"/><circle cx="915.8" cy="1181.8" r="4.55"/><circle cx="927.2" cy="1191.1" r="4.55"/><circle cx="910.8" cy="1197.5" r="4.55"/><circle cx="901.4" cy="1206.1" r="4.55"/><circle cx="909.3" cy="1205.4" r="4.55"/><circle cx="935.1" cy="1204" r="4.55"/><circle cx="958" cy="1206.1" r="4.55"/><circle cx="968" cy="1199.7" r="4.55"/><circle cx="974.5" cy="1188.2" r="4.55"/><circle cx="980.2" cy="1206.1" r="4.55"/><circle cx="985.2" cy="1205.4" r="4.55"/><circle cx="910" cy="1225.2" r="4.55"/><circle cx="1028.9" cy="1146.7" r="4.55"/><circle cx="1034.6" cy="1146.7" r="4.55"/><circle cx="1043.2" cy="1147.4" r="4.55"/><circle cx="1038.9" cy="1128.1" r="4.55"/><circle cx="1038.9" cy="1136.7" r="4.55"/><circle cx="1036.1" cy="1141" r="4.55"/><circle cx="1016" cy="1192.5" r="4.55"/><circle cx="1036.1" cy="1180.3" r="4.55"/><circle cx="1006" cy="1171" r="4.55"/><circle cx="1014.6" cy="1171" r="4.55"/><circle cx="997.4" cy="1182.5" r="4.55"/><circle cx="1006" cy="1051.4" r="4.55"/><circle cx="1008.2" cy="1085.3" r="4.55"/><circle cx="999.6" cy="1054.8" r="4.55"/><circle cx="998.9" cy="1057.7" r="4.55"/><circle cx="1005.6" cy="1094.9" r="4.55"/><circle cx="1004.9" cy="1078.5" r="4.55"/><circle cx="1010.2" cy="1072.5" r="4.55"/><circle cx="1001.9" cy="1057.3" r="4.55"/><circle cx="1012.6" cy="1049.8" r="4.55"/><circle cx="1003.5" cy="1084.2" r="4.55"/><circle cx="1008.9" cy="1065.5" r="4.55"/><circle cx="993.9" cy="1075.4" r="4.55"/><circle cx="1006.2" cy="1089.2" r="4.55"/><circle cx="1004.8" cy="1056.2" r="4.55"/><circle cx="1016.1" cy="1053.8" r="4.55"/><circle cx="993.8" cy="1082.6" r="4.55"/><circle cx="1003.4" cy="1089" r="4.55"/><circle cx="1013.8" cy="1096.9" r="4.55"/><circle cx="1006.2" cy="1083.7" r="4.55"/><circle cx="1016.5" cy="1053.9" r="4.55"/><circle cx="1012.8" cy="1061.7" r="4.55"/><circle cx="1006.8" cy="1086" r="4.55"/><circle cx="992.8" cy="1075.3" r="4.55"/><circle cx="1010.4" cy="1050.7" r="4.55"/><circle cx="1023.6" cy="1053.4" r="4.55"/><circle cx="1004.4" cy="1090.7" r="4.55"/><circle cx="1005.9" cy="1050.2" r="4.55"/><circle cx="1007.1" cy="1068.6" r="4.55"/><circle cx="1016.2" cy="1052.3" r="4.55"/><circle cx="1004.7" cy="1080.8" r="4.55"/><circle cx="1006.6" cy="1086.4" r="4.55"/><circle cx="1002.3" cy="1060.4" r="4.55"/><circle cx="1007.1" cy="1082.9" r="4.55"/><circle cx="1004.7" cy="1086.8" r="4.55"/><circle cx="1018.8" cy="1055.3" r="4.55"/><circle cx="1002.4" cy="1059.3" r="4.55"/><circle cx="1005.2" cy="1055.9" r="4.55"/><circle cx="1007.2" cy="1062" r="4.55"/><circle cx="1000.5" cy="1055.2" r="4.55"/><circle cx="1006.9" cy="1064.3" r="4.55"/><circle cx="1005.2" cy="1085" r="4.55"/><circle cx="1003" cy="1088.3" r="4.55"/><circle cx="993.4" cy="1082.7" r="4.55"/><circle cx="1003.1" cy="1090" r="4.55"/><circle cx="1005.8" cy="1074" r="4.55"/><circle cx="1015.1" cy="1096.5" r="4.55"/><circle cx="1002.9" cy="1057.2" r="4.55"/><circle cx="1020.7" cy="1052" r="4.55"/><circle cx="1001.9" cy="1084.6" r="4.55"/><circle cx="1010.8" cy="1053.5" r="4.55"/><circle cx="1003.2" cy="1080.4" r="4.55"/><circle cx="998.3" cy="1090.5" r="4.55"/><circle cx="987.2" cy="1074.7" r="4.55"/><circle cx="1007.3" cy="1080.3" r="4.55"/><circle cx="995.6" cy="1061.2" r="4.55"/><circle cx="914.3" cy="1097.1" r="4.55"/><circle cx="910.2" cy="1103.1" r="4.55"/><circle cx="907.5" cy="1097.2" r="4.55"/><circle cx="915.2" cy="1101.4" r="4.55"/><circle cx="908.8" cy="1095.3" r="4.55"/><circle cx="909.9" cy="1100" r="4.55"/><circle cx="913" cy="1099.3" r="4.55"/><circle cx="907.6" cy="1097.5" r="4.55"/><circle cx="908.9" cy="1100.9" r="4.55"/><circle cx="915.1" cy="1102.8" r="4.55"/><circle cx="917.9" cy="1106" r="4.55"/><circle cx="999.1" cy="1166.3" r="4.55"/><circle cx="994.5" cy="1138.4" r="4.55"/><circle cx="983.2" cy="1166.6" r="4.55"/><circle cx="986.4" cy="1151.6" r="4.55"/><circle cx="978.3" cy="1144.9" r="4.55"/><circle cx="990.3" cy="1162.8" r="4.55"/><circle cx="990.8" cy="1138.4" r="4.55"/><circle cx="986.3" cy="1127.7" r="4.55"/><circle cx="983" cy="1125.3" r="4.55"/><circle cx="986" cy="1188.8" r="4.55"/><circle cx="987" cy="1126.2" r="4.55"/><circle cx="996.8" cy="1175.2" r="4.55"/><circle cx="986.8" cy="1173.1" r="4.55"/><circle cx="994.2" cy="1151" r="4.55"/><circle cx="998.9" cy="1141.3" r="4.55"/><circle cx="983.6" cy="1122.7" r="4.55"/><circle cx="984.4" cy="1184" r="4.55"/><circle cx="991.4" cy="1142.9" r="4.55"/><circle cx="980.7" cy="1145.5" r="4.55"/><circle cx="993.4" cy="1159.6" r="4.55"/><circle cx="999.1" cy="1172" r="4.55"/><circle cx="980.8" cy="1137.2" r="4.55"/><circle cx="978.7" cy="1151.4" r="4.55"/><circle cx="990.4" cy="1139.9" r="4.55"/><circle cx="991.5" cy="1148.1" r="4.55"/><circle cx="1000.6" cy="1159.4" r="4.55"/><circle cx="990" cy="1184" r="4.55"/><circle cx="990.5" cy="1143.7" r="4.55"/><circle cx="989.4" cy="1179.8" r="4.55"/><circle cx="986.8" cy="1169.1" r="4.55"/><circle cx="981.1" cy="1135.2" r="4.55"/><circle cx="985.7" cy="1163.9" r="4.55"/><circle cx="1000.3" cy="1159" r="4.55"/><circle cx="989.8" cy="1128.9" r="4.55"/><circle cx="990.2" cy="1146.6" r="4.55"/><circle cx="995.2" cy="1157.5" r="4.55"/><circle cx="984.3" cy="1176" r="4.55"/><circle cx="1000.5" cy="1162.7" r="4.55"/><circle cx="996.8" cy="1146.7" r="4.55"/><circle cx="977.5" cy="1132.1" r="4.55"/><circle cx="983.8" cy="1190.8" r="4.55"/><circle cx="992.1" cy="1145.5" r="4.55"/><circle cx="988.4" cy="1172.4" r="4.55"/><circle cx="991.3" cy="1138.4" r="4.55"/><circle cx="984.9" cy="1124.2" r="4.55"/><circle cx="983.5" cy="1168.2" r="4.55"/><circle cx="988.3" cy="1140.4" r="4.55"/><circle cx="989.7" cy="1164.6" r="4.55"/><circle cx="977.6" cy="1152.2" r="4.55"/><circle cx="985.3" cy="1160.4" r="4.55"/><circle cx="1002.8" cy="1162.8" r="4.55"/><circle cx="992.8" cy="1142.4" r="4.55"/><circle cx="1001.8" cy="1164.7" r="4.55"/><circle cx="980.9" cy="1126.2" r="4.55"/><circle cx="990.6" cy="1140.6" r="4.55"/><circle cx="983.9" cy="1127.9" r="4.55"/><circle cx="992.5" cy="1155" r="4.55"/><circle cx="993.3" cy="1164.1" r="4.55"/><circle cx="982.6" cy="1124" r="4.55"/><circle cx="991.6" cy="1134.9" r="4.55"/><circle cx="983.5" cy="1170.4" r="4.55"/><circle cx="990.9" cy="1144.8" r="4.55"/><circle cx="992.4" cy="1188.5" r="4.55"/><circle cx="1000" cy="1176.8" r="4.55"/><circle cx="991.3" cy="1149.2" r="4.55"/><circle cx="988.5" cy="1175.8" r="4.55"/><circle cx="984.2" cy="1174.1" r="4.55"/><circle cx="996.3" cy="1139" r="4.55"/><circle cx="982.1" cy="1174.8" r="4.55"/><circle cx="989.2" cy="1138" r="4.55"/><circle cx="991.2" cy="1157.2" r="4.55"/><circle cx="995.4" cy="1173.3" r="4.55"/><circle cx="983.5" cy="1128.9" r="4.55"/><circle cx="986.5" cy="1124.9" r="4.55"/><circle cx="993.7" cy="1139.5" r="4.55"/><circle cx="986.9" cy="1153.1" r="4.55"/><circle cx="984.3" cy="1185.1" r="4.55"/><circle cx="985.8" cy="1164" r="4.55"/><circle cx="987.1" cy="1170.8" r="4.55"/><circle cx="991.3" cy="1185.1" r="4.55"/><circle cx="1002.1" cy="1169" r="4.55"/><circle cx="988" cy="1175.9" r="4.55"/><circle cx="999" cy="1141.9" r="4.55"/><circle cx="986.8" cy="1151.1" r="4.55"/><circle cx="1001" cy="1161.8" r="4.55"/><circle cx="987.6" cy="1095.7" r="4.55"/><circle cx="966.7" cy="1094.1" r="4.55"/><circle cx="955.1" cy="1119.3" r="4.55"/><circle cx="974.6" cy="1159.7" r="4.55"/><circle cx="1002.6" cy="1104.8" r="4.55"/><circle cx="985.7" cy="1160.5" r="4.55"/><circle cx="980.3" cy="1133.9" r="4.55"/><circle cx="1003.9" cy="1102.7" r="4.55"/><circle cx="947.4" cy="1123" r="4.55"/><circle cx="974.5" cy="1112.5" r="4.55"/><circle cx="951.7" cy="1141.2" r="4.55"/><circle cx="978.6" cy="1129" r="4.55"/><circle cx="990.8" cy="1148.7" r="4.55"/><circle cx="984.5" cy="1109.2" r="4.55"/><circle cx="951.8" cy="1140.3" r="4.55"/><circle cx="1001.7" cy="1112.2" r="4.55"/><circle cx="969.5" cy="1134.6" r="4.55"/><circle cx="987.4" cy="1095.3" r="4.55"/><circle cx="951.3" cy="1137.5" r="4.55"/><circle cx="1003.3" cy="1103.8" r="4.55"/><circle cx="954.2" cy="1123.4" r="4.55"/><circle cx="975.5" cy="1109" r="4.55"/><circle cx="988.6" cy="1163" r="4.55"/><circle cx="957.2" cy="1119.2" r="4.55"/><circle cx="977.7" cy="1125.8" r="4.55"/><circle cx="969.2" cy="1129.5" r="4.55"/><circle cx="972.6" cy="1159.4" r="4.55"/><circle cx="949.9" cy="1142" r="4.55"/><circle cx="1002.8" cy="1103.8" r="4.55"/><circle cx="999" cy="1108.6" r="4.55"/><circle cx="987.8" cy="1148.3" r="4.55"/><circle cx="971.6" cy="1157.9" r="4.55"/><circle cx="948.5" cy="1121.9" r="4.55"/><circle cx="949.3" cy="1142.4" r="4.55"/><circle cx="980.3" cy="1131.4" r="4.55"/><circle cx="985.6" cy="1110.7" r="4.55"/><circle cx="1004.3" cy="1103" r="4.55"/><circle cx="957.7" cy="1119.8" r="4.55"/><circle cx="976.7" cy="1111.2" r="4.55"/><circle cx="958.6" cy="1121.9" r="4.55"/><circle cx="989.6" cy="1152.3" r="4.55"/><circle cx="988.5" cy="1093.6" r="4.55"/><circle cx="1002.2" cy="1112.5" r="4.55"/><circle cx="969.6" cy="1135.6" r="4.55"/><circle cx="952.1" cy="1118.2" r="4.55"/><circle cx="998.8" cy="1180.2" r="4.55"/><circle cx="979.2" cy="1182.6" r="4.55"/><circle cx="993.5" cy="1191.1" r="4.55"/><circle cx="979.5" cy="1164.6" r="4.55"/><circle cx="978.5" cy="1167.5" r="4.55"/><circle cx="994" cy="1192.4" r="4.55"/><circle cx="1004.5" cy="1177.7" r="4.55"/><circle cx="986.8" cy="1166.9" r="4.55"/><circle cx="1005.9" cy="1164.3" r="4.55"/><circle cx="990.9" cy="1153.6" r="4.55"/><circle cx="989.3" cy="1168" r="4.55"/><circle cx="997" cy="1174.9" r="4.55"/><circle cx="993.4" cy="1194.3" r="4.55"/><circle cx="988.2" cy="1167.9" r="4.55"/><circle cx="1004.1" cy="1164.4" r="4.55"/><circle cx="977.4" cy="1186.7" r="4.55"/><circle cx="978" cy="1165.2" r="4.55"/><circle cx="1007" cy="1176.2" r="4.55"/><circle cx="996" cy="1153" r="4.55"/><circle cx="1006.2" cy="1177.1" r="4.55"/><circle cx="991.3" cy="1152.4" r="4.55"/><circle cx="1003.2" cy="1160.8" r="4.55"/><circle cx="1007.7" cy="1164.5" r="4.55"/><circle cx="997.9" cy="1176.5" r="4.55"/><circle cx="993.1" cy="1152.5" r="4.55"/><circle cx="993.3" cy="1190.1" r="4.55"/><circle cx="989.8" cy="1166.5" r="4.55"/><circle cx="987.1" cy="1165" r="4.55"/><circle cx="1003.6" cy="1176.5" r="4.55"/><circle cx="1002.5" cy="1179.3" r="4.55"/><circle cx="963.6" cy="1103" r="4.55"/><circle cx="957.9" cy="1100.8" r="4.55"/><circle cx="956.6" cy="1108.8" r="4.55"/><circle cx="972.4" cy="1126.1" r="4.55"/><circle cx="985" cy="1109.8" r="4.55"/><circle cx="983.7" cy="1113" r="4.55"/><circle cx="974.1" cy="1103" r="4.55"/><circle cx="966.9" cy="1104.6" r="4.55"/><circle cx="981.9" cy="1107.8" r="4.55"/><circle cx="979.7" cy="1102.1" r="4.55"/><circle cx="969.6" cy="1104.4" r="4.55"/><circle cx="962.4" cy="1125.6" r="4.55"/><circle cx="970.7" cy="1103" r="4.55"/><circle cx="976.9" cy="1099.6" r="4.55"/><circle cx="974.6" cy="1127.1" r="4.55"/><circle cx="958.9" cy="1106.9" r="4.55"/><circle cx="966.3" cy="1105.6" r="4.55"/><circle cx="958.5" cy="1111.1" r="4.55"/><circle cx="979.3" cy="1093.7" r="4.55"/><circle cx="984.4" cy="1111.6" r="4.55"/><circle cx="979.2" cy="1100.1" r="4.55"/><circle cx="972.1" cy="1126.4" r="4.55"/><circle cx="974" cy="1096.5" r="4.55"/><circle cx="959.6" cy="1100.3" r="4.55"/><circle cx="985.2" cy="1113" r="4.55"/><circle cx="966.1" cy="1101.6" r="4.55"/><circle cx="984.1" cy="1109.2" r="4.55"/><circle cx="974.7" cy="1125.7" r="4.55"/><circle cx="964.5" cy="1102.2" r="4.55"/><circle cx="974.1" cy="1097.8" r="4.55"/><circle cx="981" cy="1098.6" r="4.55"/><circle cx="983.4" cy="1109.7" r="4.55"/><circle cx="972.8" cy="1126.6" r="4.55"/><circle cx="974.6" cy="1103.9" r="4.55"/><circle cx="980.5" cy="1098.6" r="4.55"/><circle cx="979.3" cy="1109.8" r="4.55"/><circle cx="969.9" cy="1106.5" r="4.55"/><circle cx="965.6" cy="1102" r="4.55"/><circle cx="959.7" cy="1101.2" r="4.55"/><circle cx="965.6" cy="1124.2" r="4.55"/><circle cx="1021.4" cy="1142.3" r="4.55"/><circle cx="1010.1" cy="1153.6" r="4.55"/><circle cx="1016.3" cy="1135.5" r="4.55"/><circle cx="1019.1" cy="1154.8" r="4.55"/><circle cx="1018.1" cy="1134.5" r="4.55"/><circle cx="1014.6" cy="1139.6" r="4.55"/><circle cx="1020.7" cy="1160.8" r="4.55"/><circle cx="1013.4" cy="1148.4" r="4.55"/><circle cx="1020" cy="1144.8" r="4.55"/><circle cx="1009.3" cy="1154.4" r="4.55"/><circle cx="1011.7" cy="1135.9" r="4.55"/><circle cx="1019" cy="1146.8" r="4.55"/><circle cx="1018.7" cy="1151.7" r="4.55"/><circle cx="1020.8" cy="1149.5" r="4.55"/><circle cx="1011.8" cy="1154.9" r="4.55"/><circle cx="1006.1" cy="1156.1" r="4.55"/><circle cx="1021" cy="1152.5" r="4.55"/><circle cx="1013.6" cy="1142.3" r="4.55"/><circle cx="1025.4" cy="1162.5" r="4.55"/><circle cx="1020" cy="1145.2" r="4.55"/><circle cx="1021.4" cy="1162.8" r="4.55"/><circle cx="1026" cy="1143.1" r="4.55"/><circle cx="1016.8" cy="1151.7" r="4.55"/><circle cx="1016.6" cy="1146.9" r="4.55"/><circle cx="1007.4" cy="1152" r="4.55"/><circle cx="1024.7" cy="1141.4" r="4.55"/><circle cx="1020.1" cy="1160.2" r="4.55"/><circle cx="1018.9" cy="1144.6" r="4.55"/><circle cx="1009.2" cy="1154.3" r="4.55"/><circle cx="1016.4" cy="1147.9" r="4.55"/><circle cx="1023.8" cy="1144.5" r="4.55"/><circle cx="1021.3" cy="1144.9" r="4.55"/><circle cx="1022.8" cy="1135.9" r="4.55"/><circle cx="1008.8" cy="1133.9" r="4.55"/><circle cx="1023.8" cy="1137.8" r="4.55"/><circle cx="1017.5" cy="1157" r="4.55"/><circle cx="1008.9" cy="1157.5" r="4.55"/><circle cx="1011.2" cy="1155" r="4.55"/><circle cx="1043.1" cy="1161.8" r="4.55"/><circle cx="1052.7" cy="1177.2" r="4.55"/><circle cx="1042.9" cy="1165.3" r="4.55"/><circle cx="1047.8" cy="1169.2" r="4.55"/><circle cx="1041.4" cy="1160.4" r="4.55"/><circle cx="1042.4" cy="1159.8" r="4.55"/><circle cx="1049.1" cy="1173.1" r="4.55"/><circle cx="1043.3" cy="1162.1" r="4.55"/><circle cx="1044" cy="1160.4" r="4.55"/><circle cx="1050.2" cy="1174.1" r="4.55"/><circle cx="1050.2" cy="1173.4" r="4.55"/><circle cx="1050.3" cy="1174.6" r="4.55"/><circle cx="1043.1" cy="1166" r="4.55"/><circle cx="1040.3" cy="1161.6" r="4.55"/><circle cx="1056" cy="1177.1" r="4.55"/><circle cx="1043.9" cy="1167.5" r="4.55"/><circle cx="1039.7" cy="1164.6" r="4.55"/><circle cx="1052.1" cy="1175.6" r="4.55"/><circle cx="1058" cy="1179.8" r="4.55"/><circle cx="1058.1" cy="1178" r="4.55"/><circle cx="1058.7" cy="1179.6" r="4.55"/><circle cx="1058.2" cy="1176.2" r="4.55"/><circle cx="1056.1" cy="1176.5" r="4.55"/><circle cx="1060.1" cy="1172.2" r="4.55"/><circle cx="1059.2" cy="1177.1" r="4.55"/><circle cx="1058.7" cy="1179.7" r="4.55"/><circle cx="1062" cy="1181.9" r="4.55"/><circle cx="1055.1" cy="1172.9" r="4.55"/><circle cx="1059.9" cy="1179.4" r="4.55"/><circle cx="1056.7" cy="1181.3" r="4.55"/><circle cx="1024.6" cy="1196.1" r="4.55"/><circle cx="1022.8" cy="1199.1" r="4.55"/><circle cx="1021.8" cy="1197.2" r="4.55"/><circle cx="1022.8" cy="1194.6" r="4.55"/><circle cx="1024.7" cy="1199.8" r="4.55"/><circle cx="1022.9" cy="1196.1" r="4.55"/><circle cx="1023.1" cy="1197.1" r="4.55"/><circle cx="1024.3" cy="1190.7" r="4.55"/><circle cx="1017.5" cy="1198.2" r="4.55"/><circle cx="992" cy="1197.2" r="4.55"/><circle cx="993.1" cy="1192.5" r="4.55"/><circle cx="992.4" cy="1196.7" r="4.55"/><circle cx="996.1" cy="1198.8" r="4.55"/><circle cx="995.9" cy="1198.3" r="4.55"/><circle cx="986.2" cy="1192.3" r="4.55"/><circle cx="980.9" cy="1199" r="4.55"/><circle cx="995.4" cy="1196.3" r="4.55"/><circle cx="987.2" cy="1195.4" r="4.55"/><circle cx="980" cy="1194.9" r="4.55"/><circle cx="985.9" cy="1191.2" r="4.55"/><circle cx="983.2" cy="1200" r="4.55"/><circle cx="995.8" cy="1196.7" r="4.55"/><circle cx="984.8" cy="1192.9" r="4.55"/><circle cx="994.3" cy="1199.5" r="4.55"/><circle cx="995.6" cy="1191.5" r="4.55"/><circle cx="996.6" cy="1194.9" r="4.55"/><circle cx="994.5" cy="1199.4" r="4.55"/><circle cx="990.9" cy="1196.6" r="4.55"/><circle cx="989.6" cy="1197.4" r="4.55"/><circle cx="1297" cy="1021.1" r="4.55"/><circle cx="1296.6" cy="1022.4" r="4.55"/><circle cx="1296" cy="1020.9" r="4.55"/><circle cx="1295.4" cy="1020.8" r="4.55"/><circle cx="1295.3" cy="1021.8" r="4.55"/><circle cx="1295.4" cy="1022.1" r="4.55"/><circle cx="1296.8" cy="1021.4" r="4.55"/></g>
</g>
<rect x="807.4" y="859.4" width="133.0" height="93.9" rx="1" ry="1" fill="#fff" fill-opacity="0.8"/>
<rect x="804.7" y="856.7" width="138.4" height="99.3" rx="3.5" ry="3.5" fill="none" stroke="#c8c8c8" stroke-opacity="0.85" stroke-width="5.6"/>
<circle cx="826.1" cy="872.8" r="4.6" fill="#3f2a5c" stroke="#000" stroke-width="1.1"/>
<text x="837.3" y="877.1" font-size="23.61" textLength="85.2" lengthAdjust="spacingAndGlyphs" fill="#000">2 weeks</text>
<circle cx="826.1" cy="894.9" r="4.6" fill="#33689a" stroke="#000" stroke-width="1.1"/>
<text x="838" y="900.6" font-size="23.61" textLength="84.6" lengthAdjust="spacingAndGlyphs" fill="#000">4 weeks</text>
<circle cx="826.1" cy="917.1" r="4.6" fill="#3db27c" stroke="#000" stroke-width="1.1"/>
<text x="837.4" y="924" font-size="23.61" textLength="85.1" lengthAdjust="spacingAndGlyphs" fill="#000">9 weeks</text>
<circle cx="826.1" cy="939.2" r="4.6" fill="#f5e132" stroke="#000" stroke-width="1.1"/>
<text x="837.5" y="947.5" font-size="23.61" textLength="96.5" lengthAdjust="spacingAndGlyphs" fill="#000">84 weeks</text>
<rect x="795.9" y="849.4" width="536.6" height="399.2" fill="none" stroke="#000" stroke-width="3.4"/>
<path d="M790.9 884.6H795.9M790.9 933.5H795.9M790.9 982.3H795.9M790.9 1031.2H795.9M790.9 1080.1H795.9M790.9 1129H795.9M790.9 1177.8H795.9M790.9 1226.7H795.9M811.4 1248.6V1253.8M929.6 1248.6V1253.8M1047.7 1248.6V1253.8M1165.2 1248.6V1253.8M1283 1248.6V1253.8" stroke="#000" stroke-width="3" fill="none"/>
<text x="753.6" y="894.8" font-size="31.72" textLength="33.9" lengthAdjust="spacingAndGlyphs" fill="#000">12</text>
<text x="753.3" y="943.4" font-size="31.72" textLength="33.9" lengthAdjust="spacingAndGlyphs" fill="#000">10</text>
<text x="770.4" y="992" font-size="31.72" textLength="17" lengthAdjust="spacingAndGlyphs" fill="#000">8</text>
<text x="770.4" y="1040.6" font-size="31.72" textLength="17" lengthAdjust="spacingAndGlyphs" fill="#000">6</text>
<text x="769.9" y="1089.2" font-size="31.72" textLength="17" lengthAdjust="spacingAndGlyphs" fill="#000">4</text>
<text x="770.6" y="1137.8" font-size="31.72" textLength="17" lengthAdjust="spacingAndGlyphs" fill="#000">2</text>
<text x="770.2" y="1186.4" font-size="31.72" textLength="17" lengthAdjust="spacingAndGlyphs" fill="#000">0</text>
<text x="760.4" y="1235" font-size="31.72" textLength="27.1" lengthAdjust="spacingAndGlyphs" fill="#000">-2</text>
<text x="798.7" y="1281.7" font-size="31.72" textLength="27.5" lengthAdjust="spacingAndGlyphs" fill="#000">-5</text>
<text x="921.9" y="1281.7" font-size="31.72" textLength="17.6" lengthAdjust="spacingAndGlyphs" fill="#000">0</text>
<text x="1037.9" y="1281.7" font-size="31.72" textLength="18.8" lengthAdjust="spacingAndGlyphs" fill="#000">5</text>
<text x="1147.2" y="1281.7" font-size="31.72" textLength="33.9" lengthAdjust="spacingAndGlyphs" fill="#000">10</text>
<text x="1266" y="1281.7" font-size="31.72" textLength="34.1" lengthAdjust="spacingAndGlyphs" fill="#000">15</text>
<text x="1010.5" y="1320.1" font-size="31.72" textLength="105.3" lengthAdjust="spacingAndGlyphs" fill="#000">UMAP1</text>
<g transform="translate(749.3 1102.0) rotate(-90)"><text x="-2.4" y="0" font-size="31.72" textLength="105.5" lengthAdjust="spacingAndGlyphs" fill="#000">UMAP2</text></g>
<text x="1025.8" y="833.9" font-size="34.84" font-weight="bold" textLength="76.6" lengthAdjust="spacingAndGlyphs" fill="#231815">KNN</text>
<g clip-path="url(#cb2)">
<rect x="1459.1" y="849.4" width="535.9" height="399.2" fill="#d2da28"/>
<path d="M1693 943L1706 943L1720 955L1787.7 956.7L1787.7 991.1L1793.5 998.2L1804.9 1002.5L1804.9 1011.9L1998 1011.9L1998 1115.2L1816.4 1115.2L1812 1110.9L1804.9 1110.2L1802 1105.2L1794.9 1099.4L1782 1098L1780.6 1088L1739 1088L1739 1098L1733.3 1100.9L1733 1105L1708 1105L1708 1045L1702 1026L1694 1022ZM1591.4 1076.5L1605.7 1066.5L1612.8 1072.2L1634.3 1073.6L1637.2 1065.1L1648.7 1057.9L1665.8 1053.6L1680.2 1053.6L1694.5 1063.6L1701.6 1073.6L1703.1 1088L1694.5 1102.3L1671.6 1102.3L1671.6 1113.7L1658.7 1116.6L1644.4 1130.9L1641.5 1145.3L1637.2 1159.6L1630 1166.7L1637.2 1181.1L1622.9 1189.7L1611.4 1191.1L1601.4 1183.9L1594.2 1173.9L1588.5 1159.6L1589.9 1145.3L1591.4 1130.9ZM1673 1024L1678.7 1024L1678.7 1051.2L1673 1051.2Z" fill="#219a86" stroke="#219a86" stroke-width="1.2" stroke-linejoin="round"/>
<path d="M1456.1 908L1554.1 908L1554.1 925.2L1536.9 948.1L1456.1 948.1ZM1606.4 846.4L1998 846.4L1998 1011.9L1804.9 1011.9L1804.9 1002.5L1793.5 998.3L1787.7 991.1L1787.7 956.7L1694.5 956.7L1694.5 1002.5L1674.4 1008.3L1671.6 1009.7L1658.7 1008.3L1651.5 1004L1622.9 1002.5L1617.1 999.7L1612.8 994L1612.8 976.8L1608.5 969.6L1601.4 961L1601.4 948.1L1597.1 943.8L1597.1 909.5L1606.4 908Z" fill="#33628c" stroke="#33628c" stroke-width="1.2" stroke-linejoin="round"/>
<path d="M1693.1 942.4L1707.4 942.4L1707.4 1002.5L1693.1 1002.5ZM1767.7 958.1L1787.7 958.1L1787.7 1002.5L1767.7 1002.5Z" fill="#219a86" stroke="#219a86" stroke-width="1.2" stroke-linejoin="round"/>
<path d="M1671.6 1105.2L1733.3 1105.2L1733.3 1113.7L1674.4 1113.7Z" fill="#33628c" stroke="#33628c" stroke-width="1.2" stroke-linejoin="round"/>
<path d="M1456.1 846.4L1548.4 846.4L1548.4 908L1456.1 908ZM1698.8 846.4L1787 846.4L1787 882.2L1792.7 886.5L1792.7 915.2L1787.7 919.5L1787.7 956.7L1766.1 958.1L1723.1 945.3L1705.9 919.5L1698.8 915.2ZM1456.1 1001.1L1551.3 1001.1L1554.1 1004L1548.4 1008.3L1551.3 1016.9L1554.1 1031.2L1555.6 1044.9L1564.1 1050.7L1565.6 1090.8L1569.9 1095.1L1591.4 1095.1L1591.4 1100.8L1569.9 1102.2L1569.9 1116.6L1565.6 1119.4L1568.4 1125.1L1564.1 1133.7L1456.1 1134.5ZM1674.4 1009.7L1687.3 1002.5L1694.5 996.8L1705.9 1021.2L1703.1 1029.8L1694.5 1034.1L1680.2 1025.5L1674.4 1024ZM1727.6 1006.8L1782 1006.8L1782 1050L1776.3 1050L1776.3 1042.7L1767.7 1036.9L1762 1039.8L1759.1 1032.6L1744.8 1029.8L1736.2 1019.7ZM1732.6 1115.2L1733.3 1100.9L1739 1098L1739 1088L1780.6 1088L1782 1098L1794.9 1099.4L1802 1105.2L1804.9 1110.2L1812 1110.9L1816.4 1115.2L1998 1115.2L1998 1251.6L1732.6 1251.6Z" fill="#412a60" stroke="#412a60" stroke-width="1.2" stroke-linejoin="round"/>
<g fill="#331a4a" fill-opacity="0.5" stroke="#000" stroke-opacity="0.55" stroke-width="1.35"><circle cx="1738.1" cy="882.7" r="4.55"/><circle cx="1739.7" cy="882.2" r="4.55"/><circle cx="1734.8" cy="883" r="4.55"/><circle cx="1735.8" cy="880.8" r="4.55"/><circle cx="1740.2" cy="883.9" r="4.55"/><circle cx="1741.8" cy="883.6" r="4.55"/><circle cx="1741.3" cy="881.6" r="4.55"/><circle cx="1736" cy="881.5" r="4.55"/><circle cx="1744.2" cy="883.6" r="4.55"/><circle cx="1732.2" cy="884.5" r="4.55"/><circle cx="1760.6" cy="915.3" r="4.55"/><circle cx="1741.6" cy="885.7" r="4.55"/><circle cx="1741.3" cy="887" r="4.55"/><circle cx="1762.7" cy="917.9" r="4.55"/><circle cx="1769.3" cy="928.9" r="4.55"/><circle cx="1756.2" cy="898.7" r="4.55"/><circle cx="1771.4" cy="926" r="4.55"/><circle cx="1760.3" cy="908.8" r="4.55"/><circle cx="1765.5" cy="915.4" r="4.55"/><circle cx="1747.8" cy="888.8" r="4.55"/><circle cx="1753.1" cy="905.4" r="4.55"/><circle cx="1758.6" cy="915.4" r="4.55"/><circle cx="1755.1" cy="898.4" r="4.55"/><circle cx="1771.9" cy="926.6" r="4.55"/><circle cx="1749" cy="895" r="4.55"/><circle cx="1768.3" cy="924.5" r="4.55"/><circle cx="1765.6" cy="922.1" r="4.55"/><circle cx="1774.2" cy="935.5" r="4.55"/><circle cx="1753.7" cy="900.6" r="4.55"/><circle cx="1750.4" cy="891.2" r="4.55"/><circle cx="1753.1" cy="904.6" r="4.55"/><circle cx="1746.4" cy="887.9" r="4.55"/><circle cx="1745.1" cy="887" r="4.55"/><circle cx="1762.5" cy="926" r="4.55"/><circle cx="1757" cy="899.6" r="4.55"/><circle cx="1743.5" cy="887.9" r="4.55"/><circle cx="1772.6" cy="929.7" r="4.55"/><circle cx="1745.1" cy="888.2" r="4.55"/><circle cx="1756.4" cy="896.9" r="4.55"/><circle cx="1776.4" cy="939.1" r="4.55"/><circle cx="1755.5" cy="908.9" r="4.55"/><circle cx="1764.3" cy="921.9" r="4.55"/><circle cx="1756" cy="902.3" r="4.55"/><circle cx="1744" cy="892.8" r="4.55"/><circle cx="1741.7" cy="886.1" r="4.55"/><circle cx="1760.9" cy="915.6" r="4.55"/><circle cx="1765.3" cy="915" r="4.55"/><circle cx="1754.9" cy="903" r="4.55"/><circle cx="1761.7" cy="915.8" r="4.55"/><circle cx="1755" cy="910.3" r="4.55"/><circle cx="1755.9" cy="896.3" r="4.55"/><circle cx="1767.5" cy="926" r="4.55"/><circle cx="1762.4" cy="911.1" r="4.55"/><circle cx="1753.9" cy="902.2" r="4.55"/><circle cx="1769.5" cy="926.3" r="4.55"/><circle cx="1740.1" cy="887.5" r="4.55"/><circle cx="1773.9" cy="934.6" r="4.55"/><circle cx="1760.3" cy="913" r="4.55"/><circle cx="1760.6" cy="919.3" r="4.55"/><circle cx="1749" cy="888.9" r="4.55"/><circle cx="1771.7" cy="928.5" r="4.55"/><circle cx="1763.5" cy="927.8" r="4.55"/><circle cx="1761" cy="907.2" r="4.55"/><circle cx="1752.1" cy="901.2" r="4.55"/><circle cx="1750.3" cy="900.8" r="4.55"/><circle cx="1742.4" cy="885.2" r="4.55"/><circle cx="1754.9" cy="910.2" r="4.55"/><circle cx="1734.3" cy="883.3" r="4.55"/><circle cx="1760.5" cy="920" r="4.55"/><circle cx="1753.8" cy="902.5" r="4.55"/><circle cx="1773.2" cy="935" r="4.55"/><circle cx="1739.7" cy="888.3" r="4.55"/><circle cx="1755.9" cy="906.9" r="4.55"/><circle cx="1741.7" cy="890.2" r="4.55"/><circle cx="1762.1" cy="916.2" r="4.55"/><circle cx="1761.6" cy="917.7" r="4.55"/><circle cx="1777.4" cy="934.7" r="4.55"/><circle cx="1736.8" cy="884.2" r="4.55"/><circle cx="1740.5" cy="886.8" r="4.55"/><circle cx="1781" cy="937.3" r="4.55"/><circle cx="1729.6" cy="898" r="4.55"/><circle cx="1768.3" cy="951" r="4.55"/><circle cx="1776.9" cy="953.9" r="4.55"/><circle cx="1778.3" cy="945.3" r="4.55"/><circle cx="1765.4" cy="933.8" r="4.55"/><circle cx="1758.2" cy="925.2" r="4.55"/><circle cx="1781.2" cy="955.3" r="4.55"/><circle cx="1775.6" cy="938.7" r="4.55"/><circle cx="1775.8" cy="935.6" r="4.55"/><circle cx="1772.3" cy="937.5" r="4.55"/><circle cx="1780.3" cy="939.3" r="4.55"/><circle cx="1775.1" cy="935.4" r="4.55"/><circle cx="1782.6" cy="935" r="4.55"/><circle cx="1772.9" cy="935" r="4.55"/><circle cx="1778.5" cy="935.7" r="4.55"/><circle cx="1775.9" cy="937.3" r="4.55"/><circle cx="1772" cy="936.2" r="4.55"/><circle cx="1748.5" cy="1024.9" r="4.55"/><circle cx="1740.3" cy="1011.9" r="4.55"/><circle cx="1773.8" cy="1023.3" r="4.55"/><circle cx="1757" cy="1026.2" r="4.55"/><circle cx="1758.6" cy="1008" r="4.55"/><circle cx="1740.7" cy="1011.6" r="4.55"/><circle cx="1774.9" cy="1008.9" r="4.55"/><circle cx="1744.5" cy="1009.2" r="4.55"/><circle cx="1739.5" cy="1014.7" r="4.55"/><circle cx="1737.4" cy="1019" r="4.55"/><circle cx="1739.2" cy="1016.9" r="4.55"/><circle cx="1749.4" cy="1002.2" r="4.55"/><circle cx="1778.1" cy="1010.7" r="4.55"/><circle cx="1745.3" cy="1012.8" r="4.55"/><circle cx="1769.5" cy="1003.7" r="4.55"/><circle cx="1763.3" cy="1019.1" r="4.55"/><circle cx="1771.3" cy="1019.6" r="4.55"/><circle cx="1767.5" cy="1018.6" r="4.55"/><circle cx="1761" cy="1004" r="4.55"/><circle cx="1769.8" cy="1026.6" r="4.55"/><circle cx="1745.8" cy="1005.2" r="4.55"/><circle cx="1763.6" cy="1011.8" r="4.55"/><circle cx="1761.4" cy="1029.3" r="4.55"/><circle cx="1737.7" cy="1023.8" r="4.55"/><circle cx="1773.8" cy="1014.8" r="4.55"/><circle cx="1768.5" cy="1026.5" r="4.55"/><circle cx="1740.9" cy="1014.5" r="4.55"/><circle cx="1737.2" cy="1017.9" r="4.55"/><circle cx="1773.7" cy="1022.8" r="4.55"/><circle cx="1763.9" cy="1019.5" r="4.55"/><circle cx="1776.5" cy="1013.6" r="4.55"/><circle cx="1772.5" cy="1019.3" r="4.55"/><circle cx="1769.2" cy="1031.4" r="4.55"/><circle cx="1773.7" cy="1024" r="4.55"/><circle cx="1775.4" cy="1018.5" r="4.55"/><circle cx="1736.2" cy="1017" r="4.55"/><circle cx="1743.2" cy="1013.7" r="4.55"/><circle cx="1770.2" cy="1017" r="4.55"/><circle cx="1760.5" cy="1031" r="4.55"/><circle cx="1767.6" cy="1024.2" r="4.55"/><circle cx="1773.7" cy="1023.7" r="4.55"/><circle cx="1774.1" cy="1022.3" r="4.55"/><circle cx="1748.9" cy="1011.2" r="4.55"/><circle cx="1777.2" cy="1004.3" r="4.55"/><circle cx="1747" cy="1011.9" r="4.55"/><circle cx="1762.2" cy="1009" r="4.55"/><circle cx="1758.8" cy="1025.8" r="4.55"/><circle cx="1741.4" cy="1013.6" r="4.55"/><circle cx="1735.8" cy="1018.6" r="4.55"/><circle cx="1768" cy="1003.7" r="4.55"/><circle cx="1752" cy="994.9" r="4.55"/><circle cx="1744.2" cy="1012.3" r="4.55"/><circle cx="1770.4" cy="1018.2" r="4.55"/><circle cx="1745.5" cy="1008.8" r="4.55"/><circle cx="1738.8" cy="1011.7" r="4.55"/><circle cx="1768.7" cy="1016.5" r="4.55"/><circle cx="1770.7" cy="1021.2" r="4.55"/><circle cx="1742" cy="1013" r="4.55"/><circle cx="1761.2" cy="1028" r="4.55"/><circle cx="1753.9" cy="1001.7" r="4.55"/><circle cx="1752" cy="1026.6" r="4.55"/><circle cx="1738.8" cy="1015" r="4.55"/><circle cx="1766.3" cy="1007.7" r="4.55"/><circle cx="1766.8" cy="1011.2" r="4.55"/><circle cx="1760.6" cy="1031.8" r="4.55"/><circle cx="1740.7" cy="1011.8" r="4.55"/><circle cx="1755.6" cy="1000.7" r="4.55"/><circle cx="1767.2" cy="1019.1" r="4.55"/><circle cx="1737.7" cy="1020.4" r="4.55"/><circle cx="1737.2" cy="1018.7" r="4.55"/><circle cx="1748.6" cy="993.3" r="4.55"/><circle cx="1762.8" cy="974.5" r="4.55"/><circle cx="1754.9" cy="981.8" r="4.55"/><circle cx="1760" cy="978.6" r="4.55"/><circle cx="1741" cy="978" r="4.55"/><circle cx="1730.6" cy="966.8" r="4.55"/><circle cx="1742.6" cy="953.1" r="4.55"/><circle cx="1737.6" cy="951.2" r="4.55"/><circle cx="1721.8" cy="991.1" r="4.55"/><circle cx="1758.8" cy="972.3" r="4.55"/><circle cx="1740.7" cy="963" r="4.55"/><circle cx="1764.6" cy="980.1" r="4.55"/><circle cx="1762.9" cy="957.5" r="4.55"/><circle cx="1740.2" cy="951.3" r="4.55"/><circle cx="1759" cy="993.7" r="4.55"/><circle cx="1721.8" cy="973.3" r="4.55"/><circle cx="1751.3" cy="949.3" r="4.55"/><circle cx="1720" cy="960.8" r="4.55"/><circle cx="1731.4" cy="949.2" r="4.55"/><circle cx="1745.5" cy="997.6" r="4.55"/><circle cx="1745.9" cy="977.7" r="4.55"/><circle cx="1756.1" cy="984.4" r="4.55"/><circle cx="1718" cy="964.5" r="4.55"/><circle cx="1726.6" cy="957.7" r="4.55"/><circle cx="1718.9" cy="975.5" r="4.55"/><circle cx="1743" cy="972.3" r="4.55"/><circle cx="1717.7" cy="973.4" r="4.55"/><circle cx="1722.4" cy="962.4" r="4.55"/><circle cx="1726.4" cy="955.9" r="4.55"/><circle cx="1755.9" cy="980.3" r="4.55"/><circle cx="1720" cy="979.3" r="4.55"/><circle cx="1756.7" cy="993.8" r="4.55"/><circle cx="1723.4" cy="972.3" r="4.55"/><circle cx="1760.3" cy="972.2" r="4.55"/><circle cx="1753.2" cy="980.5" r="4.55"/><circle cx="1745.8" cy="975.6" r="4.55"/><circle cx="1733.2" cy="951.3" r="4.55"/><circle cx="1721.3" cy="976.9" r="4.55"/><circle cx="1718.6" cy="967.2" r="4.55"/><circle cx="1715.4" cy="964.2" r="4.55"/><circle cx="1759.8" cy="986.2" r="4.55"/><circle cx="1722.1" cy="967.1" r="4.55"/><circle cx="1724.4" cy="973.6" r="4.55"/><circle cx="1710" cy="973.1" r="4.55"/><circle cx="1717.8" cy="994.6" r="4.55"/><circle cx="1743.5" cy="953.5" r="4.55"/><circle cx="1720.7" cy="956.8" r="4.55"/><circle cx="1738.3" cy="975.9" r="4.55"/><circle cx="1724.7" cy="988.6" r="4.55"/><circle cx="1732.7" cy="951.3" r="4.55"/><circle cx="1763.1" cy="957.5" r="4.55"/><circle cx="1720.7" cy="971.1" r="4.55"/><circle cx="1728" cy="959.4" r="4.55"/><circle cx="1742.3" cy="964.5" r="4.55"/><circle cx="1740.7" cy="958.4" r="4.55"/><circle cx="1761.4" cy="978" r="4.55"/><circle cx="1750.3" cy="992.1" r="4.55"/><circle cx="1766.8" cy="981.1" r="4.55"/><circle cx="1736.3" cy="951.7" r="4.55"/><circle cx="1718.8" cy="976.2" r="4.55"/><circle cx="1763.3" cy="979.7" r="4.55"/><circle cx="1747.5" cy="976.9" r="4.55"/><circle cx="1719.9" cy="991.9" r="4.55"/><circle cx="1714.7" cy="979.8" r="4.55"/><circle cx="1749.9" cy="990.1" r="4.55"/><circle cx="1716.3" cy="959.6" r="4.55"/><circle cx="1765.1" cy="973.5" r="4.55"/><circle cx="1745.5" cy="994.1" r="4.55"/><circle cx="1753.5" cy="972.8" r="4.55"/><circle cx="1721.9" cy="962.7" r="4.55"/><circle cx="1693.2" cy="1010.2" r="4.55"/><circle cx="1700.6" cy="1004.3" r="4.55"/><circle cx="1692.4" cy="1001.8" r="4.55"/><circle cx="1690.8" cy="1003.8" r="4.55"/><circle cx="1696.7" cy="1010.1" r="4.55"/><circle cx="1703.1" cy="1005.6" r="4.55"/><circle cx="1688.3" cy="1002.9" r="4.55"/><circle cx="1695.1" cy="1001.7" r="4.55"/><circle cx="1698.9" cy="1003.8" r="4.55"/><circle cx="1700" cy="1005.2" r="4.55"/><circle cx="1697.6" cy="1007.5" r="4.55"/><circle cx="1703.6" cy="1001.7" r="4.55"/><circle cx="1714.2" cy="934.3" r="4.55"/><circle cx="1714.4" cy="935.3" r="4.55"/><circle cx="1720.5" cy="933.6" r="4.55"/><circle cx="1720.4" cy="931.8" r="4.55"/><circle cx="1715.4" cy="932.3" r="4.55"/><circle cx="1720.4" cy="928.9" r="4.55"/><circle cx="1515" cy="1064" r="4.55"/><circle cx="1526.2" cy="1072.1" r="4.55"/><circle cx="1540.2" cy="1095.3" r="4.55"/><circle cx="1505.8" cy="1058.5" r="4.55"/><circle cx="1527.8" cy="1074.1" r="4.55"/><circle cx="1523.8" cy="1075.1" r="4.55"/><circle cx="1539.9" cy="1096.6" r="4.55"/><circle cx="1511.7" cy="1059.6" r="4.55"/><circle cx="1535.1" cy="1087.9" r="4.55"/><circle cx="1534.6" cy="1084.7" r="4.55"/><circle cx="1535.7" cy="1076.8" r="4.55"/><circle cx="1513.9" cy="1069.4" r="4.55"/><circle cx="1520.5" cy="1066.3" r="4.55"/><circle cx="1534.2" cy="1083.1" r="4.55"/><circle cx="1508" cy="1059.2" r="4.55"/><circle cx="1525.6" cy="1069.8" r="4.55"/><circle cx="1507.1" cy="1054.7" r="4.55"/><circle cx="1547.7" cy="1102.2" r="4.55"/><circle cx="1530.4" cy="1072.9" r="4.55"/><circle cx="1546.4" cy="1101.9" r="4.55"/><circle cx="1506.5" cy="1056.6" r="4.55"/><circle cx="1527.5" cy="1071.1" r="4.55"/><circle cx="1546" cy="1097.1" r="4.55"/><circle cx="1522.1" cy="1069.8" r="4.55"/><circle cx="1512.7" cy="1067.5" r="4.55"/><circle cx="1533" cy="1075.6" r="4.55"/><circle cx="1518.1" cy="1071.4" r="4.55"/><circle cx="1513.3" cy="1067.5" r="4.55"/><circle cx="1546.6" cy="1100.1" r="4.55"/><circle cx="1515.6" cy="1065.8" r="4.55"/><circle cx="1548.3" cy="1097.9" r="4.55"/><circle cx="1511.6" cy="1068.4" r="4.55"/><circle cx="1510.1" cy="1055.8" r="4.55"/><circle cx="1542.4" cy="1099.8" r="4.55"/><circle cx="1547.5" cy="1104.8" r="4.55"/><circle cx="1511.4" cy="1067.9" r="4.55"/><circle cx="1505.4" cy="1057.3" r="4.55"/><circle cx="1523.4" cy="1069.7" r="4.55"/><circle cx="1506.8" cy="1053.9" r="4.55"/><circle cx="1549.9" cy="1098.8" r="4.55"/><circle cx="1515.3" cy="1065" r="4.55"/><circle cx="1542.5" cy="1092.3" r="4.55"/><circle cx="1530.5" cy="1074.7" r="4.55"/><circle cx="1514.6" cy="1064.6" r="4.55"/><circle cx="1507.5" cy="1056.9" r="4.55"/><circle cx="1543.2" cy="1087.3" r="4.55"/><circle cx="1504.7" cy="1059.8" r="4.55"/><circle cx="1537.3" cy="1090.6" r="4.55"/><circle cx="1515.9" cy="1071.1" r="4.55"/><circle cx="1515.8" cy="1068.7" r="4.55"/><circle cx="1520.5" cy="1065.1" r="4.55"/><circle cx="1544.9" cy="1100.5" r="4.55"/><circle cx="1508" cy="1055.2" r="4.55"/><circle cx="1545.2" cy="1103.5" r="4.55"/><circle cx="1516.8" cy="1066.7" r="4.55"/><circle cx="1529" cy="1064.7" r="4.55"/><circle cx="1524.4" cy="1065.8" r="4.55"/><circle cx="1523.8" cy="1061.9" r="4.55"/><circle cx="1519.4" cy="1060.1" r="4.55"/><circle cx="1518.4" cy="1058" r="4.55"/><circle cx="1521.2" cy="1054.6" r="4.55"/><circle cx="1518.9" cy="1061.3" r="4.55"/><circle cx="1528.4" cy="1064.9" r="4.55"/><circle cx="1519.3" cy="1056.6" r="4.55"/><circle cx="1523.1" cy="1060.1" r="4.55"/><circle cx="1507.3" cy="1077.6" r="4.55"/><circle cx="1507.3" cy="1080.4" r="4.55"/><circle cx="1509.5" cy="1081.1" r="4.55"/><circle cx="1506.9" cy="1072.4" r="4.55"/><circle cx="1509.7" cy="1070.1" r="4.55"/><circle cx="1507.8" cy="1081.4" r="4.55"/><circle cx="1505.5" cy="1073.3" r="4.55"/><circle cx="1506.5" cy="1070.7" r="4.55"/><circle cx="1510.6" cy="1083.5" r="4.55"/><circle cx="1506.3" cy="1081.3" r="4.55"/><circle cx="1509.5" cy="1066.5" r="4.55"/><circle cx="1505.6" cy="1069.9" r="4.55"/><circle cx="1509" cy="1083.1" r="4.55"/><circle cx="1509.7" cy="1074.7" r="4.55"/><circle cx="1496.7" cy="1084.4" r="4.55"/><circle cx="1490.9" cy="1084.6" r="4.55"/><circle cx="1483.3" cy="1088.7" r="4.55"/><circle cx="1490.4" cy="1085.4" r="4.55"/><circle cx="1481.8" cy="1090.1" r="4.55"/><circle cx="1484" cy="1088.4" r="4.55"/><circle cx="1493.8" cy="1085.2" r="4.55"/><circle cx="1483.1" cy="1089.3" r="4.55"/><circle cx="1491.1" cy="1084.4" r="4.55"/><circle cx="1539.8" cy="1102.3" r="4.55"/><circle cx="1548.4" cy="1100.9" r="4.55"/><circle cx="1542.7" cy="1069.3" r="4.55"/><circle cx="1536.9" cy="1066.5" r="4.55"/><circle cx="1572.9" cy="1123" r="4.55"/><circle cx="1573.6" cy="1123.1" r="4.55"/><circle cx="1573.4" cy="1123.6" r="4.55"/><circle cx="1573.2" cy="1123.2" r="4.55"/><circle cx="1574.5" cy="1121.6" r="4.55"/><circle cx="1573" cy="1123.4" r="4.55"/><circle cx="1570.6" cy="1118.8" r="4.55"/><circle cx="1749.5" cy="1070" r="4.55"/><circle cx="1751.1" cy="1072.3" r="4.55"/><circle cx="1747" cy="1074.4" r="4.55"/><circle cx="1747.3" cy="1074.7" r="4.55"/><circle cx="1746.8" cy="1073.4" r="4.55"/><circle cx="1750.9" cy="1072.4" r="4.55"/><circle cx="1748.2" cy="1069.3" r="4.55"/></g>
<g fill="#2f6a94" fill-opacity="0.5" stroke="#000" stroke-opacity="0.55" stroke-width="1.35"><circle cx="1941.4" cy="871.9" r="4.55"/><circle cx="1910.1" cy="876" r="4.55"/><circle cx="1907.7" cy="876.4" r="4.55"/><circle cx="1898" cy="877.8" r="4.55"/><circle cx="1942.6" cy="873.5" r="4.55"/><circle cx="1940" cy="880.8" r="4.55"/><circle cx="1894.8" cy="883" r="4.55"/><circle cx="1940.1" cy="877.1" r="4.55"/><circle cx="1899.7" cy="880.5" r="4.55"/><circle cx="1914.3" cy="879" r="4.55"/><circle cx="1900.2" cy="874.5" r="4.55"/><circle cx="1917.8" cy="874" r="4.55"/><circle cx="1905.9" cy="878.6" r="4.55"/><circle cx="1894.5" cy="879.3" r="4.55"/><circle cx="1893.1" cy="882.5" r="4.55"/><circle cx="1923.8" cy="875.1" r="4.55"/><circle cx="1907.8" cy="875.4" r="4.55"/><circle cx="1914.1" cy="877.1" r="4.55"/><circle cx="1914.6" cy="870.7" r="4.55"/><circle cx="1918" cy="872.5" r="4.55"/><circle cx="1932.3" cy="873" r="4.55"/><circle cx="1915.1" cy="871.5" r="4.55"/><circle cx="1913.7" cy="871.5" r="4.55"/><circle cx="1918.6" cy="870.5" r="4.55"/><circle cx="1897.1" cy="880.5" r="4.55"/><circle cx="1918.2" cy="870.6" r="4.55"/><circle cx="1910.9" cy="880.4" r="4.55"/><circle cx="1936.2" cy="879.9" r="4.55"/><circle cx="1937.2" cy="871.7" r="4.55"/><circle cx="1919.3" cy="879.6" r="4.55"/><circle cx="1902" cy="880" r="4.55"/><circle cx="1895.3" cy="877" r="4.55"/><circle cx="1900" cy="881.5" r="4.55"/><circle cx="1936" cy="870.8" r="4.55"/><circle cx="1940.5" cy="872.9" r="4.55"/><circle cx="1916.8" cy="873.4" r="4.55"/><circle cx="1901.6" cy="873.6" r="4.55"/><circle cx="1927.1" cy="878.2" r="4.55"/><circle cx="1934.6" cy="870.1" r="4.55"/><circle cx="1926.4" cy="872.9" r="4.55"/><circle cx="1922.2" cy="875.5" r="4.55"/><circle cx="1898.4" cy="882.9" r="4.55"/><circle cx="1912" cy="878.7" r="4.55"/><circle cx="1943.3" cy="877.7" r="4.55"/><circle cx="1931.2" cy="873.2" r="4.55"/><circle cx="1931.6" cy="869.2" r="4.55"/><circle cx="1906.4" cy="877.7" r="4.55"/><circle cx="1922.3" cy="876.4" r="4.55"/><circle cx="1889.5" cy="875" r="4.55"/><circle cx="1924.3" cy="873.8" r="4.55"/><circle cx="1939.4" cy="871.8" r="4.55"/><circle cx="1924.3" cy="869.7" r="4.55"/><circle cx="1909.4" cy="872" r="4.55"/><circle cx="1903.7" cy="877.5" r="4.55"/><circle cx="1902.4" cy="878.2" r="4.55"/><circle cx="1898.7" cy="882.2" r="4.55"/><circle cx="1898.8" cy="873.6" r="4.55"/><circle cx="1936.7" cy="877.8" r="4.55"/><circle cx="1905.3" cy="871.5" r="4.55"/><circle cx="1921.7" cy="873.3" r="4.55"/><circle cx="1916.2" cy="879.7" r="4.55"/><circle cx="1903.6" cy="880.7" r="4.55"/><circle cx="1918.9" cy="874.1" r="4.55"/><circle cx="1893.7" cy="881.7" r="4.55"/><circle cx="1920.2" cy="879.4" r="4.55"/><circle cx="1902.2" cy="878.1" r="4.55"/><circle cx="1925" cy="877.6" r="4.55"/><circle cx="1906.3" cy="874.3" r="4.55"/><circle cx="1938.5" cy="878.3" r="4.55"/><circle cx="1893.2" cy="882.5" r="4.55"/><circle cx="1916.3" cy="877.7" r="4.55"/><circle cx="1901.7" cy="873" r="4.55"/><circle cx="1893.9" cy="877.1" r="4.55"/><circle cx="1929.5" cy="877.5" r="4.55"/><circle cx="1905.3" cy="877" r="4.55"/><circle cx="1940.6" cy="891.4" r="4.55"/><circle cx="1931.2" cy="892.8" r="4.55"/><circle cx="1944.5" cy="887.9" r="4.55"/><circle cx="1910.8" cy="888.7" r="4.55"/><circle cx="1940.2" cy="889.6" r="4.55"/><circle cx="1916.1" cy="884.7" r="4.55"/><circle cx="1932.3" cy="890.7" r="4.55"/><circle cx="1952.6" cy="889.3" r="4.55"/><circle cx="1935.2" cy="892.9" r="4.55"/><circle cx="1937" cy="890.9" r="4.55"/><circle cx="1907.1" cy="888" r="4.55"/><circle cx="1946" cy="888.5" r="4.55"/><circle cx="1901.9" cy="891.1" r="4.55"/><circle cx="1902.4" cy="883.3" r="4.55"/><circle cx="1936" cy="891.2" r="4.55"/><circle cx="1939.5" cy="887.1" r="4.55"/><circle cx="1917.5" cy="889.8" r="4.55"/><circle cx="1946.7" cy="887.6" r="4.55"/><circle cx="1948.5" cy="894.9" r="4.55"/><circle cx="1906.2" cy="883.7" r="4.55"/><circle cx="1945.8" cy="894.6" r="4.55"/><circle cx="1942.5" cy="892.9" r="4.55"/><circle cx="1901.9" cy="883.9" r="4.55"/><circle cx="1907.3" cy="885.4" r="4.55"/><circle cx="1896.2" cy="885.8" r="4.55"/><circle cx="1937" cy="889.1" r="4.55"/><circle cx="1951.9" cy="889.8" r="4.55"/><circle cx="1932.5" cy="884.8" r="4.55"/><circle cx="1920.6" cy="889.6" r="4.55"/><circle cx="1935.7" cy="890.2" r="4.55"/><circle cx="1945.1" cy="888.4" r="4.55"/><circle cx="1904.5" cy="882.9" r="4.55"/><circle cx="1937.4" cy="894.6" r="4.55"/><circle cx="1925.1" cy="887.6" r="4.55"/><circle cx="1906.1" cy="887" r="4.55"/><circle cx="1945.3" cy="890.4" r="4.55"/><circle cx="1913" cy="884.2" r="4.55"/><circle cx="1925.4" cy="884.3" r="4.55"/><circle cx="1901.2" cy="890" r="4.55"/><circle cx="1940.5" cy="892.3" r="4.55"/><circle cx="1920.2" cy="886.4" r="4.55"/><circle cx="1899.8" cy="890.9" r="4.55"/><circle cx="1908.6" cy="884.8" r="4.55"/><circle cx="1926" cy="886.7" r="4.55"/><circle cx="1909.4" cy="886.4" r="4.55"/><circle cx="1939.1" cy="893.1" r="4.55"/><circle cx="1915.3" cy="885.4" r="4.55"/><circle cx="1944.6" cy="893.7" r="4.55"/><circle cx="1906.3" cy="886.5" r="4.55"/><circle cx="1930.2" cy="885" r="4.55"/><circle cx="1945.2" cy="889.6" r="4.55"/><circle cx="1914" cy="888.5" r="4.55"/><circle cx="1903.8" cy="884.3" r="4.55"/><circle cx="1913.9" cy="886.9" r="4.55"/><circle cx="1916.3" cy="884.3" r="4.55"/><circle cx="1939.9" cy="887.5" r="4.55"/><circle cx="1902.8" cy="886.3" r="4.55"/><circle cx="1940.9" cy="893.4" r="4.55"/><circle cx="1906.3" cy="888.2" r="4.55"/><circle cx="1906.5" cy="886" r="4.55"/><circle cx="1963.2" cy="923.8" r="4.55"/><circle cx="1962.4" cy="931.4" r="4.55"/><circle cx="1959.4" cy="900.5" r="4.55"/><circle cx="1948.8" cy="947.4" r="4.55"/><circle cx="1959" cy="936.7" r="4.55"/><circle cx="1961.3" cy="909.1" r="4.55"/><circle cx="1947.2" cy="951.6" r="4.55"/><circle cx="1954.4" cy="945" r="4.55"/><circle cx="1963.4" cy="914.3" r="4.55"/><circle cx="1963.5" cy="925.8" r="4.55"/><circle cx="1959.8" cy="943.3" r="4.55"/><circle cx="1964" cy="927.4" r="4.55"/><circle cx="1953.4" cy="942.5" r="4.55"/><circle cx="1954.8" cy="942.6" r="4.55"/><circle cx="1960.3" cy="928.4" r="4.55"/><circle cx="1964.5" cy="937.3" r="4.55"/><circle cx="1938.3" cy="961.6" r="4.55"/><circle cx="1960.1" cy="938.4" r="4.55"/><circle cx="1961.6" cy="933.3" r="4.55"/><circle cx="1963" cy="935.1" r="4.55"/><circle cx="1960.9" cy="906.1" r="4.55"/><circle cx="1951.2" cy="954.6" r="4.55"/><circle cx="1968.9" cy="918" r="4.55"/><circle cx="1969.8" cy="922.4" r="4.55"/><circle cx="1964.2" cy="924.8" r="4.55"/><circle cx="1966.2" cy="910.9" r="4.55"/><circle cx="1938.1" cy="961.7" r="4.55"/><circle cx="1948.3" cy="954" r="4.55"/><circle cx="1958.1" cy="901.3" r="4.55"/><circle cx="1957.8" cy="942.9" r="4.55"/><circle cx="1958.9" cy="908" r="4.55"/><circle cx="1954.7" cy="942.2" r="4.55"/><circle cx="1966.1" cy="929.8" r="4.55"/><circle cx="1956.8" cy="900.3" r="4.55"/><circle cx="1945.2" cy="958" r="4.55"/><circle cx="1963.9" cy="908.9" r="4.55"/><circle cx="1951.3" cy="890.2" r="4.55"/><circle cx="1965" cy="908.6" r="4.55"/><circle cx="1964.5" cy="925.7" r="4.55"/><circle cx="1961.7" cy="921.1" r="4.55"/><circle cx="1954.2" cy="896.2" r="4.55"/><circle cx="1949.7" cy="955.7" r="4.55"/><circle cx="1961.8" cy="943.8" r="4.55"/><circle cx="1936.5" cy="961.9" r="4.55"/><circle cx="1960.4" cy="894.9" r="4.55"/><circle cx="1950.4" cy="952.6" r="4.55"/><circle cx="1938.5" cy="957.6" r="4.55"/><circle cx="1939.6" cy="958.8" r="4.55"/><circle cx="1953" cy="943.4" r="4.55"/><circle cx="1945.8" cy="958.3" r="4.55"/><circle cx="1960.5" cy="933.6" r="4.55"/><circle cx="1941.5" cy="957.8" r="4.55"/><circle cx="1966.1" cy="907.4" r="4.55"/><circle cx="1955.7" cy="893" r="4.55"/><circle cx="1963.7" cy="931.2" r="4.55"/><circle cx="1944.8" cy="961.2" r="4.55"/><circle cx="1963.8" cy="929.3" r="4.55"/><circle cx="1945.2" cy="956.8" r="4.55"/><circle cx="1939.3" cy="966.5" r="4.55"/><circle cx="1960.7" cy="945.3" r="4.55"/><circle cx="1952.6" cy="943.3" r="4.55"/><circle cx="1935.4" cy="965.3" r="4.55"/><circle cx="1942.5" cy="962.9" r="4.55"/><circle cx="1958.7" cy="943.5" r="4.55"/><circle cx="1965.5" cy="920.1" r="4.55"/><circle cx="1951.1" cy="953.5" r="4.55"/><circle cx="1965.6" cy="926.1" r="4.55"/><circle cx="1961.6" cy="913.8" r="4.55"/><circle cx="1965.1" cy="932.9" r="4.55"/><circle cx="1934.3" cy="964.7" r="4.55"/><circle cx="1966.4" cy="916.1" r="4.55"/><circle cx="1958.7" cy="939" r="4.55"/><circle cx="1954" cy="894.4" r="4.55"/><circle cx="1965.8" cy="936.6" r="4.55"/><circle cx="1956.2" cy="889.3" r="4.55"/><circle cx="1957.4" cy="940.6" r="4.55"/><circle cx="1938.6" cy="959.9" r="4.55"/><circle cx="1956.5" cy="941.4" r="4.55"/><circle cx="1956.5" cy="948.1" r="4.55"/><circle cx="1963" cy="926.5" r="4.55"/><circle cx="1965.9" cy="903.1" r="4.55"/><circle cx="1938.5" cy="959.5" r="4.55"/><circle cx="1943.9" cy="953.2" r="4.55"/><circle cx="1965.2" cy="909.7" r="4.55"/><circle cx="1965.4" cy="916" r="4.55"/><circle cx="1941.1" cy="964.5" r="4.55"/><circle cx="1958.2" cy="891.3" r="4.55"/><circle cx="1957.7" cy="936" r="4.55"/><circle cx="1954.7" cy="890.1" r="4.55"/><circle cx="1934.8" cy="959.6" r="4.55"/><circle cx="1969.2" cy="924.2" r="4.55"/><circle cx="1965.2" cy="904.2" r="4.55"/><circle cx="1951.4" cy="889.8" r="4.55"/><circle cx="1938.5" cy="967.3" r="4.55"/><circle cx="1963.4" cy="897.4" r="4.55"/><circle cx="1935" cy="905.3" r="4.55"/><circle cx="1942.9" cy="914.2" r="4.55"/><circle cx="1932.4" cy="900" r="4.55"/><circle cx="1933.8" cy="899.2" r="4.55"/><circle cx="1932.4" cy="909.3" r="4.55"/><circle cx="1921.8" cy="915.3" r="4.55"/><circle cx="1935.4" cy="926.1" r="4.55"/><circle cx="1932.4" cy="898.5" r="4.55"/><circle cx="1937.7" cy="912.5" r="4.55"/><circle cx="1941.5" cy="901.8" r="4.55"/><circle cx="1934" cy="916.1" r="4.55"/><circle cx="1943.2" cy="922.9" r="4.55"/><circle cx="1919.9" cy="913.5" r="4.55"/><circle cx="1933" cy="914.9" r="4.55"/><circle cx="1923.8" cy="916.4" r="4.55"/><circle cx="1944.5" cy="921.6" r="4.55"/><circle cx="1925.8" cy="922" r="4.55"/><circle cx="1926.4" cy="903.9" r="4.55"/><circle cx="1927.5" cy="918.4" r="4.55"/><circle cx="1950.2" cy="908" r="4.55"/><circle cx="1921.9" cy="907.1" r="4.55"/><circle cx="1944.5" cy="915.2" r="4.55"/><circle cx="1930.9" cy="898.8" r="4.55"/><circle cx="1928.1" cy="923.7" r="4.55"/><circle cx="1949.1" cy="910.7" r="4.55"/><circle cx="1923.2" cy="904.6" r="4.55"/><circle cx="1927.2" cy="915.8" r="4.55"/><circle cx="1924.3" cy="921.8" r="4.55"/><circle cx="1924.4" cy="905.2" r="4.55"/><circle cx="1924.7" cy="907.9" r="4.55"/><circle cx="1932.8" cy="898.8" r="4.55"/><circle cx="1936" cy="919.4" r="4.55"/><circle cx="1949.6" cy="910.3" r="4.55"/><circle cx="1930.4" cy="919.7" r="4.55"/><circle cx="1931.4" cy="923.6" r="4.55"/><circle cx="1924.5" cy="901.2" r="4.55"/><circle cx="1943.9" cy="922.5" r="4.55"/><circle cx="1924" cy="904.2" r="4.55"/><circle cx="1923.2" cy="899" r="4.55"/><circle cx="1932.1" cy="899.3" r="4.55"/><circle cx="1918.4" cy="913.8" r="4.55"/><circle cx="1937.4" cy="912.3" r="4.55"/><circle cx="1919" cy="913.7" r="4.55"/><circle cx="1922.7" cy="905.2" r="4.55"/><circle cx="1915.5" cy="911" r="4.55"/><circle cx="1925.5" cy="903.4" r="4.55"/><circle cx="1924.5" cy="921.2" r="4.55"/><circle cx="1939.1" cy="928.5" r="4.55"/><circle cx="1939.5" cy="904.1" r="4.55"/><circle cx="1920.8" cy="908.8" r="4.55"/><circle cx="1940.3" cy="900.8" r="4.55"/><circle cx="1944.8" cy="921.2" r="4.55"/><circle cx="1924.1" cy="915" r="4.55"/><circle cx="1952.1" cy="908.4" r="4.55"/><circle cx="1950.8" cy="908.1" r="4.55"/><circle cx="1926.1" cy="919.7" r="4.55"/><circle cx="1928.7" cy="923.7" r="4.55"/><circle cx="1932.5" cy="915.1" r="4.55"/><circle cx="1946.3" cy="908.9" r="4.55"/><circle cx="1932.4" cy="910" r="4.55"/><circle cx="1937.8" cy="926.1" r="4.55"/><circle cx="1937.9" cy="906.3" r="4.55"/><circle cx="1923.5" cy="919.1" r="4.55"/><circle cx="1925" cy="921.3" r="4.55"/><circle cx="1946.7" cy="903.8" r="4.55"/><circle cx="1932.7" cy="898.3" r="4.55"/><circle cx="1927.6" cy="919.4" r="4.55"/><circle cx="1942.9" cy="915.1" r="4.55"/><circle cx="1927.6" cy="927" r="4.55"/><circle cx="1928.3" cy="924.3" r="4.55"/><circle cx="1938.4" cy="912.2" r="4.55"/><circle cx="1930.1" cy="901.4" r="4.55"/><circle cx="1942.8" cy="917.1" r="4.55"/><circle cx="1923.9" cy="918.1" r="4.55"/><circle cx="1944.6" cy="915.5" r="4.55"/><circle cx="1899.6" cy="892" r="4.55"/><circle cx="1904.6" cy="910.2" r="4.55"/><circle cx="1904.1" cy="905.7" r="4.55"/><circle cx="1902.9" cy="902.8" r="4.55"/><circle cx="1903.3" cy="919.1" r="4.55"/><circle cx="1900.2" cy="907.6" r="4.55"/><circle cx="1896.4" cy="897.1" r="4.55"/><circle cx="1905.4" cy="911.2" r="4.55"/><circle cx="1902.3" cy="917.7" r="4.55"/><circle cx="1905.3" cy="901.2" r="4.55"/><circle cx="1909.2" cy="920.4" r="4.55"/><circle cx="1899.5" cy="894.9" r="4.55"/><circle cx="1907.7" cy="913.8" r="4.55"/><circle cx="1907.1" cy="918.2" r="4.55"/><circle cx="1904" cy="902.8" r="4.55"/><circle cx="1905.7" cy="909.7" r="4.55"/><circle cx="1903.4" cy="898.6" r="4.55"/><circle cx="1905.9" cy="906" r="4.55"/><circle cx="1902.5" cy="912.8" r="4.55"/><circle cx="1901.1" cy="908.8" r="4.55"/><circle cx="1901.8" cy="915.9" r="4.55"/><circle cx="1902.2" cy="898.6" r="4.55"/><circle cx="1902.6" cy="902.8" r="4.55"/><circle cx="1902.5" cy="918.4" r="4.55"/><circle cx="1904.9" cy="911.4" r="4.55"/><circle cx="1904.1" cy="908" r="4.55"/><circle cx="1909.2" cy="919.7" r="4.55"/><circle cx="1898.1" cy="892.7" r="4.55"/><circle cx="1897.1" cy="898.7" r="4.55"/><circle cx="1902.6" cy="898.2" r="4.55"/><circle cx="1903.7" cy="919.3" r="4.55"/><circle cx="1907.7" cy="913.9" r="4.55"/><circle cx="1903.6" cy="912" r="4.55"/><circle cx="1904.9" cy="900.2" r="4.55"/><circle cx="1901.2" cy="909.4" r="4.55"/><circle cx="1904.6" cy="906.9" r="4.55"/><circle cx="1900.8" cy="911.4" r="4.55"/><circle cx="1900.3" cy="904.4" r="4.55"/><circle cx="1906.7" cy="912" r="4.55"/><circle cx="1911.9" cy="920.7" r="4.55"/><circle cx="1912" cy="961.3" r="4.55"/><circle cx="1927.5" cy="963.9" r="4.55"/><circle cx="1908.1" cy="951.9" r="4.55"/><circle cx="1929.1" cy="962.9" r="4.55"/><circle cx="1911.7" cy="961.5" r="4.55"/><circle cx="1896.7" cy="944.7" r="4.55"/><circle cx="1893.9" cy="941.1" r="4.55"/><circle cx="1904.8" cy="946.9" r="4.55"/><circle cx="1901.2" cy="945.7" r="4.55"/><circle cx="1933.7" cy="958.6" r="4.55"/><circle cx="1922.2" cy="956.6" r="4.55"/><circle cx="1916.2" cy="959" r="4.55"/><circle cx="1909.2" cy="953.9" r="4.55"/><circle cx="1901.3" cy="945.5" r="4.55"/><circle cx="1913.8" cy="961.7" r="4.55"/><circle cx="1896.2" cy="946.1" r="4.55"/><circle cx="1903.5" cy="947.2" r="4.55"/><circle cx="1911.2" cy="956" r="4.55"/><circle cx="1895.5" cy="941.2" r="4.55"/><circle cx="1914" cy="960.4" r="4.55"/><circle cx="1933" cy="958.5" r="4.55"/><circle cx="1906.3" cy="956.6" r="4.55"/><circle cx="1927.1" cy="960.1" r="4.55"/><circle cx="1905.5" cy="951.1" r="4.55"/><circle cx="1907.3" cy="950" r="4.55"/><circle cx="1904.2" cy="955" r="4.55"/><circle cx="1898.3" cy="937.8" r="4.55"/><circle cx="1906.9" cy="950.3" r="4.55"/><circle cx="1902" cy="947.7" r="4.55"/><circle cx="1932.1" cy="961.6" r="4.55"/><circle cx="1929.5" cy="964.9" r="4.55"/><circle cx="1927.7" cy="960.9" r="4.55"/><circle cx="1917.1" cy="960.2" r="4.55"/><circle cx="1898.8" cy="938.6" r="4.55"/><circle cx="1897.3" cy="938.1" r="4.55"/><circle cx="1899.1" cy="942.8" r="4.55"/><circle cx="1894.6" cy="944.7" r="4.55"/><circle cx="1930.5" cy="957.5" r="4.55"/><circle cx="1930.3" cy="960.6" r="4.55"/><circle cx="1926.8" cy="963" r="4.55"/><circle cx="1902.4" cy="951.7" r="4.55"/><circle cx="1904.3" cy="950.5" r="4.55"/><circle cx="1902.3" cy="947.7" r="4.55"/><circle cx="1903.9" cy="954.9" r="4.55"/><circle cx="1908" cy="957.7" r="4.55"/><circle cx="1907.1" cy="950.3" r="4.55"/><circle cx="1932.9" cy="961.5" r="4.55"/><circle cx="1896.4" cy="947.6" r="4.55"/><circle cx="1906.9" cy="951" r="4.55"/><circle cx="1903" cy="944.8" r="4.55"/><circle cx="1912.4" cy="959" r="4.55"/><circle cx="1918.6" cy="959.1" r="4.55"/><circle cx="1904.6" cy="954.1" r="4.55"/><circle cx="1932.8" cy="963.9" r="4.55"/><circle cx="1906.7" cy="955.1" r="4.55"/><circle cx="1899.9" cy="947.8" r="4.55"/><circle cx="1928.3" cy="956.6" r="4.55"/><circle cx="1927.4" cy="964" r="4.55"/><circle cx="1917.2" cy="960.2" r="4.55"/><circle cx="1909.8" cy="952" r="4.55"/><circle cx="1938" cy="939.7" r="4.55"/><circle cx="1949.7" cy="935.1" r="4.55"/><circle cx="1926.3" cy="939.8" r="4.55"/><circle cx="1948.5" cy="944" r="4.55"/><circle cx="1931.2" cy="939.6" r="4.55"/><circle cx="1937.3" cy="945" r="4.55"/><circle cx="1947.9" cy="948.8" r="4.55"/><circle cx="1929.2" cy="940.6" r="4.55"/><circle cx="1932.6" cy="941" r="4.55"/><circle cx="1946.5" cy="940.8" r="4.55"/><circle cx="1939.7" cy="941.4" r="4.55"/><circle cx="1954.6" cy="940.7" r="4.55"/><circle cx="1921.8" cy="932.8" r="4.55"/><circle cx="1927.9" cy="939.8" r="4.55"/><circle cx="1941.1" cy="943.8" r="4.55"/><circle cx="1944.1" cy="944.5" r="4.55"/><circle cx="1919" cy="936.1" r="4.55"/><circle cx="1920.5" cy="929.9" r="4.55"/><circle cx="1932.6" cy="942.2" r="4.55"/><circle cx="1946.5" cy="938.3" r="4.55"/><circle cx="1933.8" cy="941.7" r="4.55"/><circle cx="1949.9" cy="941.1" r="4.55"/><circle cx="1941.5" cy="942.4" r="4.55"/><circle cx="1932.5" cy="937.1" r="4.55"/><circle cx="1923.1" cy="938.3" r="4.55"/><circle cx="1927.8" cy="944.4" r="4.55"/><circle cx="1951.8" cy="939.8" r="4.55"/><circle cx="1945.3" cy="940.2" r="4.55"/><circle cx="1934.7" cy="938.3" r="4.55"/><circle cx="1922.2" cy="936.7" r="4.55"/><circle cx="1942" cy="946.6" r="4.55"/><circle cx="1917.8" cy="935.7" r="4.55"/><circle cx="1947.7" cy="940.5" r="4.55"/><circle cx="1920.8" cy="929.6" r="4.55"/><circle cx="1946.5" cy="944.1" r="4.55"/><circle cx="1948.1" cy="941.8" r="4.55"/><circle cx="1923.8" cy="938.1" r="4.55"/><circle cx="1934.8" cy="942.9" r="4.55"/><circle cx="1918.8" cy="939.1" r="4.55"/><circle cx="1935.3" cy="942.3" r="4.55"/><circle cx="1940.9" cy="946.3" r="4.55"/><circle cx="1924.2" cy="934.1" r="4.55"/><circle cx="1920" cy="936.1" r="4.55"/><circle cx="1946.4" cy="937.1" r="4.55"/><circle cx="1940.5" cy="939.3" r="4.55"/><circle cx="1929.2" cy="943.2" r="4.55"/><circle cx="1921.1" cy="932.2" r="4.55"/><circle cx="1922.6" cy="937.2" r="4.55"/><circle cx="1916.8" cy="937" r="4.55"/><circle cx="1934.8" cy="940.6" r="4.55"/><circle cx="1948.3" cy="935.2" r="4.55"/><circle cx="1941.6" cy="945.4" r="4.55"/><circle cx="1929.5" cy="942.8" r="4.55"/><circle cx="1944.4" cy="939.5" r="4.55"/><circle cx="1934.7" cy="937.7" r="4.55"/><circle cx="1963.7" cy="878.5" r="4.55"/><circle cx="1969.5" cy="873.4" r="4.55"/><circle cx="1964.2" cy="873.1" r="4.55"/><circle cx="1960.4" cy="878.4" r="4.55"/><circle cx="1960.2" cy="874" r="4.55"/><circle cx="1962.3" cy="876.5" r="4.55"/><circle cx="1962.8" cy="877.1" r="4.55"/><circle cx="1970.4" cy="876.3" r="4.55"/><circle cx="1964.3" cy="874.4" r="4.55"/><circle cx="1959.9" cy="883" r="4.55"/><circle cx="1961.7" cy="872.2" r="4.55"/><circle cx="1961.6" cy="880.3" r="4.55"/><circle cx="1958.4" cy="881.3" r="4.55"/><circle cx="1959.6" cy="881" r="4.55"/><circle cx="1960.8" cy="881" r="4.55"/><circle cx="1972.1" cy="870.1" r="4.55"/><circle cx="1968.4" cy="875.1" r="4.55"/><circle cx="1958.1" cy="880.1" r="4.55"/><circle cx="1965.1" cy="872.2" r="4.55"/><circle cx="1967.7" cy="872.9" r="4.55"/><circle cx="1966.5" cy="877.8" r="4.55"/><circle cx="1963.3" cy="875.3" r="4.55"/><circle cx="1951.6" cy="889.4" r="4.55"/><circle cx="1958.8" cy="887.3" r="4.55"/><circle cx="1963.1" cy="883" r="4.55"/><circle cx="1914.4" cy="908" r="4.55"/><circle cx="1920.1" cy="925.2" r="4.55"/><circle cx="1915.8" cy="939.5" r="4.55"/><circle cx="1842.1" cy="883.1" r="4.55"/><circle cx="1846.5" cy="882.1" r="4.55"/><circle cx="1851.3" cy="886.4" r="4.55"/><circle cx="1847.3" cy="880.1" r="4.55"/><circle cx="1844.3" cy="880.3" r="4.55"/><circle cx="1846.8" cy="881.2" r="4.55"/><circle cx="1851.4" cy="892.6" r="4.55"/><circle cx="1842.6" cy="883" r="4.55"/><circle cx="1851.2" cy="889.5" r="4.55"/><circle cx="1849" cy="883.8" r="4.55"/><circle cx="1846.4" cy="881.8" r="4.55"/><circle cx="1852.4" cy="887.4" r="4.55"/><circle cx="1850.7" cy="895" r="4.55"/><circle cx="1840.5" cy="884.2" r="4.55"/><circle cx="1844.1" cy="881.5" r="4.55"/><circle cx="1841.6" cy="884.5" r="4.55"/><circle cx="1845.4" cy="883" r="4.55"/><circle cx="1852.9" cy="890" r="4.55"/><circle cx="1852.2" cy="888.9" r="4.55"/><circle cx="1851.5" cy="892.7" r="4.55"/><circle cx="1855.6" cy="908.7" r="4.55"/><circle cx="1835.2" cy="929.9" r="4.55"/><circle cx="1840.6" cy="932.4" r="4.55"/><circle cx="1837.4" cy="933" r="4.55"/><circle cx="1836" cy="936.5" r="4.55"/><circle cx="1834.1" cy="924.8" r="4.55"/><circle cx="1833.3" cy="929.2" r="4.55"/><circle cx="1834.1" cy="926.9" r="4.55"/><circle cx="1832.6" cy="936.7" r="4.55"/><circle cx="1836.6" cy="930.3" r="4.55"/><circle cx="1839.2" cy="929.2" r="4.55"/><circle cx="1836.3" cy="925.8" r="4.55"/><circle cx="1829" cy="936.5" r="4.55"/><circle cx="1833.5" cy="937.7" r="4.55"/><circle cx="1835.9" cy="933.1" r="4.55"/><circle cx="1836.4" cy="933.3" r="4.55"/><circle cx="1834.3" cy="936" r="4.55"/><circle cx="1836.3" cy="931.8" r="4.55"/><circle cx="1841.2" cy="934.4" r="4.55"/><circle cx="1836.3" cy="930.4" r="4.55"/><circle cx="1832.8" cy="938.5" r="4.55"/><circle cx="1836.1" cy="929.1" r="4.55"/><circle cx="1832.9" cy="927.9" r="4.55"/><circle cx="1835.9" cy="932.1" r="4.55"/><circle cx="1836.7" cy="931.2" r="4.55"/><circle cx="1836.8" cy="931.7" r="4.55"/><circle cx="1833.9" cy="934.6" r="4.55"/><circle cx="1819.8" cy="943.1" r="4.55"/><circle cx="1830.6" cy="942.4" r="4.55"/><circle cx="1835.6" cy="941" r="4.55"/><circle cx="1863.2" cy="938.3" r="4.55"/><circle cx="1860.9" cy="957.7" r="4.55"/><circle cx="1864.1" cy="946.8" r="4.55"/><circle cx="1859.4" cy="990.3" r="4.55"/><circle cx="1861.4" cy="963.1" r="4.55"/><circle cx="1868.5" cy="930.7" r="4.55"/><circle cx="1855.3" cy="958.9" r="4.55"/><circle cx="1865.6" cy="974.9" r="4.55"/><circle cx="1857" cy="989.1" r="4.55"/><circle cx="1862" cy="946.9" r="4.55"/><circle cx="1860.4" cy="945.1" r="4.55"/><circle cx="1861.5" cy="971.7" r="4.55"/><circle cx="1867.4" cy="974.4" r="4.55"/><circle cx="1866.4" cy="937.5" r="4.55"/><circle cx="1855.9" cy="962.7" r="4.55"/><circle cx="1865.7" cy="932.2" r="4.55"/><circle cx="1862.4" cy="966.6" r="4.55"/><circle cx="1862.2" cy="949.6" r="4.55"/><circle cx="1856.7" cy="984.5" r="4.55"/><circle cx="1870.9" cy="932.3" r="4.55"/><circle cx="1855.4" cy="984.3" r="4.55"/><circle cx="1870.7" cy="930.6" r="4.55"/><circle cx="1859.9" cy="975.8" r="4.55"/><circle cx="1864.1" cy="966" r="4.55"/><circle cx="1865.2" cy="935" r="4.55"/><circle cx="1854.2" cy="988.3" r="4.55"/><circle cx="1865" cy="940.2" r="4.55"/><circle cx="1858.8" cy="967.5" r="4.55"/><circle cx="1869.5" cy="936.3" r="4.55"/><circle cx="1859.9" cy="973" r="4.55"/><circle cx="1866.7" cy="925.1" r="4.55"/><circle cx="1864.1" cy="972.7" r="4.55"/><circle cx="1861.5" cy="978.7" r="4.55"/><circle cx="1857" cy="957.2" r="4.55"/><circle cx="1857.9" cy="954.8" r="4.55"/><circle cx="1866.2" cy="937.3" r="4.55"/><circle cx="1865.2" cy="931.5" r="4.55"/><circle cx="1859.2" cy="947.8" r="4.55"/><circle cx="1859.3" cy="954.8" r="4.55"/><circle cx="1863.5" cy="934.5" r="4.55"/><circle cx="1858.9" cy="968" r="4.55"/><circle cx="1862.1" cy="974.7" r="4.55"/><circle cx="1860.2" cy="965.5" r="4.55"/><circle cx="1861.8" cy="950.5" r="4.55"/><circle cx="1863.7" cy="945.4" r="4.55"/><circle cx="1862.6" cy="938.3" r="4.55"/><circle cx="1861" cy="980" r="4.55"/><circle cx="1860.6" cy="970.2" r="4.55"/><circle cx="1857.1" cy="956.9" r="4.55"/><circle cx="1860.6" cy="975.9" r="4.55"/><circle cx="1870.8" cy="957.1" r="4.55"/><circle cx="1874.6" cy="945" r="4.55"/><circle cx="1870" cy="955.5" r="4.55"/><circle cx="1870.5" cy="958.9" r="4.55"/><circle cx="1873.5" cy="955.7" r="4.55"/><circle cx="1874.8" cy="945.3" r="4.55"/><circle cx="1874.4" cy="949.6" r="4.55"/><circle cx="1877.3" cy="943.3" r="4.55"/><circle cx="1871.3" cy="958.6" r="4.55"/><circle cx="1871.9" cy="944.6" r="4.55"/><circle cx="1872" cy="960.3" r="4.55"/><circle cx="1874.6" cy="956.3" r="4.55"/><circle cx="1870.4" cy="956.3" r="4.55"/><circle cx="1875.8" cy="941.9" r="4.55"/><circle cx="1875.3" cy="952.1" r="4.55"/><circle cx="1873.4" cy="951.9" r="4.55"/><circle cx="1876.2" cy="949.4" r="4.55"/><circle cx="1871.6" cy="942.9" r="4.55"/><circle cx="1873.8" cy="948.5" r="4.55"/><circle cx="1870" cy="960.1" r="4.55"/><circle cx="1878.1" cy="951.1" r="4.55"/><circle cx="1871.9" cy="946.4" r="4.55"/><circle cx="1872.9" cy="953.6" r="4.55"/><circle cx="1871.7" cy="948.2" r="4.55"/><circle cx="1875.1" cy="946.7" r="4.55"/><circle cx="1870.1" cy="959.5" r="4.55"/><circle cx="1872.1" cy="942.5" r="4.55"/><circle cx="1874.4" cy="953.8" r="4.55"/><circle cx="1874.3" cy="972.5" r="4.55"/><circle cx="1855.6" cy="979.6" r="4.55"/><circle cx="1872.8" cy="981.1" r="4.55"/><circle cx="1864.2" cy="988.2" r="4.55"/><circle cx="1865.7" cy="985.4" r="4.55"/><circle cx="1790.6" cy="954.8" r="4.55"/><circle cx="1786.3" cy="956" r="4.55"/><circle cx="1789.5" cy="955" r="4.55"/><circle cx="1787.1" cy="956.7" r="4.55"/><circle cx="1787.6" cy="957" r="4.55"/><circle cx="1787.7" cy="954.6" r="4.55"/><circle cx="1802.3" cy="956.2" r="4.55"/><circle cx="1804.2" cy="954.1" r="4.55"/><circle cx="1803.1" cy="953.6" r="4.55"/><circle cx="1802.3" cy="953.4" r="4.55"/><circle cx="1808.4" cy="954.2" r="4.55"/><circle cx="1799.9" cy="954.4" r="4.55"/><circle cx="1813.9" cy="951.7" r="4.55"/><circle cx="1807.5" cy="951.9" r="4.55"/><circle cx="1812.6" cy="954.8" r="4.55"/><circle cx="1801.5" cy="954.4" r="4.55"/><circle cx="1799.2" cy="971.2" r="4.55"/><circle cx="1801.9" cy="975.2" r="4.55"/><circle cx="1796.7" cy="970" r="4.55"/><circle cx="1804.9" cy="980.6" r="4.55"/><circle cx="1822.5" cy="979.5" r="4.55"/><circle cx="1820.6" cy="985.7" r="4.55"/><circle cx="1820" cy="981.7" r="4.55"/><circle cx="1824" cy="983.4" r="4.55"/><circle cx="1801.1" cy="975.5" r="4.55"/><circle cx="1810" cy="981.2" r="4.55"/><circle cx="1821.7" cy="977.4" r="4.55"/><circle cx="1817" cy="984.9" r="4.55"/><circle cx="1815.2" cy="990.9" r="4.55"/><circle cx="1800.4" cy="974.9" r="4.55"/><circle cx="1807.2" cy="976.4" r="4.55"/><circle cx="1824.7" cy="975.6" r="4.55"/><circle cx="1823.3" cy="978.9" r="4.55"/><circle cx="1800.1" cy="974.1" r="4.55"/><circle cx="1820.4" cy="984.7" r="4.55"/><circle cx="1802" cy="963.8" r="4.55"/><circle cx="1819.2" cy="977.2" r="4.55"/><circle cx="1802.1" cy="967" r="4.55"/><circle cx="1804.3" cy="967.3" r="4.55"/><circle cx="1820.9" cy="980.8" r="4.55"/><circle cx="1800.3" cy="964.7" r="4.55"/><circle cx="1799.3" cy="964" r="4.55"/><circle cx="1803.4" cy="978.6" r="4.55"/><circle cx="1811.7" cy="984.9" r="4.55"/><circle cx="1800.7" cy="974.5" r="4.55"/><circle cx="1800.2" cy="969.8" r="4.55"/><circle cx="1823.9" cy="972.9" r="4.55"/><circle cx="1816.7" cy="978.1" r="4.55"/><circle cx="1818.8" cy="986.6" r="4.55"/><circle cx="1821.5" cy="987.6" r="4.55"/><circle cx="1800.9" cy="964.7" r="4.55"/><circle cx="1819.2" cy="980.1" r="4.55"/><circle cx="1806.5" cy="980.4" r="4.55"/><circle cx="1799" cy="973.7" r="4.55"/><circle cx="1803.9" cy="975.5" r="4.55"/><circle cx="1813.8" cy="980.3" r="4.55"/><circle cx="1818.2" cy="988.6" r="4.55"/><circle cx="1815.1" cy="984.6" r="4.55"/><circle cx="1807.3" cy="974.9" r="4.55"/><circle cx="1799.4" cy="971.7" r="4.55"/><circle cx="1801.2" cy="971.6" r="4.55"/><circle cx="1826.3" cy="977" r="4.55"/><circle cx="1800.8" cy="969.6" r="4.55"/><circle cx="1817.8" cy="982.2" r="4.55"/><circle cx="1822.8" cy="984.7" r="4.55"/><circle cx="1822.9" cy="979.9" r="4.55"/><circle cx="1805.9" cy="979.9" r="4.55"/><circle cx="1818.5" cy="977.6" r="4.55"/><circle cx="1820" cy="977.8" r="4.55"/><circle cx="1816" cy="981" r="4.55"/><circle cx="1797.1" cy="968.3" r="4.55"/><circle cx="1817.1" cy="988" r="4.55"/><circle cx="1805" cy="981.6" r="4.55"/><circle cx="1815.5" cy="990" r="4.55"/><circle cx="1797" cy="966.6" r="4.55"/><circle cx="1808.7" cy="978.1" r="4.55"/><circle cx="1806.9" cy="988.2" r="4.55"/><circle cx="1818.4" cy="995.4" r="4.55"/><circle cx="1792.6" cy="966.7" r="4.55"/><circle cx="1840" cy="1000.4" r="4.55"/><circle cx="1842.5" cy="1002.1" r="4.55"/><circle cx="1830.1" cy="1003.3" r="4.55"/><circle cx="1837.9" cy="996.8" r="4.55"/><circle cx="1842" cy="1007" r="4.55"/><circle cx="1840.7" cy="1004.3" r="4.55"/><circle cx="1837.4" cy="1002.3" r="4.55"/><circle cx="1835.3" cy="1005.3" r="4.55"/><circle cx="1842.9" cy="1001.3" r="4.55"/><circle cx="1833.6" cy="994.4" r="4.55"/><circle cx="1840.3" cy="993.6" r="4.55"/><circle cx="1840.9" cy="995.7" r="4.55"/><circle cx="1828.9" cy="1003.8" r="4.55"/><circle cx="1840.3" cy="1003" r="4.55"/><circle cx="1830.4" cy="1003.3" r="4.55"/><circle cx="1844.3" cy="1010.2" r="4.55"/><circle cx="1842.6" cy="999.4" r="4.55"/><circle cx="1839.2" cy="1003.5" r="4.55"/><circle cx="1842.3" cy="997.8" r="4.55"/><circle cx="1838.6" cy="999.5" r="4.55"/><circle cx="1842.8" cy="1001" r="4.55"/><circle cx="1834.6" cy="995.1" r="4.55"/><circle cx="1844.9" cy="1001.9" r="4.55"/><circle cx="1843.4" cy="1001.2" r="4.55"/><circle cx="1826.3" cy="1021.6" r="4.55"/><circle cx="1826" cy="1021.7" r="4.55"/><circle cx="1826.4" cy="1021.9" r="4.55"/><circle cx="1819.1" cy="1019.7" r="4.55"/><circle cx="1824.7" cy="1024.1" r="4.55"/><circle cx="1825.4" cy="1022.9" r="4.55"/><circle cx="1826.1" cy="1019.7" r="4.55"/><circle cx="1828.2" cy="1021.8" r="4.55"/><circle cx="1826.6" cy="1022.3" r="4.55"/><circle cx="1677.3" cy="928.8" r="4.55"/><circle cx="1693.1" cy="925.2" r="4.55"/><circle cx="1698.8" cy="927.4" r="4.55"/><circle cx="1681.6" cy="943.1" r="4.55"/><circle cx="1676.6" cy="947.4" r="4.55"/><circle cx="1670.9" cy="962.4" r="4.55"/><circle cx="1662.3" cy="967.5" r="4.55"/><circle cx="1650.8" cy="969.6" r="4.55"/><circle cx="1652.9" cy="979.6" r="4.55"/><circle cx="1653.7" cy="983.2" r="4.55"/></g>
<g fill="#38ba7a" fill-opacity="0.5" stroke="#000" stroke-opacity="0.55" stroke-width="1.35"><circle cx="1752.7" cy="920" r="4.55"/><circle cx="1736" cy="926.6" r="4.55"/><circle cx="1736.7" cy="922.9" r="4.55"/><circle cx="1735.7" cy="926.7" r="4.55"/><circle cx="1749.5" cy="922.2" r="4.55"/><circle cx="1738.1" cy="930.3" r="4.55"/><circle cx="1730" cy="920.9" r="4.55"/><circle cx="1745.2" cy="927" r="4.55"/><circle cx="1749.5" cy="917" r="4.55"/><circle cx="1750.7" cy="917.5" r="4.55"/><circle cx="1740.5" cy="929.7" r="4.55"/><circle cx="1750.5" cy="921.9" r="4.55"/><circle cx="1738.1" cy="914.8" r="4.55"/><circle cx="1746.6" cy="914.3" r="4.55"/><circle cx="1750.3" cy="926.3" r="4.55"/><circle cx="1751.5" cy="923.9" r="4.55"/><circle cx="1728.9" cy="926.8" r="4.55"/><circle cx="1739.5" cy="927.3" r="4.55"/><circle cx="1737.5" cy="930.6" r="4.55"/><circle cx="1751.4" cy="919.2" r="4.55"/><circle cx="1727.2" cy="929.3" r="4.55"/><circle cx="1738.4" cy="918.2" r="4.55"/><circle cx="1737.5" cy="915.5" r="4.55"/><circle cx="1728.5" cy="930.3" r="4.55"/><circle cx="1744.4" cy="931.6" r="4.55"/><circle cx="1748.8" cy="925.2" r="4.55"/><circle cx="1751.8" cy="915.5" r="4.55"/><circle cx="1747.8" cy="921.6" r="4.55"/><circle cx="1746.1" cy="927" r="4.55"/><circle cx="1727.8" cy="928" r="4.55"/><circle cx="1738.8" cy="928.7" r="4.55"/><circle cx="1740.1" cy="933.2" r="4.55"/><circle cx="1735.3" cy="926.8" r="4.55"/><circle cx="1735" cy="928.7" r="4.55"/><circle cx="1747.6" cy="915.2" r="4.55"/><circle cx="1747.9" cy="918.6" r="4.55"/><circle cx="1726.3" cy="926.4" r="4.55"/><circle cx="1736.4" cy="924.9" r="4.55"/><circle cx="1749.5" cy="923.8" r="4.55"/><circle cx="1751.3" cy="922.5" r="4.55"/><circle cx="1731" cy="929.7" r="4.55"/><circle cx="1747" cy="922.2" r="4.55"/><circle cx="1746.2" cy="921.3" r="4.55"/><circle cx="1751.1" cy="917.1" r="4.55"/><circle cx="1750.9" cy="917.5" r="4.55"/><circle cx="1748.3" cy="959.8" r="4.55"/><circle cx="1750.2" cy="955.7" r="4.55"/><circle cx="1759.3" cy="954.6" r="4.55"/><circle cx="1756.1" cy="937.5" r="4.55"/><circle cx="1745" cy="950.2" r="4.55"/><circle cx="1741.8" cy="937.7" r="4.55"/><circle cx="1757.1" cy="949.5" r="4.55"/><circle cx="1744.4" cy="954.5" r="4.55"/><circle cx="1747" cy="959.4" r="4.55"/><circle cx="1745.2" cy="939.1" r="4.55"/><circle cx="1743.3" cy="958" r="4.55"/><circle cx="1743.2" cy="942.4" r="4.55"/><circle cx="1754.1" cy="960.7" r="4.55"/><circle cx="1747" cy="932.3" r="4.55"/><circle cx="1746.1" cy="938.9" r="4.55"/><circle cx="1756.2" cy="950.7" r="4.55"/><circle cx="1742.1" cy="956.1" r="4.55"/><circle cx="1737.3" cy="959" r="4.55"/><circle cx="1750.7" cy="961.7" r="4.55"/><circle cx="1745.3" cy="936.4" r="4.55"/><circle cx="1756.6" cy="951.5" r="4.55"/><circle cx="1751.3" cy="960.9" r="4.55"/><circle cx="1746.4" cy="956.3" r="4.55"/><circle cx="1748.8" cy="959.3" r="4.55"/><circle cx="1741.3" cy="937.7" r="4.55"/><circle cx="1747.3" cy="940" r="4.55"/><circle cx="1758.9" cy="954.4" r="4.55"/><circle cx="1759.7" cy="952.9" r="4.55"/><circle cx="1749.5" cy="940.1" r="4.55"/><circle cx="1742.5" cy="958.1" r="4.55"/><circle cx="1747.8" cy="931.2" r="4.55"/><circle cx="1749" cy="927.8" r="4.55"/><circle cx="1744.3" cy="951.6" r="4.55"/><circle cx="1749.5" cy="962.6" r="4.55"/><circle cx="1742" cy="958.2" r="4.55"/><circle cx="1745.9" cy="957.7" r="4.55"/><circle cx="1751.6" cy="960.6" r="4.55"/><circle cx="1749.6" cy="957.4" r="4.55"/><circle cx="1755.6" cy="956.3" r="4.55"/><circle cx="1746.5" cy="960.6" r="4.55"/><circle cx="1754.8" cy="949" r="4.55"/><circle cx="1744" cy="935.7" r="4.55"/><circle cx="1742.1" cy="953.4" r="4.55"/><circle cx="1753.5" cy="950.5" r="4.55"/><circle cx="1750.2" cy="955.4" r="4.55"/><circle cx="1713" cy="949.1" r="4.55"/><circle cx="1720.9" cy="952.5" r="4.55"/><circle cx="1704.7" cy="952.2" r="4.55"/><circle cx="1711.4" cy="955.3" r="4.55"/><circle cx="1700.7" cy="942.3" r="4.55"/><circle cx="1708.9" cy="942.3" r="4.55"/><circle cx="1711.6" cy="955.3" r="4.55"/><circle cx="1713.3" cy="946" r="4.55"/><circle cx="1712.8" cy="953.3" r="4.55"/><circle cx="1714.5" cy="939.4" r="4.55"/><circle cx="1718.6" cy="950.8" r="4.55"/><circle cx="1709.2" cy="939.6" r="4.55"/><circle cx="1701.1" cy="952.2" r="4.55"/><circle cx="1718.6" cy="946.5" r="4.55"/><circle cx="1713.5" cy="952.2" r="4.55"/><circle cx="1709.4" cy="940.7" r="4.55"/><circle cx="1721.2" cy="953.5" r="4.55"/><circle cx="1710" cy="950.9" r="4.55"/><circle cx="1700" cy="939.8" r="4.55"/><circle cx="1712.1" cy="956" r="4.55"/><circle cx="1710.1" cy="940.7" r="4.55"/><circle cx="1712.8" cy="947.7" r="4.55"/><circle cx="1715.6" cy="935.8" r="4.55"/><circle cx="1712.2" cy="944" r="4.55"/><circle cx="1707.3" cy="941.8" r="4.55"/><circle cx="1721" cy="950.5" r="4.55"/><circle cx="1712.4" cy="950.3" r="4.55"/><circle cx="1701.2" cy="945.2" r="4.55"/><circle cx="1721.3" cy="953.8" r="4.55"/><circle cx="1701.4" cy="953.7" r="4.55"/><circle cx="1690.3" cy="956" r="4.55"/><circle cx="1691" cy="956.8" r="4.55"/><circle cx="1693.8" cy="955.6" r="4.55"/><circle cx="1688.7" cy="961.6" r="4.55"/><circle cx="1698" cy="956.1" r="4.55"/><circle cx="1690.9" cy="957.9" r="4.55"/><circle cx="1691.3" cy="953.9" r="4.55"/><circle cx="1691.1" cy="958.6" r="4.55"/><circle cx="1689.2" cy="955.8" r="4.55"/><circle cx="1692.4" cy="955.6" r="4.55"/><circle cx="1709.6" cy="964" r="4.55"/><circle cx="1719.6" cy="978.4" r="4.55"/><circle cx="1722.5" cy="985.2" r="4.55"/><circle cx="1731" cy="986.7" r="4.55"/><circle cx="1716" cy="987.7" r="4.55"/><circle cx="1716.5" cy="974.2" r="4.55"/><circle cx="1715.4" cy="974.2" r="4.55"/><circle cx="1705" cy="968.4" r="4.55"/><circle cx="1737.9" cy="977.6" r="4.55"/><circle cx="1736.1" cy="981.5" r="4.55"/><circle cx="1735" cy="984.1" r="4.55"/><circle cx="1711.5" cy="984.3" r="4.55"/><circle cx="1714.8" cy="968.1" r="4.55"/><circle cx="1726.9" cy="980.7" r="4.55"/><circle cx="1711.1" cy="987.7" r="4.55"/><circle cx="1737.4" cy="966.2" r="4.55"/><circle cx="1731.9" cy="983.6" r="4.55"/><circle cx="1727.5" cy="972.6" r="4.55"/><circle cx="1714.2" cy="975.7" r="4.55"/><circle cx="1735" cy="982.7" r="4.55"/><circle cx="1730.5" cy="984" r="4.55"/><circle cx="1729.3" cy="973.1" r="4.55"/><circle cx="1714.7" cy="977.2" r="4.55"/><circle cx="1719.3" cy="985.6" r="4.55"/><circle cx="1722.4" cy="972.5" r="4.55"/><circle cx="1710.2" cy="964.5" r="4.55"/><circle cx="1715.2" cy="979.6" r="4.55"/><circle cx="1722.5" cy="983.8" r="4.55"/><circle cx="1740.4" cy="977.6" r="4.55"/><circle cx="1733" cy="982.4" r="4.55"/><circle cx="1733.8" cy="988.3" r="4.55"/><circle cx="1705.2" cy="972.6" r="4.55"/><circle cx="1731.7" cy="982.8" r="4.55"/><circle cx="1707" cy="969.4" r="4.55"/><circle cx="1734.2" cy="987.6" r="4.55"/><circle cx="1717.4" cy="972.2" r="4.55"/><circle cx="1709.8" cy="986.9" r="4.55"/><circle cx="1737.3" cy="983.2" r="4.55"/><circle cx="1731" cy="981.5" r="4.55"/><circle cx="1715.7" cy="984.1" r="4.55"/><circle cx="1717.2" cy="983.8" r="4.55"/><circle cx="1715.9" cy="975.8" r="4.55"/><circle cx="1734.8" cy="983.2" r="4.55"/><circle cx="1710.3" cy="961.4" r="4.55"/><circle cx="1735.3" cy="965.9" r="4.55"/><circle cx="1722.6" cy="981.8" r="4.55"/><circle cx="1715.9" cy="973.6" r="4.55"/><circle cx="1711.7" cy="983.3" r="4.55"/><circle cx="1707.7" cy="982.1" r="4.55"/><circle cx="1735.5" cy="962.7" r="4.55"/><circle cx="1715.8" cy="991.4" r="4.55"/><circle cx="1739.4" cy="979.3" r="4.55"/><circle cx="1715.4" cy="977.8" r="4.55"/><circle cx="1731.6" cy="979.3" r="4.55"/><circle cx="1736" cy="978.3" r="4.55"/><circle cx="1776" cy="988.9" r="4.55"/><circle cx="1775.9" cy="994.5" r="4.55"/><circle cx="1779.4" cy="997.5" r="4.55"/><circle cx="1773.1" cy="987.2" r="4.55"/><circle cx="1774.4" cy="999" r="4.55"/><circle cx="1778.2" cy="989.6" r="4.55"/><circle cx="1779.3" cy="993.9" r="4.55"/><circle cx="1778.7" cy="1001.8" r="4.55"/><circle cx="1776.7" cy="995.3" r="4.55"/><circle cx="1773.3" cy="979.9" r="4.55"/><circle cx="1773.7" cy="989.6" r="4.55"/><circle cx="1773.9" cy="982" r="4.55"/><circle cx="1764.3" cy="971.5" r="4.55"/><circle cx="1771.2" cy="979.1" r="4.55"/><circle cx="1767" cy="979.7" r="4.55"/><circle cx="1777.9" cy="998.9" r="4.55"/><circle cx="1769.5" cy="973.9" r="4.55"/><circle cx="1768.8" cy="980.9" r="4.55"/><circle cx="1771.7" cy="975.9" r="4.55"/><circle cx="1769.3" cy="980.6" r="4.55"/><circle cx="1778.2" cy="1001.5" r="4.55"/><circle cx="1775.3" cy="998" r="4.55"/><circle cx="1774.3" cy="996.5" r="4.55"/><circle cx="1758.9" cy="968.7" r="4.55"/><circle cx="1767.8" cy="975.7" r="4.55"/><circle cx="1777" cy="993.2" r="4.55"/><circle cx="1776.6" cy="992.4" r="4.55"/><circle cx="1763.1" cy="972.4" r="4.55"/><circle cx="1771.9" cy="980.5" r="4.55"/><circle cx="1769.4" cy="974.6" r="4.55"/><circle cx="1777.5" cy="992.8" r="4.55"/><circle cx="1781" cy="996.3" r="4.55"/><circle cx="1728.1" cy="995.8" r="4.55"/><circle cx="1741.2" cy="1001.3" r="4.55"/><circle cx="1763.8" cy="1008.4" r="4.55"/><circle cx="1728.9" cy="1007.7" r="4.55"/><circle cx="1753.2" cy="1007.9" r="4.55"/><circle cx="1709.1" cy="1004.1" r="4.55"/><circle cx="1701" cy="1003.2" r="4.55"/><circle cx="1740.5" cy="1001.9" r="4.55"/><circle cx="1745.1" cy="1006.9" r="4.55"/><circle cx="1701.4" cy="1001.7" r="4.55"/><circle cx="1755.1" cy="1010.8" r="4.55"/><circle cx="1766.5" cy="1001.4" r="4.55"/><circle cx="1739.2" cy="1009.9" r="4.55"/><circle cx="1770.5" cy="1003.6" r="4.55"/><circle cx="1714.2" cy="1006.1" r="4.55"/><circle cx="1748.1" cy="1001.3" r="4.55"/><circle cx="1707.4" cy="1002.5" r="4.55"/><circle cx="1713.7" cy="1009.6" r="4.55"/><circle cx="1721.4" cy="1010.4" r="4.55"/><circle cx="1703.1" cy="1002.4" r="4.55"/><circle cx="1729.5" cy="1001.8" r="4.55"/><circle cx="1754.5" cy="1012" r="4.55"/><circle cx="1743.3" cy="1004.6" r="4.55"/><circle cx="1706.9" cy="999.4" r="4.55"/><circle cx="1720.7" cy="1012.7" r="4.55"/><circle cx="1768" cy="1001" r="4.55"/><circle cx="1703.5" cy="1000" r="4.55"/><circle cx="1702" cy="1004.8" r="4.55"/><circle cx="1727.9" cy="1005.7" r="4.55"/><circle cx="1750.4" cy="1014.9" r="4.55"/><circle cx="1749.3" cy="1010.4" r="4.55"/><circle cx="1698.7" cy="1003.8" r="4.55"/><circle cx="1732.2" cy="1006" r="4.55"/><circle cx="1743.5" cy="1004.6" r="4.55"/><circle cx="1745.6" cy="997.4" r="4.55"/><circle cx="1770.5" cy="1001.7" r="4.55"/><circle cx="1766" cy="999" r="4.55"/><circle cx="1702.1" cy="1000.8" r="4.55"/><circle cx="1714.3" cy="1005.5" r="4.55"/><circle cx="1720.3" cy="1013.5" r="4.55"/><circle cx="1766.3" cy="1003.1" r="4.55"/><circle cx="1764.5" cy="1007.7" r="4.55"/><circle cx="1702" cy="1000.2" r="4.55"/><circle cx="1730.2" cy="1007.1" r="4.55"/><circle cx="1712.4" cy="1003.4" r="4.55"/><circle cx="1729.3" cy="1005.4" r="4.55"/><circle cx="1752.8" cy="1012.5" r="4.55"/><circle cx="1754.2" cy="1012.1" r="4.55"/><circle cx="1750.4" cy="1007.3" r="4.55"/><circle cx="1702.8" cy="1003.4" r="4.55"/><circle cx="1764.6" cy="1008" r="4.55"/><circle cx="1730.2" cy="993" r="4.55"/><circle cx="1719.9" cy="1011.1" r="4.55"/><circle cx="1745.9" cy="1003.3" r="4.55"/><circle cx="1755.3" cy="1010.8" r="4.55"/><circle cx="1701.8" cy="1019.6" r="4.55"/><circle cx="1726.8" cy="1016.1" r="4.55"/><circle cx="1720.8" cy="1014.8" r="4.55"/><circle cx="1724" cy="1016.2" r="4.55"/><circle cx="1713.5" cy="1017.5" r="4.55"/><circle cx="1722.6" cy="1014.9" r="4.55"/><circle cx="1702.2" cy="1016.3" r="4.55"/><circle cx="1713.3" cy="1019.1" r="4.55"/><circle cx="1726" cy="1018.2" r="4.55"/><circle cx="1717.8" cy="1016.8" r="4.55"/><circle cx="1723.7" cy="1015.2" r="4.55"/><circle cx="1702.9" cy="1017.8" r="4.55"/><circle cx="1697.8" cy="1020.6" r="4.55"/><circle cx="1723.9" cy="1017" r="4.55"/><circle cx="1750.2" cy="1021.1" r="4.55"/><circle cx="1764" cy="1026.2" r="4.55"/><circle cx="1762.5" cy="1030.2" r="4.55"/><circle cx="1753" cy="1019.8" r="4.55"/><circle cx="1753.4" cy="1029.4" r="4.55"/><circle cx="1757.4" cy="1032" r="4.55"/><circle cx="1762.8" cy="1032.5" r="4.55"/><circle cx="1752.8" cy="1029.3" r="4.55"/><circle cx="1766.8" cy="1026.7" r="4.55"/><circle cx="1748.8" cy="1024" r="4.55"/><circle cx="1762" cy="1027.1" r="4.55"/><circle cx="1748.4" cy="1023.6" r="4.55"/><circle cx="1753.7" cy="1024.6" r="4.55"/><circle cx="1752.3" cy="1015.4" r="4.55"/><circle cx="1761.5" cy="1028.7" r="4.55"/><circle cx="1756.1" cy="1032.2" r="4.55"/><circle cx="1767.2" cy="1006.6" r="4.55"/><circle cx="1761.3" cy="1011.8" r="4.55"/><circle cx="1772.8" cy="1013.7" r="4.55"/><circle cx="1768.9" cy="1014.2" r="4.55"/><circle cx="1769.9" cy="1007.7" r="4.55"/><circle cx="1774" cy="1008.1" r="4.55"/><circle cx="1761.5" cy="1010.2" r="4.55"/><circle cx="1772.7" cy="1007.9" r="4.55"/><circle cx="1769.7" cy="1006.8" r="4.55"/><circle cx="1757.3" cy="1014.1" r="4.55"/><circle cx="1769.7" cy="1009.9" r="4.55"/><circle cx="1759.3" cy="1011" r="4.55"/><circle cx="1772.5" cy="1014.4" r="4.55"/><circle cx="1760.4" cy="1009.5" r="4.55"/><circle cx="1608.1" cy="1086.8" r="4.55"/><circle cx="1603" cy="1093.2" r="4.55"/><circle cx="1601.6" cy="1093" r="4.55"/><circle cx="1597.8" cy="1088.6" r="4.55"/><circle cx="1606.8" cy="1089.7" r="4.55"/><circle cx="1613.7" cy="1085.5" r="4.55"/><circle cx="1615.2" cy="1082.2" r="4.55"/><circle cx="1608.5" cy="1093.2" r="4.55"/><circle cx="1604.2" cy="1091.5" r="4.55"/><circle cx="1617.1" cy="1085.7" r="4.55"/><circle cx="1607.7" cy="1091.1" r="4.55"/><circle cx="1600.6" cy="1093" r="4.55"/><circle cx="1617.9" cy="1086.6" r="4.55"/><circle cx="1615.5" cy="1082.5" r="4.55"/><circle cx="1597.4" cy="1085.6" r="4.55"/><circle cx="1612.6" cy="1087" r="4.55"/><circle cx="1602.3" cy="1093.4" r="4.55"/><circle cx="1616.2" cy="1085.6" r="4.55"/><circle cx="1612.1" cy="1088.1" r="4.55"/><circle cx="1605.1" cy="1093.5" r="4.55"/><circle cx="1599.4" cy="1088.6" r="4.55"/><circle cx="1612.9" cy="1086.3" r="4.55"/><circle cx="1621.3" cy="1081.7" r="4.55"/><circle cx="1605.4" cy="1094" r="4.55"/><circle cx="1605.6" cy="1086.2" r="4.55"/><circle cx="1599.5" cy="1091.6" r="4.55"/><circle cx="1610.2" cy="1096.2" r="4.55"/><circle cx="1597.3" cy="1085.9" r="4.55"/><circle cx="1601.7" cy="1104.5" r="4.55"/><circle cx="1613" cy="1119.6" r="4.55"/><circle cx="1617.4" cy="1104.3" r="4.55"/><circle cx="1642.5" cy="1104.7" r="4.55"/><circle cx="1621" cy="1118.7" r="4.55"/><circle cx="1626.9" cy="1141.4" r="4.55"/><circle cx="1608.1" cy="1101.7" r="4.55"/><circle cx="1634.7" cy="1112.5" r="4.55"/><circle cx="1635.7" cy="1119.5" r="4.55"/><circle cx="1606.9" cy="1129.6" r="4.55"/><circle cx="1649.8" cy="1113.2" r="4.55"/><circle cx="1647.1" cy="1125.7" r="4.55"/><circle cx="1604" cy="1110.4" r="4.55"/><circle cx="1640.7" cy="1123.7" r="4.55"/><circle cx="1603.4" cy="1121.8" r="4.55"/><circle cx="1624.5" cy="1094.3" r="4.55"/><circle cx="1645" cy="1133.3" r="4.55"/><circle cx="1612.2" cy="1117.7" r="4.55"/><circle cx="1612.9" cy="1137.6" r="4.55"/><circle cx="1642.6" cy="1114.5" r="4.55"/><circle cx="1635.7" cy="1108.5" r="4.55"/><circle cx="1630.4" cy="1120.8" r="4.55"/><circle cx="1642.7" cy="1130.1" r="4.55"/><circle cx="1606.6" cy="1106.9" r="4.55"/><circle cx="1598.1" cy="1114.1" r="4.55"/><circle cx="1610.2" cy="1101.1" r="4.55"/><circle cx="1601.2" cy="1124.9" r="4.55"/><circle cx="1601.1" cy="1111.7" r="4.55"/><circle cx="1627.9" cy="1130.4" r="4.55"/><circle cx="1633.5" cy="1103.8" r="4.55"/><circle cx="1619.5" cy="1108.1" r="4.55"/><circle cx="1611.3" cy="1100" r="4.55"/><circle cx="1601.3" cy="1102.9" r="4.55"/><circle cx="1614.5" cy="1118.5" r="4.55"/><circle cx="1642.9" cy="1130.6" r="4.55"/><circle cx="1633.2" cy="1110.9" r="4.55"/><circle cx="1646.9" cy="1133.1" r="4.55"/><circle cx="1617.4" cy="1132" r="4.55"/><circle cx="1607.3" cy="1120" r="4.55"/><circle cx="1611.8" cy="1136.3" r="4.55"/><circle cx="1633.9" cy="1124.8" r="4.55"/><circle cx="1620.4" cy="1114.6" r="4.55"/><circle cx="1628.5" cy="1141.5" r="4.55"/><circle cx="1640.6" cy="1117.8" r="4.55"/><circle cx="1598.3" cy="1108.3" r="4.55"/><circle cx="1623.6" cy="1107.7" r="4.55"/><circle cx="1644.7" cy="1130.2" r="4.55"/><circle cx="1626.8" cy="1120.8" r="4.55"/><circle cx="1611.1" cy="1100.2" r="4.55"/><circle cx="1631.8" cy="1114.5" r="4.55"/><circle cx="1645" cy="1109.9" r="4.55"/><circle cx="1627.8" cy="1131.6" r="4.55"/><circle cx="1642.9" cy="1114.1" r="4.55"/><circle cx="1600.2" cy="1115.6" r="4.55"/><circle cx="1618.9" cy="1112.3" r="4.55"/><circle cx="1615.8" cy="1129.7" r="4.55"/><circle cx="1609.1" cy="1104" r="4.55"/><circle cx="1601.3" cy="1104.8" r="4.55"/><circle cx="1601.3" cy="1121.2" r="4.55"/><circle cx="1634.6" cy="1120.8" r="4.55"/><circle cx="1627.8" cy="1091.6" r="4.55"/><circle cx="1643.3" cy="1131.2" r="4.55"/><circle cx="1633.7" cy="1109.5" r="4.55"/><circle cx="1615" cy="1117.3" r="4.55"/><circle cx="1650" cy="1113.9" r="4.55"/><circle cx="1623" cy="1140.1" r="4.55"/><circle cx="1603.9" cy="1123.7" r="4.55"/><circle cx="1632.8" cy="1114.2" r="4.55"/><circle cx="1641.5" cy="1127.7" r="4.55"/><circle cx="1601.2" cy="1102.1" r="4.55"/><circle cx="1636.2" cy="1112.4" r="4.55"/><circle cx="1626.8" cy="1129.4" r="4.55"/><circle cx="1626.3" cy="1123.2" r="4.55"/><circle cx="1630.4" cy="1121.3" r="4.55"/><circle cx="1600.6" cy="1105.7" r="4.55"/><circle cx="1615.2" cy="1135.6" r="4.55"/><circle cx="1618" cy="1132.8" r="4.55"/><circle cx="1620.3" cy="1116.8" r="4.55"/><circle cx="1620.7" cy="1115.8" r="4.55"/><circle cx="1620.2" cy="1119.8" r="4.55"/><circle cx="1634.1" cy="1109.1" r="4.55"/><circle cx="1600.6" cy="1101.1" r="4.55"/><circle cx="1626.9" cy="1116.1" r="4.55"/><circle cx="1644.2" cy="1135.6" r="4.55"/><circle cx="1601.7" cy="1114.7" r="4.55"/><circle cx="1609.8" cy="1099.7" r="4.55"/><circle cx="1636" cy="1108" r="4.55"/><circle cx="1604.7" cy="1122.8" r="4.55"/><circle cx="1641.8" cy="1128.4" r="4.55"/><circle cx="1602.3" cy="1103.8" r="4.55"/><circle cx="1628.8" cy="1144.4" r="4.55"/><circle cx="1616.7" cy="1133.8" r="4.55"/><circle cx="1618" cy="1105.2" r="4.55"/><circle cx="1639.9" cy="1107" r="4.55"/><circle cx="1646.1" cy="1132.7" r="4.55"/><circle cx="1617.6" cy="1138" r="4.55"/><circle cx="1637.8" cy="1118.7" r="4.55"/><circle cx="1642.7" cy="1129.3" r="4.55"/><circle cx="1626.8" cy="1123.1" r="4.55"/><circle cx="1612" cy="1114.4" r="4.55"/><circle cx="1649.2" cy="1115.5" r="4.55"/><circle cx="1614.5" cy="1100.8" r="4.55"/><circle cx="1603.8" cy="1117.1" r="4.55"/><circle cx="1622.8" cy="1092.2" r="4.55"/><circle cx="1605.1" cy="1105.6" r="4.55"/><circle cx="1606.6" cy="1107.5" r="4.55"/><circle cx="1626.7" cy="1130.4" r="4.55"/><circle cx="1632.9" cy="1109.9" r="4.55"/><circle cx="1629.3" cy="1113.1" r="4.55"/><circle cx="1602.7" cy="1122.2" r="4.55"/><circle cx="1606.1" cy="1111.4" r="4.55"/><circle cx="1619.6" cy="1110.3" r="4.55"/><circle cx="1644.1" cy="1105.4" r="4.55"/><circle cx="1627.5" cy="1124.1" r="4.55"/><circle cx="1602.5" cy="1117.8" r="4.55"/><circle cx="1617.3" cy="1119.5" r="4.55"/><circle cx="1602.4" cy="1101.6" r="4.55"/><circle cx="1624.2" cy="1141.8" r="4.55"/><circle cx="1633.8" cy="1102.6" r="4.55"/><circle cx="1627.1" cy="1129.6" r="4.55"/><circle cx="1611" cy="1115.8" r="4.55"/><circle cx="1633.9" cy="1109.9" r="4.55"/><circle cx="1645.1" cy="1133.6" r="4.55"/><circle cx="1622.4" cy="1109.8" r="4.55"/><circle cx="1616.5" cy="1115.3" r="4.55"/><circle cx="1640.5" cy="1127.3" r="4.55"/><circle cx="1625.8" cy="1139.3" r="4.55"/><circle cx="1603.1" cy="1132.9" r="4.55"/><circle cx="1635.4" cy="1103.8" r="4.55"/><circle cx="1604.6" cy="1104" r="4.55"/><circle cx="1625.2" cy="1155.3" r="4.55"/><circle cx="1606.3" cy="1142.4" r="4.55"/><circle cx="1616.5" cy="1144.5" r="4.55"/><circle cx="1619.1" cy="1152.4" r="4.55"/><circle cx="1602.4" cy="1168.7" r="4.55"/><circle cx="1612.1" cy="1163" r="4.55"/><circle cx="1613.6" cy="1154.5" r="4.55"/><circle cx="1603.4" cy="1159.2" r="4.55"/><circle cx="1621.3" cy="1158.7" r="4.55"/><circle cx="1616" cy="1145.5" r="4.55"/><circle cx="1600.5" cy="1140.8" r="4.55"/><circle cx="1616.2" cy="1149.4" r="4.55"/><circle cx="1599.9" cy="1155.2" r="4.55"/><circle cx="1610.9" cy="1144.5" r="4.55"/><circle cx="1618.9" cy="1152.4" r="4.55"/><circle cx="1625.6" cy="1156.8" r="4.55"/><circle cx="1601.3" cy="1157.6" r="4.55"/><circle cx="1593.2" cy="1147.8" r="4.55"/><circle cx="1609.8" cy="1168.9" r="4.55"/><circle cx="1618.9" cy="1166.8" r="4.55"/><circle cx="1594.4" cy="1144.2" r="4.55"/><circle cx="1595.3" cy="1150.3" r="4.55"/><circle cx="1607.7" cy="1164.5" r="4.55"/><circle cx="1606.3" cy="1166.6" r="4.55"/><circle cx="1619.5" cy="1147.9" r="4.55"/><circle cx="1621.8" cy="1166.8" r="4.55"/><circle cx="1608.8" cy="1144.1" r="4.55"/><circle cx="1601.3" cy="1157.1" r="4.55"/><circle cx="1610.9" cy="1149.4" r="4.55"/><circle cx="1608.2" cy="1169.1" r="4.55"/><circle cx="1611.1" cy="1166.6" r="4.55"/><circle cx="1608.3" cy="1147.2" r="4.55"/><circle cx="1603.9" cy="1137.4" r="4.55"/><circle cx="1602.9" cy="1155.9" r="4.55"/><circle cx="1626.3" cy="1150.7" r="4.55"/><circle cx="1625.8" cy="1160.9" r="4.55"/><circle cx="1616.4" cy="1167.2" r="4.55"/><circle cx="1618.7" cy="1160.1" r="4.55"/><circle cx="1620.1" cy="1163.6" r="4.55"/><circle cx="1601.6" cy="1136.1" r="4.55"/><circle cx="1606.5" cy="1144.5" r="4.55"/><circle cx="1611.2" cy="1162.9" r="4.55"/><circle cx="1596.9" cy="1156.5" r="4.55"/><circle cx="1600" cy="1157" r="4.55"/><circle cx="1599.8" cy="1155.7" r="4.55"/><circle cx="1602.7" cy="1160.4" r="4.55"/><circle cx="1617.2" cy="1150.5" r="4.55"/><circle cx="1594.5" cy="1143.9" r="4.55"/><circle cx="1608.9" cy="1170.1" r="4.55"/><circle cx="1614.1" cy="1149.9" r="4.55"/><circle cx="1619.9" cy="1152.3" r="4.55"/><circle cx="1608.6" cy="1143.9" r="4.55"/><circle cx="1622.7" cy="1157.6" r="4.55"/><circle cx="1604.3" cy="1168.5" r="4.55"/><circle cx="1607.5" cy="1167.8" r="4.55"/><circle cx="1611.8" cy="1143.7" r="4.55"/><circle cx="1605.5" cy="1139.3" r="4.55"/><circle cx="1607.1" cy="1142" r="4.55"/><circle cx="1611.1" cy="1168" r="4.55"/><circle cx="1605.4" cy="1167.9" r="4.55"/><circle cx="1595.6" cy="1146.7" r="4.55"/><circle cx="1604.5" cy="1138.6" r="4.55"/><circle cx="1617.6" cy="1171.2" r="4.55"/><circle cx="1611.6" cy="1165.9" r="4.55"/><circle cx="1623.9" cy="1150.8" r="4.55"/><circle cx="1596.7" cy="1158.7" r="4.55"/><circle cx="1601.8" cy="1158.4" r="4.55"/><circle cx="1611.1" cy="1165.2" r="4.55"/><circle cx="1616.6" cy="1144.9" r="4.55"/><circle cx="1623.7" cy="1152.3" r="4.55"/><circle cx="1606.5" cy="1142.5" r="4.55"/><circle cx="1617.8" cy="1150.4" r="4.55"/><circle cx="1616.5" cy="1151.3" r="4.55"/><circle cx="1626.8" cy="1157" r="4.55"/><circle cx="1613.4" cy="1162.7" r="4.55"/><circle cx="1597.3" cy="1151.3" r="4.55"/><circle cx="1607.4" cy="1170.3" r="4.55"/><circle cx="1598.6" cy="1162.4" r="4.55"/><circle cx="1601.9" cy="1158.5" r="4.55"/><circle cx="1618.5" cy="1150.7" r="4.55"/><circle cx="1593.8" cy="1152.7" r="4.55"/><circle cx="1594.2" cy="1150.8" r="4.55"/><circle cx="1619.2" cy="1147.9" r="4.55"/><circle cx="1598.4" cy="1159.6" r="4.55"/><circle cx="1618.5" cy="1153.3" r="4.55"/><circle cx="1613.8" cy="1168.4" r="4.55"/><circle cx="1600.6" cy="1152.7" r="4.55"/><circle cx="1608.6" cy="1167.4" r="4.55"/><circle cx="1613.3" cy="1160.6" r="4.55"/><circle cx="1602.3" cy="1158.3" r="4.55"/><circle cx="1613.6" cy="1146.6" r="4.55"/><circle cx="1625.6" cy="1154" r="4.55"/><circle cx="1599.1" cy="1155.1" r="4.55"/><circle cx="1606.4" cy="1142.9" r="4.55"/><circle cx="1603" cy="1140.7" r="4.55"/><circle cx="1601.2" cy="1174.1" r="4.55"/><circle cx="1617.8" cy="1188.8" r="4.55"/><circle cx="1607.4" cy="1174.9" r="4.55"/><circle cx="1618.1" cy="1183.9" r="4.55"/><circle cx="1614" cy="1174.9" r="4.55"/><circle cx="1609.3" cy="1170.7" r="4.55"/><circle cx="1617.9" cy="1170.2" r="4.55"/><circle cx="1608.7" cy="1184.7" r="4.55"/><circle cx="1627.7" cy="1182.5" r="4.55"/><circle cx="1625.2" cy="1183.8" r="4.55"/><circle cx="1608.7" cy="1179.4" r="4.55"/><circle cx="1619.4" cy="1178" r="4.55"/><circle cx="1595.9" cy="1181.9" r="4.55"/><circle cx="1618.9" cy="1182.7" r="4.55"/><circle cx="1599.7" cy="1178.7" r="4.55"/><circle cx="1610.5" cy="1173.7" r="4.55"/><circle cx="1615" cy="1172.4" r="4.55"/><circle cx="1618.3" cy="1181" r="4.55"/><circle cx="1601.3" cy="1180.3" r="4.55"/><circle cx="1608.3" cy="1175.2" r="4.55"/><circle cx="1609.2" cy="1183.9" r="4.55"/><circle cx="1609.8" cy="1172.9" r="4.55"/><circle cx="1601.5" cy="1186" r="4.55"/><circle cx="1624" cy="1176.7" r="4.55"/><circle cx="1599.6" cy="1173.1" r="4.55"/><circle cx="1618.2" cy="1182.9" r="4.55"/><circle cx="1630.9" cy="1186.1" r="4.55"/><circle cx="1620.2" cy="1183" r="4.55"/><circle cx="1611.7" cy="1176" r="4.55"/><circle cx="1598.5" cy="1171.2" r="4.55"/><circle cx="1617.1" cy="1173.7" r="4.55"/><circle cx="1617.2" cy="1180.1" r="4.55"/><circle cx="1616.8" cy="1192.8" r="4.55"/><circle cx="1610.4" cy="1174.2" r="4.55"/><circle cx="1610.3" cy="1182" r="4.55"/><circle cx="1619.6" cy="1184" r="4.55"/><circle cx="1600.9" cy="1169.5" r="4.55"/><circle cx="1620.7" cy="1179.3" r="4.55"/><circle cx="1619.7" cy="1182.3" r="4.55"/><circle cx="1627.6" cy="1175.3" r="4.55"/><circle cx="1590" cy="1182.9" r="4.55"/><circle cx="1609.8" cy="1171.5" r="4.55"/><circle cx="1595.1" cy="1178" r="4.55"/><circle cx="1614" cy="1169.6" r="4.55"/><circle cx="1613.9" cy="1176.5" r="4.55"/><circle cx="1608.9" cy="1178.9" r="4.55"/><circle cx="1607.8" cy="1173.8" r="4.55"/><circle cx="1617.3" cy="1174.4" r="4.55"/><circle cx="1610.6" cy="1182.9" r="4.55"/><circle cx="1607.3" cy="1176.2" r="4.55"/><circle cx="1619.9" cy="1184.5" r="4.55"/><circle cx="1599" cy="1183.8" r="4.55"/><circle cx="1623.7" cy="1179.4" r="4.55"/><circle cx="1609" cy="1181.5" r="4.55"/><circle cx="1629.6" cy="1181.9" r="4.55"/><circle cx="1606.9" cy="1177.1" r="4.55"/><circle cx="1618.4" cy="1183.8" r="4.55"/><circle cx="1606.9" cy="1174.7" r="4.55"/><circle cx="1601.4" cy="1178.5" r="4.55"/><circle cx="1611.6" cy="1177" r="4.55"/><circle cx="1624.7" cy="1177.9" r="4.55"/><circle cx="1625.1" cy="1187.3" r="4.55"/><circle cx="1594" cy="1182.7" r="4.55"/><circle cx="1606.6" cy="1184.2" r="4.55"/><circle cx="1615.2" cy="1192.6" r="4.55"/><circle cx="1682.5" cy="1059.9" r="4.55"/><circle cx="1676.6" cy="1068.4" r="4.55"/><circle cx="1663" cy="1057.5" r="4.55"/><circle cx="1684.5" cy="1074.9" r="4.55"/><circle cx="1653.5" cy="1066" r="4.55"/><circle cx="1663.4" cy="1080.6" r="4.55"/><circle cx="1673.4" cy="1055.9" r="4.55"/><circle cx="1674" cy="1086.4" r="4.55"/><circle cx="1670.2" cy="1080.8" r="4.55"/><circle cx="1667.4" cy="1075.6" r="4.55"/><circle cx="1671" cy="1068.1" r="4.55"/><circle cx="1678.1" cy="1074.3" r="4.55"/><circle cx="1669.9" cy="1066.3" r="4.55"/><circle cx="1662.1" cy="1072.6" r="4.55"/><circle cx="1674" cy="1060.5" r="4.55"/><circle cx="1663.5" cy="1086.4" r="4.55"/><circle cx="1681.8" cy="1062.4" r="4.55"/><circle cx="1680.5" cy="1063.8" r="4.55"/><circle cx="1664.1" cy="1084.4" r="4.55"/><circle cx="1654.5" cy="1063.6" r="4.55"/><circle cx="1665" cy="1067.9" r="4.55"/><circle cx="1653.3" cy="1069" r="4.55"/><circle cx="1658.9" cy="1076.8" r="4.55"/><circle cx="1653.5" cy="1070.6" r="4.55"/><circle cx="1676.5" cy="1068.4" r="4.55"/><circle cx="1661.2" cy="1074.1" r="4.55"/><circle cx="1667.3" cy="1085.1" r="4.55"/><circle cx="1663.3" cy="1072.8" r="4.55"/><circle cx="1663.8" cy="1059.3" r="4.55"/><circle cx="1682.4" cy="1060.2" r="4.55"/><circle cx="1674.9" cy="1083.3" r="4.55"/><circle cx="1677.5" cy="1073.2" r="4.55"/><circle cx="1663.9" cy="1075.4" r="4.55"/><circle cx="1664.5" cy="1056.8" r="4.55"/><circle cx="1670.3" cy="1075.4" r="4.55"/><circle cx="1659.4" cy="1080.8" r="4.55"/><circle cx="1681.9" cy="1058.7" r="4.55"/><circle cx="1672.9" cy="1066.3" r="4.55"/><circle cx="1665.6" cy="1085.4" r="4.55"/><circle cx="1681.3" cy="1063" r="4.55"/><circle cx="1660.6" cy="1088.6" r="4.55"/><circle cx="1668.3" cy="1055.7" r="4.55"/><circle cx="1663.8" cy="1073.3" r="4.55"/><circle cx="1680.5" cy="1062.7" r="4.55"/><circle cx="1675.5" cy="1058.5" r="4.55"/><circle cx="1679.7" cy="1061.4" r="4.55"/><circle cx="1668.8" cy="1079.7" r="4.55"/><circle cx="1670.8" cy="1055.7" r="4.55"/><circle cx="1663.7" cy="1053.2" r="4.55"/><circle cx="1661.1" cy="1080.4" r="4.55"/><circle cx="1680.3" cy="1066.7" r="4.55"/><circle cx="1663.6" cy="1082.1" r="4.55"/><circle cx="1677.2" cy="1055.3" r="4.55"/><circle cx="1684.5" cy="1071.1" r="4.55"/><circle cx="1659.9" cy="1081.2" r="4.55"/><circle cx="1662.8" cy="1072.2" r="4.55"/><circle cx="1681.6" cy="1060.2" r="4.55"/><circle cx="1665.5" cy="1055.6" r="4.55"/><circle cx="1663.7" cy="1074.7" r="4.55"/><circle cx="1665.6" cy="1070.8" r="4.55"/><circle cx="1649.9" cy="1093.3" r="4.55"/><circle cx="1653.5" cy="1116.4" r="4.55"/><circle cx="1643.2" cy="1112.8" r="4.55"/><circle cx="1648" cy="1111.1" r="4.55"/><circle cx="1640.8" cy="1106.1" r="4.55"/><circle cx="1646.9" cy="1099.4" r="4.55"/><circle cx="1650.1" cy="1107.1" r="4.55"/><circle cx="1656.5" cy="1094.5" r="4.55"/><circle cx="1641" cy="1095.4" r="4.55"/><circle cx="1649.8" cy="1112" r="4.55"/><circle cx="1641.4" cy="1104.1" r="4.55"/><circle cx="1641.3" cy="1102.3" r="4.55"/><circle cx="1651.4" cy="1112.7" r="4.55"/><circle cx="1651.7" cy="1117.7" r="4.55"/><circle cx="1648.2" cy="1110.4" r="4.55"/><circle cx="1648.4" cy="1105" r="4.55"/><circle cx="1649.2" cy="1111.8" r="4.55"/><circle cx="1638.5" cy="1102.7" r="4.55"/><circle cx="1643.4" cy="1101.1" r="4.55"/><circle cx="1649" cy="1106.2" r="4.55"/><circle cx="1639.3" cy="1100.8" r="4.55"/><circle cx="1642.8" cy="1105.9" r="4.55"/><circle cx="1650.9" cy="1104" r="4.55"/><circle cx="1642.2" cy="1108.3" r="4.55"/><circle cx="1640.9" cy="1112" r="4.55"/><circle cx="1642.9" cy="1114" r="4.55"/><circle cx="1646.7" cy="1090.4" r="4.55"/><circle cx="1654.2" cy="1094.5" r="4.55"/><circle cx="1648.2" cy="1095.7" r="4.55"/><circle cx="1645.2" cy="1097.3" r="4.55"/><circle cx="1747.9" cy="1063.3" r="4.55"/><circle cx="1730.5" cy="1077.5" r="4.55"/><circle cx="1746.1" cy="1065.9" r="4.55"/><circle cx="1741.8" cy="1071.6" r="4.55"/><circle cx="1728.6" cy="1078.4" r="4.55"/><circle cx="1748.4" cy="1047.1" r="4.55"/><circle cx="1729.8" cy="1078.1" r="4.55"/><circle cx="1748.4" cy="1049.5" r="4.55"/><circle cx="1732.7" cy="1074.9" r="4.55"/><circle cx="1740.4" cy="1070.5" r="4.55"/><circle cx="1724.1" cy="1076.2" r="4.55"/><circle cx="1731.8" cy="1075.3" r="4.55"/><circle cx="1746.7" cy="1051.4" r="4.55"/><circle cx="1738.4" cy="1071.5" r="4.55"/><circle cx="1748.7" cy="1048.8" r="4.55"/><circle cx="1734" cy="1075.3" r="4.55"/><circle cx="1748.9" cy="1054.6" r="4.55"/><circle cx="1734.9" cy="1073.6" r="4.55"/><circle cx="1721.8" cy="1074.5" r="4.55"/><circle cx="1748.8" cy="1059.7" r="4.55"/><circle cx="1721.8" cy="1073.5" r="4.55"/><circle cx="1749" cy="1055.3" r="4.55"/><circle cx="1773.6" cy="1072.4" r="4.55"/><circle cx="1769.9" cy="1072.8" r="4.55"/><circle cx="1773.2" cy="1076.6" r="4.55"/><circle cx="1772.9" cy="1082.3" r="4.55"/><circle cx="1757.5" cy="1087.8" r="4.55"/><circle cx="1773.8" cy="1084.1" r="4.55"/><circle cx="1743.9" cy="1082.6" r="4.55"/><circle cx="1733" cy="1083.8" r="4.55"/><circle cx="1760.9" cy="1079.2" r="4.55"/><circle cx="1758.6" cy="1085.8" r="4.55"/><circle cx="1773.5" cy="1073.4" r="4.55"/><circle cx="1773.9" cy="1087.3" r="4.55"/><circle cx="1752.4" cy="1084.9" r="4.55"/><circle cx="1773.1" cy="1084.2" r="4.55"/><circle cx="1771.6" cy="1078.5" r="4.55"/><circle cx="1752.3" cy="1086" r="4.55"/><circle cx="1765.7" cy="1074.9" r="4.55"/><circle cx="1760.6" cy="1081" r="4.55"/><circle cx="1738" cy="1084.2" r="4.55"/><circle cx="1742.1" cy="1083.7" r="4.55"/><circle cx="1773.6" cy="1083.9" r="4.55"/><circle cx="1775.7" cy="1085.2" r="4.55"/><circle cx="1718.8" cy="1069.3" r="4.55"/><circle cx="1726" cy="1076.5" r="4.55"/><circle cx="1723.1" cy="1072.2" r="4.55"/><circle cx="1784.7" cy="1056.5" r="4.55"/><circle cx="1779" cy="1057.2" r="4.55"/><circle cx="1812.7" cy="1058.9" r="4.55"/><circle cx="1830.6" cy="1082" r="4.55"/><circle cx="1869.5" cy="1081.5" r="4.55"/><circle cx="1806.6" cy="1086.5" r="4.55"/><circle cx="1816.7" cy="1088" r="4.55"/><circle cx="1799.5" cy="1094.4" r="4.55"/><circle cx="1806.9" cy="1095.4" r="4.55"/><circle cx="1814.1" cy="1092.3" r="4.55"/><circle cx="1818.7" cy="1093.7" r="4.55"/><circle cx="1741.8" cy="1031.3" r="4.55"/><circle cx="1752.5" cy="1035.5" r="4.55"/><circle cx="1747.5" cy="1045.6" r="4.55"/><circle cx="1870" cy="1020.5" r="4.55"/><circle cx="1859.2" cy="1038.4" r="4.55"/></g>
<g fill="#fde725" fill-opacity="0.5" stroke="#000" stroke-opacity="0.55" stroke-width="1.35"><circle cx="1567.9" cy="980.9" r="4.55"/><circle cx="1570.8" cy="976.1" r="4.55"/><circle cx="1567.5" cy="972.6" r="4.55"/><circle cx="1567.8" cy="973.9" r="4.55"/><circle cx="1575" cy="982.2" r="4.55"/><circle cx="1567.2" cy="972.3" r="4.55"/><circle cx="1572.5" cy="976.8" r="4.55"/><circle cx="1568.2" cy="975.3" r="4.55"/><circle cx="1577.6" cy="982.1" r="4.55"/><circle cx="1573.8" cy="978.9" r="4.55"/><circle cx="1562.8" cy="973.9" r="4.55"/><circle cx="1566.3" cy="970.5" r="4.55"/><circle cx="1572.3" cy="982.2" r="4.55"/><circle cx="1566.3" cy="975.4" r="4.55"/><circle cx="1574.6" cy="976.5" r="4.55"/><circle cx="1565.9" cy="970.8" r="4.55"/><circle cx="1582.1" cy="977.5" r="4.55"/><circle cx="1598.5" cy="981.8" r="4.55"/><circle cx="1603.1" cy="995.3" r="4.55"/><circle cx="1599.8" cy="998.4" r="4.55"/><circle cx="1602.9" cy="996.7" r="4.55"/><circle cx="1609.3" cy="999.6" r="4.55"/><circle cx="1595.6" cy="999.1" r="4.55"/><circle cx="1600.4" cy="992.8" r="4.55"/><circle cx="1606" cy="996.7" r="4.55"/><circle cx="1640.2" cy="1022.5" r="4.55"/><circle cx="1646.1" cy="1027.5" r="4.55"/><circle cx="1629" cy="1016.9" r="4.55"/><circle cx="1640.5" cy="1025.4" r="4.55"/><circle cx="1620.8" cy="1019.6" r="4.55"/><circle cx="1635.7" cy="1032.1" r="4.55"/><circle cx="1638.5" cy="1033" r="4.55"/><circle cx="1624.4" cy="1006.2" r="4.55"/><circle cx="1637.8" cy="1000.1" r="4.55"/><circle cx="1623.5" cy="1014.1" r="4.55"/><circle cx="1622.1" cy="1022.4" r="4.55"/><circle cx="1640" cy="1014.1" r="4.55"/><circle cx="1629.9" cy="1002.8" r="4.55"/><circle cx="1637.3" cy="1031.6" r="4.55"/><circle cx="1640.5" cy="1006.4" r="4.55"/><circle cx="1649.5" cy="1009.1" r="4.55"/><circle cx="1633.2" cy="1010.6" r="4.55"/><circle cx="1626.1" cy="1024.1" r="4.55"/><circle cx="1640" cy="1022.2" r="4.55"/><circle cx="1644" cy="1010.1" r="4.55"/><circle cx="1637.9" cy="1024.5" r="4.55"/><circle cx="1638.9" cy="1024.1" r="4.55"/><circle cx="1636.4" cy="1029.9" r="4.55"/><circle cx="1618.8" cy="1019.6" r="4.55"/><circle cx="1619.8" cy="1024.4" r="4.55"/><circle cx="1622.4" cy="1020.3" r="4.55"/><circle cx="1641.9" cy="1007.8" r="4.55"/><circle cx="1634.6" cy="1011.8" r="4.55"/><circle cx="1634.5" cy="1014.8" r="4.55"/><circle cx="1633.9" cy="1031.7" r="4.55"/><circle cx="1633.7" cy="1034.6" r="4.55"/><circle cx="1622.5" cy="1017.7" r="4.55"/><circle cx="1640.3" cy="1022.3" r="4.55"/><circle cx="1628.7" cy="1025.3" r="4.55"/><circle cx="1640.5" cy="1023.6" r="4.55"/><circle cx="1638.3" cy="1020.4" r="4.55"/><circle cx="1636.8" cy="1029.6" r="4.55"/><circle cx="1639.5" cy="1029" r="4.55"/><circle cx="1631" cy="1016.5" r="4.55"/><circle cx="1639" cy="1019.5" r="4.55"/><circle cx="1642.6" cy="1012.2" r="4.55"/><circle cx="1637.4" cy="1032.2" r="4.55"/><circle cx="1637.2" cy="1031.2" r="4.55"/><circle cx="1640.2" cy="1032.2" r="4.55"/><circle cx="1636.7" cy="1009.6" r="4.55"/><circle cx="1626.8" cy="1004.9" r="4.55"/><circle cx="1625.9" cy="1014.7" r="4.55"/><circle cx="1640.3" cy="1034.2" r="4.55"/><circle cx="1635.3" cy="999.9" r="4.55"/><circle cx="1647.5" cy="1020.3" r="4.55"/><circle cx="1550.6" cy="1071" r="4.55"/><circle cx="1558.3" cy="1019.8" r="4.55"/><circle cx="1562.9" cy="1027.2" r="4.55"/><circle cx="1558.8" cy="1016.2" r="4.55"/><circle cx="1556.8" cy="1039.2" r="4.55"/><circle cx="1560.9" cy="1034.1" r="4.55"/><circle cx="1567.3" cy="1029.3" r="4.55"/><circle cx="1554.9" cy="1012.5" r="4.55"/><circle cx="1557.8" cy="1053.3" r="4.55"/><circle cx="1565.1" cy="1017.7" r="4.55"/><circle cx="1566.9" cy="1028.1" r="4.55"/><circle cx="1564.1" cy="1020.6" r="4.55"/><circle cx="1563.9" cy="1032.3" r="4.55"/><circle cx="1559.2" cy="1041.3" r="4.55"/><circle cx="1554.7" cy="1013.4" r="4.55"/><circle cx="1557" cy="1044.6" r="4.55"/><circle cx="1559.6" cy="1032.9" r="4.55"/><circle cx="1559.2" cy="1017.7" r="4.55"/><circle cx="1552.3" cy="1064" r="4.55"/><circle cx="1560.5" cy="1017.2" r="4.55"/><circle cx="1554.7" cy="1059.3" r="4.55"/><circle cx="1559.1" cy="1043.4" r="4.55"/><circle cx="1566.1" cy="1026" r="4.55"/><circle cx="1555.4" cy="1049.6" r="4.55"/><circle cx="1556.5" cy="1046.7" r="4.55"/><circle cx="1553.2" cy="1015.9" r="4.55"/><circle cx="1563.2" cy="1019.2" r="4.55"/><circle cx="1554.8" cy="1016" r="4.55"/><circle cx="1565.5" cy="1025.5" r="4.55"/><circle cx="1563.9" cy="1019.2" r="4.55"/><circle cx="1567.3" cy="1031.7" r="4.55"/><circle cx="1556.8" cy="1036.5" r="4.55"/><circle cx="1555.6" cy="1015.5" r="4.55"/><circle cx="1561.3" cy="1020.6" r="4.55"/><circle cx="1557.1" cy="1058.1" r="4.55"/><circle cx="1556.5" cy="1057.1" r="4.55"/><circle cx="1563.4" cy="1035.1" r="4.55"/><circle cx="1555.3" cy="1049.2" r="4.55"/><circle cx="1553.5" cy="1012" r="4.55"/><circle cx="1556.5" cy="1015.1" r="4.55"/><circle cx="1557.2" cy="1039.2" r="4.55"/><circle cx="1556.4" cy="1048.9" r="4.55"/><circle cx="1564.5" cy="1019.4" r="4.55"/><circle cx="1557.4" cy="1009.4" r="4.55"/><circle cx="1554.2" cy="1060.5" r="4.55"/><circle cx="1553.7" cy="1060.9" r="4.55"/><circle cx="1564.6" cy="1027.7" r="4.55"/><circle cx="1555.3" cy="1012.3" r="4.55"/><circle cx="1552.2" cy="1071.6" r="4.55"/><circle cx="1555.2" cy="1056" r="4.55"/><circle cx="1623.4" cy="1053.6" r="4.55"/><circle cx="1620.9" cy="1058.6" r="4.55"/><circle cx="1624.8" cy="1062.9" r="4.55"/><circle cx="1625.5" cy="1071.3" r="4.55"/><circle cx="1623.4" cy="1063.1" r="4.55"/><circle cx="1629.7" cy="1073.4" r="4.55"/><circle cx="1624.1" cy="1061.9" r="4.55"/><circle cx="1620.3" cy="1055.4" r="4.55"/><circle cx="1622.9" cy="1059.1" r="4.55"/><circle cx="1623.8" cy="1049.9" r="4.55"/><circle cx="1623" cy="1062.7" r="4.55"/><circle cx="1620.5" cy="1062.3" r="4.55"/><circle cx="1621.7" cy="1065.1" r="4.55"/><circle cx="1620.9" cy="1063.4" r="4.55"/><circle cx="1620.3" cy="1053.8" r="4.55"/><circle cx="1628.9" cy="1075.5" r="4.55"/><circle cx="1647.2" cy="1050.7" r="4.55"/><circle cx="1701.6" cy="1077.9" r="4.55"/><circle cx="1697.3" cy="1093.7" r="4.55"/><circle cx="1687.3" cy="1086.5" r="4.55"/><circle cx="1693.1" cy="1080.8" r="4.55"/><circle cx="1583.5" cy="1108" r="4.55"/><circle cx="1549.1" cy="1145.3" r="4.55"/><circle cx="1549.1" cy="1151" r="4.55"/><circle cx="1568.4" cy="1162.4" r="4.55"/><circle cx="1570.6" cy="1165.3" r="4.55"/><circle cx="1582.8" cy="1175.3" r="4.55"/><circle cx="1591.4" cy="1174.6" r="4.55"/><circle cx="1578.5" cy="1181.8" r="4.55"/><circle cx="1589.9" cy="1191.1" r="4.55"/><circle cx="1573.5" cy="1197.5" r="4.55"/><circle cx="1564.1" cy="1206.1" r="4.55"/><circle cx="1572" cy="1205.4" r="4.55"/><circle cx="1597.8" cy="1204" r="4.55"/><circle cx="1620.7" cy="1206.1" r="4.55"/><circle cx="1630.7" cy="1199.7" r="4.55"/><circle cx="1637.2" cy="1188.2" r="4.55"/><circle cx="1642.9" cy="1206.1" r="4.55"/><circle cx="1647.9" cy="1205.4" r="4.55"/><circle cx="1572.7" cy="1225.2" r="4.55"/><circle cx="1691.6" cy="1146.7" r="4.55"/><circle cx="1697.3" cy="1146.7" r="4.55"/><circle cx="1705.9" cy="1147.4" r="4.55"/><circle cx="1701.6" cy="1128.1" r="4.55"/><circle cx="1701.6" cy="1136.7" r="4.55"/><circle cx="1698.8" cy="1141" r="4.55"/><circle cx="1678.7" cy="1192.5" r="4.55"/><circle cx="1698.8" cy="1180.3" r="4.55"/><circle cx="1668.7" cy="1171" r="4.55"/><circle cx="1677.3" cy="1171" r="4.55"/><circle cx="1660.1" cy="1182.5" r="4.55"/><circle cx="1668.7" cy="1051.4" r="4.55"/><circle cx="1670.9" cy="1085.3" r="4.55"/><circle cx="1662.3" cy="1054.8" r="4.55"/><circle cx="1661.6" cy="1057.7" r="4.55"/><circle cx="1668.3" cy="1094.9" r="4.55"/><circle cx="1667.6" cy="1078.5" r="4.55"/><circle cx="1672.9" cy="1072.5" r="4.55"/><circle cx="1664.6" cy="1057.3" r="4.55"/><circle cx="1675.3" cy="1049.8" r="4.55"/><circle cx="1666.2" cy="1084.2" r="4.55"/><circle cx="1671.6" cy="1065.5" r="4.55"/><circle cx="1656.6" cy="1075.4" r="4.55"/><circle cx="1668.9" cy="1089.2" r="4.55"/><circle cx="1667.5" cy="1056.2" r="4.55"/><circle cx="1678.8" cy="1053.8" r="4.55"/><circle cx="1656.5" cy="1082.6" r="4.55"/><circle cx="1666.1" cy="1089" r="4.55"/><circle cx="1676.5" cy="1096.9" r="4.55"/><circle cx="1668.9" cy="1083.7" r="4.55"/><circle cx="1679.2" cy="1053.9" r="4.55"/><circle cx="1675.5" cy="1061.7" r="4.55"/><circle cx="1669.5" cy="1086" r="4.55"/><circle cx="1655.5" cy="1075.3" r="4.55"/><circle cx="1673.1" cy="1050.7" r="4.55"/><circle cx="1686.3" cy="1053.4" r="4.55"/><circle cx="1667.1" cy="1090.7" r="4.55"/><circle cx="1668.6" cy="1050.2" r="4.55"/><circle cx="1669.8" cy="1068.6" r="4.55"/><circle cx="1678.9" cy="1052.3" r="4.55"/><circle cx="1667.4" cy="1080.8" r="4.55"/><circle cx="1669.3" cy="1086.4" r="4.55"/><circle cx="1665" cy="1060.4" r="4.55"/><circle cx="1669.8" cy="1082.9" r="4.55"/><circle cx="1667.4" cy="1086.8" r="4.55"/><circle cx="1681.5" cy="1055.3" r="4.55"/><circle cx="1665.1" cy="1059.3" r="4.55"/><circle cx="1667.9" cy="1055.9" r="4.55"/><circle cx="1669.9" cy="1062" r="4.55"/><circle cx="1663.2" cy="1055.2" r="4.55"/><circle cx="1669.6" cy="1064.3" r="4.55"/><circle cx="1667.9" cy="1085" r="4.55"/><circle cx="1665.7" cy="1088.3" r="4.55"/><circle cx="1656.1" cy="1082.7" r="4.55"/><circle cx="1665.8" cy="1090" r="4.55"/><circle cx="1668.5" cy="1074" r="4.55"/><circle cx="1677.8" cy="1096.5" r="4.55"/><circle cx="1665.6" cy="1057.2" r="4.55"/><circle cx="1683.4" cy="1052" r="4.55"/><circle cx="1664.6" cy="1084.6" r="4.55"/><circle cx="1673.5" cy="1053.5" r="4.55"/><circle cx="1665.9" cy="1080.4" r="4.55"/><circle cx="1661" cy="1090.5" r="4.55"/><circle cx="1649.9" cy="1074.7" r="4.55"/><circle cx="1670" cy="1080.3" r="4.55"/><circle cx="1658.3" cy="1061.2" r="4.55"/><circle cx="1577" cy="1097.1" r="4.55"/><circle cx="1572.9" cy="1103.1" r="4.55"/><circle cx="1570.2" cy="1097.2" r="4.55"/><circle cx="1577.9" cy="1101.4" r="4.55"/><circle cx="1571.5" cy="1095.3" r="4.55"/><circle cx="1572.6" cy="1100" r="4.55"/><circle cx="1575.7" cy="1099.3" r="4.55"/><circle cx="1570.3" cy="1097.5" r="4.55"/><circle cx="1571.6" cy="1100.9" r="4.55"/><circle cx="1577.8" cy="1102.8" r="4.55"/><circle cx="1580.6" cy="1106" r="4.55"/><circle cx="1661.8" cy="1166.3" r="4.55"/><circle cx="1657.2" cy="1138.4" r="4.55"/><circle cx="1645.9" cy="1166.6" r="4.55"/><circle cx="1649.1" cy="1151.6" r="4.55"/><circle cx="1641" cy="1144.9" r="4.55"/><circle cx="1653" cy="1162.8" r="4.55"/><circle cx="1653.5" cy="1138.4" r="4.55"/><circle cx="1649" cy="1127.7" r="4.55"/><circle cx="1645.7" cy="1125.3" r="4.55"/><circle cx="1648.7" cy="1188.8" r="4.55"/><circle cx="1649.7" cy="1126.2" r="4.55"/><circle cx="1659.5" cy="1175.2" r="4.55"/><circle cx="1649.5" cy="1173.1" r="4.55"/><circle cx="1656.9" cy="1151" r="4.55"/><circle cx="1661.6" cy="1141.3" r="4.55"/><circle cx="1646.3" cy="1122.7" r="4.55"/><circle cx="1647.1" cy="1184" r="4.55"/><circle cx="1654.1" cy="1142.9" r="4.55"/><circle cx="1643.4" cy="1145.5" r="4.55"/><circle cx="1656.1" cy="1159.6" r="4.55"/><circle cx="1661.8" cy="1172" r="4.55"/><circle cx="1643.5" cy="1137.2" r="4.55"/><circle cx="1641.4" cy="1151.4" r="4.55"/><circle cx="1653.1" cy="1139.9" r="4.55"/><circle cx="1654.2" cy="1148.1" r="4.55"/><circle cx="1663.3" cy="1159.4" r="4.55"/><circle cx="1652.7" cy="1184" r="4.55"/><circle cx="1653.2" cy="1143.7" r="4.55"/><circle cx="1652.1" cy="1179.8" r="4.55"/><circle cx="1649.5" cy="1169.1" r="4.55"/><circle cx="1643.8" cy="1135.2" r="4.55"/><circle cx="1648.4" cy="1163.9" r="4.55"/><circle cx="1663" cy="1159" r="4.55"/><circle cx="1652.5" cy="1128.9" r="4.55"/><circle cx="1652.9" cy="1146.6" r="4.55"/><circle cx="1657.9" cy="1157.5" r="4.55"/><circle cx="1647" cy="1176" r="4.55"/><circle cx="1663.2" cy="1162.7" r="4.55"/><circle cx="1659.5" cy="1146.7" r="4.55"/><circle cx="1640.2" cy="1132.1" r="4.55"/><circle cx="1646.5" cy="1190.8" r="4.55"/><circle cx="1654.8" cy="1145.5" r="4.55"/><circle cx="1651.1" cy="1172.4" r="4.55"/><circle cx="1654" cy="1138.4" r="4.55"/><circle cx="1647.6" cy="1124.2" r="4.55"/><circle cx="1646.2" cy="1168.2" r="4.55"/><circle cx="1651" cy="1140.4" r="4.55"/><circle cx="1652.4" cy="1164.6" r="4.55"/><circle cx="1640.3" cy="1152.2" r="4.55"/><circle cx="1648" cy="1160.4" r="4.55"/><circle cx="1665.5" cy="1162.8" r="4.55"/><circle cx="1655.5" cy="1142.4" r="4.55"/><circle cx="1664.5" cy="1164.7" r="4.55"/><circle cx="1643.6" cy="1126.2" r="4.55"/><circle cx="1653.3" cy="1140.6" r="4.55"/><circle cx="1646.6" cy="1127.9" r="4.55"/><circle cx="1655.2" cy="1155" r="4.55"/><circle cx="1656" cy="1164.1" r="4.55"/><circle cx="1645.3" cy="1124" r="4.55"/><circle cx="1654.3" cy="1134.9" r="4.55"/><circle cx="1646.2" cy="1170.4" r="4.55"/><circle cx="1653.6" cy="1144.8" r="4.55"/><circle cx="1655.1" cy="1188.5" r="4.55"/><circle cx="1662.7" cy="1176.8" r="4.55"/><circle cx="1654" cy="1149.2" r="4.55"/><circle cx="1651.2" cy="1175.8" r="4.55"/><circle cx="1646.9" cy="1174.1" r="4.55"/><circle cx="1659" cy="1139" r="4.55"/><circle cx="1644.8" cy="1174.8" r="4.55"/><circle cx="1651.9" cy="1138" r="4.55"/><circle cx="1653.9" cy="1157.2" r="4.55"/><circle cx="1658.1" cy="1173.3" r="4.55"/><circle cx="1646.2" cy="1128.9" r="4.55"/><circle cx="1649.2" cy="1124.9" r="4.55"/><circle cx="1656.4" cy="1139.5" r="4.55"/><circle cx="1649.6" cy="1153.1" r="4.55"/><circle cx="1647" cy="1185.1" r="4.55"/><circle cx="1648.5" cy="1164" r="4.55"/><circle cx="1649.8" cy="1170.8" r="4.55"/><circle cx="1654" cy="1185.1" r="4.55"/><circle cx="1664.8" cy="1169" r="4.55"/><circle cx="1650.7" cy="1175.9" r="4.55"/><circle cx="1661.7" cy="1141.9" r="4.55"/><circle cx="1649.5" cy="1151.1" r="4.55"/><circle cx="1663.7" cy="1161.8" r="4.55"/><circle cx="1650.3" cy="1095.7" r="4.55"/><circle cx="1629.4" cy="1094.1" r="4.55"/><circle cx="1617.8" cy="1119.3" r="4.55"/><circle cx="1637.3" cy="1159.7" r="4.55"/><circle cx="1665.3" cy="1104.8" r="4.55"/><circle cx="1648.4" cy="1160.5" r="4.55"/><circle cx="1643" cy="1133.9" r="4.55"/><circle cx="1666.6" cy="1102.7" r="4.55"/><circle cx="1610.1" cy="1123" r="4.55"/><circle cx="1637.2" cy="1112.5" r="4.55"/><circle cx="1614.4" cy="1141.2" r="4.55"/><circle cx="1641.3" cy="1129" r="4.55"/><circle cx="1653.5" cy="1148.7" r="4.55"/><circle cx="1647.2" cy="1109.2" r="4.55"/><circle cx="1614.5" cy="1140.3" r="4.55"/><circle cx="1664.4" cy="1112.2" r="4.55"/><circle cx="1632.2" cy="1134.6" r="4.55"/><circle cx="1650.1" cy="1095.3" r="4.55"/><circle cx="1614" cy="1137.5" r="4.55"/><circle cx="1666" cy="1103.8" r="4.55"/><circle cx="1616.9" cy="1123.4" r="4.55"/><circle cx="1638.2" cy="1109" r="4.55"/><circle cx="1651.3" cy="1163" r="4.55"/><circle cx="1619.9" cy="1119.2" r="4.55"/><circle cx="1640.4" cy="1125.8" r="4.55"/><circle cx="1631.9" cy="1129.5" r="4.55"/><circle cx="1635.3" cy="1159.4" r="4.55"/><circle cx="1612.6" cy="1142" r="4.55"/><circle cx="1665.5" cy="1103.8" r="4.55"/><circle cx="1661.7" cy="1108.6" r="4.55"/><circle cx="1650.5" cy="1148.3" r="4.55"/><circle cx="1634.3" cy="1157.9" r="4.55"/><circle cx="1611.2" cy="1121.9" r="4.55"/><circle cx="1612" cy="1142.4" r="4.55"/><circle cx="1643" cy="1131.4" r="4.55"/><circle cx="1648.3" cy="1110.7" r="4.55"/><circle cx="1667" cy="1103" r="4.55"/><circle cx="1620.4" cy="1119.8" r="4.55"/><circle cx="1639.4" cy="1111.2" r="4.55"/><circle cx="1621.3" cy="1121.9" r="4.55"/><circle cx="1652.3" cy="1152.3" r="4.55"/><circle cx="1651.2" cy="1093.6" r="4.55"/><circle cx="1664.9" cy="1112.5" r="4.55"/><circle cx="1632.3" cy="1135.6" r="4.55"/><circle cx="1614.8" cy="1118.2" r="4.55"/><circle cx="1661.5" cy="1180.2" r="4.55"/><circle cx="1641.9" cy="1182.6" r="4.55"/><circle cx="1656.2" cy="1191.1" r="4.55"/><circle cx="1642.2" cy="1164.6" r="4.55"/><circle cx="1641.2" cy="1167.5" r="4.55"/><circle cx="1656.7" cy="1192.4" r="4.55"/><circle cx="1667.2" cy="1177.7" r="4.55"/><circle cx="1649.5" cy="1166.9" r="4.55"/><circle cx="1668.6" cy="1164.3" r="4.55"/><circle cx="1653.6" cy="1153.6" r="4.55"/><circle cx="1652" cy="1168" r="4.55"/><circle cx="1659.7" cy="1174.9" r="4.55"/><circle cx="1656.1" cy="1194.3" r="4.55"/><circle cx="1650.9" cy="1167.9" r="4.55"/><circle cx="1666.8" cy="1164.4" r="4.55"/><circle cx="1640.1" cy="1186.7" r="4.55"/><circle cx="1640.7" cy="1165.2" r="4.55"/><circle cx="1669.7" cy="1176.2" r="4.55"/><circle cx="1658.7" cy="1153" r="4.55"/><circle cx="1668.9" cy="1177.1" r="4.55"/><circle cx="1654" cy="1152.4" r="4.55"/><circle cx="1665.9" cy="1160.8" r="4.55"/><circle cx="1670.4" cy="1164.5" r="4.55"/><circle cx="1660.6" cy="1176.5" r="4.55"/><circle cx="1655.8" cy="1152.5" r="4.55"/><circle cx="1656" cy="1190.1" r="4.55"/><circle cx="1652.5" cy="1166.5" r="4.55"/><circle cx="1649.8" cy="1165" r="4.55"/><circle cx="1666.3" cy="1176.5" r="4.55"/><circle cx="1665.2" cy="1179.3" r="4.55"/><circle cx="1626.3" cy="1103" r="4.55"/><circle cx="1620.6" cy="1100.8" r="4.55"/><circle cx="1619.3" cy="1108.8" r="4.55"/><circle cx="1635.1" cy="1126.1" r="4.55"/><circle cx="1647.7" cy="1109.8" r="4.55"/><circle cx="1646.4" cy="1113" r="4.55"/><circle cx="1636.8" cy="1103" r="4.55"/><circle cx="1629.6" cy="1104.6" r="4.55"/><circle cx="1644.6" cy="1107.8" r="4.55"/><circle cx="1642.4" cy="1102.1" r="4.55"/><circle cx="1632.3" cy="1104.4" r="4.55"/><circle cx="1625.1" cy="1125.6" r="4.55"/><circle cx="1633.4" cy="1103" r="4.55"/><circle cx="1639.6" cy="1099.6" r="4.55"/><circle cx="1637.3" cy="1127.1" r="4.55"/><circle cx="1621.6" cy="1106.9" r="4.55"/><circle cx="1629" cy="1105.6" r="4.55"/><circle cx="1621.2" cy="1111.1" r="4.55"/><circle cx="1642" cy="1093.7" r="4.55"/><circle cx="1647.1" cy="1111.6" r="4.55"/><circle cx="1641.9" cy="1100.1" r="4.55"/><circle cx="1634.8" cy="1126.4" r="4.55"/><circle cx="1636.7" cy="1096.5" r="4.55"/><circle cx="1622.3" cy="1100.3" r="4.55"/><circle cx="1647.9" cy="1113" r="4.55"/><circle cx="1628.8" cy="1101.6" r="4.55"/><circle cx="1646.8" cy="1109.2" r="4.55"/><circle cx="1637.4" cy="1125.7" r="4.55"/><circle cx="1627.2" cy="1102.2" r="4.55"/><circle cx="1636.8" cy="1097.8" r="4.55"/><circle cx="1643.7" cy="1098.6" r="4.55"/><circle cx="1646.1" cy="1109.7" r="4.55"/><circle cx="1635.5" cy="1126.6" r="4.55"/><circle cx="1637.3" cy="1103.9" r="4.55"/><circle cx="1643.2" cy="1098.6" r="4.55"/><circle cx="1642" cy="1109.8" r="4.55"/><circle cx="1632.6" cy="1106.5" r="4.55"/><circle cx="1628.3" cy="1102" r="4.55"/><circle cx="1622.4" cy="1101.2" r="4.55"/><circle cx="1628.3" cy="1124.2" r="4.55"/><circle cx="1684.1" cy="1142.3" r="4.55"/><circle cx="1672.8" cy="1153.6" r="4.55"/><circle cx="1679" cy="1135.5" r="4.55"/><circle cx="1681.8" cy="1154.8" r="4.55"/><circle cx="1680.8" cy="1134.5" r="4.55"/><circle cx="1677.3" cy="1139.6" r="4.55"/><circle cx="1683.4" cy="1160.8" r="4.55"/><circle cx="1676.1" cy="1148.4" r="4.55"/><circle cx="1682.7" cy="1144.8" r="4.55"/><circle cx="1672" cy="1154.4" r="4.55"/><circle cx="1674.4" cy="1135.9" r="4.55"/><circle cx="1681.7" cy="1146.8" r="4.55"/><circle cx="1681.4" cy="1151.7" r="4.55"/><circle cx="1683.5" cy="1149.5" r="4.55"/><circle cx="1674.5" cy="1154.9" r="4.55"/><circle cx="1668.8" cy="1156.1" r="4.55"/><circle cx="1683.7" cy="1152.5" r="4.55"/><circle cx="1676.3" cy="1142.3" r="4.55"/><circle cx="1688.1" cy="1162.5" r="4.55"/><circle cx="1682.7" cy="1145.2" r="4.55"/><circle cx="1684.1" cy="1162.8" r="4.55"/><circle cx="1688.7" cy="1143.1" r="4.55"/><circle cx="1679.5" cy="1151.7" r="4.55"/><circle cx="1679.3" cy="1146.9" r="4.55"/><circle cx="1670.1" cy="1152" r="4.55"/><circle cx="1687.4" cy="1141.4" r="4.55"/><circle cx="1682.8" cy="1160.2" r="4.55"/><circle cx="1681.6" cy="1144.6" r="4.55"/><circle cx="1671.9" cy="1154.3" r="4.55"/><circle cx="1679.1" cy="1147.9" r="4.55"/><circle cx="1686.5" cy="1144.5" r="4.55"/><circle cx="1684" cy="1144.9" r="4.55"/><circle cx="1685.5" cy="1135.9" r="4.55"/><circle cx="1671.5" cy="1133.9" r="4.55"/><circle cx="1686.5" cy="1137.8" r="4.55"/><circle cx="1680.2" cy="1157" r="4.55"/><circle cx="1671.6" cy="1157.5" r="4.55"/><circle cx="1673.9" cy="1155" r="4.55"/><circle cx="1705.8" cy="1161.8" r="4.55"/><circle cx="1715.4" cy="1177.2" r="4.55"/><circle cx="1705.6" cy="1165.3" r="4.55"/><circle cx="1710.5" cy="1169.2" r="4.55"/><circle cx="1704.1" cy="1160.4" r="4.55"/><circle cx="1705.1" cy="1159.8" r="4.55"/><circle cx="1711.8" cy="1173.1" r="4.55"/><circle cx="1706" cy="1162.1" r="4.55"/><circle cx="1706.7" cy="1160.4" r="4.55"/><circle cx="1712.9" cy="1174.1" r="4.55"/><circle cx="1712.9" cy="1173.4" r="4.55"/><circle cx="1713" cy="1174.6" r="4.55"/><circle cx="1705.8" cy="1166" r="4.55"/><circle cx="1703" cy="1161.6" r="4.55"/><circle cx="1718.7" cy="1177.1" r="4.55"/><circle cx="1706.6" cy="1167.5" r="4.55"/><circle cx="1702.4" cy="1164.6" r="4.55"/><circle cx="1714.8" cy="1175.6" r="4.55"/><circle cx="1720.7" cy="1179.8" r="4.55"/><circle cx="1720.8" cy="1178" r="4.55"/><circle cx="1721.4" cy="1179.6" r="4.55"/><circle cx="1720.9" cy="1176.2" r="4.55"/><circle cx="1718.8" cy="1176.5" r="4.55"/><circle cx="1722.8" cy="1172.2" r="4.55"/><circle cx="1721.9" cy="1177.1" r="4.55"/><circle cx="1721.4" cy="1179.7" r="4.55"/><circle cx="1724.7" cy="1181.9" r="4.55"/><circle cx="1717.8" cy="1172.9" r="4.55"/><circle cx="1722.6" cy="1179.4" r="4.55"/><circle cx="1719.4" cy="1181.3" r="4.55"/><circle cx="1687.3" cy="1196.1" r="4.55"/><circle cx="1685.5" cy="1199.1" r="4.55"/><circle cx="1684.5" cy="1197.2" r="4.55"/><circle cx="1685.5" cy="1194.6" r="4.55"/><circle cx="1687.4" cy="1199.8" r="4.55"/><circle cx="1685.6" cy="1196.1" r="4.55"/><circle cx="1685.8" cy="1197.1" r="4.55"/><circle cx="1687" cy="1190.7" r="4.55"/><circle cx="1680.2" cy="1198.2" r="4.55"/><circle cx="1654.7" cy="1197.2" r="4.55"/><circle cx="1655.8" cy="1192.5" r="4.55"/><circle cx="1655.1" cy="1196.7" r="4.55"/><circle cx="1658.8" cy="1198.8" r="4.55"/><circle cx="1658.6" cy="1198.3" r="4.55"/><circle cx="1648.9" cy="1192.3" r="4.55"/><circle cx="1643.6" cy="1199" r="4.55"/><circle cx="1658.1" cy="1196.3" r="4.55"/><circle cx="1649.9" cy="1195.4" r="4.55"/><circle cx="1642.7" cy="1194.9" r="4.55"/><circle cx="1648.6" cy="1191.2" r="4.55"/><circle cx="1645.9" cy="1200" r="4.55"/><circle cx="1658.5" cy="1196.7" r="4.55"/><circle cx="1647.5" cy="1192.9" r="4.55"/><circle cx="1657" cy="1199.5" r="4.55"/><circle cx="1658.3" cy="1191.5" r="4.55"/><circle cx="1659.3" cy="1194.9" r="4.55"/><circle cx="1657.2" cy="1199.4" r="4.55"/><circle cx="1653.6" cy="1196.6" r="4.55"/><circle cx="1652.3" cy="1197.4" r="4.55"/><circle cx="1959.7" cy="1021.1" r="4.55"/><circle cx="1959.3" cy="1022.4" r="4.55"/><circle cx="1958.7" cy="1020.9" r="4.55"/><circle cx="1958.1" cy="1020.8" r="4.55"/><circle cx="1958" cy="1021.8" r="4.55"/><circle cx="1958.1" cy="1022.1" r="4.55"/><circle cx="1959.5" cy="1021.4" r="4.55"/></g>
</g>
<rect x="1469.6" y="856.8" width="133.0" height="93.9" rx="1" ry="1" fill="#fff" fill-opacity="0.8"/>
<rect x="1466.9" y="854.1" width="138.4" height="99.3" rx="3.5" ry="3.5" fill="none" stroke="#c8c8c8" stroke-opacity="0.85" stroke-width="5.6"/>
<circle cx="1488.3" cy="870.2" r="4.6" fill="#3f2a5c" stroke="#000" stroke-width="1.1"/>
<text x="1499.5" y="874.5" font-size="23.61" textLength="85.2" lengthAdjust="spacingAndGlyphs" fill="#000">2 weeks</text>
<circle cx="1488.3" cy="892.3" r="4.6" fill="#33689a" stroke="#000" stroke-width="1.1"/>
<text x="1500.2" y="898" font-size="23.61" textLength="84.6" lengthAdjust="spacingAndGlyphs" fill="#000">4 weeks</text>
<circle cx="1488.3" cy="914.5" r="4.6" fill="#3db27c" stroke="#000" stroke-width="1.1"/>
<text x="1499.6" y="921.4" font-size="23.61" textLength="85.1" lengthAdjust="spacingAndGlyphs" fill="#000">9 weeks</text>
<circle cx="1488.3" cy="936.6" r="4.6" fill="#f5e132" stroke="#000" stroke-width="1.1"/>
<text x="1499.7" y="944.9" font-size="23.61" textLength="96.5" lengthAdjust="spacingAndGlyphs" fill="#000">84 weeks</text>
<rect x="1459.1" y="849.4" width="535.9" height="399.2" fill="none" stroke="#000" stroke-width="3.4"/>
<path d="M1454.1 884.6H1459.1M1454.1 933.5H1459.1M1454.1 982.3H1459.1M1454.1 1031.2H1459.1M1454.1 1080.1H1459.1M1454.1 1129H1459.1M1454.1 1177.8H1459.1M1454.1 1226.7H1459.1M1473.8 1248.6V1253.8M1592.1 1248.6V1253.8M1709.8 1248.6V1253.8M1827.8 1248.6V1253.8M1946.1 1248.6V1253.8" stroke="#000" stroke-width="3" fill="none"/>
<text x="1416.8" y="894.8" font-size="31.72" textLength="33.9" lengthAdjust="spacingAndGlyphs" fill="#000">12</text>
<text x="1416.5" y="943.4" font-size="31.72" textLength="33.9" lengthAdjust="spacingAndGlyphs" fill="#000">10</text>
<text x="1433.6" y="992" font-size="31.72" textLength="17" lengthAdjust="spacingAndGlyphs" fill="#000">8</text>
<text x="1433.6" y="1040.6" font-size="31.72" textLength="17" lengthAdjust="spacingAndGlyphs" fill="#000">6</text>
<text x="1433.1" y="1089.2" font-size="31.72" textLength="17" lengthAdjust="spacingAndGlyphs" fill="#000">4</text>
<text x="1433.8" y="1137.8" font-size="31.72" textLength="17" lengthAdjust="spacingAndGlyphs" fill="#000">2</text>
<text x="1433.4" y="1186.4" font-size="31.72" textLength="17" lengthAdjust="spacingAndGlyphs" fill="#000">0</text>
<text x="1423.6" y="1235" font-size="31.72" textLength="27.1" lengthAdjust="spacingAndGlyphs" fill="#000">-2</text>
<text x="1461.4" y="1281.7" font-size="31.72" textLength="27.5" lengthAdjust="spacingAndGlyphs" fill="#000">-5</text>
<text x="1584.6" y="1281.7" font-size="31.72" textLength="17.6" lengthAdjust="spacingAndGlyphs" fill="#000">0</text>
<text x="1700.6" y="1281.7" font-size="31.72" textLength="18.8" lengthAdjust="spacingAndGlyphs" fill="#000">5</text>
<text x="1809.9" y="1281.7" font-size="31.72" textLength="33.9" lengthAdjust="spacingAndGlyphs" fill="#000">10</text>
<text x="1928.7" y="1281.7" font-size="31.72" textLength="34.1" lengthAdjust="spacingAndGlyphs" fill="#000">15</text>
<text x="1673.2" y="1320.1" font-size="31.72" textLength="105.3" lengthAdjust="spacingAndGlyphs" fill="#000">UMAP1</text>
<g transform="translate(1412 1102.0) rotate(-90)"><text x="-2.4" y="0" font-size="31.72" textLength="105.5" lengthAdjust="spacingAndGlyphs" fill="#000">UMAP2</text></g>
<text x="1604.7" y="830.4" font-size="34.84" font-weight="bold" textLength="243.7" lengthAdjust="spacingAndGlyphs" fill="#231815">Random forest</text>
<text x="0.2" y="839.8" font-size="47.42" font-weight="bold" textLength="32.9" lengthAdjust="spacingAndGlyphs" fill="#000">B</text>
<rect x="159.3" y="1439.5" width="54.8" height="472.7" fill="#2371a9"/>
<rect x="213.9" y="1483.9" width="54.8" height="428.3" fill="#ee7d22"/>
<rect x="268.4" y="1427.1" width="54.5" height="485.1" fill="#359a3c"/>
<rect x="377.3" y="1439.7" width="54.8" height="472.5" fill="#2371a9"/>
<rect x="431.9" y="1494.7" width="54.8" height="417.5" fill="#ee7d22"/>
<rect x="486.4" y="1434" width="54.5" height="478.2" fill="#359a3c"/>
<rect x="594.9" y="1439.6" width="54.8" height="472.6" fill="#2371a9"/>
<rect x="649.4" y="1490.1" width="54.8" height="422.1" fill="#ee7d22"/>
<rect x="704" y="1431.5" width="54.5" height="480.7" fill="#359a3c"/>
<path d="M129.5 1491.4H788.5M129.5 1597H788.5M129.5 1702.1H788.5M129.5 1807.6H788.5" stroke="#b4b4b4" stroke-opacity="0.75" stroke-width="3.3" stroke-dasharray="11 5.29" fill="none"/>
<rect x="129.5" y="1386.3" width="659" height="525.9" fill="none" stroke="#000" stroke-width="3.4"/>
<path d="M124.3 1386.3H129.5M124.3 1491.4H129.5M124.3 1597H129.5M124.3 1702.1H129.5M124.3 1807.6H129.5M124.3 1912.2H129.5M241.2 1912.2V1917.4M458.9 1912.2V1917.4M676.6 1912.2V1917.4" stroke="#000" stroke-width="3" fill="none"/>
<text x="103" y="1401" font-size="31.72" textLength="12.4" lengthAdjust="spacingAndGlyphs" fill="#000">1</text>
<text x="75.5" y="1506" font-size="31.72" textLength="43.7" lengthAdjust="spacingAndGlyphs" fill="#000">0.8</text>
<text x="75.5" y="1609.7" font-size="31.72" textLength="43.7" lengthAdjust="spacingAndGlyphs" fill="#000">0.6</text>
<text x="75.5" y="1714.1" font-size="31.72" textLength="43.2" lengthAdjust="spacingAndGlyphs" fill="#000">0.4</text>
<text x="75.6" y="1819.1" font-size="31.72" textLength="43.5" lengthAdjust="spacingAndGlyphs" fill="#000">0.2</text>
<text x="104.8" y="1921.7" font-size="31.72" textLength="17.6" lengthAdjust="spacingAndGlyphs" fill="#000">0</text>
<text x="160.8" y="1434.3" font-size="27.04" textLength="53.6" lengthAdjust="spacingAndGlyphs" fill="#000">0.90</text>
<text x="216.9" y="1478" font-size="27.04" textLength="49.9" lengthAdjust="spacingAndGlyphs" fill="#000">0.81</text>
<text x="268.7" y="1421.7" font-size="27.04" textLength="54.1" lengthAdjust="spacingAndGlyphs" fill="#000">0.92</text>
<text x="378.4" y="1434" font-size="27.04" textLength="53.1" lengthAdjust="spacingAndGlyphs" fill="#000">0.90</text>
<text x="432.9" y="1489" font-size="27.04" textLength="52.8" lengthAdjust="spacingAndGlyphs" fill="#000">0.79</text>
<text x="487.3" y="1428.6" font-size="27.04" textLength="52.5" lengthAdjust="spacingAndGlyphs" fill="#000">0.91</text>
<text x="595.7" y="1435" font-size="27.04" textLength="53.6" lengthAdjust="spacingAndGlyphs" fill="#000">0.90</text>
<text x="650.7" y="1484.6" font-size="27.04" textLength="52.3" lengthAdjust="spacingAndGlyphs" fill="#000">0.80</text>
<text x="705.5" y="1425.7" font-size="27.04" textLength="51.4" lengthAdjust="spacingAndGlyphs" fill="#000">0.91</text>
<text x="178.7" y="1946.1" font-size="31.72" textLength="127.3" lengthAdjust="spacingAndGlyphs" fill="#000">Precision</text>
<text x="417.2" y="1946.1" font-size="31.72" textLength="87.2" lengthAdjust="spacingAndGlyphs" fill="#000">Recall</text>
<text x="619.5" y="1946.1" font-size="31.72" textLength="121.6" lengthAdjust="spacingAndGlyphs" fill="#000">F1-score</text>
<g transform="translate(59.9 1690.3) rotate(-90)"><text x="-1.4" y="0" font-size="31.72" textLength="81.4" lengthAdjust="spacingAndGlyphs" fill="#000">Score</text></g>
<rect x="804.6" y="1565.8" width="270.4" height="150.0" rx="5" ry="5" fill="#fff" stroke="#999" stroke-width="4.6"/>
<text x="838.3" y="1603.7" font-size="30.99" textLength="142.3" lengthAdjust="spacingAndGlyphs" fill="#000">Classifiers</text>
<rect x="819.1" y="1626.7" width="39.4" height="13.7" fill="#2371a9"/>
<text x="862.8" y="1639.8" font-size="30.78" textLength="165.4" lengthAdjust="spacingAndGlyphs" fill="#000">Kernel SVM</text>
<rect x="819.1" y="1655.7" width="39.4" height="13.7" fill="#ee7d22"/>
<text x="862.7" y="1670.5" font-size="30.78" textLength="66.5" lengthAdjust="spacingAndGlyphs" fill="#000">KNN</text>
<rect x="819.1" y="1684.4" width="39.4" height="13.7" fill="#359a3c"/>
<text x="862.8" y="1701.1" font-size="30.78" textLength="202.7" lengthAdjust="spacingAndGlyphs" fill="#000">Random forest</text>
<text x="0.1" y="1362.4" font-size="47.42" font-weight="bold" textLength="32.7" lengthAdjust="spacingAndGlyphs" fill="#000">C</text>
</svg>
</body></html>
